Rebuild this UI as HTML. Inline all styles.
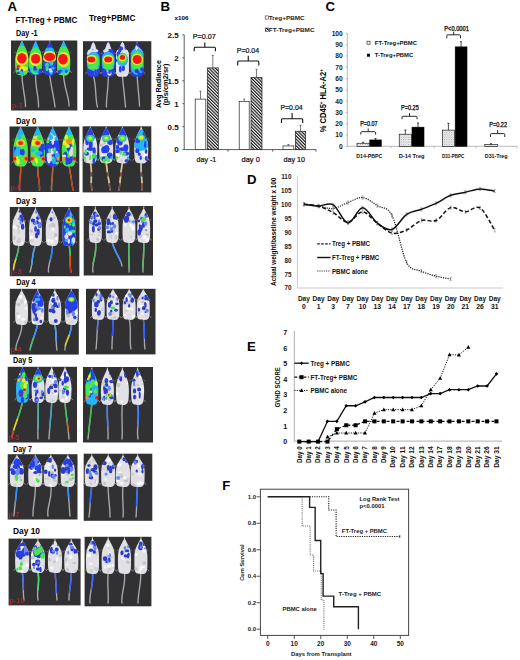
<!DOCTYPE html><html><head><meta charset="utf-8"><title>Figure</title>
<style>html,body{margin:0;padding:0;background:#fff;width:520px;height:660px;overflow:hidden}svg{display:block}text{font-family:"Liberation Sans",sans-serif}</style>
</head><body>
<svg width="520" height="660" viewBox="0 0 520 660">
<defs>
<pattern id="hatch" width="2.3" height="2.3" patternUnits="userSpaceOnUse" patternTransform="rotate(-45)"><rect width="2.3" height="2.3" fill="#fff"/><rect width="1.15" height="2.3" fill="#111"/></pattern>
<pattern id="dots" width="2.4" height="2.4" patternUnits="userSpaceOnUse"><rect width="2.4" height="2.4" fill="#f4f4f4"/><rect width="0.9" height="0.9" fill="#9a9a9a"/><rect x="1.2" y="1.2" width="0.9" height="0.9" fill="#b0b0b0"/></pattern>
<filter id="blur1" x="-50%" y="-50%" width="200%" height="200%"><feGaussianBlur stdDeviation="0.9"/></filter>
<filter id="blur2" x="-50%" y="-50%" width="200%" height="200%"><feGaussianBlur stdDeviation="1.6"/></filter>
<filter id="blur05" x="-50%" y="-50%" width="200%" height="200%"><feGaussianBlur stdDeviation="0.5"/></filter>
<filter id="blurB" x="-20%" y="-20%" width="140%" height="140%"><feGaussianBlur stdDeviation="0.35"/></filter>
</defs>
<rect width="520" height="660" fill="#fff"/>
<rect x="11.00" y="40.50" width="66.30" height="70.00" fill="#313133" stroke="none" stroke-width="1" />
<line x1="21.90" y1="41.00" x2="21.90" y2="44.50" stroke="#bdbdbd" stroke-width="1.1" />
<path d="M21.90,74.50 C22.12,86.66 25.54,97.54 25.50,106.50" stroke="#a9a9ab" stroke-width="1.35" fill="none" stroke-linecap="round"/>
<line x1="15.83" y1="70.74" x2="13.63" y2="72.74" stroke="#8a8a8a" stroke-width="0.9" />
<line x1="15.96" y1="51.70" x2="14.46" y2="52.90" stroke="#777" stroke-width="0.8" />
<line x1="27.97" y1="70.74" x2="30.17" y2="72.74" stroke="#8a8a8a" stroke-width="0.9" />
<line x1="27.84" y1="51.70" x2="29.34" y2="52.90" stroke="#777" stroke-width="0.8" />
<clipPath id="m1"><path d="M21.90,41.50 C22.23,41.50 22.54,42.24 22.89,42.86 C23.24,43.48 23.57,44.33 24.01,45.24 C24.45,46.15 25.00,47.11 25.53,48.30 C26.06,49.49 26.73,50.91 27.18,52.38 C27.63,53.85 28.02,55.55 28.24,57.14 C28.46,58.73 28.49,60.20 28.50,61.90 C28.51,63.60 28.43,65.64 28.30,67.34 C28.17,69.04 28.11,70.85 27.71,72.10 C27.30,73.35 26.61,74.25 25.86,74.82 C25.11,75.39 24.54,75.50 23.22,75.50 C21.90,75.50 19.13,75.39 17.94,74.82 C16.75,74.25 16.50,73.35 16.09,72.10 C15.68,70.85 15.63,69.04 15.50,67.34 C15.37,65.64 15.29,63.60 15.30,61.90 C15.31,60.20 15.34,58.73 15.56,57.14 C15.78,55.55 16.17,53.85 16.62,52.38 C17.07,50.91 17.74,49.49 18.27,48.30 C18.80,47.11 19.35,46.15 19.79,45.24 C20.23,44.33 20.56,43.48 20.91,42.86 C21.26,42.24 21.57,41.50 21.90,41.50 Z"/></clipPath>
<g filter="url(#blurB)"><path d="M21.90,41.50 C22.23,41.50 22.54,42.24 22.89,42.86 C23.24,43.48 23.57,44.33 24.01,45.24 C24.45,46.15 25.00,47.11 25.53,48.30 C26.06,49.49 26.73,50.91 27.18,52.38 C27.63,53.85 28.02,55.55 28.24,57.14 C28.46,58.73 28.49,60.20 28.50,61.90 C28.51,63.60 28.43,65.64 28.30,67.34 C28.17,69.04 28.11,70.85 27.71,72.10 C27.30,73.35 26.61,74.25 25.86,74.82 C25.11,75.39 24.54,75.50 23.22,75.50 C21.90,75.50 19.13,75.39 17.94,74.82 C16.75,74.25 16.50,73.35 16.09,72.10 C15.68,70.85 15.63,69.04 15.50,67.34 C15.37,65.64 15.29,63.60 15.30,61.90 C15.31,60.20 15.34,58.73 15.56,57.14 C15.78,55.55 16.17,53.85 16.62,52.38 C17.07,50.91 17.74,49.49 18.27,48.30 C18.80,47.11 19.35,46.15 19.79,45.24 C20.23,44.33 20.56,43.48 20.91,42.86 C21.26,42.24 21.57,41.50 21.90,41.50 Z" fill="#48e848"/>
<g clip-path="url(#m1)"><g filter="url(#blur05)">
<ellipse cx="21.90" cy="45.58" rx="3.96" ry="4.76" fill="#28b4f4"/>
<ellipse cx="21.90" cy="61.22" rx="8.58" ry="15.30" fill="#48e848"/>
<ellipse cx="21.90" cy="58.50" rx="6.47" ry="7.14" fill="#ecec28"/>
<ellipse cx="21.90" cy="58.16" rx="4.75" ry="5.27" fill="#f41818"/>
<ellipse cx="21.90" cy="68.70" rx="5.94" ry="2.72" fill="#ecec28"/>
<ellipse cx="18.27" cy="66.32" rx="2.31" ry="1.87" fill="#f88c18"/>
<ellipse cx="18.27" cy="66.32" rx="1.32" ry="1.19" fill="#f41818"/>
<ellipse cx="18.28" cy="73.02" rx="1.47" ry="1.29" fill="#2540f0"/>
<ellipse cx="21.85" cy="70.99" rx="1.36" ry="2.08" fill="#2540f0"/>
<ellipse cx="17.88" cy="68.84" rx="1.55" ry="1.55" fill="#2540f0"/>
<ellipse cx="21.43" cy="72.87" rx="1.64" ry="1.60" fill="#28b4f4"/>
<ellipse cx="21.98" cy="73.00" rx="0.90" ry="1.67" fill="#28b4f4"/>
<ellipse cx="23.19" cy="73.90" rx="0.81" ry="1.36" fill="#28b4f4"/>
</g></g></g>
<line x1="35.60" y1="41.00" x2="35.60" y2="44.50" stroke="#bdbdbd" stroke-width="1.1" />
<path d="M35.60,74.50 C34.93,86.85 39.21,97.90 38.50,107.00" stroke="#a9a9ab" stroke-width="1.35" fill="none" stroke-linecap="round"/>
<line x1="29.53" y1="70.74" x2="27.33" y2="72.74" stroke="#8a8a8a" stroke-width="0.9" />
<line x1="29.66" y1="51.70" x2="28.16" y2="52.90" stroke="#777" stroke-width="0.8" />
<line x1="41.67" y1="70.74" x2="43.87" y2="72.74" stroke="#8a8a8a" stroke-width="0.9" />
<line x1="41.54" y1="51.70" x2="43.04" y2="52.90" stroke="#777" stroke-width="0.8" />
<clipPath id="m2"><path d="M35.60,41.50 C35.93,41.50 36.24,42.24 36.59,42.86 C36.94,43.48 37.27,44.33 37.71,45.24 C38.15,46.15 38.70,47.11 39.23,48.30 C39.76,49.49 40.43,50.91 40.88,52.38 C41.33,53.85 41.72,55.55 41.94,57.14 C42.16,58.73 42.19,60.20 42.20,61.90 C42.21,63.60 42.13,65.64 42.00,67.34 C41.87,69.04 41.81,70.85 41.41,72.10 C41.00,73.35 40.31,74.25 39.56,74.82 C38.81,75.39 38.24,75.50 36.92,75.50 C35.60,75.50 32.83,75.39 31.64,74.82 C30.45,74.25 30.20,73.35 29.79,72.10 C29.39,70.85 29.33,69.04 29.20,67.34 C29.07,65.64 28.99,63.60 29.00,61.90 C29.01,60.20 29.04,58.73 29.26,57.14 C29.48,55.55 29.87,53.85 30.32,52.38 C30.77,50.91 31.44,49.49 31.97,48.30 C32.50,47.11 33.05,46.15 33.49,45.24 C33.93,44.33 34.26,43.48 34.61,42.86 C34.96,42.24 35.27,41.50 35.60,41.50 Z"/></clipPath>
<g filter="url(#blurB)"><path d="M35.60,41.50 C35.93,41.50 36.24,42.24 36.59,42.86 C36.94,43.48 37.27,44.33 37.71,45.24 C38.15,46.15 38.70,47.11 39.23,48.30 C39.76,49.49 40.43,50.91 40.88,52.38 C41.33,53.85 41.72,55.55 41.94,57.14 C42.16,58.73 42.19,60.20 42.20,61.90 C42.21,63.60 42.13,65.64 42.00,67.34 C41.87,69.04 41.81,70.85 41.41,72.10 C41.00,73.35 40.31,74.25 39.56,74.82 C38.81,75.39 38.24,75.50 36.92,75.50 C35.60,75.50 32.83,75.39 31.64,74.82 C30.45,74.25 30.20,73.35 29.79,72.10 C29.39,70.85 29.33,69.04 29.20,67.34 C29.07,65.64 28.99,63.60 29.00,61.90 C29.01,60.20 29.04,58.73 29.26,57.14 C29.48,55.55 29.87,53.85 30.32,52.38 C30.77,50.91 31.44,49.49 31.97,48.30 C32.50,47.11 33.05,46.15 33.49,45.24 C33.93,44.33 34.26,43.48 34.61,42.86 C34.96,42.24 35.27,41.50 35.60,41.50 Z" fill="#2540f0"/>
<g clip-path="url(#m2)"><g filter="url(#blur05)">
<ellipse cx="35.60" cy="45.58" rx="3.96" ry="4.76" fill="#28b4f4"/>
<ellipse cx="35.60" cy="61.22" rx="7.59" ry="13.60" fill="#48e848"/>
<ellipse cx="35.60" cy="59.18" rx="6.27" ry="6.80" fill="#ecec28"/>
<ellipse cx="35.60" cy="58.84" rx="4.62" ry="4.93" fill="#f41818"/>
<ellipse cx="40.11" cy="73.36" rx="0.90" ry="1.22" fill="#2540f0"/>
<ellipse cx="38.92" cy="71.56" rx="1.61" ry="1.60" fill="#2540f0"/>
<ellipse cx="36.65" cy="70.46" rx="1.51" ry="1.34" fill="#2540f0"/>
<ellipse cx="34.91" cy="68.65" rx="1.67" ry="2.78" fill="#2540f0"/>
<ellipse cx="40.05" cy="69.93" rx="1.35" ry="1.53" fill="#2540f0"/>
<ellipse cx="35.35" cy="71.47" rx="1.38" ry="1.13" fill="#28b4f4"/>
<ellipse cx="30.76" cy="69.55" rx="0.99" ry="2.11" fill="#28b4f4"/>
<ellipse cx="37.49" cy="71.09" rx="1.27" ry="1.89" fill="#28b4f4"/>
</g></g></g>
<line x1="49.60" y1="41.00" x2="49.60" y2="44.50" stroke="#bdbdbd" stroke-width="1.1" />
<path d="M49.60,74.50 C51.18,86.85 54.06,97.90 55.00,107.00" stroke="#a9a9ab" stroke-width="1.35" fill="none" stroke-linecap="round"/>
<line x1="43.53" y1="70.74" x2="41.33" y2="72.74" stroke="#8a8a8a" stroke-width="0.9" />
<line x1="43.66" y1="51.70" x2="42.16" y2="52.90" stroke="#777" stroke-width="0.8" />
<line x1="55.67" y1="70.74" x2="57.87" y2="72.74" stroke="#8a8a8a" stroke-width="0.9" />
<line x1="55.54" y1="51.70" x2="57.04" y2="52.90" stroke="#777" stroke-width="0.8" />
<clipPath id="m3"><path d="M49.60,41.50 C49.93,41.50 50.24,42.24 50.59,42.86 C50.94,43.48 51.27,44.33 51.71,45.24 C52.15,46.15 52.70,47.11 53.23,48.30 C53.76,49.49 54.43,50.91 54.88,52.38 C55.33,53.85 55.72,55.55 55.94,57.14 C56.16,58.73 56.19,60.20 56.20,61.90 C56.21,63.60 56.13,65.64 56.00,67.34 C55.87,69.04 55.81,70.85 55.41,72.10 C55.00,73.35 54.31,74.25 53.56,74.82 C52.81,75.39 52.24,75.50 50.92,75.50 C49.60,75.50 46.83,75.39 45.64,74.82 C44.45,74.25 44.20,73.35 43.79,72.10 C43.39,70.85 43.33,69.04 43.20,67.34 C43.07,65.64 42.99,63.60 43.00,61.90 C43.01,60.20 43.04,58.73 43.26,57.14 C43.48,55.55 43.87,53.85 44.32,52.38 C44.77,50.91 45.44,49.49 45.97,48.30 C46.50,47.11 47.05,46.15 47.49,45.24 C47.93,44.33 48.26,43.48 48.61,42.86 C48.96,42.24 49.27,41.50 49.60,41.50 Z"/></clipPath>
<g filter="url(#blurB)"><path d="M49.60,41.50 C49.93,41.50 50.24,42.24 50.59,42.86 C50.94,43.48 51.27,44.33 51.71,45.24 C52.15,46.15 52.70,47.11 53.23,48.30 C53.76,49.49 54.43,50.91 54.88,52.38 C55.33,53.85 55.72,55.55 55.94,57.14 C56.16,58.73 56.19,60.20 56.20,61.90 C56.21,63.60 56.13,65.64 56.00,67.34 C55.87,69.04 55.81,70.85 55.41,72.10 C55.00,73.35 54.31,74.25 53.56,74.82 C52.81,75.39 52.24,75.50 50.92,75.50 C49.60,75.50 46.83,75.39 45.64,74.82 C44.45,74.25 44.20,73.35 43.79,72.10 C43.39,70.85 43.33,69.04 43.20,67.34 C43.07,65.64 42.99,63.60 43.00,61.90 C43.01,60.20 43.04,58.73 43.26,57.14 C43.48,55.55 43.87,53.85 44.32,52.38 C44.77,50.91 45.44,49.49 45.97,48.30 C46.50,47.11 47.05,46.15 47.49,45.24 C47.93,44.33 48.26,43.48 48.61,42.86 C48.96,42.24 49.27,41.50 49.60,41.50 Z" fill="#2540f0"/>
<g clip-path="url(#m3)"><g filter="url(#blur05)">
<ellipse cx="49.60" cy="51.70" rx="5.94" ry="4.08" fill="#28b4f4"/>
<ellipse cx="49.60" cy="56.80" rx="7.26" ry="5.78" fill="#ecec28"/>
<ellipse cx="49.60" cy="56.80" rx="5.61" ry="4.08" fill="#f41818"/>
<ellipse cx="47.01" cy="68.69" rx="1.44" ry="2.41" fill="#28b4f4"/>
<ellipse cx="50.84" cy="63.32" rx="0.97" ry="2.86" fill="#28b4f4"/>
<ellipse cx="47.22" cy="65.21" rx="2.28" ry="2.14" fill="#28b4f4"/>
<ellipse cx="52.93" cy="67.92" rx="1.80" ry="1.52" fill="#28b4f4"/>
<ellipse cx="50.94" cy="72.32" rx="1.65" ry="2.68" fill="#28b4f4"/>
<ellipse cx="51.30" cy="63.30" rx="1.96" ry="2.38" fill="#28b4f4"/>
<ellipse cx="47.21" cy="68.89" rx="1.40" ry="2.17" fill="#48e848"/>
<ellipse cx="46.49" cy="64.25" rx="0.86" ry="1.25" fill="#48e848"/>
<ellipse cx="51.92" cy="63.23" rx="1.24" ry="1.23" fill="#48e848"/>
<ellipse cx="50.30" cy="69.60" rx="1.53" ry="1.33" fill="#e0e0e5"/>
<ellipse cx="51.10" cy="71.36" rx="1.62" ry="1.19" fill="#e0e0e5"/>
</g></g></g>
<line x1="63.60" y1="41.00" x2="63.60" y2="44.50" stroke="#bdbdbd" stroke-width="1.1" />
<path d="M63.60,74.50 C63.57,86.47 69.35,97.18 69.00,106.00" stroke="#a9a9ab" stroke-width="1.35" fill="none" stroke-linecap="round"/>
<line x1="57.53" y1="70.74" x2="55.33" y2="72.74" stroke="#8a8a8a" stroke-width="0.9" />
<line x1="57.66" y1="51.70" x2="56.16" y2="52.90" stroke="#777" stroke-width="0.8" />
<line x1="69.67" y1="70.74" x2="71.87" y2="72.74" stroke="#8a8a8a" stroke-width="0.9" />
<line x1="69.54" y1="51.70" x2="71.04" y2="52.90" stroke="#777" stroke-width="0.8" />
<clipPath id="m4"><path d="M63.60,41.50 C63.93,41.50 64.24,42.24 64.59,42.86 C64.94,43.48 65.27,44.33 65.71,45.24 C66.15,46.15 66.70,47.11 67.23,48.30 C67.76,49.49 68.43,50.91 68.88,52.38 C69.33,53.85 69.72,55.55 69.94,57.14 C70.16,58.73 70.19,60.20 70.20,61.90 C70.21,63.60 70.13,65.64 70.00,67.34 C69.87,69.04 69.81,70.85 69.41,72.10 C69.00,73.35 68.31,74.25 67.56,74.82 C66.81,75.39 66.24,75.50 64.92,75.50 C63.60,75.50 60.83,75.39 59.64,74.82 C58.45,74.25 58.20,73.35 57.79,72.10 C57.39,70.85 57.33,69.04 57.20,67.34 C57.07,65.64 56.99,63.60 57.00,61.90 C57.01,60.20 57.04,58.73 57.26,57.14 C57.48,55.55 57.87,53.85 58.32,52.38 C58.77,50.91 59.44,49.49 59.97,48.30 C60.50,47.11 61.05,46.15 61.49,45.24 C61.93,44.33 62.26,43.48 62.61,42.86 C62.96,42.24 63.27,41.50 63.60,41.50 Z"/></clipPath>
<g filter="url(#blurB)"><path d="M63.60,41.50 C63.93,41.50 64.24,42.24 64.59,42.86 C64.94,43.48 65.27,44.33 65.71,45.24 C66.15,46.15 66.70,47.11 67.23,48.30 C67.76,49.49 68.43,50.91 68.88,52.38 C69.33,53.85 69.72,55.55 69.94,57.14 C70.16,58.73 70.19,60.20 70.20,61.90 C70.21,63.60 70.13,65.64 70.00,67.34 C69.87,69.04 69.81,70.85 69.41,72.10 C69.00,73.35 68.31,74.25 67.56,74.82 C66.81,75.39 66.24,75.50 64.92,75.50 C63.60,75.50 60.83,75.39 59.64,74.82 C58.45,74.25 58.20,73.35 57.79,72.10 C57.39,70.85 57.33,69.04 57.20,67.34 C57.07,65.64 56.99,63.60 57.00,61.90 C57.01,60.20 57.04,58.73 57.26,57.14 C57.48,55.55 57.87,53.85 58.32,52.38 C58.77,50.91 59.44,49.49 59.97,48.30 C60.50,47.11 61.05,46.15 61.49,45.24 C61.93,44.33 62.26,43.48 62.61,42.86 C62.96,42.24 63.27,41.50 63.60,41.50 Z" fill="#28b4f4"/>
<g clip-path="url(#m4)"><g filter="url(#blur05)">
<ellipse cx="63.60" cy="46.60" rx="3.63" ry="4.76" fill="#28b4f4"/>
<ellipse cx="63.60" cy="61.90" rx="8.58" ry="15.30" fill="#48e848"/>
<ellipse cx="63.60" cy="59.52" rx="6.27" ry="7.48" fill="#ecec28"/>
<ellipse cx="62.94" cy="59.18" rx="4.75" ry="5.44" fill="#f41818"/>
<ellipse cx="63.60" cy="70.40" rx="5.28" ry="2.38" fill="#28b4f4"/>
<ellipse cx="60.99" cy="70.86" rx="1.11" ry="1.15" fill="#2540f0"/>
<ellipse cx="59.31" cy="72.18" rx="1.63" ry="2.09" fill="#2540f0"/>
<ellipse cx="66.23" cy="71.38" rx="1.25" ry="1.32" fill="#2540f0"/>
</g></g></g>
<text x="12.00" y="108.00" font-size="7.5" fill="#d83030" opacity="0.85">p-1</text>
<rect x="83.00" y="41.20" width="68.30" height="68.80" fill="#313133" stroke="none" stroke-width="1" />
<line x1="93.30" y1="41.70" x2="93.30" y2="45.50" stroke="#bdbdbd" stroke-width="1.1" />
<path d="M93.30,75.50 C96.84,87.47 94.92,98.18 97.50,107.00" stroke="#a9a9ab" stroke-width="1.35" fill="none" stroke-linecap="round"/>
<line x1="87.41" y1="71.74" x2="85.21" y2="73.74" stroke="#8a8a8a" stroke-width="0.9" />
<line x1="87.54" y1="52.70" x2="86.04" y2="53.90" stroke="#777" stroke-width="0.8" />
<line x1="99.19" y1="71.74" x2="101.39" y2="73.74" stroke="#8a8a8a" stroke-width="0.9" />
<line x1="99.06" y1="52.70" x2="100.56" y2="53.90" stroke="#777" stroke-width="0.8" />
<clipPath id="m5"><path d="M93.30,42.50 C93.73,42.50 94.21,43.18 94.58,43.86 C94.95,44.54 95.22,45.73 95.54,46.58 C95.86,47.43 95.97,48.28 96.50,48.96 C97.03,49.64 98.23,49.81 98.74,50.66 C99.25,51.51 99.41,52.59 99.57,54.06 C99.73,55.53 99.68,57.01 99.70,59.50 C99.72,61.99 99.76,66.64 99.70,69.02 C99.64,71.40 99.68,72.59 99.32,73.78 C98.95,74.97 98.31,75.71 97.52,76.16 C96.73,76.61 95.99,76.50 94.58,76.50 C93.17,76.50 90.29,76.61 89.08,76.16 C87.86,75.71 87.65,74.97 87.28,73.78 C86.92,72.59 86.96,71.40 86.90,69.02 C86.84,66.64 86.88,61.99 86.90,59.50 C86.92,57.01 86.87,55.53 87.03,54.06 C87.19,52.59 87.35,51.51 87.86,50.66 C88.37,49.81 89.57,49.64 90.10,48.96 C90.63,48.28 90.74,47.43 91.06,46.58 C91.38,45.73 91.65,44.54 92.02,43.86 C92.39,43.18 92.87,42.50 93.30,42.50 Z"/></clipPath>
<g filter="url(#blurB)"><path d="M93.30,42.50 C93.73,42.50 94.21,43.18 94.58,43.86 C94.95,44.54 95.22,45.73 95.54,46.58 C95.86,47.43 95.97,48.28 96.50,48.96 C97.03,49.64 98.23,49.81 98.74,50.66 C99.25,51.51 99.41,52.59 99.57,54.06 C99.73,55.53 99.68,57.01 99.70,59.50 C99.72,61.99 99.76,66.64 99.70,69.02 C99.64,71.40 99.68,72.59 99.32,73.78 C98.95,74.97 98.31,75.71 97.52,76.16 C96.73,76.61 95.99,76.50 94.58,76.50 C93.17,76.50 90.29,76.61 89.08,76.16 C87.86,75.71 87.65,74.97 87.28,73.78 C86.92,72.59 86.96,71.40 86.90,69.02 C86.84,66.64 86.88,61.99 86.90,59.50 C86.92,57.01 86.87,55.53 87.03,54.06 C87.19,52.59 87.35,51.51 87.86,50.66 C88.37,49.81 89.57,49.64 90.10,48.96 C90.63,48.28 90.74,47.43 91.06,46.58 C91.38,45.73 91.65,44.54 92.02,43.86 C92.39,43.18 92.87,42.50 93.30,42.50 Z" fill="#2540f0"/>
<g clip-path="url(#m5)"><g filter="url(#blur05)">
<ellipse cx="93.30" cy="45.90" rx="5.12" ry="3.40" fill="#e0e0e5"/>
<ellipse cx="94.48" cy="67.34" rx="2.43" ry="3.84" fill="#e0e0e5"/>
<ellipse cx="95.60" cy="72.56" rx="1.20" ry="2.67" fill="#e0e0e5"/>
<ellipse cx="97.56" cy="64.66" rx="2.60" ry="1.81" fill="#e0e0e5"/>
<ellipse cx="93.00" cy="53.03" rx="2.03" ry="2.94" fill="#e0e0e5"/>
<ellipse cx="88.63" cy="52.16" rx="1.60" ry="3.77" fill="#e0e0e5"/>
<ellipse cx="95.85" cy="50.51" rx="2.44" ry="1.87" fill="#e0e0e5"/>
<ellipse cx="94.43" cy="49.56" rx="1.15" ry="3.66" fill="#e0e0e5"/>
<ellipse cx="90.51" cy="52.13" rx="2.74" ry="3.67" fill="#e0e0e5"/>
<ellipse cx="93.30" cy="61.20" rx="7.04" ry="9.52" fill="#28b4f4"/>
<ellipse cx="93.30" cy="61.20" rx="6.08" ry="6.80" fill="#48e848"/>
<ellipse cx="91.38" cy="59.50" rx="5.25" ry="4.42" fill="#ecec28"/>
<ellipse cx="91.38" cy="59.50" rx="3.97" ry="3.06" fill="#f41818"/>
<ellipse cx="93.30" cy="67.66" rx="5.76" ry="1.70" fill="#48e848"/>
<ellipse cx="96.12" cy="74.33" rx="1.35" ry="1.52" fill="#2540f0"/>
<ellipse cx="88.50" cy="73.30" rx="1.34" ry="2.37" fill="#2540f0"/>
<ellipse cx="92.08" cy="74.00" rx="1.11" ry="2.45" fill="#2540f0"/>
<ellipse cx="95.51" cy="71.69" rx="1.41" ry="2.24" fill="#2540f0"/>
<ellipse cx="90.35" cy="72.60" rx="1.72" ry="1.53" fill="#2540f0"/>
</g></g></g>
<line x1="108.20" y1="41.70" x2="108.20" y2="45.50" stroke="#bdbdbd" stroke-width="1.1" />
<path d="M108.20,75.50 C108.74,87.47 105.96,98.18 106.50,107.00" stroke="#a9a9ab" stroke-width="1.35" fill="none" stroke-linecap="round"/>
<line x1="102.31" y1="71.74" x2="100.11" y2="73.74" stroke="#8a8a8a" stroke-width="0.9" />
<line x1="102.44" y1="52.70" x2="100.94" y2="53.90" stroke="#777" stroke-width="0.8" />
<line x1="114.09" y1="71.74" x2="116.29" y2="73.74" stroke="#8a8a8a" stroke-width="0.9" />
<line x1="113.96" y1="52.70" x2="115.46" y2="53.90" stroke="#777" stroke-width="0.8" />
<clipPath id="m6"><path d="M108.20,42.50 C108.63,42.50 109.11,43.18 109.48,43.86 C109.85,44.54 110.12,45.73 110.44,46.58 C110.76,47.43 110.87,48.28 111.40,48.96 C111.93,49.64 113.13,49.81 113.64,50.66 C114.15,51.51 114.31,52.59 114.47,54.06 C114.63,55.53 114.58,57.01 114.60,59.50 C114.62,61.99 114.66,66.64 114.60,69.02 C114.54,71.40 114.58,72.59 114.22,73.78 C113.85,74.97 113.21,75.71 112.42,76.16 C111.63,76.61 110.89,76.50 109.48,76.50 C108.07,76.50 105.19,76.61 103.98,76.16 C102.76,75.71 102.55,74.97 102.18,73.78 C101.82,72.59 101.86,71.40 101.80,69.02 C101.74,66.64 101.78,61.99 101.80,59.50 C101.82,57.01 101.77,55.53 101.93,54.06 C102.09,52.59 102.25,51.51 102.76,50.66 C103.27,49.81 104.47,49.64 105.00,48.96 C105.53,48.28 105.64,47.43 105.96,46.58 C106.28,45.73 106.55,44.54 106.92,43.86 C107.29,43.18 107.77,42.50 108.20,42.50 Z"/></clipPath>
<g filter="url(#blurB)"><path d="M108.20,42.50 C108.63,42.50 109.11,43.18 109.48,43.86 C109.85,44.54 110.12,45.73 110.44,46.58 C110.76,47.43 110.87,48.28 111.40,48.96 C111.93,49.64 113.13,49.81 113.64,50.66 C114.15,51.51 114.31,52.59 114.47,54.06 C114.63,55.53 114.58,57.01 114.60,59.50 C114.62,61.99 114.66,66.64 114.60,69.02 C114.54,71.40 114.58,72.59 114.22,73.78 C113.85,74.97 113.21,75.71 112.42,76.16 C111.63,76.61 110.89,76.50 109.48,76.50 C108.07,76.50 105.19,76.61 103.98,76.16 C102.76,75.71 102.55,74.97 102.18,73.78 C101.82,72.59 101.86,71.40 101.80,69.02 C101.74,66.64 101.78,61.99 101.80,59.50 C101.82,57.01 101.77,55.53 101.93,54.06 C102.09,52.59 102.25,51.51 102.76,50.66 C103.27,49.81 104.47,49.64 105.00,48.96 C105.53,48.28 105.64,47.43 105.96,46.58 C106.28,45.73 106.55,44.54 106.92,43.86 C107.29,43.18 107.77,42.50 108.20,42.50 Z" fill="#2540f0"/>
<g clip-path="url(#m6)"><g filter="url(#blur05)">
<ellipse cx="108.20" cy="45.90" rx="5.12" ry="3.40" fill="#e0e0e5"/>
<ellipse cx="106.51" cy="50.26" rx="2.20" ry="1.71" fill="#e0e0e5"/>
<ellipse cx="108.54" cy="56.47" rx="1.25" ry="2.77" fill="#e0e0e5"/>
<ellipse cx="103.76" cy="58.43" rx="1.26" ry="1.75" fill="#e0e0e5"/>
<ellipse cx="107.48" cy="69.80" rx="1.35" ry="2.08" fill="#e0e0e5"/>
<ellipse cx="109.42" cy="73.29" rx="2.08" ry="2.50" fill="#e0e0e5"/>
<ellipse cx="112.77" cy="47.25" rx="2.54" ry="2.24" fill="#e0e0e5"/>
<ellipse cx="104.78" cy="49.30" rx="1.65" ry="3.53" fill="#e0e0e5"/>
<ellipse cx="105.13" cy="62.71" rx="2.18" ry="2.44" fill="#e0e0e5"/>
<ellipse cx="108.20" cy="61.20" rx="7.04" ry="9.52" fill="#28b4f4"/>
<ellipse cx="108.20" cy="61.20" rx="6.08" ry="6.80" fill="#48e848"/>
<ellipse cx="108.20" cy="59.50" rx="5.25" ry="4.42" fill="#ecec28"/>
<ellipse cx="108.20" cy="59.50" rx="3.97" ry="3.06" fill="#f41818"/>
<ellipse cx="108.20" cy="67.66" rx="5.76" ry="1.70" fill="#48e848"/>
<ellipse cx="105.58" cy="75.24" rx="0.95" ry="2.28" fill="#2540f0"/>
<ellipse cx="104.22" cy="70.62" rx="1.93" ry="1.43" fill="#2540f0"/>
<ellipse cx="109.56" cy="71.99" rx="1.32" ry="1.92" fill="#2540f0"/>
<ellipse cx="105.25" cy="74.39" rx="0.91" ry="1.47" fill="#2540f0"/>
<ellipse cx="103.59" cy="70.74" rx="1.27" ry="2.62" fill="#2540f0"/>
</g></g></g>
<line x1="122.40" y1="41.70" x2="122.40" y2="45.50" stroke="#bdbdbd" stroke-width="1.1" />
<path d="M122.40,75.50 C123.35,87.47 124.93,98.18 125.50,107.00" stroke="#a9a9ab" stroke-width="1.35" fill="none" stroke-linecap="round"/>
<line x1="116.51" y1="71.74" x2="114.31" y2="73.74" stroke="#8a8a8a" stroke-width="0.9" />
<line x1="116.64" y1="52.70" x2="115.14" y2="53.90" stroke="#777" stroke-width="0.8" />
<line x1="128.29" y1="71.74" x2="130.49" y2="73.74" stroke="#8a8a8a" stroke-width="0.9" />
<line x1="128.16" y1="52.70" x2="129.66" y2="53.90" stroke="#777" stroke-width="0.8" />
<clipPath id="m7"><path d="M122.40,42.50 C122.83,42.50 123.31,43.18 123.68,43.86 C124.05,44.54 124.32,45.73 124.64,46.58 C124.96,47.43 125.07,48.28 125.60,48.96 C126.13,49.64 127.33,49.81 127.84,50.66 C128.35,51.51 128.51,52.59 128.67,54.06 C128.83,55.53 128.78,57.01 128.80,59.50 C128.82,61.99 128.86,66.64 128.80,69.02 C128.74,71.40 128.78,72.59 128.42,73.78 C128.05,74.97 127.41,75.71 126.62,76.16 C125.83,76.61 125.09,76.50 123.68,76.50 C122.27,76.50 119.39,76.61 118.18,76.16 C116.96,75.71 116.75,74.97 116.38,73.78 C116.02,72.59 116.06,71.40 116.00,69.02 C115.94,66.64 115.98,61.99 116.00,59.50 C116.02,57.01 115.97,55.53 116.13,54.06 C116.29,52.59 116.45,51.51 116.96,50.66 C117.47,49.81 118.67,49.64 119.20,48.96 C119.73,48.28 119.84,47.43 120.16,46.58 C120.48,45.73 120.75,44.54 121.12,43.86 C121.49,43.18 121.97,42.50 122.40,42.50 Z"/></clipPath>
<g filter="url(#blurB)"><path d="M122.40,42.50 C122.83,42.50 123.31,43.18 123.68,43.86 C124.05,44.54 124.32,45.73 124.64,46.58 C124.96,47.43 125.07,48.28 125.60,48.96 C126.13,49.64 127.33,49.81 127.84,50.66 C128.35,51.51 128.51,52.59 128.67,54.06 C128.83,55.53 128.78,57.01 128.80,59.50 C128.82,61.99 128.86,66.64 128.80,69.02 C128.74,71.40 128.78,72.59 128.42,73.78 C128.05,74.97 127.41,75.71 126.62,76.16 C125.83,76.61 125.09,76.50 123.68,76.50 C122.27,76.50 119.39,76.61 118.18,76.16 C116.96,75.71 116.75,74.97 116.38,73.78 C116.02,72.59 116.06,71.40 116.00,69.02 C115.94,66.64 115.98,61.99 116.00,59.50 C116.02,57.01 115.97,55.53 116.13,54.06 C116.29,52.59 116.45,51.51 116.96,50.66 C117.47,49.81 118.67,49.64 119.20,48.96 C119.73,48.28 119.84,47.43 120.16,46.58 C120.48,45.73 120.75,44.54 121.12,43.86 C121.49,43.18 121.97,42.50 122.40,42.50 Z" fill="#e0e0e5"/>
<g clip-path="url(#m7)"><g filter="url(#blur05)">
<ellipse cx="127.30" cy="47.48" rx="1.89" ry="1.68" fill="#d0d0d0"/>
<ellipse cx="121.45" cy="72.47" rx="1.16" ry="2.37" fill="#fafafa"/>
<ellipse cx="125.78" cy="73.80" rx="1.52" ry="1.02" fill="#fafafa"/>
<ellipse cx="121.76" cy="52.76" rx="1.16" ry="1.68" fill="#d0d0d0"/>
<ellipse cx="122.28" cy="60.32" rx="1.12" ry="1.07" fill="#fafafa"/>
<ellipse cx="126.98" cy="62.54" rx="1.82" ry="2.22" fill="#f6f6f6"/>
<ellipse cx="118.74" cy="60.94" rx="1.64" ry="1.26" fill="#c4c4c4"/>
<ellipse cx="120.58" cy="68.66" rx="1.50" ry="1.79" fill="#fafafa"/>
<ellipse cx="123.41" cy="51.73" rx="1.22" ry="2.00" fill="#fafafa"/>
<ellipse cx="121.96" cy="50.86" rx="1.12" ry="1.26" fill="#f6f6f6"/>
<ellipse cx="122.40" cy="59.50" rx="8.32" ry="20.40" fill="#e0e0e5"/>
<ellipse cx="122.04" cy="56.69" rx="1.24" ry="3.29" fill="#2540f0"/>
<ellipse cx="117.66" cy="60.43" rx="2.34" ry="1.56" fill="#2540f0"/>
<ellipse cx="122.92" cy="63.72" rx="1.10" ry="2.21" fill="#2540f0"/>
<ellipse cx="124.35" cy="58.96" rx="2.09" ry="1.72" fill="#2540f0"/>
<ellipse cx="119.88" cy="49.11" rx="1.77" ry="3.41" fill="#2540f0"/>
<ellipse cx="123.27" cy="68.27" rx="1.59" ry="3.02" fill="#2540f0"/>
<ellipse cx="118.58" cy="54.32" rx="2.02" ry="2.98" fill="#2540f0"/>
<ellipse cx="121.65" cy="48.43" rx="1.42" ry="1.84" fill="#2540f0"/>
<ellipse cx="120.30" cy="69.29" rx="1.33" ry="3.33" fill="#2540f0"/>
<ellipse cx="126.04" cy="47.48" rx="1.59" ry="2.46" fill="#2540f0"/>
<ellipse cx="122.40" cy="59.50" rx="5.76" ry="6.80" fill="#28b4f4"/>
<ellipse cx="122.40" cy="58.48" rx="4.80" ry="4.76" fill="#48e848"/>
<ellipse cx="122.40" cy="57.80" rx="3.84" ry="3.40" fill="#ecec28"/>
<ellipse cx="122.40" cy="57.46" rx="2.69" ry="2.38" fill="#f41818"/>
</g></g></g>
<line x1="137.20" y1="41.70" x2="137.20" y2="45.50" stroke="#bdbdbd" stroke-width="1.1" />
<path d="M137.20,75.50 C137.59,87.09 139.33,97.46 139.50,106.00" stroke="#a9a9ab" stroke-width="1.35" fill="none" stroke-linecap="round"/>
<line x1="131.31" y1="71.74" x2="129.11" y2="73.74" stroke="#8a8a8a" stroke-width="0.9" />
<line x1="131.44" y1="52.70" x2="129.94" y2="53.90" stroke="#777" stroke-width="0.8" />
<line x1="143.09" y1="71.74" x2="145.29" y2="73.74" stroke="#8a8a8a" stroke-width="0.9" />
<line x1="142.96" y1="52.70" x2="144.46" y2="53.90" stroke="#777" stroke-width="0.8" />
<clipPath id="m8"><path d="M137.20,42.50 C137.63,42.50 138.11,43.18 138.48,43.86 C138.85,44.54 139.12,45.73 139.44,46.58 C139.76,47.43 139.87,48.28 140.40,48.96 C140.93,49.64 142.13,49.81 142.64,50.66 C143.15,51.51 143.31,52.59 143.47,54.06 C143.63,55.53 143.58,57.01 143.60,59.50 C143.62,61.99 143.66,66.64 143.60,69.02 C143.54,71.40 143.58,72.59 143.22,73.78 C142.85,74.97 142.21,75.71 141.42,76.16 C140.63,76.61 139.89,76.50 138.48,76.50 C137.07,76.50 134.19,76.61 132.98,76.16 C131.76,75.71 131.55,74.97 131.18,73.78 C130.82,72.59 130.86,71.40 130.80,69.02 C130.74,66.64 130.78,61.99 130.80,59.50 C130.82,57.01 130.77,55.53 130.93,54.06 C131.09,52.59 131.25,51.51 131.76,50.66 C132.27,49.81 133.47,49.64 134.00,48.96 C134.53,48.28 134.64,47.43 134.96,46.58 C135.28,45.73 135.55,44.54 135.92,43.86 C136.29,43.18 136.77,42.50 137.20,42.50 Z"/></clipPath>
<g filter="url(#blurB)"><path d="M137.20,42.50 C137.63,42.50 138.11,43.18 138.48,43.86 C138.85,44.54 139.12,45.73 139.44,46.58 C139.76,47.43 139.87,48.28 140.40,48.96 C140.93,49.64 142.13,49.81 142.64,50.66 C143.15,51.51 143.31,52.59 143.47,54.06 C143.63,55.53 143.58,57.01 143.60,59.50 C143.62,61.99 143.66,66.64 143.60,69.02 C143.54,71.40 143.58,72.59 143.22,73.78 C142.85,74.97 142.21,75.71 141.42,76.16 C140.63,76.61 139.89,76.50 138.48,76.50 C137.07,76.50 134.19,76.61 132.98,76.16 C131.76,75.71 131.55,74.97 131.18,73.78 C130.82,72.59 130.86,71.40 130.80,69.02 C130.74,66.64 130.78,61.99 130.80,59.50 C130.82,57.01 130.77,55.53 130.93,54.06 C131.09,52.59 131.25,51.51 131.76,50.66 C132.27,49.81 133.47,49.64 134.00,48.96 C134.53,48.28 134.64,47.43 134.96,46.58 C135.28,45.73 135.55,44.54 135.92,43.86 C136.29,43.18 136.77,42.50 137.20,42.50 Z" fill="#2540f0"/>
<g clip-path="url(#m8)"><g filter="url(#blur05)">
<ellipse cx="137.20" cy="61.20" rx="8.32" ry="13.60" fill="#28b4f4"/>
<ellipse cx="137.20" cy="61.20" rx="6.40" ry="10.20" fill="#48e848"/>
<ellipse cx="137.20" cy="59.50" rx="5.76" ry="5.78" fill="#ecec28"/>
<ellipse cx="137.20" cy="59.50" rx="4.61" ry="4.42" fill="#f41818"/>
<ellipse cx="137.89" cy="71.79" rx="1.46" ry="1.42" fill="#2540f0"/>
<ellipse cx="140.21" cy="74.34" rx="1.54" ry="1.35" fill="#2540f0"/>
<ellipse cx="137.40" cy="71.14" rx="1.09" ry="2.70" fill="#2540f0"/>
<ellipse cx="141.97" cy="69.31" rx="1.78" ry="2.10" fill="#2540f0"/>
<ellipse cx="136.06" cy="70.85" rx="1.57" ry="1.85" fill="#2540f0"/>
<ellipse cx="138.98" cy="73.30" rx="0.96" ry="2.39" fill="#2540f0"/>
<ellipse cx="141.37" cy="48.54" rx="1.98" ry="1.71" fill="#e0e0e5"/>
<ellipse cx="137.03" cy="47.76" rx="1.62" ry="1.37" fill="#e0e0e5"/>
<ellipse cx="136.40" cy="48.05" rx="0.97" ry="2.82" fill="#e0e0e5"/>
</g></g></g>
<rect x="9.50" y="126.50" width="69.80" height="65.50" fill="#313133" stroke="none" stroke-width="1" />
<line x1="20.60" y1="127.00" x2="20.60" y2="130.50" stroke="#bdbdbd" stroke-width="1.1" />
<path d="M20.60,165.50 C21.32,174.81 18.85,183.14 19.50,190.00" stroke="#a9a9ab" stroke-width="1.3" fill="none" stroke-linecap="round"/>
<polyline points="20.60,165.50 20.72,167.81 20.73,170.07 20.64,172.29 20.49,174.47 20.30,176.59 20.08,178.67" fill="none" stroke="#c8501c" stroke-width="1.5" stroke-linecap="round"/>
<polyline points="20.08,178.67 19.86,180.69 19.66,182.67 19.50,184.59 19.41,186.45 19.40,188.25 19.50,190.00" fill="none" stroke="#b84018" stroke-width="1.5" stroke-linecap="round"/>
<line x1="13.93" y1="161.04" x2="11.73" y2="163.04" stroke="#8a8a8a" stroke-width="0.9" />
<line x1="14.08" y1="139.20" x2="12.58" y2="140.40" stroke="#777" stroke-width="0.8" />
<line x1="27.27" y1="161.04" x2="29.47" y2="163.04" stroke="#8a8a8a" stroke-width="0.9" />
<line x1="27.12" y1="139.20" x2="28.62" y2="140.40" stroke="#777" stroke-width="0.8" />
<clipPath id="m9"><path d="M20.60,127.50 C20.96,127.50 21.30,128.34 21.69,129.06 C22.07,129.78 22.44,130.75 22.92,131.79 C23.40,132.83 24.01,133.94 24.59,135.30 C25.17,136.67 25.90,138.29 26.40,139.98 C26.90,141.67 27.32,143.62 27.56,145.44 C27.80,147.26 27.84,148.95 27.85,150.90 C27.86,152.85 27.78,155.19 27.63,157.14 C27.49,159.09 27.43,161.17 26.98,162.60 C26.53,164.03 25.77,165.07 24.95,165.72 C24.13,166.37 23.50,166.50 22.05,166.50 C20.60,166.50 17.55,166.37 16.25,165.72 C14.95,165.07 14.67,164.03 14.22,162.60 C13.77,161.17 13.71,159.09 13.57,157.14 C13.42,155.19 13.34,152.85 13.35,150.90 C13.36,148.95 13.40,147.26 13.64,145.44 C13.88,143.62 14.30,141.67 14.80,139.98 C15.30,138.29 16.03,136.67 16.61,135.30 C17.19,133.94 17.80,132.83 18.28,131.79 C18.76,130.75 19.13,129.78 19.51,129.06 C19.90,128.34 20.24,127.50 20.60,127.50 Z"/></clipPath>
<g filter="url(#blurB)"><path d="M20.60,127.50 C20.96,127.50 21.30,128.34 21.69,129.06 C22.07,129.78 22.44,130.75 22.92,131.79 C23.40,132.83 24.01,133.94 24.59,135.30 C25.17,136.67 25.90,138.29 26.40,139.98 C26.90,141.67 27.32,143.62 27.56,145.44 C27.80,147.26 27.84,148.95 27.85,150.90 C27.86,152.85 27.78,155.19 27.63,157.14 C27.49,159.09 27.43,161.17 26.98,162.60 C26.53,164.03 25.77,165.07 24.95,165.72 C24.13,166.37 23.50,166.50 22.05,166.50 C20.60,166.50 17.55,166.37 16.25,165.72 C14.95,165.07 14.67,164.03 14.22,162.60 C13.77,161.17 13.71,159.09 13.57,157.14 C13.42,155.19 13.34,152.85 13.35,150.90 C13.36,148.95 13.40,147.26 13.64,145.44 C13.88,143.62 14.30,141.67 14.80,139.98 C15.30,138.29 16.03,136.67 16.61,135.30 C17.19,133.94 17.80,132.83 18.28,131.79 C18.76,130.75 19.13,129.78 19.51,129.06 C19.90,128.34 20.24,127.50 20.60,127.50 Z" fill="#48e848"/>
<g clip-path="url(#m9)"><g filter="url(#blur05)">
<ellipse cx="20.60" cy="131.40" rx="3.62" ry="3.90" fill="#28b4f4"/>
<ellipse cx="20.08" cy="140.99" rx="2.10" ry="2.14" fill="#ecec28"/>
<ellipse cx="20.69" cy="141.37" rx="1.15" ry="2.23" fill="#ecec28"/>
<ellipse cx="22.01" cy="144.17" rx="1.03" ry="1.82" fill="#ecec28"/>
<ellipse cx="19.09" cy="137.02" rx="1.65" ry="2.41" fill="#28b4f4"/>
<ellipse cx="19.62" cy="139.10" rx="1.42" ry="2.83" fill="#28b4f4"/>
<ellipse cx="15.27" cy="134.93" rx="1.53" ry="1.72" fill="#28b4f4"/>
<ellipse cx="20.60" cy="143.10" rx="4.35" ry="3.51" fill="#ecec28"/>
<ellipse cx="20.60" cy="143.10" rx="3.26" ry="2.73" fill="#f88c18"/>
<ellipse cx="20.60" cy="143.10" rx="2.17" ry="1.95" fill="#f41818"/>
<ellipse cx="20.32" cy="152.64" rx="2.27" ry="1.94" fill="#2540f0"/>
<ellipse cx="15.28" cy="150.22" rx="1.63" ry="3.63" fill="#2540f0"/>
<ellipse cx="22.67" cy="152.16" rx="2.09" ry="3.25" fill="#2540f0"/>
<ellipse cx="16.74" cy="150.78" rx="1.44" ry="3.87" fill="#2540f0"/>
<ellipse cx="15.80" cy="154.03" rx="1.30" ry="3.32" fill="#2540f0"/>
<ellipse cx="18.83" cy="150.47" rx="2.56" ry="1.63" fill="#2540f0"/>
<ellipse cx="16.32" cy="153.03" rx="2.00" ry="3.52" fill="#28b4f4"/>
<ellipse cx="18.11" cy="149.19" rx="2.12" ry="2.88" fill="#28b4f4"/>
<ellipse cx="18.46" cy="152.87" rx="1.62" ry="3.15" fill="#28b4f4"/>
<ellipse cx="14.80" cy="158.70" rx="2.75" ry="2.73" fill="#f88c18"/>
<ellipse cx="14.80" cy="158.70" rx="1.74" ry="1.75" fill="#f41818"/>
<ellipse cx="26.40" cy="158.70" rx="2.75" ry="2.73" fill="#f88c18"/>
<ellipse cx="26.40" cy="158.70" rx="1.74" ry="1.75" fill="#f41818"/>
<ellipse cx="17.98" cy="161.73" rx="1.79" ry="2.90" fill="#ecec28"/>
<ellipse cx="17.18" cy="157.65" rx="1.10" ry="1.67" fill="#ecec28"/>
</g></g></g>
<line x1="37.70" y1="127.00" x2="37.70" y2="130.50" stroke="#bdbdbd" stroke-width="1.1" />
<path d="M37.70,165.50 C37.31,174.81 39.92,183.14 39.50,190.00" stroke="#a9a9ab" stroke-width="1.3" fill="none" stroke-linecap="round"/>
<polyline points="37.70,165.50 37.66,167.81 37.73,170.07 37.87,172.29 38.09,174.47 38.34,176.59 38.61,178.67" fill="none" stroke="#c8501c" stroke-width="1.5" stroke-linecap="round"/>
<polyline points="38.61,178.67 38.88,180.69 39.13,182.67 39.34,184.59 39.49,186.45 39.55,188.25 39.50,190.00" fill="none" stroke="#b84018" stroke-width="1.5" stroke-linecap="round"/>
<line x1="31.03" y1="161.04" x2="28.83" y2="163.04" stroke="#8a8a8a" stroke-width="0.9" />
<line x1="31.18" y1="139.20" x2="29.68" y2="140.40" stroke="#777" stroke-width="0.8" />
<line x1="44.37" y1="161.04" x2="46.57" y2="163.04" stroke="#8a8a8a" stroke-width="0.9" />
<line x1="44.23" y1="139.20" x2="45.73" y2="140.40" stroke="#777" stroke-width="0.8" />
<clipPath id="m10"><path d="M37.70,127.50 C38.06,127.50 38.40,128.34 38.79,129.06 C39.17,129.78 39.54,130.75 40.02,131.79 C40.50,132.83 41.11,133.94 41.69,135.30 C42.27,136.67 43.00,138.29 43.50,139.98 C44.00,141.67 44.42,143.62 44.66,145.44 C44.90,147.26 44.94,148.95 44.95,150.90 C44.96,152.85 44.88,155.19 44.73,157.14 C44.59,159.09 44.53,161.17 44.08,162.60 C43.63,164.03 42.87,165.07 42.05,165.72 C41.23,166.37 40.60,166.50 39.15,166.50 C37.70,166.50 34.66,166.37 33.35,165.72 C32.05,165.07 31.77,164.03 31.32,162.60 C30.87,161.17 30.81,159.09 30.67,157.14 C30.52,155.19 30.44,152.85 30.45,150.90 C30.46,148.95 30.50,147.26 30.74,145.44 C30.98,143.62 31.40,141.67 31.90,139.98 C32.40,138.29 33.13,136.67 33.71,135.30 C34.29,133.94 34.90,132.83 35.38,131.79 C35.86,130.75 36.23,129.78 36.61,129.06 C37.00,128.34 37.34,127.50 37.70,127.50 Z"/></clipPath>
<g filter="url(#blurB)"><path d="M37.70,127.50 C38.06,127.50 38.40,128.34 38.79,129.06 C39.17,129.78 39.54,130.75 40.02,131.79 C40.50,132.83 41.11,133.94 41.69,135.30 C42.27,136.67 43.00,138.29 43.50,139.98 C44.00,141.67 44.42,143.62 44.66,145.44 C44.90,147.26 44.94,148.95 44.95,150.90 C44.96,152.85 44.88,155.19 44.73,157.14 C44.59,159.09 44.53,161.17 44.08,162.60 C43.63,164.03 42.87,165.07 42.05,165.72 C41.23,166.37 40.60,166.50 39.15,166.50 C37.70,166.50 34.66,166.37 33.35,165.72 C32.05,165.07 31.77,164.03 31.32,162.60 C30.87,161.17 30.81,159.09 30.67,157.14 C30.52,155.19 30.44,152.85 30.45,150.90 C30.46,148.95 30.50,147.26 30.74,145.44 C30.98,143.62 31.40,141.67 31.90,139.98 C32.40,138.29 33.13,136.67 33.71,135.30 C34.29,133.94 34.90,132.83 35.38,131.79 C35.86,130.75 36.23,129.78 36.61,129.06 C37.00,128.34 37.34,127.50 37.70,127.50 Z" fill="#48e848"/>
<g clip-path="url(#m10)"><g filter="url(#blur05)">
<ellipse cx="37.70" cy="131.40" rx="3.62" ry="3.90" fill="#28b4f4"/>
<ellipse cx="33.42" cy="142.94" rx="1.75" ry="3.08" fill="#ecec28"/>
<ellipse cx="35.21" cy="136.84" rx="1.85" ry="2.52" fill="#ecec28"/>
<ellipse cx="35.56" cy="142.69" rx="1.42" ry="2.76" fill="#ecec28"/>
<ellipse cx="39.63" cy="140.58" rx="1.80" ry="2.55" fill="#28b4f4"/>
<ellipse cx="36.54" cy="143.06" rx="1.47" ry="1.74" fill="#28b4f4"/>
<ellipse cx="35.10" cy="134.45" rx="1.52" ry="2.01" fill="#28b4f4"/>
<ellipse cx="37.70" cy="143.10" rx="4.35" ry="3.51" fill="#ecec28"/>
<ellipse cx="37.70" cy="143.10" rx="3.26" ry="2.73" fill="#f88c18"/>
<ellipse cx="37.70" cy="143.10" rx="2.17" ry="1.95" fill="#f41818"/>
<ellipse cx="42.76" cy="147.10" rx="2.38" ry="1.98" fill="#2540f0"/>
<ellipse cx="42.99" cy="147.14" rx="2.62" ry="3.30" fill="#2540f0"/>
<ellipse cx="41.59" cy="155.58" rx="1.57" ry="2.43" fill="#2540f0"/>
<ellipse cx="39.96" cy="149.41" rx="1.61" ry="2.16" fill="#2540f0"/>
<ellipse cx="41.59" cy="154.50" rx="2.49" ry="2.14" fill="#2540f0"/>
<ellipse cx="42.32" cy="151.39" rx="1.55" ry="2.73" fill="#2540f0"/>
<ellipse cx="37.94" cy="153.92" rx="2.45" ry="2.05" fill="#28b4f4"/>
<ellipse cx="40.59" cy="153.04" rx="2.01" ry="1.65" fill="#28b4f4"/>
<ellipse cx="32.56" cy="150.30" rx="2.13" ry="1.97" fill="#28b4f4"/>
<ellipse cx="31.90" cy="158.70" rx="2.75" ry="2.73" fill="#f88c18"/>
<ellipse cx="31.90" cy="158.70" rx="1.74" ry="1.75" fill="#f41818"/>
<ellipse cx="43.50" cy="158.70" rx="2.75" ry="2.73" fill="#f88c18"/>
<ellipse cx="43.50" cy="158.70" rx="1.74" ry="1.75" fill="#f41818"/>
<ellipse cx="36.19" cy="159.89" rx="1.45" ry="2.11" fill="#ecec28"/>
<ellipse cx="36.72" cy="161.48" rx="1.24" ry="2.48" fill="#ecec28"/>
</g></g></g>
<line x1="52.70" y1="127.00" x2="52.70" y2="130.50" stroke="#bdbdbd" stroke-width="1.1" />
<path d="M52.70,165.50 C52.94,174.81 51.24,183.14 51.50,190.00" stroke="#a9a9ab" stroke-width="1.3" fill="none" stroke-linecap="round"/>
<polyline points="52.70,165.50 52.67,170.07 52.44,174.47 52.09,178.67 51.75,182.67 51.51,186.45 51.50,190.00" fill="none" stroke="#b06030" stroke-width="1.5" stroke-linecap="round"/>
<line x1="46.03" y1="161.04" x2="43.83" y2="163.04" stroke="#8a8a8a" stroke-width="0.9" />
<line x1="46.18" y1="139.20" x2="44.68" y2="140.40" stroke="#777" stroke-width="0.8" />
<line x1="59.37" y1="161.04" x2="61.57" y2="163.04" stroke="#8a8a8a" stroke-width="0.9" />
<line x1="59.23" y1="139.20" x2="60.73" y2="140.40" stroke="#777" stroke-width="0.8" />
<clipPath id="m11"><path d="M52.70,127.50 C53.06,127.50 53.40,128.34 53.79,129.06 C54.17,129.78 54.54,130.75 55.02,131.79 C55.50,132.83 56.11,133.94 56.69,135.30 C57.27,136.67 58.00,138.29 58.50,139.98 C59.00,141.67 59.42,143.62 59.66,145.44 C59.90,147.26 59.94,148.95 59.95,150.90 C59.96,152.85 59.88,155.19 59.73,157.14 C59.59,159.09 59.53,161.17 59.08,162.60 C58.63,164.03 57.87,165.07 57.05,165.72 C56.23,166.37 55.60,166.50 54.15,166.50 C52.70,166.50 49.66,166.37 48.35,165.72 C47.05,165.07 46.77,164.03 46.32,162.60 C45.87,161.17 45.81,159.09 45.67,157.14 C45.52,155.19 45.44,152.85 45.45,150.90 C45.46,148.95 45.50,147.26 45.74,145.44 C45.98,143.62 46.40,141.67 46.90,139.98 C47.40,138.29 48.13,136.67 48.71,135.30 C49.29,133.94 49.90,132.83 50.38,131.79 C50.86,130.75 51.23,129.78 51.61,129.06 C52.00,128.34 52.34,127.50 52.70,127.50 Z"/></clipPath>
<g filter="url(#blurB)"><path d="M52.70,127.50 C53.06,127.50 53.40,128.34 53.79,129.06 C54.17,129.78 54.54,130.75 55.02,131.79 C55.50,132.83 56.11,133.94 56.69,135.30 C57.27,136.67 58.00,138.29 58.50,139.98 C59.00,141.67 59.42,143.62 59.66,145.44 C59.90,147.26 59.94,148.95 59.95,150.90 C59.96,152.85 59.88,155.19 59.73,157.14 C59.59,159.09 59.53,161.17 59.08,162.60 C58.63,164.03 57.87,165.07 57.05,165.72 C56.23,166.37 55.60,166.50 54.15,166.50 C52.70,166.50 49.66,166.37 48.35,165.72 C47.05,165.07 46.77,164.03 46.32,162.60 C45.87,161.17 45.81,159.09 45.67,157.14 C45.52,155.19 45.44,152.85 45.45,150.90 C45.46,148.95 45.50,147.26 45.74,145.44 C45.98,143.62 46.40,141.67 46.90,139.98 C47.40,138.29 48.13,136.67 48.71,135.30 C49.29,133.94 49.90,132.83 50.38,131.79 C50.86,130.75 51.23,129.78 51.61,129.06 C52.00,128.34 52.34,127.50 52.70,127.50 Z" fill="#2540f0"/>
<g clip-path="url(#m11)"><g filter="url(#blur05)">
<ellipse cx="52.70" cy="132.18" rx="3.62" ry="3.90" fill="#28b4f4"/>
<ellipse cx="49.06" cy="155.48" rx="2.47" ry="3.10" fill="#e0e0e5"/>
<ellipse cx="49.61" cy="158.48" rx="2.78" ry="3.19" fill="#e0e0e5"/>
<ellipse cx="52.76" cy="142.20" rx="1.31" ry="2.80" fill="#e0e0e5"/>
<ellipse cx="53.63" cy="137.33" rx="2.76" ry="2.41" fill="#e0e0e5"/>
<ellipse cx="49.79" cy="136.54" rx="3.13" ry="3.83" fill="#e0e0e5"/>
<ellipse cx="56.78" cy="153.31" rx="1.37" ry="2.68" fill="#e0e0e5"/>
<ellipse cx="52.67" cy="138.69" rx="3.04" ry="2.79" fill="#e0e0e5"/>
<ellipse cx="48.95" cy="159.21" rx="1.53" ry="4.36" fill="#e0e0e5"/>
<ellipse cx="52.19" cy="151.45" rx="1.93" ry="3.12" fill="#e0e0e5"/>
<ellipse cx="49.30" cy="136.39" rx="2.89" ry="2.41" fill="#e0e0e5"/>
<ellipse cx="57.68" cy="135.78" rx="1.08" ry="3.65" fill="#28b4f4"/>
<ellipse cx="49.27" cy="135.16" rx="2.00" ry="2.18" fill="#28b4f4"/>
<ellipse cx="56.94" cy="138.63" rx="2.45" ry="2.12" fill="#28b4f4"/>
<ellipse cx="53.80" cy="160.48" rx="2.05" ry="3.48" fill="#28b4f4"/>
<ellipse cx="54.96" cy="132.91" rx="2.33" ry="2.73" fill="#28b4f4"/>
<ellipse cx="50.64" cy="137.33" rx="2.29" ry="2.71" fill="#28b4f4"/>
<ellipse cx="57.46" cy="155.55" rx="2.45" ry="2.68" fill="#28b4f4"/>
<ellipse cx="54.86" cy="150.50" rx="1.42" ry="3.55" fill="#28b4f4"/>
<ellipse cx="57.32" cy="163.25" rx="2.05" ry="1.39" fill="#48e848"/>
<ellipse cx="53.70" cy="149.94" rx="1.59" ry="1.48" fill="#48e848"/>
<ellipse cx="49.35" cy="150.47" rx="1.20" ry="2.12" fill="#48e848"/>
<ellipse cx="47.53" cy="141.37" rx="1.82" ry="2.06" fill="#48e848"/>
<ellipse cx="52.84" cy="157.81" rx="1.37" ry="1.34" fill="#48e848"/>
<ellipse cx="58.50" cy="158.70" rx="2.17" ry="1.95" fill="#f88c18"/>
</g></g></g>
<line x1="69.00" y1="127.00" x2="69.00" y2="130.50" stroke="#bdbdbd" stroke-width="1.1" />
<path d="M69.00,165.50 C70.78,174.81 71.82,183.14 73.00,190.00" stroke="#a9a9ab" stroke-width="1.3" fill="none" stroke-linecap="round"/>
<polyline points="69.00,165.50 69.43,167.81 69.83,170.07 70.21,172.29 70.57,174.47 70.90,176.59 71.22,178.67" fill="none" stroke="#c8501c" stroke-width="1.5" stroke-linecap="round"/>
<polyline points="71.22,178.67 71.53,180.69 71.83,182.67 72.13,184.59 72.42,186.45 72.71,188.25 73.00,190.00" fill="none" stroke="#b84018" stroke-width="1.5" stroke-linecap="round"/>
<line x1="62.33" y1="161.04" x2="60.13" y2="163.04" stroke="#8a8a8a" stroke-width="0.9" />
<line x1="62.48" y1="139.20" x2="60.98" y2="140.40" stroke="#777" stroke-width="0.8" />
<line x1="75.67" y1="161.04" x2="77.87" y2="163.04" stroke="#8a8a8a" stroke-width="0.9" />
<line x1="75.53" y1="139.20" x2="77.03" y2="140.40" stroke="#777" stroke-width="0.8" />
<clipPath id="m12"><path d="M69.00,127.50 C69.36,127.50 69.70,128.34 70.09,129.06 C70.47,129.78 70.84,130.75 71.32,131.79 C71.80,132.83 72.41,133.94 72.99,135.30 C73.57,136.67 74.30,138.29 74.80,139.98 C75.30,141.67 75.72,143.62 75.96,145.44 C76.20,147.26 76.24,148.95 76.25,150.90 C76.26,152.85 76.18,155.19 76.03,157.14 C75.89,159.09 75.83,161.17 75.38,162.60 C74.93,164.03 74.17,165.07 73.35,165.72 C72.53,166.37 71.90,166.50 70.45,166.50 C69.00,166.50 65.96,166.37 64.65,165.72 C63.35,165.07 63.07,164.03 62.62,162.60 C62.17,161.17 62.11,159.09 61.97,157.14 C61.82,155.19 61.74,152.85 61.75,150.90 C61.76,148.95 61.80,147.26 62.04,145.44 C62.28,143.62 62.70,141.67 63.20,139.98 C63.70,138.29 64.43,136.67 65.01,135.30 C65.59,133.94 66.20,132.83 66.68,131.79 C67.16,130.75 67.53,129.78 67.91,129.06 C68.30,128.34 68.64,127.50 69.00,127.50 Z"/></clipPath>
<g filter="url(#blurB)"><path d="M69.00,127.50 C69.36,127.50 69.70,128.34 70.09,129.06 C70.47,129.78 70.84,130.75 71.32,131.79 C71.80,132.83 72.41,133.94 72.99,135.30 C73.57,136.67 74.30,138.29 74.80,139.98 C75.30,141.67 75.72,143.62 75.96,145.44 C76.20,147.26 76.24,148.95 76.25,150.90 C76.26,152.85 76.18,155.19 76.03,157.14 C75.89,159.09 75.83,161.17 75.38,162.60 C74.93,164.03 74.17,165.07 73.35,165.72 C72.53,166.37 71.90,166.50 70.45,166.50 C69.00,166.50 65.96,166.37 64.65,165.72 C63.35,165.07 63.07,164.03 62.62,162.60 C62.17,161.17 62.11,159.09 61.97,157.14 C61.82,155.19 61.74,152.85 61.75,150.90 C61.76,148.95 61.80,147.26 62.04,145.44 C62.28,143.62 62.70,141.67 63.20,139.98 C63.70,138.29 64.43,136.67 65.01,135.30 C65.59,133.94 66.20,132.83 66.68,131.79 C67.16,130.75 67.53,129.78 67.91,129.06 C68.30,128.34 68.64,127.50 69.00,127.50 Z" fill="#48e848"/>
<g clip-path="url(#m12)"><g filter="url(#blur05)">
<ellipse cx="69.00" cy="131.40" rx="3.62" ry="3.90" fill="#28b4f4"/>
<ellipse cx="71.31" cy="158.85" rx="1.47" ry="4.10" fill="#2540f0"/>
<ellipse cx="65.67" cy="154.90" rx="1.33" ry="3.49" fill="#2540f0"/>
<ellipse cx="65.21" cy="155.73" rx="2.37" ry="3.52" fill="#2540f0"/>
<ellipse cx="68.36" cy="159.46" rx="2.80" ry="1.87" fill="#2540f0"/>
<ellipse cx="69.18" cy="161.62" rx="2.39" ry="2.70" fill="#2540f0"/>
<ellipse cx="66.88" cy="161.50" rx="1.31" ry="3.50" fill="#2540f0"/>
<ellipse cx="72.73" cy="142.89" rx="1.71" ry="2.35" fill="#2540f0"/>
<ellipse cx="69.46" cy="147.79" rx="2.64" ry="3.92" fill="#2540f0"/>
<ellipse cx="67.66" cy="146.00" rx="2.28" ry="1.88" fill="#ecec28"/>
<ellipse cx="73.04" cy="142.04" rx="1.11" ry="3.54" fill="#ecec28"/>
<ellipse cx="66.34" cy="137.53" rx="1.66" ry="2.73" fill="#ecec28"/>
<ellipse cx="64.92" cy="142.72" rx="2.26" ry="2.55" fill="#ecec28"/>
<ellipse cx="72.20" cy="141.88" rx="2.25" ry="1.81" fill="#ecec28"/>
<ellipse cx="71.69" cy="149.37" rx="1.34" ry="2.75" fill="#e0e0e5"/>
<ellipse cx="64.18" cy="156.08" rx="2.16" ry="1.50" fill="#e0e0e5"/>
<ellipse cx="70.99" cy="152.88" rx="1.97" ry="3.55" fill="#e0e0e5"/>
<ellipse cx="69.00" cy="141.15" rx="2.90" ry="2.34" fill="#f88c18"/>
<ellipse cx="63.20" cy="158.70" rx="2.17" ry="1.95" fill="#f88c18"/>
<ellipse cx="74.80" cy="158.70" rx="2.17" ry="1.95" fill="#f41818"/>
</g></g></g>
<text x="10.50" y="189.50" font-size="7.5" fill="#d83030" opacity="0.85">p-0</text>
<rect x="82.60" y="126.30" width="68.70" height="66.10" fill="#313133" stroke="none" stroke-width="1" />
<line x1="90.30" y1="126.80" x2="90.30" y2="130.50" stroke="#bdbdbd" stroke-width="1.1" />
<path d="M90.30,162.50 C92.88,172.95 90.04,182.30 92.00,190.00" stroke="#a9a9ab" stroke-width="1.4" fill="none" stroke-linecap="round"/>
<polyline points="90.65,164.06 90.88,165.35 91.07,166.62 91.21,167.88 91.32,169.13 91.39,170.37 91.43,171.59" fill="none" stroke="#d8c880" stroke-width="1.5999999999999999" stroke-linecap="round"/>
<polyline points="91.45,173.04 91.45,173.52 91.45,174.00 91.45,174.48 91.44,174.95 91.43,175.42 91.42,175.89" fill="none" stroke="#9a4030" stroke-width="1.5999999999999999" stroke-linecap="round"/>
<polyline points="91.38,177.28 91.35,178.20 91.32,179.11 91.30,180.00 91.28,180.89 91.26,181.77 91.26,182.64" fill="none" stroke="#d8c880" stroke-width="1.5999999999999999" stroke-linecap="round"/>
<polyline points="91.27,183.92 91.30,184.77 91.34,185.60 91.41,186.43 91.49,187.24 91.60,188.04 91.74,188.83" fill="none" stroke="#9a4030" stroke-width="1.5999999999999999" stroke-linecap="round"/>
<line x1="83.86" y1="158.46" x2="81.66" y2="160.46" stroke="#8a8a8a" stroke-width="0.9" />
<line x1="84.00" y1="138.30" x2="82.50" y2="139.50" stroke="#777" stroke-width="0.8" />
<line x1="96.74" y1="158.46" x2="98.94" y2="160.46" stroke="#8a8a8a" stroke-width="0.9" />
<line x1="96.60" y1="138.30" x2="98.10" y2="139.50" stroke="#777" stroke-width="0.8" />
<clipPath id="m13"><path d="M90.30,127.50 C90.65,127.50 90.98,128.28 91.35,128.94 C91.72,129.60 92.07,130.50 92.54,131.46 C93.01,132.42 93.59,133.44 94.15,134.70 C94.71,135.96 95.42,137.46 95.90,139.02 C96.38,140.58 96.79,142.38 97.02,144.06 C97.25,145.74 97.29,147.30 97.30,149.10 C97.31,150.90 97.23,153.06 97.09,154.86 C96.95,156.66 96.89,158.58 96.46,159.90 C96.03,161.22 95.29,162.18 94.50,162.78 C93.71,163.38 93.10,163.50 91.70,163.50 C90.30,163.50 87.36,163.38 86.10,162.78 C84.84,162.18 84.57,161.22 84.14,159.90 C83.71,158.58 83.65,156.66 83.51,154.86 C83.37,153.06 83.29,150.90 83.30,149.10 C83.31,147.30 83.35,145.74 83.58,144.06 C83.81,142.38 84.22,140.58 84.70,139.02 C85.18,137.46 85.89,135.96 86.45,134.70 C87.01,133.44 87.59,132.42 88.06,131.46 C88.53,130.50 88.88,129.60 89.25,128.94 C89.62,128.28 89.95,127.50 90.30,127.50 Z"/></clipPath>
<g filter="url(#blurB)"><path d="M90.30,127.50 C90.65,127.50 90.98,128.28 91.35,128.94 C91.72,129.60 92.07,130.50 92.54,131.46 C93.01,132.42 93.59,133.44 94.15,134.70 C94.71,135.96 95.42,137.46 95.90,139.02 C96.38,140.58 96.79,142.38 97.02,144.06 C97.25,145.74 97.29,147.30 97.30,149.10 C97.31,150.90 97.23,153.06 97.09,154.86 C96.95,156.66 96.89,158.58 96.46,159.90 C96.03,161.22 95.29,162.18 94.50,162.78 C93.71,163.38 93.10,163.50 91.70,163.50 C90.30,163.50 87.36,163.38 86.10,162.78 C84.84,162.18 84.57,161.22 84.14,159.90 C83.71,158.58 83.65,156.66 83.51,154.86 C83.37,153.06 83.29,150.90 83.30,149.10 C83.31,147.30 83.35,145.74 83.58,144.06 C83.81,142.38 84.22,140.58 84.70,139.02 C85.18,137.46 85.89,135.96 86.45,134.70 C87.01,133.44 87.59,132.42 88.06,131.46 C88.53,130.50 88.88,129.60 89.25,128.94 C89.62,128.28 89.95,127.50 90.30,127.50 Z" fill="#e0e0e5"/>
<g clip-path="url(#m13)"><g filter="url(#blur05)">
<ellipse cx="90.82" cy="134.90" rx="1.44" ry="1.70" fill="#c4c4c4"/>
<ellipse cx="92.40" cy="142.45" rx="1.48" ry="1.94" fill="#d0d0d0"/>
<ellipse cx="95.45" cy="131.72" rx="1.07" ry="1.71" fill="#fafafa"/>
<ellipse cx="88.63" cy="137.64" rx="2.06" ry="1.67" fill="#f6f6f6"/>
<ellipse cx="87.63" cy="133.92" rx="2.40" ry="1.76" fill="#d0d0d0"/>
<ellipse cx="94.39" cy="155.93" rx="1.65" ry="1.99" fill="#c4c4c4"/>
<ellipse cx="90.81" cy="154.78" rx="1.44" ry="2.33" fill="#c4c4c4"/>
<ellipse cx="94.43" cy="141.38" rx="1.42" ry="1.15" fill="#f6f6f6"/>
<ellipse cx="92.38" cy="153.90" rx="1.85" ry="1.38" fill="#fafafa"/>
<ellipse cx="84.88" cy="160.22" rx="1.83" ry="2.13" fill="#c4c4c4"/>
<ellipse cx="90.30" cy="131.82" rx="4.20" ry="4.32" fill="#2540f0"/>
<ellipse cx="85.18" cy="134.54" rx="1.95" ry="3.39" fill="#2540f0"/>
<ellipse cx="86.51" cy="134.54" rx="1.67" ry="3.58" fill="#2540f0"/>
<ellipse cx="86.60" cy="153.76" rx="2.43" ry="1.97" fill="#2540f0"/>
<ellipse cx="90.67" cy="144.80" rx="1.99" ry="4.20" fill="#2540f0"/>
<ellipse cx="86.03" cy="131.72" rx="2.92" ry="2.66" fill="#2540f0"/>
<ellipse cx="87.13" cy="141.21" rx="1.90" ry="4.10" fill="#2540f0"/>
<ellipse cx="87.26" cy="137.74" rx="2.29" ry="3.04" fill="#2540f0"/>
<ellipse cx="95.06" cy="156.76" rx="1.89" ry="2.15" fill="#2540f0"/>
<ellipse cx="93.83" cy="161.36" rx="1.31" ry="3.53" fill="#2540f0"/>
<ellipse cx="94.17" cy="151.03" rx="1.65" ry="3.68" fill="#2540f0"/>
<ellipse cx="92.71" cy="137.03" rx="2.39" ry="2.19" fill="#2540f0"/>
<ellipse cx="90.30" cy="138.30" rx="4.20" ry="3.60" fill="#28b4f4"/>
<ellipse cx="90.30" cy="138.30" rx="3.15" ry="2.70" fill="#48e848"/>
<ellipse cx="90.30" cy="138.30" rx="1.54" ry="1.44" fill="#ecec28"/>
<ellipse cx="85.86" cy="151.79" rx="1.26" ry="2.77" fill="#48e848"/>
<ellipse cx="90.26" cy="158.18" rx="1.01" ry="2.06" fill="#48e848"/>
<ellipse cx="93.90" cy="155.69" rx="2.05" ry="2.73" fill="#48e848"/>
<ellipse cx="84.00" cy="158.10" rx="2.10" ry="1.80" fill="#48e848"/>
<ellipse cx="96.60" cy="158.10" rx="2.10" ry="1.80" fill="#28b4f4"/>
<ellipse cx="90.30" cy="149.10" rx="3.50" ry="1.80" fill="#2540f0"/>
</g></g></g>
<line x1="106.20" y1="126.80" x2="106.20" y2="130.50" stroke="#bdbdbd" stroke-width="1.1" />
<path d="M106.20,162.50 C107.21,172.95 109.42,182.30 110.00,190.00" stroke="#a9a9ab" stroke-width="1.4" fill="none" stroke-linecap="round"/>
<polyline points="106.36,164.06 106.50,165.35 106.66,166.62 106.82,167.88 107.00,169.13 107.17,170.37 107.36,171.59" fill="none" stroke="#d8c880" stroke-width="1.5999999999999999" stroke-linecap="round"/>
<polyline points="107.58,173.04 107.65,173.52 107.73,174.00 107.81,174.48 107.88,174.95 107.96,175.42 108.03,175.89" fill="none" stroke="#9a4030" stroke-width="1.5999999999999999" stroke-linecap="round"/>
<polyline points="108.26,177.28 108.41,178.20 108.56,179.11 108.70,180.00 108.84,180.89 108.98,181.77 109.12,182.64" fill="none" stroke="#d8c880" stroke-width="1.5999999999999999" stroke-linecap="round"/>
<polyline points="109.30,183.92 109.42,184.77 109.54,185.60 109.64,186.43 109.74,187.24 109.82,188.04 109.90,188.83" fill="none" stroke="#9a4030" stroke-width="1.5999999999999999" stroke-linecap="round"/>
<line x1="99.76" y1="158.46" x2="97.56" y2="160.46" stroke="#8a8a8a" stroke-width="0.9" />
<line x1="99.90" y1="138.30" x2="98.40" y2="139.50" stroke="#777" stroke-width="0.8" />
<line x1="112.64" y1="158.46" x2="114.84" y2="160.46" stroke="#8a8a8a" stroke-width="0.9" />
<line x1="112.50" y1="138.30" x2="114.00" y2="139.50" stroke="#777" stroke-width="0.8" />
<clipPath id="m14"><path d="M106.20,127.50 C106.55,127.50 106.88,128.28 107.25,128.94 C107.62,129.60 107.97,130.50 108.44,131.46 C108.91,132.42 109.49,133.44 110.05,134.70 C110.61,135.96 111.32,137.46 111.80,139.02 C112.28,140.58 112.69,142.38 112.92,144.06 C113.15,145.74 113.19,147.30 113.20,149.10 C113.21,150.90 113.13,153.06 112.99,154.86 C112.85,156.66 112.79,158.58 112.36,159.90 C111.93,161.22 111.19,162.18 110.40,162.78 C109.61,163.38 109.00,163.50 107.60,163.50 C106.20,163.50 103.26,163.38 102.00,162.78 C100.74,162.18 100.47,161.22 100.04,159.90 C99.61,158.58 99.55,156.66 99.41,154.86 C99.27,153.06 99.19,150.90 99.20,149.10 C99.21,147.30 99.25,145.74 99.48,144.06 C99.71,142.38 100.12,140.58 100.60,139.02 C101.08,137.46 101.79,135.96 102.35,134.70 C102.91,133.44 103.49,132.42 103.96,131.46 C104.43,130.50 104.78,129.60 105.15,128.94 C105.52,128.28 105.85,127.50 106.20,127.50 Z"/></clipPath>
<g filter="url(#blurB)"><path d="M106.20,127.50 C106.55,127.50 106.88,128.28 107.25,128.94 C107.62,129.60 107.97,130.50 108.44,131.46 C108.91,132.42 109.49,133.44 110.05,134.70 C110.61,135.96 111.32,137.46 111.80,139.02 C112.28,140.58 112.69,142.38 112.92,144.06 C113.15,145.74 113.19,147.30 113.20,149.10 C113.21,150.90 113.13,153.06 112.99,154.86 C112.85,156.66 112.79,158.58 112.36,159.90 C111.93,161.22 111.19,162.18 110.40,162.78 C109.61,163.38 109.00,163.50 107.60,163.50 C106.20,163.50 103.26,163.38 102.00,162.78 C100.74,162.18 100.47,161.22 100.04,159.90 C99.61,158.58 99.55,156.66 99.41,154.86 C99.27,153.06 99.19,150.90 99.20,149.10 C99.21,147.30 99.25,145.74 99.48,144.06 C99.71,142.38 100.12,140.58 100.60,139.02 C101.08,137.46 101.79,135.96 102.35,134.70 C102.91,133.44 103.49,132.42 103.96,131.46 C104.43,130.50 104.78,129.60 105.15,128.94 C105.52,128.28 105.85,127.50 106.20,127.50 Z" fill="#e0e0e5"/>
<g clip-path="url(#m14)"><g filter="url(#blur05)">
<ellipse cx="107.11" cy="137.06" rx="2.40" ry="2.41" fill="#fafafa"/>
<ellipse cx="101.14" cy="146.51" rx="1.89" ry="2.40" fill="#fafafa"/>
<ellipse cx="108.36" cy="137.60" rx="2.41" ry="1.18" fill="#f6f6f6"/>
<ellipse cx="102.40" cy="144.72" rx="1.80" ry="1.36" fill="#d0d0d0"/>
<ellipse cx="103.27" cy="155.31" rx="1.64" ry="1.17" fill="#fafafa"/>
<ellipse cx="104.01" cy="134.49" rx="2.20" ry="2.06" fill="#d0d0d0"/>
<ellipse cx="105.02" cy="142.71" rx="1.64" ry="1.66" fill="#fafafa"/>
<ellipse cx="100.67" cy="145.30" rx="1.80" ry="1.58" fill="#c4c4c4"/>
<ellipse cx="104.75" cy="142.10" rx="1.42" ry="2.26" fill="#c4c4c4"/>
<ellipse cx="105.44" cy="139.60" rx="2.12" ry="1.66" fill="#d0d0d0"/>
<ellipse cx="106.20" cy="131.82" rx="4.20" ry="4.32" fill="#2540f0"/>
<ellipse cx="106.50" cy="149.02" rx="2.75" ry="3.95" fill="#2540f0"/>
<ellipse cx="110.21" cy="142.26" rx="2.93" ry="2.72" fill="#2540f0"/>
<ellipse cx="104.16" cy="133.99" rx="2.16" ry="2.02" fill="#2540f0"/>
<ellipse cx="103.83" cy="149.78" rx="2.63" ry="3.57" fill="#2540f0"/>
<ellipse cx="101.86" cy="132.97" rx="1.71" ry="3.05" fill="#2540f0"/>
<ellipse cx="109.76" cy="155.59" rx="2.91" ry="3.15" fill="#2540f0"/>
<ellipse cx="107.64" cy="140.03" rx="1.81" ry="2.15" fill="#2540f0"/>
<ellipse cx="106.57" cy="149.68" rx="2.27" ry="2.64" fill="#2540f0"/>
<ellipse cx="105.40" cy="138.70" rx="2.70" ry="3.13" fill="#2540f0"/>
<ellipse cx="108.81" cy="155.94" rx="1.76" ry="1.92" fill="#2540f0"/>
<ellipse cx="103.92" cy="158.86" rx="2.66" ry="2.67" fill="#2540f0"/>
<ellipse cx="106.20" cy="138.30" rx="4.20" ry="3.60" fill="#28b4f4"/>
<ellipse cx="106.20" cy="138.30" rx="3.15" ry="2.70" fill="#48e848"/>
<ellipse cx="106.20" cy="138.30" rx="1.54" ry="1.44" fill="#ecec28"/>
<ellipse cx="106.71" cy="158.56" rx="1.80" ry="2.70" fill="#48e848"/>
<ellipse cx="103.95" cy="161.27" rx="1.58" ry="2.49" fill="#48e848"/>
<ellipse cx="108.88" cy="160.81" rx="1.22" ry="1.80" fill="#48e848"/>
<ellipse cx="99.90" cy="158.10" rx="2.10" ry="1.80" fill="#48e848"/>
<ellipse cx="112.50" cy="158.10" rx="2.10" ry="1.80" fill="#28b4f4"/>
<ellipse cx="106.20" cy="149.10" rx="3.50" ry="1.80" fill="#2540f0"/>
</g></g></g>
<line x1="122.40" y1="126.80" x2="122.40" y2="130.50" stroke="#bdbdbd" stroke-width="1.1" />
<path d="M122.40,162.50 C120.62,172.95 120.22,182.30 119.00,190.00" stroke="#a9a9ab" stroke-width="1.4" fill="none" stroke-linecap="round"/>
<polyline points="122.14,164.06 121.94,165.35 121.76,166.62 121.58,167.88 121.42,169.13 121.26,170.37 121.11,171.59" fill="none" stroke="#d8c880" stroke-width="1.5999999999999999" stroke-linecap="round"/>
<polyline points="120.94,173.04 120.89,173.52 120.84,174.00 120.79,174.48 120.73,174.95 120.68,175.42 120.63,175.89" fill="none" stroke="#9a4030" stroke-width="1.5999999999999999" stroke-linecap="round"/>
<polyline points="120.49,177.28 120.40,178.20 120.30,179.11 120.21,180.00 120.12,180.89 120.03,181.77 119.94,182.64" fill="none" stroke="#d8c880" stroke-width="1.5999999999999999" stroke-linecap="round"/>
<polyline points="119.80,183.92 119.70,184.77 119.60,185.60 119.50,186.43 119.40,187.24 119.29,188.04 119.18,188.83" fill="none" stroke="#9a4030" stroke-width="1.5999999999999999" stroke-linecap="round"/>
<line x1="115.96" y1="158.46" x2="113.76" y2="160.46" stroke="#8a8a8a" stroke-width="0.9" />
<line x1="116.10" y1="138.30" x2="114.60" y2="139.50" stroke="#777" stroke-width="0.8" />
<line x1="128.84" y1="158.46" x2="131.04" y2="160.46" stroke="#8a8a8a" stroke-width="0.9" />
<line x1="128.70" y1="138.30" x2="130.20" y2="139.50" stroke="#777" stroke-width="0.8" />
<clipPath id="m15"><path d="M122.40,127.50 C122.75,127.50 123.08,128.28 123.45,128.94 C123.82,129.60 124.17,130.50 124.64,131.46 C125.11,132.42 125.69,133.44 126.25,134.70 C126.81,135.96 127.52,137.46 128.00,139.02 C128.48,140.58 128.89,142.38 129.12,144.06 C129.35,145.74 129.39,147.30 129.40,149.10 C129.41,150.90 129.33,153.06 129.19,154.86 C129.05,156.66 128.99,158.58 128.56,159.90 C128.13,161.22 127.39,162.18 126.60,162.78 C125.81,163.38 125.20,163.50 123.80,163.50 C122.40,163.50 119.46,163.38 118.20,162.78 C116.94,162.18 116.67,161.22 116.24,159.90 C115.81,158.58 115.75,156.66 115.61,154.86 C115.47,153.06 115.39,150.90 115.40,149.10 C115.41,147.30 115.45,145.74 115.68,144.06 C115.91,142.38 116.32,140.58 116.80,139.02 C117.28,137.46 117.99,135.96 118.55,134.70 C119.11,133.44 119.69,132.42 120.16,131.46 C120.63,130.50 120.98,129.60 121.35,128.94 C121.72,128.28 122.05,127.50 122.40,127.50 Z"/></clipPath>
<g filter="url(#blurB)"><path d="M122.40,127.50 C122.75,127.50 123.08,128.28 123.45,128.94 C123.82,129.60 124.17,130.50 124.64,131.46 C125.11,132.42 125.69,133.44 126.25,134.70 C126.81,135.96 127.52,137.46 128.00,139.02 C128.48,140.58 128.89,142.38 129.12,144.06 C129.35,145.74 129.39,147.30 129.40,149.10 C129.41,150.90 129.33,153.06 129.19,154.86 C129.05,156.66 128.99,158.58 128.56,159.90 C128.13,161.22 127.39,162.18 126.60,162.78 C125.81,163.38 125.20,163.50 123.80,163.50 C122.40,163.50 119.46,163.38 118.20,162.78 C116.94,162.18 116.67,161.22 116.24,159.90 C115.81,158.58 115.75,156.66 115.61,154.86 C115.47,153.06 115.39,150.90 115.40,149.10 C115.41,147.30 115.45,145.74 115.68,144.06 C115.91,142.38 116.32,140.58 116.80,139.02 C117.28,137.46 117.99,135.96 118.55,134.70 C119.11,133.44 119.69,132.42 120.16,131.46 C120.63,130.50 120.98,129.60 121.35,128.94 C121.72,128.28 122.05,127.50 122.40,127.50 Z" fill="#e0e0e5"/>
<g clip-path="url(#m15)"><g filter="url(#blur05)">
<ellipse cx="118.26" cy="156.06" rx="2.28" ry="1.63" fill="#d0d0d0"/>
<ellipse cx="121.04" cy="160.78" rx="1.47" ry="1.34" fill="#d0d0d0"/>
<ellipse cx="118.94" cy="136.92" rx="2.35" ry="2.40" fill="#c4c4c4"/>
<ellipse cx="122.78" cy="151.26" rx="2.25" ry="1.39" fill="#c4c4c4"/>
<ellipse cx="125.15" cy="148.36" rx="2.43" ry="1.13" fill="#d0d0d0"/>
<ellipse cx="127.88" cy="159.94" rx="1.33" ry="2.17" fill="#fafafa"/>
<ellipse cx="119.19" cy="131.81" rx="1.15" ry="2.40" fill="#c4c4c4"/>
<ellipse cx="127.82" cy="136.81" rx="1.52" ry="2.08" fill="#c4c4c4"/>
<ellipse cx="120.75" cy="155.12" rx="1.31" ry="1.94" fill="#f6f6f6"/>
<ellipse cx="117.10" cy="155.32" rx="2.16" ry="2.31" fill="#f6f6f6"/>
<ellipse cx="122.40" cy="131.82" rx="4.20" ry="4.32" fill="#2540f0"/>
<ellipse cx="124.31" cy="133.90" rx="2.35" ry="3.80" fill="#2540f0"/>
<ellipse cx="125.91" cy="146.86" rx="2.37" ry="2.58" fill="#2540f0"/>
<ellipse cx="122.69" cy="134.40" rx="2.46" ry="3.18" fill="#2540f0"/>
<ellipse cx="120.11" cy="142.68" rx="2.56" ry="2.77" fill="#2540f0"/>
<ellipse cx="127.23" cy="160.82" rx="2.74" ry="1.86" fill="#2540f0"/>
<ellipse cx="117.94" cy="139.93" rx="1.90" ry="3.45" fill="#2540f0"/>
<ellipse cx="125.83" cy="148.32" rx="2.39" ry="3.11" fill="#2540f0"/>
<ellipse cx="117.51" cy="147.22" rx="1.64" ry="2.70" fill="#2540f0"/>
<ellipse cx="117.24" cy="151.17" rx="2.87" ry="1.80" fill="#2540f0"/>
<ellipse cx="123.24" cy="131.82" rx="1.88" ry="2.03" fill="#2540f0"/>
<ellipse cx="126.19" cy="153.38" rx="2.84" ry="2.18" fill="#2540f0"/>
<ellipse cx="122.40" cy="138.30" rx="4.20" ry="3.60" fill="#28b4f4"/>
<ellipse cx="122.40" cy="138.30" rx="3.15" ry="2.70" fill="#48e848"/>
<ellipse cx="122.40" cy="138.30" rx="1.54" ry="1.44" fill="#ecec28"/>
<ellipse cx="123.86" cy="154.51" rx="1.78" ry="1.25" fill="#48e848"/>
<ellipse cx="124.48" cy="153.82" rx="1.63" ry="1.44" fill="#48e848"/>
<ellipse cx="120.77" cy="152.46" rx="1.29" ry="2.45" fill="#48e848"/>
<ellipse cx="116.10" cy="158.10" rx="2.10" ry="1.80" fill="#48e848"/>
<ellipse cx="128.70" cy="158.10" rx="2.10" ry="1.80" fill="#28b4f4"/>
<ellipse cx="122.40" cy="149.10" rx="3.50" ry="1.80" fill="#2540f0"/>
</g></g></g>
<line x1="141.20" y1="126.80" x2="141.20" y2="130.50" stroke="#bdbdbd" stroke-width="1.1" />
<path d="M141.20,162.50 C140.73,172.95 142.42,182.30 142.00,190.00" stroke="#a9a9ab" stroke-width="1.4" fill="none" stroke-linecap="round"/>
<polyline points="141.15,164.06 141.12,165.35 141.12,166.62 141.13,167.88 141.16,169.13 141.20,170.37 141.25,171.59" fill="none" stroke="#d8c880" stroke-width="1.5999999999999999" stroke-linecap="round"/>
<polyline points="141.32,173.04 141.34,173.52 141.37,174.00 141.40,174.48 141.43,174.95 141.46,175.42 141.49,175.89" fill="none" stroke="#9a4030" stroke-width="1.5999999999999999" stroke-linecap="round"/>
<polyline points="141.58,177.28 141.65,178.20 141.71,179.11 141.77,180.00 141.82,180.89 141.88,181.77 141.93,182.64" fill="none" stroke="#d8c880" stroke-width="1.5999999999999999" stroke-linecap="round"/>
<polyline points="141.99,183.92 142.02,184.77 142.05,185.60 142.06,186.43 142.07,187.24 142.06,188.04 142.05,188.83" fill="none" stroke="#9a4030" stroke-width="1.5999999999999999" stroke-linecap="round"/>
<line x1="134.76" y1="158.46" x2="132.56" y2="160.46" stroke="#8a8a8a" stroke-width="0.9" />
<line x1="134.90" y1="138.30" x2="133.40" y2="139.50" stroke="#777" stroke-width="0.8" />
<line x1="147.64" y1="158.46" x2="149.84" y2="160.46" stroke="#8a8a8a" stroke-width="0.9" />
<line x1="147.50" y1="138.30" x2="149.00" y2="139.50" stroke="#777" stroke-width="0.8" />
<clipPath id="m16"><path d="M141.20,127.50 C141.55,127.50 141.88,128.28 142.25,128.94 C142.62,129.60 142.97,130.50 143.44,131.46 C143.91,132.42 144.49,133.44 145.05,134.70 C145.61,135.96 146.32,137.46 146.80,139.02 C147.28,140.58 147.69,142.38 147.92,144.06 C148.15,145.74 148.19,147.30 148.20,149.10 C148.21,150.90 148.13,153.06 147.99,154.86 C147.85,156.66 147.79,158.58 147.36,159.90 C146.93,161.22 146.19,162.18 145.40,162.78 C144.61,163.38 144.00,163.50 142.60,163.50 C141.20,163.50 138.26,163.38 137.00,162.78 C135.74,162.18 135.47,161.22 135.04,159.90 C134.61,158.58 134.55,156.66 134.41,154.86 C134.27,153.06 134.19,150.90 134.20,149.10 C134.21,147.30 134.25,145.74 134.48,144.06 C134.71,142.38 135.12,140.58 135.60,139.02 C136.08,137.46 136.79,135.96 137.35,134.70 C137.91,133.44 138.49,132.42 138.96,131.46 C139.43,130.50 139.78,129.60 140.15,128.94 C140.52,128.28 140.85,127.50 141.20,127.50 Z"/></clipPath>
<g filter="url(#blurB)"><path d="M141.20,127.50 C141.55,127.50 141.88,128.28 142.25,128.94 C142.62,129.60 142.97,130.50 143.44,131.46 C143.91,132.42 144.49,133.44 145.05,134.70 C145.61,135.96 146.32,137.46 146.80,139.02 C147.28,140.58 147.69,142.38 147.92,144.06 C148.15,145.74 148.19,147.30 148.20,149.10 C148.21,150.90 148.13,153.06 147.99,154.86 C147.85,156.66 147.79,158.58 147.36,159.90 C146.93,161.22 146.19,162.18 145.40,162.78 C144.61,163.38 144.00,163.50 142.60,163.50 C141.20,163.50 138.26,163.38 137.00,162.78 C135.74,162.18 135.47,161.22 135.04,159.90 C134.61,158.58 134.55,156.66 134.41,154.86 C134.27,153.06 134.19,150.90 134.20,149.10 C134.21,147.30 134.25,145.74 134.48,144.06 C134.71,142.38 135.12,140.58 135.60,139.02 C136.08,137.46 136.79,135.96 137.35,134.70 C137.91,133.44 138.49,132.42 138.96,131.46 C139.43,130.50 139.78,129.60 140.15,128.94 C140.52,128.28 140.85,127.50 141.20,127.50 Z" fill="#e0e0e5"/>
<g clip-path="url(#m16)"><g filter="url(#blur05)">
<ellipse cx="145.63" cy="137.13" rx="1.21" ry="1.24" fill="#d0d0d0"/>
<ellipse cx="143.20" cy="150.68" rx="2.01" ry="1.78" fill="#f6f6f6"/>
<ellipse cx="137.33" cy="139.81" rx="2.19" ry="1.33" fill="#fafafa"/>
<ellipse cx="143.89" cy="149.07" rx="1.28" ry="2.33" fill="#f6f6f6"/>
<ellipse cx="145.32" cy="155.00" rx="2.15" ry="1.99" fill="#fafafa"/>
<ellipse cx="135.77" cy="137.29" rx="1.51" ry="1.44" fill="#d0d0d0"/>
<ellipse cx="142.31" cy="138.23" rx="2.23" ry="1.67" fill="#d0d0d0"/>
<ellipse cx="141.76" cy="136.97" rx="1.99" ry="1.57" fill="#fafafa"/>
<ellipse cx="145.08" cy="148.62" rx="2.06" ry="1.72" fill="#d0d0d0"/>
<ellipse cx="137.71" cy="147.13" rx="1.24" ry="1.97" fill="#d0d0d0"/>
<ellipse cx="141.20" cy="140.10" rx="9.10" ry="10.80" fill="#28b4f4"/>
<ellipse cx="140.77" cy="157.96" rx="1.18" ry="2.12" fill="#2540f0"/>
<ellipse cx="146.05" cy="151.43" rx="1.34" ry="2.27" fill="#2540f0"/>
<ellipse cx="145.19" cy="144.59" rx="1.18" ry="3.55" fill="#2540f0"/>
<ellipse cx="137.31" cy="150.72" rx="2.12" ry="2.53" fill="#2540f0"/>
<ellipse cx="146.05" cy="136.50" rx="2.09" ry="1.72" fill="#2540f0"/>
<ellipse cx="146.09" cy="135.53" rx="1.95" ry="3.40" fill="#2540f0"/>
<ellipse cx="145.22" cy="134.09" rx="2.53" ry="3.42" fill="#2540f0"/>
<ellipse cx="139.27" cy="154.25" rx="1.49" ry="1.82" fill="#2540f0"/>
<ellipse cx="137.66" cy="140.55" rx="2.45" ry="2.54" fill="#2540f0"/>
<ellipse cx="146.33" cy="158.45" rx="1.47" ry="2.47" fill="#2540f0"/>
<ellipse cx="141.20" cy="137.58" rx="3.50" ry="2.88" fill="#48e848"/>
<ellipse cx="141.20" cy="137.58" rx="2.10" ry="1.80" fill="#ecec28"/>
</g></g></g>
<rect x="9.80" y="207.00" width="69.60" height="69.20" fill="#313133" stroke="none" stroke-width="1" />
<line x1="18.80" y1="207.50" x2="18.80" y2="212.00" stroke="#bdbdbd" stroke-width="1.1" />
<path d="M18.80,245.00 C18.57,254.50 13.37,263.00 13.50,270.00" stroke="#a9a9ab" stroke-width="1.35" fill="none" stroke-linecap="round"/>
<polyline points="18.59,247.82 18.28,249.89 17.86,251.93 17.35,253.93 16.80,255.89 16.21,257.81 15.62,259.68" fill="none" stroke="#40c070" stroke-width="1.55" stroke-linecap="round"/>
<polyline points="15.62,259.68 15.12,261.32 14.65,262.91 14.24,264.48 13.90,266.00 13.65,267.49 13.52,268.94" fill="none" stroke="#e8d020" stroke-width="1.55" stroke-linecap="round"/>
<line x1="12.91" y1="240.82" x2="10.71" y2="242.82" stroke="#8a8a8a" stroke-width="0.9" />
<line x1="13.04" y1="220.10" x2="11.54" y2="221.30" stroke="#777" stroke-width="0.8" />
<line x1="24.69" y1="240.82" x2="26.89" y2="242.82" stroke="#8a8a8a" stroke-width="0.9" />
<line x1="24.56" y1="220.10" x2="26.06" y2="221.30" stroke="#777" stroke-width="0.8" />
<clipPath id="m17"><path d="M18.80,209.00 C19.14,209.00 19.50,209.43 19.82,209.93 C20.14,210.42 20.36,211.19 20.72,211.96 C21.08,212.73 21.53,213.56 22.00,214.55 C22.47,215.54 23.09,216.65 23.54,217.88 C23.98,219.11 24.41,220.35 24.69,221.95 C24.97,223.55 25.11,225.22 25.20,227.50 C25.29,229.78 25.25,233.36 25.20,235.64 C25.15,237.92 25.18,239.65 24.88,241.19 C24.58,242.73 24.15,244.09 23.41,244.89 C22.66,245.69 21.94,246.00 20.40,246.00 C18.86,246.00 15.47,245.69 14.19,244.89 C12.91,244.09 13.02,242.73 12.72,241.19 C12.42,239.65 12.45,237.92 12.40,235.64 C12.35,233.36 12.31,229.78 12.40,227.50 C12.49,225.22 12.63,223.55 12.91,221.95 C13.19,220.35 13.62,219.11 14.06,217.88 C14.51,216.65 15.13,215.54 15.60,214.55 C16.07,213.56 16.52,212.73 16.88,211.96 C17.24,211.19 17.46,210.42 17.78,209.93 C18.10,209.43 18.46,209.00 18.80,209.00 Z"/></clipPath>
<g filter="url(#blurB)"><path d="M18.80,209.00 C19.14,209.00 19.50,209.43 19.82,209.93 C20.14,210.42 20.36,211.19 20.72,211.96 C21.08,212.73 21.53,213.56 22.00,214.55 C22.47,215.54 23.09,216.65 23.54,217.88 C23.98,219.11 24.41,220.35 24.69,221.95 C24.97,223.55 25.11,225.22 25.20,227.50 C25.29,229.78 25.25,233.36 25.20,235.64 C25.15,237.92 25.18,239.65 24.88,241.19 C24.58,242.73 24.15,244.09 23.41,244.89 C22.66,245.69 21.94,246.00 20.40,246.00 C18.86,246.00 15.47,245.69 14.19,244.89 C12.91,244.09 13.02,242.73 12.72,241.19 C12.42,239.65 12.45,237.92 12.40,235.64 C12.35,233.36 12.31,229.78 12.40,227.50 C12.49,225.22 12.63,223.55 12.91,221.95 C13.19,220.35 13.62,219.11 14.06,217.88 C14.51,216.65 15.13,215.54 15.60,214.55 C16.07,213.56 16.52,212.73 16.88,211.96 C17.24,211.19 17.46,210.42 17.78,209.93 C18.10,209.43 18.46,209.00 18.80,209.00 Z" fill="#e0e0e5"/>
<g clip-path="url(#m17)"><g filter="url(#blur05)">
<ellipse cx="18.90" cy="231.48" rx="1.35" ry="2.49" fill="#d0d0d0"/>
<ellipse cx="21.47" cy="227.11" rx="2.03" ry="2.20" fill="#f6f6f6"/>
<ellipse cx="14.77" cy="226.86" rx="2.20" ry="1.94" fill="#fafafa"/>
<ellipse cx="21.12" cy="242.37" rx="1.95" ry="1.52" fill="#fafafa"/>
<ellipse cx="14.44" cy="238.10" rx="1.11" ry="2.06" fill="#c4c4c4"/>
<ellipse cx="19.04" cy="241.38" rx="2.12" ry="1.66" fill="#c4c4c4"/>
<ellipse cx="19.21" cy="239.79" rx="1.47" ry="2.56" fill="#d0d0d0"/>
<ellipse cx="17.60" cy="227.03" rx="2.20" ry="2.01" fill="#c4c4c4"/>
<ellipse cx="15.69" cy="227.64" rx="1.97" ry="1.65" fill="#f6f6f6"/>
<ellipse cx="13.71" cy="219.79" rx="1.42" ry="1.26" fill="#d0d0d0"/>
<ellipse cx="23.39" cy="211.76" rx="1.97" ry="2.51" fill="#2c3cc8"/>
<ellipse cx="23.04" cy="217.62" rx="2.24" ry="1.78" fill="#2c3cc8"/>
<ellipse cx="23.55" cy="217.73" rx="1.23" ry="2.20" fill="#2c3cc8"/>
<ellipse cx="20.06" cy="211.42" rx="1.51" ry="1.44" fill="#2c3cc8"/>
<ellipse cx="14.67" cy="213.69" rx="1.30" ry="2.04" fill="#2c3cc8"/>
<ellipse cx="21.47" cy="217.78" rx="2.15" ry="3.45" fill="#2c3cc8"/>
<ellipse cx="22.59" cy="226.63" rx="1.77" ry="2.94" fill="#2c3cc8"/>
<ellipse cx="22.46" cy="219.90" rx="1.17" ry="2.59" fill="#2c3cc8"/>
<ellipse cx="14.20" cy="212.09" rx="1.37" ry="2.57" fill="#6a88f4"/>
<ellipse cx="20.65" cy="222.53" rx="1.07" ry="1.88" fill="#6a88f4"/>
<ellipse cx="19.46" cy="218.79" rx="1.90" ry="1.37" fill="#6a88f4"/>
</g></g></g>
<line x1="35.50" y1="207.50" x2="35.50" y2="212.00" stroke="#bdbdbd" stroke-width="1.1" />
<path d="M35.50,245.00 C31.52,255.26 32.85,264.44 30.00,272.00" stroke="#a9a9ab" stroke-width="1.35" fill="none" stroke-linecap="round"/>
<polyline points="34.46,248.05 33.67,251.02 33.10,253.93 32.67,256.76 32.33,259.51 32.02,262.18 31.69,264.77" fill="none" stroke="#40a0ff" stroke-width="1.55" stroke-linecap="round"/>
<line x1="29.61" y1="240.82" x2="27.41" y2="242.82" stroke="#8a8a8a" stroke-width="0.9" />
<line x1="29.74" y1="220.10" x2="28.24" y2="221.30" stroke="#777" stroke-width="0.8" />
<line x1="41.39" y1="240.82" x2="43.59" y2="242.82" stroke="#8a8a8a" stroke-width="0.9" />
<line x1="41.26" y1="220.10" x2="42.76" y2="221.30" stroke="#777" stroke-width="0.8" />
<clipPath id="m18"><path d="M35.50,209.00 C35.84,209.00 36.20,209.43 36.52,209.93 C36.84,210.42 37.06,211.19 37.42,211.96 C37.78,212.73 38.23,213.56 38.70,214.55 C39.17,215.54 39.79,216.65 40.24,217.88 C40.68,219.11 41.11,220.35 41.39,221.95 C41.67,223.55 41.81,225.22 41.90,227.50 C41.99,229.78 41.95,233.36 41.90,235.64 C41.85,237.92 41.88,239.65 41.58,241.19 C41.28,242.73 40.85,244.09 40.11,244.89 C39.36,245.69 38.64,246.00 37.10,246.00 C35.56,246.00 32.17,245.69 30.89,244.89 C29.61,244.09 29.72,242.73 29.42,241.19 C29.12,239.65 29.15,237.92 29.10,235.64 C29.05,233.36 29.01,229.78 29.10,227.50 C29.19,225.22 29.33,223.55 29.61,221.95 C29.89,220.35 30.32,219.11 30.76,217.88 C31.21,216.65 31.83,215.54 32.30,214.55 C32.77,213.56 33.22,212.73 33.58,211.96 C33.94,211.19 34.16,210.42 34.48,209.93 C34.80,209.43 35.16,209.00 35.50,209.00 Z"/></clipPath>
<g filter="url(#blurB)"><path d="M35.50,209.00 C35.84,209.00 36.20,209.43 36.52,209.93 C36.84,210.42 37.06,211.19 37.42,211.96 C37.78,212.73 38.23,213.56 38.70,214.55 C39.17,215.54 39.79,216.65 40.24,217.88 C40.68,219.11 41.11,220.35 41.39,221.95 C41.67,223.55 41.81,225.22 41.90,227.50 C41.99,229.78 41.95,233.36 41.90,235.64 C41.85,237.92 41.88,239.65 41.58,241.19 C41.28,242.73 40.85,244.09 40.11,244.89 C39.36,245.69 38.64,246.00 37.10,246.00 C35.56,246.00 32.17,245.69 30.89,244.89 C29.61,244.09 29.72,242.73 29.42,241.19 C29.12,239.65 29.15,237.92 29.10,235.64 C29.05,233.36 29.01,229.78 29.10,227.50 C29.19,225.22 29.33,223.55 29.61,221.95 C29.89,220.35 30.32,219.11 30.76,217.88 C31.21,216.65 31.83,215.54 32.30,214.55 C32.77,213.56 33.22,212.73 33.58,211.96 C33.94,211.19 34.16,210.42 34.48,209.93 C34.80,209.43 35.16,209.00 35.50,209.00 Z" fill="#e0e0e5"/>
<g clip-path="url(#m18)"><g filter="url(#blur05)">
<ellipse cx="36.38" cy="237.29" rx="1.31" ry="2.42" fill="#fafafa"/>
<ellipse cx="36.84" cy="223.06" rx="2.01" ry="1.28" fill="#f6f6f6"/>
<ellipse cx="31.78" cy="237.47" rx="1.68" ry="2.27" fill="#f6f6f6"/>
<ellipse cx="35.31" cy="231.43" rx="1.55" ry="2.53" fill="#d0d0d0"/>
<ellipse cx="31.17" cy="220.90" rx="1.89" ry="1.25" fill="#fafafa"/>
<ellipse cx="30.81" cy="230.94" rx="2.15" ry="1.47" fill="#c4c4c4"/>
<ellipse cx="32.97" cy="221.98" rx="2.14" ry="1.57" fill="#c4c4c4"/>
<ellipse cx="37.79" cy="234.88" rx="1.20" ry="2.23" fill="#fafafa"/>
<ellipse cx="32.27" cy="240.59" rx="1.73" ry="1.54" fill="#d0d0d0"/>
<ellipse cx="36.57" cy="226.52" rx="1.96" ry="1.33" fill="#f6f6f6"/>
<ellipse cx="36.62" cy="235.55" rx="1.60" ry="3.03" fill="#2c3cc8"/>
<ellipse cx="39.70" cy="225.30" rx="1.99" ry="3.06" fill="#2c3cc8"/>
<ellipse cx="38.94" cy="211.87" rx="1.21" ry="3.67" fill="#2c3cc8"/>
<ellipse cx="37.87" cy="218.09" rx="2.00" ry="1.80" fill="#2c3cc8"/>
<ellipse cx="34.16" cy="223.09" rx="1.29" ry="1.73" fill="#2c3cc8"/>
<ellipse cx="35.57" cy="228.81" rx="1.42" ry="2.91" fill="#2c3cc8"/>
<ellipse cx="40.13" cy="212.38" rx="1.36" ry="1.62" fill="#2c3cc8"/>
<ellipse cx="37.20" cy="222.30" rx="1.58" ry="1.97" fill="#2c3cc8"/>
<ellipse cx="38.16" cy="231.91" rx="1.59" ry="3.28" fill="#2c3cc8"/>
<ellipse cx="32.92" cy="220.40" rx="2.29" ry="1.93" fill="#2c3cc8"/>
<ellipse cx="35.23" cy="223.47" rx="1.32" ry="1.93" fill="#6a88f4"/>
<ellipse cx="39.60" cy="225.37" rx="1.56" ry="2.52" fill="#6a88f4"/>
<ellipse cx="39.23" cy="215.68" rx="1.74" ry="2.32" fill="#6a88f4"/>
<ellipse cx="36.18" cy="211.63" rx="1.01" ry="2.45" fill="#6a88f4"/>
<ellipse cx="35.89" cy="222.67" rx="1.19" ry="1.68" fill="#6a88f4"/>
</g></g></g>
<line x1="52.20" y1="207.50" x2="52.20" y2="212.00" stroke="#bdbdbd" stroke-width="1.1" />
<path d="M52.20,245.00 C53.58,255.26 47.18,264.44 48.50,272.00" stroke="#a9a9ab" stroke-width="1.35" fill="none" stroke-linecap="round"/>
<polyline points="52.40,248.05 52.31,250.04 52.09,252.00 51.76,253.93 51.34,255.82 50.87,257.69 50.37,259.51" fill="none" stroke="#3080ff" stroke-width="1.55" stroke-linecap="round"/>
<line x1="46.31" y1="240.82" x2="44.11" y2="242.82" stroke="#8a8a8a" stroke-width="0.9" />
<line x1="46.44" y1="220.10" x2="44.94" y2="221.30" stroke="#777" stroke-width="0.8" />
<line x1="58.09" y1="240.82" x2="60.29" y2="242.82" stroke="#8a8a8a" stroke-width="0.9" />
<line x1="57.96" y1="220.10" x2="59.46" y2="221.30" stroke="#777" stroke-width="0.8" />
<clipPath id="m19"><path d="M52.20,209.00 C52.54,209.00 52.90,209.43 53.22,209.93 C53.54,210.42 53.76,211.19 54.12,211.96 C54.48,212.73 54.93,213.56 55.40,214.55 C55.87,215.54 56.49,216.65 56.94,217.88 C57.38,219.11 57.81,220.35 58.09,221.95 C58.37,223.55 58.51,225.22 58.60,227.50 C58.69,229.78 58.65,233.36 58.60,235.64 C58.55,237.92 58.58,239.65 58.28,241.19 C57.98,242.73 57.55,244.09 56.81,244.89 C56.06,245.69 55.34,246.00 53.80,246.00 C52.26,246.00 48.87,245.69 47.59,244.89 C46.31,244.09 46.42,242.73 46.12,241.19 C45.82,239.65 45.85,237.92 45.80,235.64 C45.75,233.36 45.71,229.78 45.80,227.50 C45.89,225.22 46.03,223.55 46.31,221.95 C46.59,220.35 47.02,219.11 47.46,217.88 C47.91,216.65 48.53,215.54 49.00,214.55 C49.47,213.56 49.92,212.73 50.28,211.96 C50.64,211.19 50.86,210.42 51.18,209.93 C51.50,209.43 51.86,209.00 52.20,209.00 Z"/></clipPath>
<g filter="url(#blurB)"><path d="M52.20,209.00 C52.54,209.00 52.90,209.43 53.22,209.93 C53.54,210.42 53.76,211.19 54.12,211.96 C54.48,212.73 54.93,213.56 55.40,214.55 C55.87,215.54 56.49,216.65 56.94,217.88 C57.38,219.11 57.81,220.35 58.09,221.95 C58.37,223.55 58.51,225.22 58.60,227.50 C58.69,229.78 58.65,233.36 58.60,235.64 C58.55,237.92 58.58,239.65 58.28,241.19 C57.98,242.73 57.55,244.09 56.81,244.89 C56.06,245.69 55.34,246.00 53.80,246.00 C52.26,246.00 48.87,245.69 47.59,244.89 C46.31,244.09 46.42,242.73 46.12,241.19 C45.82,239.65 45.85,237.92 45.80,235.64 C45.75,233.36 45.71,229.78 45.80,227.50 C45.89,225.22 46.03,223.55 46.31,221.95 C46.59,220.35 47.02,219.11 47.46,217.88 C47.91,216.65 48.53,215.54 49.00,214.55 C49.47,213.56 49.92,212.73 50.28,211.96 C50.64,211.19 50.86,210.42 51.18,209.93 C51.50,209.43 51.86,209.00 52.20,209.00 Z" fill="#e0e0e5"/>
<g clip-path="url(#m19)"><g filter="url(#blur05)">
<ellipse cx="52.98" cy="229.31" rx="1.51" ry="2.24" fill="#fafafa"/>
<ellipse cx="54.20" cy="217.93" rx="1.60" ry="1.35" fill="#c4c4c4"/>
<ellipse cx="54.30" cy="214.35" rx="1.21" ry="2.54" fill="#d0d0d0"/>
<ellipse cx="53.43" cy="225.46" rx="2.01" ry="2.26" fill="#c4c4c4"/>
<ellipse cx="55.66" cy="235.28" rx="1.66" ry="2.24" fill="#c4c4c4"/>
<ellipse cx="48.91" cy="240.58" rx="2.18" ry="1.87" fill="#f6f6f6"/>
<ellipse cx="49.66" cy="226.03" rx="1.09" ry="2.23" fill="#d0d0d0"/>
<ellipse cx="52.99" cy="225.02" rx="1.88" ry="2.28" fill="#c4c4c4"/>
<ellipse cx="56.41" cy="238.45" rx="1.26" ry="1.91" fill="#f6f6f6"/>
<ellipse cx="52.34" cy="241.48" rx="1.56" ry="2.09" fill="#f6f6f6"/>
<ellipse cx="56.17" cy="212.12" rx="1.22" ry="1.76" fill="#2c3cc8"/>
<ellipse cx="56.61" cy="214.37" rx="1.11" ry="1.91" fill="#2c3cc8"/>
<ellipse cx="51.07" cy="219.29" rx="1.53" ry="2.14" fill="#2c3cc8"/>
<ellipse cx="52.35" cy="212.44" rx="0.85" ry="1.09" fill="#6a88f4"/>
<ellipse cx="55.87" cy="212.23" rx="0.77" ry="1.19" fill="#6a88f4"/>
</g></g></g>
<line x1="69.00" y1="207.50" x2="69.00" y2="212.00" stroke="#bdbdbd" stroke-width="1.1" />
<path d="M69.00,245.00 C71.66,255.26 68.99,264.44 71.00,272.00" stroke="#a9a9ab" stroke-width="1.35" fill="none" stroke-linecap="round"/>
<polyline points="69.36,246.53 69.69,248.30 69.93,250.04 70.10,251.76 70.21,253.45 70.26,255.12 70.28,256.76" fill="none" stroke="#40c060" stroke-width="1.55" stroke-linecap="round"/>
<polyline points="70.28,256.76 70.26,258.60 70.23,260.41 70.19,262.18 70.18,263.92 70.20,265.62 70.28,267.27" fill="none" stroke="#e05010" stroke-width="1.55" stroke-linecap="round"/>
<polyline points="70.28,267.27 70.34,268.09 70.42,268.89 70.53,269.68 70.66,270.47 70.81,271.24 71.00,272.00" fill="none" stroke="#c03010" stroke-width="1.55" stroke-linecap="round"/>
<line x1="63.11" y1="240.82" x2="60.91" y2="242.82" stroke="#8a8a8a" stroke-width="0.9" />
<line x1="63.24" y1="220.10" x2="61.74" y2="221.30" stroke="#777" stroke-width="0.8" />
<line x1="74.89" y1="240.82" x2="77.09" y2="242.82" stroke="#8a8a8a" stroke-width="0.9" />
<line x1="74.76" y1="220.10" x2="76.26" y2="221.30" stroke="#777" stroke-width="0.8" />
<clipPath id="m20"><path d="M69.00,209.00 C69.34,209.00 69.70,209.43 70.02,209.93 C70.34,210.42 70.56,211.19 70.92,211.96 C71.28,212.73 71.73,213.56 72.20,214.55 C72.67,215.54 73.29,216.65 73.74,217.88 C74.18,219.11 74.61,220.35 74.89,221.95 C75.17,223.55 75.31,225.22 75.40,227.50 C75.49,229.78 75.45,233.36 75.40,235.64 C75.35,237.92 75.38,239.65 75.08,241.19 C74.78,242.73 74.35,244.09 73.61,244.89 C72.86,245.69 72.14,246.00 70.60,246.00 C69.06,246.00 65.67,245.69 64.39,244.89 C63.11,244.09 63.22,242.73 62.92,241.19 C62.62,239.65 62.65,237.92 62.60,235.64 C62.55,233.36 62.51,229.78 62.60,227.50 C62.69,225.22 62.83,223.55 63.11,221.95 C63.39,220.35 63.82,219.11 64.26,217.88 C64.71,216.65 65.33,215.54 65.80,214.55 C66.27,213.56 66.72,212.73 67.08,211.96 C67.44,211.19 67.66,210.42 67.98,209.93 C68.30,209.43 68.66,209.00 69.00,209.00 Z"/></clipPath>
<g filter="url(#blurB)"><path d="M69.00,209.00 C69.34,209.00 69.70,209.43 70.02,209.93 C70.34,210.42 70.56,211.19 70.92,211.96 C71.28,212.73 71.73,213.56 72.20,214.55 C72.67,215.54 73.29,216.65 73.74,217.88 C74.18,219.11 74.61,220.35 74.89,221.95 C75.17,223.55 75.31,225.22 75.40,227.50 C75.49,229.78 75.45,233.36 75.40,235.64 C75.35,237.92 75.38,239.65 75.08,241.19 C74.78,242.73 74.35,244.09 73.61,244.89 C72.86,245.69 72.14,246.00 70.60,246.00 C69.06,246.00 65.67,245.69 64.39,244.89 C63.11,244.09 63.22,242.73 62.92,241.19 C62.62,239.65 62.65,237.92 62.60,235.64 C62.55,233.36 62.51,229.78 62.60,227.50 C62.69,225.22 62.83,223.55 63.11,221.95 C63.39,220.35 63.82,219.11 64.26,217.88 C64.71,216.65 65.33,215.54 65.80,214.55 C66.27,213.56 66.72,212.73 67.08,211.96 C67.44,211.19 67.66,210.42 67.98,209.93 C68.30,209.43 68.66,209.00 69.00,209.00 Z" fill="#e0e0e5"/>
<g clip-path="url(#m20)"><g filter="url(#blur05)">
<ellipse cx="73.16" cy="239.48" rx="1.02" ry="1.44" fill="#f6f6f6"/>
<ellipse cx="64.73" cy="225.57" rx="1.14" ry="1.30" fill="#c4c4c4"/>
<ellipse cx="69.89" cy="239.16" rx="1.09" ry="2.01" fill="#fafafa"/>
<ellipse cx="70.41" cy="216.27" rx="2.07" ry="2.54" fill="#d0d0d0"/>
<ellipse cx="67.60" cy="217.62" rx="1.35" ry="1.47" fill="#d0d0d0"/>
<ellipse cx="71.04" cy="229.75" rx="1.58" ry="1.42" fill="#f6f6f6"/>
<ellipse cx="70.93" cy="228.76" rx="2.18" ry="2.26" fill="#d0d0d0"/>
<ellipse cx="66.45" cy="232.41" rx="1.69" ry="1.67" fill="#f6f6f6"/>
<ellipse cx="69.44" cy="229.17" rx="2.19" ry="1.32" fill="#c4c4c4"/>
<ellipse cx="65.47" cy="226.77" rx="1.43" ry="2.42" fill="#d0d0d0"/>
<ellipse cx="69.00" cy="227.50" rx="8.32" ry="22.94" fill="#2540f0"/>
<ellipse cx="68.98" cy="220.58" rx="1.96" ry="2.08" fill="#28b4f4"/>
<ellipse cx="68.74" cy="241.42" rx="1.16" ry="2.26" fill="#28b4f4"/>
<ellipse cx="70.69" cy="215.22" rx="1.26" ry="3.48" fill="#28b4f4"/>
<ellipse cx="73.61" cy="222.15" rx="1.31" ry="3.83" fill="#28b4f4"/>
<ellipse cx="67.36" cy="230.57" rx="1.92" ry="3.02" fill="#28b4f4"/>
<ellipse cx="72.99" cy="241.19" rx="2.04" ry="3.48" fill="#28b4f4"/>
<ellipse cx="71.82" cy="231.74" rx="1.66" ry="2.04" fill="#28b4f4"/>
<ellipse cx="66.76" cy="240.23" rx="2.05" ry="1.75" fill="#28b4f4"/>
<ellipse cx="66.54" cy="235.86" rx="1.13" ry="3.08" fill="#e0e0e5"/>
<ellipse cx="66.42" cy="236.70" rx="2.12" ry="2.18" fill="#e0e0e5"/>
<ellipse cx="73.49" cy="239.68" rx="1.63" ry="2.67" fill="#e0e0e5"/>
<ellipse cx="69.83" cy="233.50" rx="2.21" ry="2.19" fill="#e0e0e5"/>
<ellipse cx="73.64" cy="241.70" rx="0.96" ry="1.88" fill="#e0e0e5"/>
<ellipse cx="68.79" cy="241.06" rx="1.15" ry="2.64" fill="#e0e0e5"/>
<ellipse cx="73.59" cy="224.81" rx="1.63" ry="2.07" fill="#48e848"/>
<ellipse cx="73.24" cy="231.33" rx="1.84" ry="1.46" fill="#48e848"/>
<ellipse cx="73.75" cy="231.44" rx="1.01" ry="1.81" fill="#48e848"/>
<ellipse cx="70.26" cy="224.43" rx="1.24" ry="1.19" fill="#48e848"/>
<ellipse cx="64.87" cy="226.95" rx="1.07" ry="1.68" fill="#48e848"/>
<ellipse cx="69.00" cy="220.10" rx="3.84" ry="3.70" fill="#48e848"/>
<ellipse cx="69.00" cy="220.10" rx="2.69" ry="2.59" fill="#ecec28"/>
<ellipse cx="69.00" cy="220.10" rx="1.54" ry="1.67" fill="#f41818"/>
</g></g></g>
<text x="10.80" y="273.70" font-size="7.5" fill="#d83030" opacity="0.85">p-3</text>
<rect x="83.70" y="206.00" width="69.30" height="69.50" fill="#313133" stroke="none" stroke-width="1" />
<line x1="95.40" y1="206.50" x2="95.40" y2="212.00" stroke="#bdbdbd" stroke-width="1.1" />
<path d="M95.40,242.00 C97.61,253.40 91.09,263.60 93.00,272.00" stroke="#a9a9ab" stroke-width="1.35" fill="none" stroke-linecap="round"/>
<polyline points="95.67,243.70 95.86,247.32 95.63,250.85 95.11,254.29 94.42,257.62 93.71,260.85 93.09,263.97" fill="none" stroke="#50c060" stroke-width="1.55" stroke-linecap="round"/>
<line x1="89.51" y1="238.24" x2="87.31" y2="240.24" stroke="#8a8a8a" stroke-width="0.9" />
<line x1="89.64" y1="219.20" x2="88.14" y2="220.40" stroke="#777" stroke-width="0.8" />
<line x1="101.29" y1="238.24" x2="103.49" y2="240.24" stroke="#8a8a8a" stroke-width="0.9" />
<line x1="101.16" y1="219.20" x2="102.66" y2="220.40" stroke="#777" stroke-width="0.8" />
<clipPath id="m21"><path d="M95.40,209.00 C95.74,209.00 96.10,209.40 96.42,209.85 C96.74,210.30 96.96,211.01 97.32,211.72 C97.68,212.43 98.13,213.19 98.60,214.10 C99.07,215.01 99.69,216.03 100.14,217.16 C100.58,218.29 101.01,219.43 101.29,220.90 C101.57,222.37 101.71,223.90 101.80,226.00 C101.89,228.10 101.85,231.38 101.80,233.48 C101.75,235.58 101.78,237.16 101.48,238.58 C101.18,240.00 100.75,241.24 100.01,241.98 C99.26,242.72 98.54,243.00 97.00,243.00 C95.46,243.00 92.07,242.72 90.79,241.98 C89.51,241.24 89.62,240.00 89.32,238.58 C89.02,237.16 89.05,235.58 89.00,233.48 C88.95,231.38 88.91,228.10 89.00,226.00 C89.09,223.90 89.23,222.37 89.51,220.90 C89.79,219.43 90.22,218.29 90.66,217.16 C91.11,216.03 91.73,215.01 92.20,214.10 C92.67,213.19 93.12,212.43 93.48,211.72 C93.84,211.01 94.06,210.30 94.38,209.85 C94.70,209.40 95.06,209.00 95.40,209.00 Z"/></clipPath>
<g filter="url(#blurB)"><path d="M95.40,209.00 C95.74,209.00 96.10,209.40 96.42,209.85 C96.74,210.30 96.96,211.01 97.32,211.72 C97.68,212.43 98.13,213.19 98.60,214.10 C99.07,215.01 99.69,216.03 100.14,217.16 C100.58,218.29 101.01,219.43 101.29,220.90 C101.57,222.37 101.71,223.90 101.80,226.00 C101.89,228.10 101.85,231.38 101.80,233.48 C101.75,235.58 101.78,237.16 101.48,238.58 C101.18,240.00 100.75,241.24 100.01,241.98 C99.26,242.72 98.54,243.00 97.00,243.00 C95.46,243.00 92.07,242.72 90.79,241.98 C89.51,241.24 89.62,240.00 89.32,238.58 C89.02,237.16 89.05,235.58 89.00,233.48 C88.95,231.38 88.91,228.10 89.00,226.00 C89.09,223.90 89.23,222.37 89.51,220.90 C89.79,219.43 90.22,218.29 90.66,217.16 C91.11,216.03 91.73,215.01 92.20,214.10 C92.67,213.19 93.12,212.43 93.48,211.72 C93.84,211.01 94.06,210.30 94.38,209.85 C94.70,209.40 95.06,209.00 95.40,209.00 Z" fill="#e0e0e5"/>
<g clip-path="url(#m21)"><g filter="url(#blur05)">
<ellipse cx="98.72" cy="238.27" rx="1.20" ry="1.43" fill="#fafafa"/>
<ellipse cx="91.77" cy="224.54" rx="2.04" ry="1.42" fill="#d0d0d0"/>
<ellipse cx="97.86" cy="239.29" rx="1.53" ry="2.04" fill="#c4c4c4"/>
<ellipse cx="99.68" cy="235.62" rx="2.00" ry="1.20" fill="#d0d0d0"/>
<ellipse cx="99.99" cy="232.05" rx="1.58" ry="1.19" fill="#c4c4c4"/>
<ellipse cx="91.37" cy="216.47" rx="2.24" ry="2.10" fill="#fafafa"/>
<ellipse cx="95.01" cy="229.16" rx="2.23" ry="1.82" fill="#fafafa"/>
<ellipse cx="92.03" cy="213.40" rx="1.34" ry="1.29" fill="#d0d0d0"/>
<ellipse cx="91.50" cy="234.48" rx="2.19" ry="1.08" fill="#d0d0d0"/>
<ellipse cx="98.00" cy="214.51" rx="2.01" ry="1.75" fill="#f6f6f6"/>
<ellipse cx="95.35" cy="221.11" rx="2.09" ry="1.97" fill="#2c3cc8"/>
<ellipse cx="93.68" cy="223.66" rx="1.65" ry="2.05" fill="#2c3cc8"/>
<ellipse cx="94.49" cy="216.87" rx="1.21" ry="2.62" fill="#2c3cc8"/>
<ellipse cx="99.18" cy="223.58" rx="1.85" ry="2.00" fill="#2c3cc8"/>
<ellipse cx="94.76" cy="213.40" rx="1.98" ry="1.92" fill="#2c3cc8"/>
<ellipse cx="93.40" cy="229.04" rx="1.45" ry="3.34" fill="#2c3cc8"/>
<ellipse cx="96.53" cy="224.93" rx="1.84" ry="1.67" fill="#2c3cc8"/>
<ellipse cx="97.44" cy="215.54" rx="1.54" ry="1.57" fill="#2c3cc8"/>
<ellipse cx="91.16" cy="217.57" rx="1.00" ry="2.10" fill="#2c3cc8"/>
<ellipse cx="98.76" cy="229.37" rx="1.56" ry="1.53" fill="#2c3cc8"/>
<ellipse cx="96.29" cy="214.38" rx="1.44" ry="1.41" fill="#6a88f4"/>
<ellipse cx="92.76" cy="217.23" rx="1.41" ry="2.29" fill="#6a88f4"/>
<ellipse cx="99.10" cy="221.10" rx="1.04" ry="1.81" fill="#6a88f4"/>
<ellipse cx="90.69" cy="222.19" rx="1.68" ry="1.98" fill="#6a88f4"/>
<ellipse cx="99.87" cy="227.92" rx="1.74" ry="1.92" fill="#6a88f4"/>
</g></g></g>
<line x1="112.20" y1="206.50" x2="112.20" y2="212.00" stroke="#bdbdbd" stroke-width="1.1" />
<path d="M112.20,242.00 C113.96,251.12 121.18,259.28 122.00,266.00" stroke="#a9a9ab" stroke-width="1.35" fill="none" stroke-linecap="round"/>
<polyline points="112.50,243.36 113.56,246.70 114.94,249.94 116.49,253.07 118.09,256.10 119.58,259.01 120.84,261.80" fill="none" stroke="#3898ff" stroke-width="1.55" stroke-linecap="round"/>
<line x1="106.31" y1="238.24" x2="104.11" y2="240.24" stroke="#8a8a8a" stroke-width="0.9" />
<line x1="106.44" y1="219.20" x2="104.94" y2="220.40" stroke="#777" stroke-width="0.8" />
<line x1="118.09" y1="238.24" x2="120.29" y2="240.24" stroke="#8a8a8a" stroke-width="0.9" />
<line x1="117.96" y1="219.20" x2="119.46" y2="220.40" stroke="#777" stroke-width="0.8" />
<clipPath id="m22"><path d="M112.20,209.00 C112.54,209.00 112.90,209.40 113.22,209.85 C113.54,210.30 113.76,211.01 114.12,211.72 C114.48,212.43 114.93,213.19 115.40,214.10 C115.87,215.01 116.49,216.03 116.94,217.16 C117.38,218.29 117.81,219.43 118.09,220.90 C118.37,222.37 118.51,223.90 118.60,226.00 C118.69,228.10 118.65,231.38 118.60,233.48 C118.55,235.58 118.58,237.16 118.28,238.58 C117.98,240.00 117.55,241.24 116.81,241.98 C116.06,242.72 115.34,243.00 113.80,243.00 C112.26,243.00 108.87,242.72 107.59,241.98 C106.31,241.24 106.42,240.00 106.12,238.58 C105.82,237.16 105.85,235.58 105.80,233.48 C105.75,231.38 105.71,228.10 105.80,226.00 C105.89,223.90 106.03,222.37 106.31,220.90 C106.59,219.43 107.02,218.29 107.46,217.16 C107.91,216.03 108.53,215.01 109.00,214.10 C109.47,213.19 109.92,212.43 110.28,211.72 C110.64,211.01 110.86,210.30 111.18,209.85 C111.50,209.40 111.86,209.00 112.20,209.00 Z"/></clipPath>
<g filter="url(#blurB)"><path d="M112.20,209.00 C112.54,209.00 112.90,209.40 113.22,209.85 C113.54,210.30 113.76,211.01 114.12,211.72 C114.48,212.43 114.93,213.19 115.40,214.10 C115.87,215.01 116.49,216.03 116.94,217.16 C117.38,218.29 117.81,219.43 118.09,220.90 C118.37,222.37 118.51,223.90 118.60,226.00 C118.69,228.10 118.65,231.38 118.60,233.48 C118.55,235.58 118.58,237.16 118.28,238.58 C117.98,240.00 117.55,241.24 116.81,241.98 C116.06,242.72 115.34,243.00 113.80,243.00 C112.26,243.00 108.87,242.72 107.59,241.98 C106.31,241.24 106.42,240.00 106.12,238.58 C105.82,237.16 105.85,235.58 105.80,233.48 C105.75,231.38 105.71,228.10 105.80,226.00 C105.89,223.90 106.03,222.37 106.31,220.90 C106.59,219.43 107.02,218.29 107.46,217.16 C107.91,216.03 108.53,215.01 109.00,214.10 C109.47,213.19 109.92,212.43 110.28,211.72 C110.64,211.01 110.86,210.30 111.18,209.85 C111.50,209.40 111.86,209.00 112.20,209.00 Z" fill="#e0e0e5"/>
<g clip-path="url(#m22)"><g filter="url(#blur05)">
<ellipse cx="113.34" cy="218.90" rx="0.98" ry="1.50" fill="#f6f6f6"/>
<ellipse cx="110.33" cy="216.41" rx="1.19" ry="2.02" fill="#c4c4c4"/>
<ellipse cx="108.21" cy="232.40" rx="2.07" ry="1.55" fill="#fafafa"/>
<ellipse cx="116.82" cy="233.05" rx="1.68" ry="1.61" fill="#f6f6f6"/>
<ellipse cx="114.93" cy="213.18" rx="1.90" ry="1.17" fill="#d0d0d0"/>
<ellipse cx="110.90" cy="236.75" rx="1.42" ry="2.38" fill="#d0d0d0"/>
<ellipse cx="116.07" cy="237.58" rx="2.08" ry="2.21" fill="#d0d0d0"/>
<ellipse cx="107.53" cy="214.67" rx="1.04" ry="1.99" fill="#f6f6f6"/>
<ellipse cx="113.90" cy="231.15" rx="1.83" ry="2.21" fill="#d0d0d0"/>
<ellipse cx="108.50" cy="230.56" rx="1.43" ry="2.28" fill="#fafafa"/>
<ellipse cx="116.31" cy="214.52" rx="2.31" ry="1.80" fill="#2c3cc8"/>
<ellipse cx="111.86" cy="230.54" rx="1.47" ry="2.36" fill="#2c3cc8"/>
<ellipse cx="108.95" cy="231.94" rx="2.33" ry="1.66" fill="#2c3cc8"/>
<ellipse cx="108.58" cy="221.14" rx="1.69" ry="2.91" fill="#2c3cc8"/>
<ellipse cx="110.69" cy="223.74" rx="1.20" ry="1.74" fill="#2c3cc8"/>
<ellipse cx="108.16" cy="222.76" rx="1.75" ry="2.58" fill="#2c3cc8"/>
<ellipse cx="116.38" cy="217.47" rx="1.45" ry="2.26" fill="#2c3cc8"/>
<ellipse cx="116.48" cy="217.49" rx="1.38" ry="2.19" fill="#2c3cc8"/>
<ellipse cx="114.02" cy="216.88" rx="1.22" ry="2.82" fill="#2c3cc8"/>
<ellipse cx="112.92" cy="223.50" rx="1.00" ry="1.82" fill="#2c3cc8"/>
<ellipse cx="114.47" cy="226.25" rx="1.69" ry="2.51" fill="#6a88f4"/>
<ellipse cx="107.95" cy="213.29" rx="1.24" ry="2.30" fill="#6a88f4"/>
<ellipse cx="110.84" cy="229.04" rx="0.88" ry="2.59" fill="#6a88f4"/>
<ellipse cx="112.16" cy="228.76" rx="0.83" ry="2.33" fill="#6a88f4"/>
<ellipse cx="107.51" cy="227.26" rx="1.69" ry="2.13" fill="#6a88f4"/>
</g></g></g>
<line x1="129.00" y1="206.50" x2="129.00" y2="212.00" stroke="#bdbdbd" stroke-width="1.1" />
<path d="M129.00,242.00 C128.29,253.40 129.57,263.60 129.00,272.00" stroke="#a9a9ab" stroke-width="1.35" fill="none" stroke-linecap="round"/>
<polyline points="128.91,243.70 128.79,248.15 128.80,252.45 128.90,256.61 129.03,260.61 129.13,264.44 129.14,268.10" fill="none" stroke="#50c060" stroke-width="1.55" stroke-linecap="round"/>
<line x1="123.11" y1="238.24" x2="120.91" y2="240.24" stroke="#8a8a8a" stroke-width="0.9" />
<line x1="123.24" y1="219.20" x2="121.74" y2="220.40" stroke="#777" stroke-width="0.8" />
<line x1="134.89" y1="238.24" x2="137.09" y2="240.24" stroke="#8a8a8a" stroke-width="0.9" />
<line x1="134.76" y1="219.20" x2="136.26" y2="220.40" stroke="#777" stroke-width="0.8" />
<clipPath id="m23"><path d="M129.00,209.00 C129.34,209.00 129.70,209.40 130.02,209.85 C130.34,210.30 130.56,211.01 130.92,211.72 C131.28,212.43 131.73,213.19 132.20,214.10 C132.67,215.01 133.29,216.03 133.74,217.16 C134.18,218.29 134.61,219.43 134.89,220.90 C135.17,222.37 135.31,223.90 135.40,226.00 C135.49,228.10 135.45,231.38 135.40,233.48 C135.35,235.58 135.38,237.16 135.08,238.58 C134.78,240.00 134.35,241.24 133.61,241.98 C132.86,242.72 132.14,243.00 130.60,243.00 C129.06,243.00 125.67,242.72 124.39,241.98 C123.11,241.24 123.22,240.00 122.92,238.58 C122.62,237.16 122.65,235.58 122.60,233.48 C122.55,231.38 122.51,228.10 122.60,226.00 C122.69,223.90 122.83,222.37 123.11,220.90 C123.39,219.43 123.82,218.29 124.26,217.16 C124.71,216.03 125.33,215.01 125.80,214.10 C126.27,213.19 126.72,212.43 127.08,211.72 C127.44,211.01 127.66,210.30 127.98,209.85 C128.30,209.40 128.66,209.00 129.00,209.00 Z"/></clipPath>
<g filter="url(#blurB)"><path d="M129.00,209.00 C129.34,209.00 129.70,209.40 130.02,209.85 C130.34,210.30 130.56,211.01 130.92,211.72 C131.28,212.43 131.73,213.19 132.20,214.10 C132.67,215.01 133.29,216.03 133.74,217.16 C134.18,218.29 134.61,219.43 134.89,220.90 C135.17,222.37 135.31,223.90 135.40,226.00 C135.49,228.10 135.45,231.38 135.40,233.48 C135.35,235.58 135.38,237.16 135.08,238.58 C134.78,240.00 134.35,241.24 133.61,241.98 C132.86,242.72 132.14,243.00 130.60,243.00 C129.06,243.00 125.67,242.72 124.39,241.98 C123.11,241.24 123.22,240.00 122.92,238.58 C122.62,237.16 122.65,235.58 122.60,233.48 C122.55,231.38 122.51,228.10 122.60,226.00 C122.69,223.90 122.83,222.37 123.11,220.90 C123.39,219.43 123.82,218.29 124.26,217.16 C124.71,216.03 125.33,215.01 125.80,214.10 C126.27,213.19 126.72,212.43 127.08,211.72 C127.44,211.01 127.66,210.30 127.98,209.85 C128.30,209.40 128.66,209.00 129.00,209.00 Z" fill="#e0e0e5"/>
<g clip-path="url(#m23)"><g filter="url(#blur05)">
<ellipse cx="124.86" cy="221.10" rx="2.17" ry="1.65" fill="#fafafa"/>
<ellipse cx="125.12" cy="224.39" rx="0.97" ry="2.19" fill="#f6f6f6"/>
<ellipse cx="125.46" cy="221.26" rx="1.78" ry="2.15" fill="#c4c4c4"/>
<ellipse cx="131.14" cy="236.81" rx="1.11" ry="1.14" fill="#d0d0d0"/>
<ellipse cx="131.72" cy="214.20" rx="1.86" ry="1.97" fill="#c4c4c4"/>
<ellipse cx="133.04" cy="228.24" rx="1.93" ry="2.38" fill="#fafafa"/>
<ellipse cx="124.75" cy="213.41" rx="1.21" ry="1.13" fill="#c4c4c4"/>
<ellipse cx="130.79" cy="225.34" rx="1.46" ry="2.11" fill="#f6f6f6"/>
<ellipse cx="130.56" cy="221.48" rx="1.54" ry="1.84" fill="#d0d0d0"/>
<ellipse cx="127.32" cy="217.21" rx="1.94" ry="1.55" fill="#d0d0d0"/>
<ellipse cx="128.47" cy="214.20" rx="2.23" ry="2.31" fill="#2c3cc8"/>
<ellipse cx="125.04" cy="219.62" rx="1.08" ry="1.72" fill="#2c3cc8"/>
<ellipse cx="124.91" cy="218.18" rx="2.13" ry="2.57" fill="#2c3cc8"/>
<ellipse cx="126.34" cy="220.76" rx="2.17" ry="1.98" fill="#2c3cc8"/>
<ellipse cx="126.83" cy="218.72" rx="2.31" ry="3.20" fill="#2c3cc8"/>
<ellipse cx="129.21" cy="221.05" rx="1.15" ry="1.08" fill="#6a88f4"/>
<ellipse cx="133.28" cy="221.86" rx="1.84" ry="1.70" fill="#6a88f4"/>
</g></g></g>
<line x1="143.70" y1="206.50" x2="143.70" y2="212.00" stroke="#bdbdbd" stroke-width="1.1" />
<path d="M143.70,242.00 C144.29,253.40 142.48,263.60 143.00,272.00" stroke="#a9a9ab" stroke-width="1.35" fill="none" stroke-linecap="round"/>
<polyline points="143.77,243.70 143.81,248.15 143.69,252.45 143.47,256.61 143.22,260.61 143.01,264.44 142.91,268.10" fill="none" stroke="#50c060" stroke-width="1.55" stroke-linecap="round"/>
<line x1="137.81" y1="238.24" x2="135.61" y2="240.24" stroke="#8a8a8a" stroke-width="0.9" />
<line x1="137.94" y1="219.20" x2="136.44" y2="220.40" stroke="#777" stroke-width="0.8" />
<line x1="149.59" y1="238.24" x2="151.79" y2="240.24" stroke="#8a8a8a" stroke-width="0.9" />
<line x1="149.46" y1="219.20" x2="150.96" y2="220.40" stroke="#777" stroke-width="0.8" />
<clipPath id="m24"><path d="M143.70,209.00 C144.04,209.00 144.40,209.40 144.72,209.85 C145.04,210.30 145.26,211.01 145.62,211.72 C145.98,212.43 146.43,213.19 146.90,214.10 C147.37,215.01 147.99,216.03 148.44,217.16 C148.88,218.29 149.31,219.43 149.59,220.90 C149.87,222.37 150.01,223.90 150.10,226.00 C150.19,228.10 150.15,231.38 150.10,233.48 C150.05,235.58 150.08,237.16 149.78,238.58 C149.48,240.00 149.05,241.24 148.31,241.98 C147.56,242.72 146.84,243.00 145.30,243.00 C143.76,243.00 140.37,242.72 139.09,241.98 C137.81,241.24 137.92,240.00 137.62,238.58 C137.32,237.16 137.35,235.58 137.30,233.48 C137.25,231.38 137.21,228.10 137.30,226.00 C137.39,223.90 137.53,222.37 137.81,220.90 C138.09,219.43 138.52,218.29 138.96,217.16 C139.41,216.03 140.03,215.01 140.50,214.10 C140.97,213.19 141.42,212.43 141.78,211.72 C142.14,211.01 142.36,210.30 142.68,209.85 C143.00,209.40 143.36,209.00 143.70,209.00 Z"/></clipPath>
<g filter="url(#blurB)"><path d="M143.70,209.00 C144.04,209.00 144.40,209.40 144.72,209.85 C145.04,210.30 145.26,211.01 145.62,211.72 C145.98,212.43 146.43,213.19 146.90,214.10 C147.37,215.01 147.99,216.03 148.44,217.16 C148.88,218.29 149.31,219.43 149.59,220.90 C149.87,222.37 150.01,223.90 150.10,226.00 C150.19,228.10 150.15,231.38 150.10,233.48 C150.05,235.58 150.08,237.16 149.78,238.58 C149.48,240.00 149.05,241.24 148.31,241.98 C147.56,242.72 146.84,243.00 145.30,243.00 C143.76,243.00 140.37,242.72 139.09,241.98 C137.81,241.24 137.92,240.00 137.62,238.58 C137.32,237.16 137.35,235.58 137.30,233.48 C137.25,231.38 137.21,228.10 137.30,226.00 C137.39,223.90 137.53,222.37 137.81,220.90 C138.09,219.43 138.52,218.29 138.96,217.16 C139.41,216.03 140.03,215.01 140.50,214.10 C140.97,213.19 141.42,212.43 141.78,211.72 C142.14,211.01 142.36,210.30 142.68,209.85 C143.00,209.40 143.36,209.00 143.70,209.00 Z" fill="#e0e0e5"/>
<g clip-path="url(#m24)"><g filter="url(#blur05)">
<ellipse cx="146.58" cy="228.64" rx="2.22" ry="1.18" fill="#fafafa"/>
<ellipse cx="148.04" cy="217.42" rx="2.23" ry="1.46" fill="#f6f6f6"/>
<ellipse cx="140.36" cy="234.50" rx="2.14" ry="1.33" fill="#f6f6f6"/>
<ellipse cx="147.13" cy="234.50" rx="1.75" ry="1.28" fill="#c4c4c4"/>
<ellipse cx="140.43" cy="236.07" rx="1.73" ry="1.90" fill="#c4c4c4"/>
<ellipse cx="144.52" cy="236.93" rx="1.96" ry="1.99" fill="#fafafa"/>
<ellipse cx="139.86" cy="216.17" rx="1.57" ry="1.82" fill="#c4c4c4"/>
<ellipse cx="142.92" cy="216.93" rx="1.25" ry="1.69" fill="#d0d0d0"/>
<ellipse cx="147.54" cy="240.11" rx="2.11" ry="2.34" fill="#f6f6f6"/>
<ellipse cx="141.66" cy="227.79" rx="1.49" ry="1.72" fill="#fafafa"/>
<ellipse cx="143.47" cy="224.63" rx="1.53" ry="3.21" fill="#2c3cc8"/>
<ellipse cx="139.06" cy="232.53" rx="1.94" ry="2.97" fill="#2c3cc8"/>
<ellipse cx="146.61" cy="215.15" rx="2.10" ry="2.66" fill="#2c3cc8"/>
<ellipse cx="140.32" cy="229.74" rx="1.58" ry="2.80" fill="#2c3cc8"/>
<ellipse cx="139.70" cy="225.72" rx="0.99" ry="1.43" fill="#2c3cc8"/>
<ellipse cx="139.91" cy="211.71" rx="1.79" ry="1.76" fill="#2c3cc8"/>
<ellipse cx="140.79" cy="228.71" rx="2.03" ry="2.13" fill="#2c3cc8"/>
<ellipse cx="140.95" cy="227.11" rx="1.73" ry="2.05" fill="#2c3cc8"/>
<ellipse cx="141.85" cy="218.75" rx="1.65" ry="1.67" fill="#2c3cc8"/>
<ellipse cx="138.92" cy="220.99" rx="1.27" ry="1.42" fill="#2c3cc8"/>
<ellipse cx="147.79" cy="215.05" rx="1.18" ry="1.60" fill="#6a88f4"/>
<ellipse cx="145.72" cy="216.82" rx="1.01" ry="1.22" fill="#6a88f4"/>
<ellipse cx="146.16" cy="230.02" rx="1.07" ry="1.11" fill="#6a88f4"/>
<ellipse cx="145.61" cy="223.62" rx="1.71" ry="2.39" fill="#6a88f4"/>
<ellipse cx="142.38" cy="222.04" rx="1.11" ry="1.21" fill="#6a88f4"/>
<ellipse cx="143.70" cy="219.20" rx="2.56" ry="2.04" fill="#48e848"/>
</g></g></g>
<rect x="9.80" y="288.80" width="69.00" height="65.80" fill="#313133" stroke="none" stroke-width="1" />
<line x1="21.60" y1="289.30" x2="21.60" y2="294.00" stroke="#bdbdbd" stroke-width="1.1" />
<path d="M21.60,324.00 C23.36,333.88 14.25,342.72 16.00,350.00" stroke="#a9a9ab" stroke-width="1.35" fill="none" stroke-linecap="round"/>
<line x1="15.71" y1="320.24" x2="13.51" y2="322.24" stroke="#8a8a8a" stroke-width="0.9" />
<line x1="15.84" y1="301.20" x2="14.34" y2="302.40" stroke="#777" stroke-width="0.8" />
<line x1="27.49" y1="320.24" x2="29.69" y2="322.24" stroke="#8a8a8a" stroke-width="0.9" />
<line x1="27.36" y1="301.20" x2="28.86" y2="302.40" stroke="#777" stroke-width="0.8" />
<clipPath id="m25"><path d="M21.60,291.00 C21.94,291.00 22.30,291.40 22.62,291.85 C22.94,292.30 23.16,293.01 23.52,293.72 C23.88,294.43 24.33,295.19 24.80,296.10 C25.27,297.01 25.89,298.03 26.34,299.16 C26.78,300.29 27.21,301.43 27.49,302.90 C27.77,304.37 27.91,305.90 28.00,308.00 C28.09,310.10 28.05,313.38 28.00,315.48 C27.95,317.58 27.98,319.16 27.68,320.58 C27.38,322.00 26.95,323.24 26.21,323.98 C25.46,324.72 24.74,325.00 23.20,325.00 C21.66,325.00 18.27,324.72 16.99,323.98 C15.71,323.24 15.82,322.00 15.52,320.58 C15.22,319.16 15.25,317.58 15.20,315.48 C15.15,313.38 15.11,310.10 15.20,308.00 C15.29,305.90 15.43,304.37 15.71,302.90 C15.99,301.43 16.42,300.29 16.86,299.16 C17.31,298.03 17.93,297.01 18.40,296.10 C18.87,295.19 19.32,294.43 19.68,293.72 C20.04,293.01 20.26,292.30 20.58,291.85 C20.90,291.40 21.26,291.00 21.60,291.00 Z"/></clipPath>
<g filter="url(#blurB)"><path d="M21.60,291.00 C21.94,291.00 22.30,291.40 22.62,291.85 C22.94,292.30 23.16,293.01 23.52,293.72 C23.88,294.43 24.33,295.19 24.80,296.10 C25.27,297.01 25.89,298.03 26.34,299.16 C26.78,300.29 27.21,301.43 27.49,302.90 C27.77,304.37 27.91,305.90 28.00,308.00 C28.09,310.10 28.05,313.38 28.00,315.48 C27.95,317.58 27.98,319.16 27.68,320.58 C27.38,322.00 26.95,323.24 26.21,323.98 C25.46,324.72 24.74,325.00 23.20,325.00 C21.66,325.00 18.27,324.72 16.99,323.98 C15.71,323.24 15.82,322.00 15.52,320.58 C15.22,319.16 15.25,317.58 15.20,315.48 C15.15,313.38 15.11,310.10 15.20,308.00 C15.29,305.90 15.43,304.37 15.71,302.90 C15.99,301.43 16.42,300.29 16.86,299.16 C17.31,298.03 17.93,297.01 18.40,296.10 C18.87,295.19 19.32,294.43 19.68,293.72 C20.04,293.01 20.26,292.30 20.58,291.85 C20.90,291.40 21.26,291.00 21.60,291.00 Z" fill="#e0e0e5"/>
<g clip-path="url(#m25)"><g filter="url(#blur05)">
<ellipse cx="26.19" cy="322.04" rx="2.10" ry="1.90" fill="#d0d0d0"/>
<ellipse cx="25.90" cy="308.39" rx="1.32" ry="1.13" fill="#fafafa"/>
<ellipse cx="25.15" cy="301.34" rx="1.24" ry="2.34" fill="#fafafa"/>
<ellipse cx="18.92" cy="316.70" rx="1.63" ry="2.15" fill="#fafafa"/>
<ellipse cx="17.64" cy="313.40" rx="1.91" ry="1.18" fill="#d0d0d0"/>
<ellipse cx="20.62" cy="296.67" rx="2.07" ry="1.81" fill="#fafafa"/>
<ellipse cx="21.79" cy="301.74" rx="1.71" ry="2.31" fill="#d0d0d0"/>
<ellipse cx="25.50" cy="295.11" rx="1.18" ry="1.89" fill="#fafafa"/>
<ellipse cx="23.29" cy="319.17" rx="2.07" ry="1.53" fill="#f6f6f6"/>
<ellipse cx="18.46" cy="304.56" rx="2.02" ry="1.79" fill="#c4c4c4"/>
</g></g></g>
<line x1="37.70" y1="289.30" x2="37.70" y2="294.00" stroke="#bdbdbd" stroke-width="1.1" />
<path d="M37.70,324.00 C35.69,333.88 31.15,342.72 30.00,350.00" stroke="#a9a9ab" stroke-width="1.35" fill="none" stroke-linecap="round"/>
<polyline points="37.38,325.47 36.84,327.66 36.24,329.80 35.59,331.90 34.91,333.97 34.22,335.99 33.53,337.98" fill="none" stroke="#3090ff" stroke-width="1.55" stroke-linecap="round"/>
<polyline points="33.53,337.98 32.92,339.70 32.34,341.39 31.79,343.04 31.28,344.66 30.83,346.23 30.44,347.77" fill="none" stroke="#40c070" stroke-width="1.55" stroke-linecap="round"/>
<line x1="31.81" y1="320.24" x2="29.61" y2="322.24" stroke="#8a8a8a" stroke-width="0.9" />
<line x1="31.94" y1="301.20" x2="30.44" y2="302.40" stroke="#777" stroke-width="0.8" />
<line x1="43.59" y1="320.24" x2="45.79" y2="322.24" stroke="#8a8a8a" stroke-width="0.9" />
<line x1="43.46" y1="301.20" x2="44.96" y2="302.40" stroke="#777" stroke-width="0.8" />
<clipPath id="m26"><path d="M37.70,291.00 C38.04,291.00 38.40,291.40 38.72,291.85 C39.04,292.30 39.26,293.01 39.62,293.72 C39.98,294.43 40.43,295.19 40.90,296.10 C41.37,297.01 41.99,298.03 42.44,299.16 C42.88,300.29 43.31,301.43 43.59,302.90 C43.87,304.37 44.01,305.90 44.10,308.00 C44.19,310.10 44.15,313.38 44.10,315.48 C44.05,317.58 44.08,319.16 43.78,320.58 C43.48,322.00 43.05,323.24 42.31,323.98 C41.56,324.72 40.84,325.00 39.30,325.00 C37.76,325.00 34.37,324.72 33.09,323.98 C31.81,323.24 31.92,322.00 31.62,320.58 C31.32,319.16 31.35,317.58 31.30,315.48 C31.25,313.38 31.21,310.10 31.30,308.00 C31.39,305.90 31.53,304.37 31.81,302.90 C32.09,301.43 32.52,300.29 32.96,299.16 C33.41,298.03 34.03,297.01 34.50,296.10 C34.97,295.19 35.42,294.43 35.78,293.72 C36.14,293.01 36.36,292.30 36.68,291.85 C37.00,291.40 37.36,291.00 37.70,291.00 Z"/></clipPath>
<g filter="url(#blurB)"><path d="M37.70,291.00 C38.04,291.00 38.40,291.40 38.72,291.85 C39.04,292.30 39.26,293.01 39.62,293.72 C39.98,294.43 40.43,295.19 40.90,296.10 C41.37,297.01 41.99,298.03 42.44,299.16 C42.88,300.29 43.31,301.43 43.59,302.90 C43.87,304.37 44.01,305.90 44.10,308.00 C44.19,310.10 44.15,313.38 44.10,315.48 C44.05,317.58 44.08,319.16 43.78,320.58 C43.48,322.00 43.05,323.24 42.31,323.98 C41.56,324.72 40.84,325.00 39.30,325.00 C37.76,325.00 34.37,324.72 33.09,323.98 C31.81,323.24 31.92,322.00 31.62,320.58 C31.32,319.16 31.35,317.58 31.30,315.48 C31.25,313.38 31.21,310.10 31.30,308.00 C31.39,305.90 31.53,304.37 31.81,302.90 C32.09,301.43 32.52,300.29 32.96,299.16 C33.41,298.03 34.03,297.01 34.50,296.10 C34.97,295.19 35.42,294.43 35.78,293.72 C36.14,293.01 36.36,292.30 36.68,291.85 C37.00,291.40 37.36,291.00 37.70,291.00 Z" fill="#e0e0e5"/>
<g clip-path="url(#m26)"><g filter="url(#blur05)">
<ellipse cx="41.80" cy="317.66" rx="1.15" ry="1.43" fill="#fafafa"/>
<ellipse cx="37.46" cy="306.00" rx="0.96" ry="1.81" fill="#f6f6f6"/>
<ellipse cx="41.24" cy="302.05" rx="2.12" ry="1.06" fill="#f6f6f6"/>
<ellipse cx="40.30" cy="305.42" rx="1.64" ry="1.38" fill="#f6f6f6"/>
<ellipse cx="39.88" cy="305.43" rx="2.00" ry="1.20" fill="#f6f6f6"/>
<ellipse cx="34.48" cy="316.70" rx="1.99" ry="1.67" fill="#d0d0d0"/>
<ellipse cx="33.10" cy="322.08" rx="1.79" ry="1.15" fill="#fafafa"/>
<ellipse cx="41.90" cy="305.64" rx="1.17" ry="1.95" fill="#fafafa"/>
<ellipse cx="35.99" cy="308.73" rx="1.03" ry="2.02" fill="#d0d0d0"/>
<ellipse cx="37.48" cy="323.24" rx="1.04" ry="1.39" fill="#d0d0d0"/>
<ellipse cx="41.63" cy="297.70" rx="1.93" ry="1.90" fill="#2c3cc8"/>
<ellipse cx="42.45" cy="295.33" rx="2.28" ry="3.05" fill="#2c3cc8"/>
<ellipse cx="39.76" cy="299.68" rx="1.80" ry="2.56" fill="#2c3cc8"/>
<ellipse cx="33.60" cy="298.14" rx="1.63" ry="3.51" fill="#2c3cc8"/>
<ellipse cx="37.18" cy="294.34" rx="1.23" ry="2.42" fill="#2c3cc8"/>
<ellipse cx="42.35" cy="293.13" rx="1.92" ry="3.48" fill="#2c3cc8"/>
<ellipse cx="34.06" cy="306.36" rx="2.63" ry="3.62" fill="#2c3cc8"/>
<ellipse cx="34.18" cy="308.53" rx="1.55" ry="3.56" fill="#2c3cc8"/>
<ellipse cx="40.55" cy="301.59" rx="2.41" ry="3.49" fill="#2c3cc8"/>
<ellipse cx="40.59" cy="297.96" rx="2.76" ry="3.11" fill="#2c3cc8"/>
<ellipse cx="36.32" cy="294.77" rx="2.56" ry="4.02" fill="#2c3cc8"/>
<ellipse cx="41.27" cy="303.90" rx="2.37" ry="2.54" fill="#2c3cc8"/>
<ellipse cx="34.35" cy="308.47" rx="2.45" ry="2.92" fill="#2c3cc8"/>
<ellipse cx="41.28" cy="295.28" rx="1.34" ry="2.24" fill="#2c3cc8"/>
<ellipse cx="41.53" cy="298.77" rx="1.33" ry="2.02" fill="#2c3cc8"/>
<ellipse cx="34.02" cy="307.95" rx="2.78" ry="1.71" fill="#2c3cc8"/>
<ellipse cx="33.63" cy="292.95" rx="1.04" ry="3.33" fill="#6a88f4"/>
<ellipse cx="35.41" cy="302.00" rx="1.28" ry="2.05" fill="#6a88f4"/>
<ellipse cx="41.27" cy="299.45" rx="1.07" ry="1.96" fill="#6a88f4"/>
<ellipse cx="39.50" cy="304.81" rx="2.01" ry="2.20" fill="#6a88f4"/>
<ellipse cx="42.03" cy="304.45" rx="1.69" ry="2.16" fill="#6a88f4"/>
<ellipse cx="38.53" cy="295.96" rx="1.94" ry="1.31" fill="#6a88f4"/>
<ellipse cx="37.03" cy="308.56" rx="2.30" ry="1.64" fill="#6a88f4"/>
<ellipse cx="37.08" cy="307.71" rx="2.02" ry="3.18" fill="#6a88f4"/>
<ellipse cx="37.23" cy="299.38" rx="1.22" ry="3.41" fill="#2540f0"/>
<ellipse cx="39.37" cy="302.96" rx="1.91" ry="3.18" fill="#2540f0"/>
<ellipse cx="41.37" cy="303.29" rx="1.71" ry="3.73" fill="#2540f0"/>
<ellipse cx="35.94" cy="293.98" rx="1.56" ry="2.75" fill="#2540f0"/>
<ellipse cx="41.17" cy="298.02" rx="2.22" ry="2.19" fill="#2540f0"/>
<ellipse cx="36.01" cy="316.43" rx="0.99" ry="3.35" fill="#2c3cc8"/>
<ellipse cx="40.79" cy="321.59" rx="1.34" ry="1.72" fill="#2c3cc8"/>
<ellipse cx="33.43" cy="310.64" rx="1.01" ry="2.74" fill="#2c3cc8"/>
<ellipse cx="36.41" cy="319.09" rx="2.02" ry="2.03" fill="#2c3cc8"/>
<ellipse cx="34.50" cy="312.73" rx="1.02" ry="2.65" fill="#2c3cc8"/>
<ellipse cx="34.72" cy="310.02" rx="2.20" ry="2.21" fill="#2c3cc8"/>
<ellipse cx="34.37" cy="319.78" rx="1.50" ry="1.79" fill="#6a88f4"/>
<ellipse cx="39.24" cy="308.78" rx="1.82" ry="1.38" fill="#6a88f4"/>
<ellipse cx="42.28" cy="310.48" rx="1.42" ry="2.38" fill="#6a88f4"/>
<ellipse cx="37.70" cy="299.50" rx="2.56" ry="1.70" fill="#28b4f4"/>
</g></g></g>
<line x1="54.80" y1="289.30" x2="54.80" y2="294.00" stroke="#bdbdbd" stroke-width="1.1" />
<path d="M54.80,324.00 C56.80,333.88 55.53,342.72 57.00,350.00" stroke="#a9a9ab" stroke-width="1.35" fill="none" stroke-linecap="round"/>
<polyline points="55.08,325.47 55.47,328.13 55.74,330.74 55.92,333.29 56.03,335.77 56.11,338.19 56.17,340.55" fill="none" stroke="#40a0ff" stroke-width="1.55" stroke-linecap="round"/>
<line x1="48.91" y1="320.24" x2="46.71" y2="322.24" stroke="#8a8a8a" stroke-width="0.9" />
<line x1="49.04" y1="301.20" x2="47.54" y2="302.40" stroke="#777" stroke-width="0.8" />
<line x1="60.69" y1="320.24" x2="62.89" y2="322.24" stroke="#8a8a8a" stroke-width="0.9" />
<line x1="60.56" y1="301.20" x2="62.06" y2="302.40" stroke="#777" stroke-width="0.8" />
<clipPath id="m27"><path d="M54.80,291.00 C55.14,291.00 55.50,291.40 55.82,291.85 C56.14,292.30 56.36,293.01 56.72,293.72 C57.08,294.43 57.53,295.19 58.00,296.10 C58.47,297.01 59.09,298.03 59.54,299.16 C59.98,300.29 60.41,301.43 60.69,302.90 C60.97,304.37 61.11,305.90 61.20,308.00 C61.29,310.10 61.25,313.38 61.20,315.48 C61.15,317.58 61.18,319.16 60.88,320.58 C60.58,322.00 60.15,323.24 59.41,323.98 C58.66,324.72 57.94,325.00 56.40,325.00 C54.86,325.00 51.47,324.72 50.19,323.98 C48.91,323.24 49.02,322.00 48.72,320.58 C48.42,319.16 48.45,317.58 48.40,315.48 C48.35,313.38 48.31,310.10 48.40,308.00 C48.49,305.90 48.63,304.37 48.91,302.90 C49.19,301.43 49.62,300.29 50.06,299.16 C50.51,298.03 51.13,297.01 51.60,296.10 C52.07,295.19 52.52,294.43 52.88,293.72 C53.24,293.01 53.46,292.30 53.78,291.85 C54.10,291.40 54.46,291.00 54.80,291.00 Z"/></clipPath>
<g filter="url(#blurB)"><path d="M54.80,291.00 C55.14,291.00 55.50,291.40 55.82,291.85 C56.14,292.30 56.36,293.01 56.72,293.72 C57.08,294.43 57.53,295.19 58.00,296.10 C58.47,297.01 59.09,298.03 59.54,299.16 C59.98,300.29 60.41,301.43 60.69,302.90 C60.97,304.37 61.11,305.90 61.20,308.00 C61.29,310.10 61.25,313.38 61.20,315.48 C61.15,317.58 61.18,319.16 60.88,320.58 C60.58,322.00 60.15,323.24 59.41,323.98 C58.66,324.72 57.94,325.00 56.40,325.00 C54.86,325.00 51.47,324.72 50.19,323.98 C48.91,323.24 49.02,322.00 48.72,320.58 C48.42,319.16 48.45,317.58 48.40,315.48 C48.35,313.38 48.31,310.10 48.40,308.00 C48.49,305.90 48.63,304.37 48.91,302.90 C49.19,301.43 49.62,300.29 50.06,299.16 C50.51,298.03 51.13,297.01 51.60,296.10 C52.07,295.19 52.52,294.43 52.88,293.72 C53.24,293.01 53.46,292.30 53.78,291.85 C54.10,291.40 54.46,291.00 54.80,291.00 Z" fill="#e0e0e5"/>
<g clip-path="url(#m27)"><g filter="url(#blur05)">
<ellipse cx="53.50" cy="303.05" rx="1.56" ry="2.30" fill="#d0d0d0"/>
<ellipse cx="58.96" cy="302.41" rx="1.26" ry="1.27" fill="#f6f6f6"/>
<ellipse cx="59.57" cy="299.73" rx="1.18" ry="1.64" fill="#d0d0d0"/>
<ellipse cx="53.17" cy="302.64" rx="1.86" ry="1.88" fill="#f6f6f6"/>
<ellipse cx="52.26" cy="322.78" rx="1.62" ry="2.09" fill="#d0d0d0"/>
<ellipse cx="51.30" cy="304.81" rx="1.25" ry="1.57" fill="#c4c4c4"/>
<ellipse cx="56.79" cy="295.89" rx="1.72" ry="1.70" fill="#f6f6f6"/>
<ellipse cx="58.86" cy="303.23" rx="1.43" ry="1.82" fill="#c4c4c4"/>
<ellipse cx="51.71" cy="298.27" rx="1.35" ry="2.03" fill="#fafafa"/>
<ellipse cx="52.37" cy="309.60" rx="1.86" ry="1.17" fill="#f6f6f6"/>
<ellipse cx="50.70" cy="310.57" rx="2.34" ry="2.02" fill="#2c3cc8"/>
<ellipse cx="55.22" cy="304.58" rx="1.99" ry="2.73" fill="#2c3cc8"/>
<ellipse cx="55.75" cy="320.95" rx="1.94" ry="2.01" fill="#2c3cc8"/>
<ellipse cx="53.65" cy="311.63" rx="1.93" ry="1.76" fill="#2c3cc8"/>
<ellipse cx="57.77" cy="306.56" rx="2.04" ry="1.49" fill="#2c3cc8"/>
<ellipse cx="53.05" cy="294.88" rx="1.55" ry="1.83" fill="#2c3cc8"/>
<ellipse cx="53.33" cy="300.40" rx="2.15" ry="2.62" fill="#2c3cc8"/>
<ellipse cx="53.36" cy="307.93" rx="1.23" ry="3.26" fill="#2c3cc8"/>
<ellipse cx="59.07" cy="305.20" rx="1.09" ry="2.12" fill="#6a88f4"/>
<ellipse cx="52.49" cy="307.55" rx="1.65" ry="1.32" fill="#6a88f4"/>
<ellipse cx="57.41" cy="298.27" rx="1.07" ry="2.45" fill="#6a88f4"/>
</g></g></g>
<line x1="71.40" y1="289.30" x2="71.40" y2="294.00" stroke="#bdbdbd" stroke-width="1.1" />
<path d="M71.40,324.00 C72.21,333.88 63.97,342.72 65.00,350.00" stroke="#a9a9ab" stroke-width="1.35" fill="none" stroke-linecap="round"/>
<polyline points="71.46,325.47 71.37,327.17 71.13,328.85 70.78,330.51 70.32,332.14 69.79,333.74 69.20,335.32" fill="none" stroke="#3090ff" stroke-width="1.55" stroke-linecap="round"/>
<polyline points="69.20,335.32 68.48,337.10 67.75,338.84 67.04,340.55 66.38,342.22 65.81,343.85 65.35,345.45" fill="none" stroke="#d8d020" stroke-width="1.55" stroke-linecap="round"/>
<line x1="65.51" y1="320.24" x2="63.31" y2="322.24" stroke="#8a8a8a" stroke-width="0.9" />
<line x1="65.64" y1="301.20" x2="64.14" y2="302.40" stroke="#777" stroke-width="0.8" />
<line x1="77.29" y1="320.24" x2="79.49" y2="322.24" stroke="#8a8a8a" stroke-width="0.9" />
<line x1="77.16" y1="301.20" x2="78.66" y2="302.40" stroke="#777" stroke-width="0.8" />
<clipPath id="m28"><path d="M71.40,291.00 C71.74,291.00 72.10,291.40 72.42,291.85 C72.74,292.30 72.96,293.01 73.32,293.72 C73.68,294.43 74.13,295.19 74.60,296.10 C75.07,297.01 75.69,298.03 76.14,299.16 C76.58,300.29 77.01,301.43 77.29,302.90 C77.57,304.37 77.71,305.90 77.80,308.00 C77.89,310.10 77.85,313.38 77.80,315.48 C77.75,317.58 77.78,319.16 77.48,320.58 C77.18,322.00 76.75,323.24 76.01,323.98 C75.26,324.72 74.54,325.00 73.00,325.00 C71.46,325.00 68.07,324.72 66.79,323.98 C65.51,323.24 65.62,322.00 65.32,320.58 C65.02,319.16 65.05,317.58 65.00,315.48 C64.95,313.38 64.91,310.10 65.00,308.00 C65.09,305.90 65.23,304.37 65.51,302.90 C65.79,301.43 66.22,300.29 66.66,299.16 C67.11,298.03 67.73,297.01 68.20,296.10 C68.67,295.19 69.12,294.43 69.48,293.72 C69.84,293.01 70.06,292.30 70.38,291.85 C70.70,291.40 71.06,291.00 71.40,291.00 Z"/></clipPath>
<g filter="url(#blurB)"><path d="M71.40,291.00 C71.74,291.00 72.10,291.40 72.42,291.85 C72.74,292.30 72.96,293.01 73.32,293.72 C73.68,294.43 74.13,295.19 74.60,296.10 C75.07,297.01 75.69,298.03 76.14,299.16 C76.58,300.29 77.01,301.43 77.29,302.90 C77.57,304.37 77.71,305.90 77.80,308.00 C77.89,310.10 77.85,313.38 77.80,315.48 C77.75,317.58 77.78,319.16 77.48,320.58 C77.18,322.00 76.75,323.24 76.01,323.98 C75.26,324.72 74.54,325.00 73.00,325.00 C71.46,325.00 68.07,324.72 66.79,323.98 C65.51,323.24 65.62,322.00 65.32,320.58 C65.02,319.16 65.05,317.58 65.00,315.48 C64.95,313.38 64.91,310.10 65.00,308.00 C65.09,305.90 65.23,304.37 65.51,302.90 C65.79,301.43 66.22,300.29 66.66,299.16 C67.11,298.03 67.73,297.01 68.20,296.10 C68.67,295.19 69.12,294.43 69.48,293.72 C69.84,293.01 70.06,292.30 70.38,291.85 C70.70,291.40 71.06,291.00 71.40,291.00 Z" fill="#e0e0e5"/>
<g clip-path="url(#m28)"><g filter="url(#blur05)">
<ellipse cx="69.81" cy="305.76" rx="1.31" ry="1.99" fill="#c4c4c4"/>
<ellipse cx="71.17" cy="309.12" rx="1.29" ry="2.06" fill="#d0d0d0"/>
<ellipse cx="74.16" cy="305.30" rx="1.63" ry="2.09" fill="#fafafa"/>
<ellipse cx="71.32" cy="301.12" rx="1.59" ry="1.84" fill="#d0d0d0"/>
<ellipse cx="75.33" cy="318.59" rx="1.37" ry="1.53" fill="#c4c4c4"/>
<ellipse cx="70.18" cy="299.89" rx="2.00" ry="1.42" fill="#c4c4c4"/>
<ellipse cx="76.26" cy="312.96" rx="1.66" ry="2.04" fill="#f6f6f6"/>
<ellipse cx="75.59" cy="306.77" rx="1.69" ry="1.15" fill="#fafafa"/>
<ellipse cx="72.09" cy="321.53" rx="1.94" ry="1.04" fill="#d0d0d0"/>
<ellipse cx="68.11" cy="315.52" rx="2.24" ry="2.06" fill="#c4c4c4"/>
<ellipse cx="71.40" cy="301.20" rx="8.32" ry="10.20" fill="#2540f0"/>
<ellipse cx="69.29" cy="311.43" rx="1.75" ry="2.26" fill="#2c3cc8"/>
<ellipse cx="72.23" cy="311.23" rx="1.69" ry="1.72" fill="#2c3cc8"/>
<ellipse cx="67.66" cy="308.07" rx="2.05" ry="1.35" fill="#2c3cc8"/>
<ellipse cx="69.98" cy="310.34" rx="1.74" ry="2.20" fill="#2c3cc8"/>
<ellipse cx="74.81" cy="317.35" rx="1.76" ry="1.72" fill="#2c3cc8"/>
<ellipse cx="73.28" cy="313.45" rx="1.75" ry="2.69" fill="#6a88f4"/>
<ellipse cx="67.23" cy="312.06" rx="1.37" ry="2.69" fill="#6a88f4"/>
<ellipse cx="71.40" cy="299.50" rx="3.20" ry="2.38" fill="#48e848"/>
<ellipse cx="71.40" cy="299.50" rx="1.92" ry="1.36" fill="#ecec28"/>
</g></g></g>
<text x="10.80" y="352.10" font-size="7.5" fill="#d83030" opacity="0.85">p-4</text>
<rect x="86.00" y="288.80" width="69.50" height="65.60" fill="#313133" stroke="none" stroke-width="1" />
<line x1="98.30" y1="289.30" x2="98.30" y2="293.00" stroke="#bdbdbd" stroke-width="1.1" />
<path d="M98.30,319.00 C96.79,330.40 97.07,340.60 96.00,349.00" stroke="#a9a9ab" stroke-width="1.35" fill="none" stroke-linecap="round"/>
<polyline points="98.09,320.70 97.93,322.10 97.78,323.49 97.65,324.87 97.54,326.23 97.43,327.58 97.34,328.92" fill="none" stroke="#5070ff" stroke-width="1.55" stroke-linecap="round"/>
<line x1="92.41" y1="315.80" x2="90.21" y2="317.80" stroke="#8a8a8a" stroke-width="0.9" />
<line x1="92.54" y1="299.00" x2="91.04" y2="300.20" stroke="#777" stroke-width="0.8" />
<line x1="104.19" y1="315.80" x2="106.39" y2="317.80" stroke="#8a8a8a" stroke-width="0.9" />
<line x1="104.06" y1="299.00" x2="105.56" y2="300.20" stroke="#777" stroke-width="0.8" />
<clipPath id="m29"><path d="M98.30,290.00 C98.64,290.00 99.00,290.35 99.32,290.75 C99.64,291.15 99.86,291.77 100.22,292.40 C100.58,293.02 101.03,293.70 101.50,294.50 C101.97,295.30 102.59,296.20 103.04,297.20 C103.48,298.20 103.91,299.20 104.19,300.50 C104.47,301.80 104.61,303.15 104.70,305.00 C104.79,306.85 104.75,309.75 104.70,311.60 C104.65,313.45 104.68,314.85 104.38,316.10 C104.08,317.35 103.65,318.45 102.91,319.10 C102.16,319.75 101.44,320.00 99.90,320.00 C98.36,320.00 94.97,319.75 93.69,319.10 C92.41,318.45 92.52,317.35 92.22,316.10 C91.92,314.85 91.95,313.45 91.90,311.60 C91.85,309.75 91.81,306.85 91.90,305.00 C91.99,303.15 92.13,301.80 92.41,300.50 C92.69,299.20 93.12,298.20 93.56,297.20 C94.01,296.20 94.63,295.30 95.10,294.50 C95.57,293.70 96.02,293.02 96.38,292.40 C96.74,291.77 96.96,291.15 97.28,290.75 C97.60,290.35 97.96,290.00 98.30,290.00 Z"/></clipPath>
<g filter="url(#blurB)"><path d="M98.30,290.00 C98.64,290.00 99.00,290.35 99.32,290.75 C99.64,291.15 99.86,291.77 100.22,292.40 C100.58,293.02 101.03,293.70 101.50,294.50 C101.97,295.30 102.59,296.20 103.04,297.20 C103.48,298.20 103.91,299.20 104.19,300.50 C104.47,301.80 104.61,303.15 104.70,305.00 C104.79,306.85 104.75,309.75 104.70,311.60 C104.65,313.45 104.68,314.85 104.38,316.10 C104.08,317.35 103.65,318.45 102.91,319.10 C102.16,319.75 101.44,320.00 99.90,320.00 C98.36,320.00 94.97,319.75 93.69,319.10 C92.41,318.45 92.52,317.35 92.22,316.10 C91.92,314.85 91.95,313.45 91.90,311.60 C91.85,309.75 91.81,306.85 91.90,305.00 C91.99,303.15 92.13,301.80 92.41,300.50 C92.69,299.20 93.12,298.20 93.56,297.20 C94.01,296.20 94.63,295.30 95.10,294.50 C95.57,293.70 96.02,293.02 96.38,292.40 C96.74,291.77 96.96,291.15 97.28,290.75 C97.60,290.35 97.96,290.00 98.30,290.00 Z" fill="#e0e0e5"/>
<g clip-path="url(#m29)"><g filter="url(#blur05)">
<ellipse cx="93.27" cy="300.78" rx="1.90" ry="1.91" fill="#f6f6f6"/>
<ellipse cx="103.13" cy="297.72" rx="1.29" ry="1.53" fill="#f6f6f6"/>
<ellipse cx="94.57" cy="299.22" rx="2.17" ry="1.42" fill="#d0d0d0"/>
<ellipse cx="98.15" cy="296.04" rx="1.80" ry="2.09" fill="#c4c4c4"/>
<ellipse cx="102.79" cy="301.81" rx="1.37" ry="1.02" fill="#f6f6f6"/>
<ellipse cx="98.38" cy="297.83" rx="0.98" ry="1.57" fill="#c4c4c4"/>
<ellipse cx="98.90" cy="316.73" rx="1.02" ry="1.33" fill="#d0d0d0"/>
<ellipse cx="100.09" cy="313.73" rx="1.45" ry="1.10" fill="#f6f6f6"/>
<ellipse cx="103.38" cy="296.01" rx="1.03" ry="1.03" fill="#d0d0d0"/>
<ellipse cx="102.55" cy="309.18" rx="1.48" ry="2.01" fill="#d0d0d0"/>
<ellipse cx="98.36" cy="301.70" rx="1.74" ry="1.85" fill="#2c3cc8"/>
<ellipse cx="101.51" cy="295.09" rx="1.60" ry="2.55" fill="#2c3cc8"/>
<ellipse cx="99.32" cy="311.88" rx="1.37" ry="1.80" fill="#2c3cc8"/>
<ellipse cx="96.43" cy="294.48" rx="1.08" ry="2.09" fill="#2c3cc8"/>
<ellipse cx="96.36" cy="304.55" rx="2.30" ry="2.97" fill="#2c3cc8"/>
<ellipse cx="100.97" cy="298.95" rx="1.51" ry="2.80" fill="#2c3cc8"/>
<ellipse cx="95.75" cy="310.04" rx="1.32" ry="1.97" fill="#2c3cc8"/>
<ellipse cx="98.85" cy="313.09" rx="1.98" ry="2.69" fill="#2c3cc8"/>
<ellipse cx="100.33" cy="295.60" rx="1.15" ry="1.54" fill="#6a88f4"/>
<ellipse cx="93.56" cy="300.80" rx="1.32" ry="1.75" fill="#6a88f4"/>
<ellipse cx="101.44" cy="298.22" rx="0.88" ry="1.80" fill="#6a88f4"/>
</g></g></g>
<line x1="113.00" y1="289.30" x2="113.00" y2="293.00" stroke="#bdbdbd" stroke-width="1.1" />
<path d="M113.00,319.00 C113.13,330.40 111.84,340.60 112.00,349.00" stroke="#a9a9ab" stroke-width="1.35" fill="none" stroke-linecap="round"/>
<polyline points="113.01,320.70 112.99,323.22 112.93,325.69 112.84,328.12 112.74,330.50 112.62,332.84 112.49,335.12" fill="none" stroke="#3050ff" stroke-width="1.55" stroke-linecap="round"/>
<line x1="107.11" y1="315.80" x2="104.91" y2="317.80" stroke="#8a8a8a" stroke-width="0.9" />
<line x1="107.24" y1="299.00" x2="105.74" y2="300.20" stroke="#777" stroke-width="0.8" />
<line x1="118.89" y1="315.80" x2="121.09" y2="317.80" stroke="#8a8a8a" stroke-width="0.9" />
<line x1="118.76" y1="299.00" x2="120.26" y2="300.20" stroke="#777" stroke-width="0.8" />
<clipPath id="m30"><path d="M113.00,290.00 C113.34,290.00 113.70,290.35 114.02,290.75 C114.34,291.15 114.56,291.77 114.92,292.40 C115.28,293.02 115.73,293.70 116.20,294.50 C116.67,295.30 117.29,296.20 117.74,297.20 C118.18,298.20 118.61,299.20 118.89,300.50 C119.17,301.80 119.31,303.15 119.40,305.00 C119.49,306.85 119.45,309.75 119.40,311.60 C119.35,313.45 119.38,314.85 119.08,316.10 C118.78,317.35 118.35,318.45 117.61,319.10 C116.86,319.75 116.14,320.00 114.60,320.00 C113.06,320.00 109.67,319.75 108.39,319.10 C107.11,318.45 107.22,317.35 106.92,316.10 C106.62,314.85 106.65,313.45 106.60,311.60 C106.55,309.75 106.51,306.85 106.60,305.00 C106.69,303.15 106.83,301.80 107.11,300.50 C107.39,299.20 107.82,298.20 108.26,297.20 C108.71,296.20 109.33,295.30 109.80,294.50 C110.27,293.70 110.72,293.02 111.08,292.40 C111.44,291.77 111.66,291.15 111.98,290.75 C112.30,290.35 112.66,290.00 113.00,290.00 Z"/></clipPath>
<g filter="url(#blurB)"><path d="M113.00,290.00 C113.34,290.00 113.70,290.35 114.02,290.75 C114.34,291.15 114.56,291.77 114.92,292.40 C115.28,293.02 115.73,293.70 116.20,294.50 C116.67,295.30 117.29,296.20 117.74,297.20 C118.18,298.20 118.61,299.20 118.89,300.50 C119.17,301.80 119.31,303.15 119.40,305.00 C119.49,306.85 119.45,309.75 119.40,311.60 C119.35,313.45 119.38,314.85 119.08,316.10 C118.78,317.35 118.35,318.45 117.61,319.10 C116.86,319.75 116.14,320.00 114.60,320.00 C113.06,320.00 109.67,319.75 108.39,319.10 C107.11,318.45 107.22,317.35 106.92,316.10 C106.62,314.85 106.65,313.45 106.60,311.60 C106.55,309.75 106.51,306.85 106.60,305.00 C106.69,303.15 106.83,301.80 107.11,300.50 C107.39,299.20 107.82,298.20 108.26,297.20 C108.71,296.20 109.33,295.30 109.80,294.50 C110.27,293.70 110.72,293.02 111.08,292.40 C111.44,291.77 111.66,291.15 111.98,290.75 C112.30,290.35 112.66,290.00 113.00,290.00 Z" fill="#e0e0e5"/>
<g clip-path="url(#m30)"><g filter="url(#blur05)">
<ellipse cx="109.44" cy="298.62" rx="0.99" ry="1.40" fill="#d0d0d0"/>
<ellipse cx="109.52" cy="304.08" rx="2.12" ry="1.62" fill="#fafafa"/>
<ellipse cx="112.65" cy="313.27" rx="1.99" ry="1.72" fill="#d0d0d0"/>
<ellipse cx="118.12" cy="295.75" rx="1.30" ry="1.71" fill="#fafafa"/>
<ellipse cx="113.49" cy="296.06" rx="1.30" ry="1.94" fill="#c4c4c4"/>
<ellipse cx="114.28" cy="302.58" rx="1.28" ry="1.85" fill="#f6f6f6"/>
<ellipse cx="114.83" cy="317.46" rx="1.29" ry="1.63" fill="#c4c4c4"/>
<ellipse cx="116.54" cy="295.83" rx="2.00" ry="1.27" fill="#f6f6f6"/>
<ellipse cx="116.15" cy="308.32" rx="1.80" ry="1.50" fill="#f6f6f6"/>
<ellipse cx="112.11" cy="318.48" rx="1.66" ry="1.20" fill="#d0d0d0"/>
<ellipse cx="109.59" cy="304.82" rx="1.67" ry="2.93" fill="#2c3cc8"/>
<ellipse cx="116.00" cy="310.22" rx="1.91" ry="1.43" fill="#2c3cc8"/>
<ellipse cx="116.97" cy="303.80" rx="1.78" ry="1.33" fill="#2c3cc8"/>
<ellipse cx="111.15" cy="311.15" rx="1.15" ry="1.30" fill="#2c3cc8"/>
<ellipse cx="111.33" cy="302.29" rx="1.65" ry="2.04" fill="#2c3cc8"/>
<ellipse cx="109.94" cy="296.03" rx="1.47" ry="1.70" fill="#2c3cc8"/>
<ellipse cx="110.17" cy="313.83" rx="1.76" ry="2.20" fill="#6a88f4"/>
<ellipse cx="117.22" cy="299.18" rx="0.84" ry="2.14" fill="#6a88f4"/>
<ellipse cx="113.17" cy="297.09" rx="1.03" ry="1.21" fill="#6a88f4"/>
<ellipse cx="113.00" cy="308.00" rx="2.56" ry="1.50" fill="#48e848"/>
</g></g></g>
<line x1="129.20" y1="289.30" x2="129.20" y2="293.00" stroke="#bdbdbd" stroke-width="1.1" />
<path d="M129.20,319.00 C131.77,330.40 129.05,340.60 131.00,349.00" stroke="#a9a9ab" stroke-width="1.35" fill="none" stroke-linecap="round"/>
<line x1="123.31" y1="315.80" x2="121.11" y2="317.80" stroke="#8a8a8a" stroke-width="0.9" />
<line x1="123.44" y1="299.00" x2="121.94" y2="300.20" stroke="#777" stroke-width="0.8" />
<line x1="135.09" y1="315.80" x2="137.29" y2="317.80" stroke="#8a8a8a" stroke-width="0.9" />
<line x1="134.96" y1="299.00" x2="136.46" y2="300.20" stroke="#777" stroke-width="0.8" />
<clipPath id="m31"><path d="M129.20,290.00 C129.54,290.00 129.90,290.35 130.22,290.75 C130.54,291.15 130.76,291.77 131.12,292.40 C131.48,293.02 131.93,293.70 132.40,294.50 C132.87,295.30 133.49,296.20 133.94,297.20 C134.38,298.20 134.81,299.20 135.09,300.50 C135.37,301.80 135.51,303.15 135.60,305.00 C135.69,306.85 135.65,309.75 135.60,311.60 C135.55,313.45 135.58,314.85 135.28,316.10 C134.98,317.35 134.55,318.45 133.81,319.10 C133.06,319.75 132.34,320.00 130.80,320.00 C129.26,320.00 125.87,319.75 124.59,319.10 C123.31,318.45 123.42,317.35 123.12,316.10 C122.82,314.85 122.85,313.45 122.80,311.60 C122.75,309.75 122.71,306.85 122.80,305.00 C122.89,303.15 123.03,301.80 123.31,300.50 C123.59,299.20 124.02,298.20 124.46,297.20 C124.91,296.20 125.53,295.30 126.00,294.50 C126.47,293.70 126.92,293.02 127.28,292.40 C127.64,291.77 127.86,291.15 128.18,290.75 C128.50,290.35 128.86,290.00 129.20,290.00 Z"/></clipPath>
<g filter="url(#blurB)"><path d="M129.20,290.00 C129.54,290.00 129.90,290.35 130.22,290.75 C130.54,291.15 130.76,291.77 131.12,292.40 C131.48,293.02 131.93,293.70 132.40,294.50 C132.87,295.30 133.49,296.20 133.94,297.20 C134.38,298.20 134.81,299.20 135.09,300.50 C135.37,301.80 135.51,303.15 135.60,305.00 C135.69,306.85 135.65,309.75 135.60,311.60 C135.55,313.45 135.58,314.85 135.28,316.10 C134.98,317.35 134.55,318.45 133.81,319.10 C133.06,319.75 132.34,320.00 130.80,320.00 C129.26,320.00 125.87,319.75 124.59,319.10 C123.31,318.45 123.42,317.35 123.12,316.10 C122.82,314.85 122.85,313.45 122.80,311.60 C122.75,309.75 122.71,306.85 122.80,305.00 C122.89,303.15 123.03,301.80 123.31,300.50 C123.59,299.20 124.02,298.20 124.46,297.20 C124.91,296.20 125.53,295.30 126.00,294.50 C126.47,293.70 126.92,293.02 127.28,292.40 C127.64,291.77 127.86,291.15 128.18,290.75 C128.50,290.35 128.86,290.00 129.20,290.00 Z" fill="#e0e0e5"/>
<g clip-path="url(#m31)"><g filter="url(#blur05)">
<ellipse cx="131.73" cy="298.94" rx="1.28" ry="1.23" fill="#fafafa"/>
<ellipse cx="128.32" cy="298.57" rx="1.38" ry="1.48" fill="#f6f6f6"/>
<ellipse cx="128.11" cy="302.83" rx="1.21" ry="1.60" fill="#c4c4c4"/>
<ellipse cx="126.20" cy="310.95" rx="1.64" ry="1.26" fill="#d0d0d0"/>
<ellipse cx="124.82" cy="314.96" rx="1.19" ry="0.92" fill="#f6f6f6"/>
<ellipse cx="131.97" cy="309.14" rx="1.38" ry="1.80" fill="#f6f6f6"/>
<ellipse cx="125.95" cy="295.64" rx="0.97" ry="1.97" fill="#fafafa"/>
<ellipse cx="134.11" cy="316.27" rx="2.23" ry="1.47" fill="#fafafa"/>
<ellipse cx="130.59" cy="302.64" rx="1.93" ry="1.62" fill="#d0d0d0"/>
<ellipse cx="128.74" cy="308.27" rx="2.22" ry="1.52" fill="#fafafa"/>
<ellipse cx="129.16" cy="305.85" rx="1.10" ry="1.84" fill="#2c3cc8"/>
<ellipse cx="124.87" cy="302.75" rx="1.24" ry="1.71" fill="#2c3cc8"/>
<ellipse cx="132.26" cy="293.82" rx="1.19" ry="1.70" fill="#2c3cc8"/>
<ellipse cx="132.19" cy="300.13" rx="1.84" ry="2.80" fill="#2c3cc8"/>
<ellipse cx="126.61" cy="299.69" rx="1.21" ry="2.58" fill="#2c3cc8"/>
<ellipse cx="129.56" cy="294.72" rx="1.59" ry="1.80" fill="#6a88f4"/>
<ellipse cx="130.21" cy="295.92" rx="1.54" ry="2.03" fill="#6a88f4"/>
</g></g></g>
<line x1="143.30" y1="289.30" x2="143.30" y2="293.00" stroke="#bdbdbd" stroke-width="1.1" />
<path d="M143.30,319.00 C145.22,330.40 143.57,340.60 145.00,349.00" stroke="#a9a9ab" stroke-width="1.35" fill="none" stroke-linecap="round"/>
<polyline points="143.56,320.70 143.92,323.77 144.14,326.78 144.27,329.71 144.32,332.58 144.33,335.38 144.34,338.09" fill="none" stroke="#3060ff" stroke-width="1.55" stroke-linecap="round"/>
<line x1="137.41" y1="315.80" x2="135.21" y2="317.80" stroke="#8a8a8a" stroke-width="0.9" />
<line x1="137.54" y1="299.00" x2="136.04" y2="300.20" stroke="#777" stroke-width="0.8" />
<line x1="149.19" y1="315.80" x2="151.39" y2="317.80" stroke="#8a8a8a" stroke-width="0.9" />
<line x1="149.06" y1="299.00" x2="150.56" y2="300.20" stroke="#777" stroke-width="0.8" />
<clipPath id="m32"><path d="M143.30,290.00 C143.64,290.00 144.00,290.35 144.32,290.75 C144.64,291.15 144.86,291.77 145.22,292.40 C145.58,293.02 146.03,293.70 146.50,294.50 C146.97,295.30 147.59,296.20 148.04,297.20 C148.48,298.20 148.91,299.20 149.19,300.50 C149.47,301.80 149.61,303.15 149.70,305.00 C149.79,306.85 149.75,309.75 149.70,311.60 C149.65,313.45 149.68,314.85 149.38,316.10 C149.08,317.35 148.65,318.45 147.91,319.10 C147.16,319.75 146.44,320.00 144.90,320.00 C143.36,320.00 139.97,319.75 138.69,319.10 C137.41,318.45 137.52,317.35 137.22,316.10 C136.92,314.85 136.95,313.45 136.90,311.60 C136.85,309.75 136.81,306.85 136.90,305.00 C136.99,303.15 137.13,301.80 137.41,300.50 C137.69,299.20 138.12,298.20 138.56,297.20 C139.01,296.20 139.63,295.30 140.10,294.50 C140.57,293.70 141.02,293.02 141.38,292.40 C141.74,291.77 141.96,291.15 142.28,290.75 C142.60,290.35 142.96,290.00 143.30,290.00 Z"/></clipPath>
<g filter="url(#blurB)"><path d="M143.30,290.00 C143.64,290.00 144.00,290.35 144.32,290.75 C144.64,291.15 144.86,291.77 145.22,292.40 C145.58,293.02 146.03,293.70 146.50,294.50 C146.97,295.30 147.59,296.20 148.04,297.20 C148.48,298.20 148.91,299.20 149.19,300.50 C149.47,301.80 149.61,303.15 149.70,305.00 C149.79,306.85 149.75,309.75 149.70,311.60 C149.65,313.45 149.68,314.85 149.38,316.10 C149.08,317.35 148.65,318.45 147.91,319.10 C147.16,319.75 146.44,320.00 144.90,320.00 C143.36,320.00 139.97,319.75 138.69,319.10 C137.41,318.45 137.52,317.35 137.22,316.10 C136.92,314.85 136.95,313.45 136.90,311.60 C136.85,309.75 136.81,306.85 136.90,305.00 C136.99,303.15 137.13,301.80 137.41,300.50 C137.69,299.20 138.12,298.20 138.56,297.20 C139.01,296.20 139.63,295.30 140.10,294.50 C140.57,293.70 141.02,293.02 141.38,292.40 C141.74,291.77 141.96,291.15 142.28,290.75 C142.60,290.35 142.96,290.00 143.30,290.00 Z" fill="#e0e0e5"/>
<g clip-path="url(#m32)"><g filter="url(#blur05)">
<ellipse cx="142.27" cy="313.81" rx="1.84" ry="1.00" fill="#f6f6f6"/>
<ellipse cx="145.82" cy="303.49" rx="1.93" ry="1.24" fill="#f6f6f6"/>
<ellipse cx="138.91" cy="299.02" rx="2.09" ry="1.76" fill="#c4c4c4"/>
<ellipse cx="140.66" cy="301.90" rx="2.05" ry="1.69" fill="#fafafa"/>
<ellipse cx="144.18" cy="299.05" rx="1.02" ry="1.49" fill="#c4c4c4"/>
<ellipse cx="145.60" cy="295.62" rx="1.42" ry="2.04" fill="#fafafa"/>
<ellipse cx="146.23" cy="315.85" rx="1.42" ry="0.92" fill="#d0d0d0"/>
<ellipse cx="138.95" cy="313.32" rx="1.65" ry="1.02" fill="#c4c4c4"/>
<ellipse cx="140.92" cy="305.77" rx="2.18" ry="1.52" fill="#fafafa"/>
<ellipse cx="142.26" cy="301.98" rx="2.22" ry="1.06" fill="#c4c4c4"/>
<ellipse cx="145.52" cy="312.07" rx="1.03" ry="1.16" fill="#2c3cc8"/>
<ellipse cx="148.04" cy="298.67" rx="1.25" ry="2.06" fill="#2c3cc8"/>
<ellipse cx="143.79" cy="308.13" rx="1.81" ry="2.15" fill="#2c3cc8"/>
<ellipse cx="145.76" cy="297.38" rx="1.62" ry="2.78" fill="#2c3cc8"/>
<ellipse cx="145.47" cy="305.07" rx="1.15" ry="2.87" fill="#2c3cc8"/>
<ellipse cx="138.92" cy="309.74" rx="1.18" ry="2.06" fill="#2c3cc8"/>
<ellipse cx="145.10" cy="303.55" rx="1.00" ry="1.52" fill="#2c3cc8"/>
<ellipse cx="142.56" cy="298.08" rx="1.13" ry="1.37" fill="#2c3cc8"/>
<ellipse cx="144.22" cy="297.16" rx="0.89" ry="1.39" fill="#6a88f4"/>
<ellipse cx="139.64" cy="293.62" rx="1.08" ry="1.89" fill="#6a88f4"/>
<ellipse cx="146.89" cy="310.84" rx="1.92" ry="1.97" fill="#6a88f4"/>
</g></g></g>
<rect x="7.70" y="366.80" width="69.30" height="75.70" fill="#313133" stroke="none" stroke-width="1" />
<line x1="22.50" y1="367.30" x2="22.50" y2="371.00" stroke="#bdbdbd" stroke-width="1.1" />
<path d="M22.50,402.00 C19.79,415.30 13.54,427.20 12.00,437.00" stroke="#a9a9ab" stroke-width="1.35" fill="none" stroke-linecap="round"/>
<polyline points="22.07,403.98 21.42,406.60 20.70,409.17 19.93,411.70 19.12,414.19 18.29,416.64 17.44,419.04" fill="none" stroke="#40c040" stroke-width="1.55" stroke-linecap="round"/>
<polyline points="17.44,419.04 16.71,421.11 15.98,423.13 15.28,425.13 14.62,427.08 13.99,429.00 13.42,430.87" fill="none" stroke="#e0d020" stroke-width="1.55" stroke-linecap="round"/>
<polyline points="13.42,430.87 13.12,431.93 12.85,432.97 12.59,434.00 12.37,435.01 12.17,436.01 12.00,437.00" fill="none" stroke="#d04020" stroke-width="1.55" stroke-linecap="round"/>
<line x1="16.52" y1="398.10" x2="14.32" y2="400.10" stroke="#8a8a8a" stroke-width="0.9" />
<line x1="16.65" y1="378.50" x2="15.15" y2="379.70" stroke="#777" stroke-width="0.8" />
<line x1="28.48" y1="398.10" x2="30.68" y2="400.10" stroke="#8a8a8a" stroke-width="0.9" />
<line x1="28.35" y1="378.50" x2="29.85" y2="379.70" stroke="#777" stroke-width="0.8" />
<clipPath id="m33"><path d="M22.50,368.00 C22.82,368.00 23.13,368.76 23.48,369.40 C23.82,370.04 24.15,370.92 24.58,371.85 C25.01,372.78 25.55,373.77 26.07,375.00 C26.59,376.23 27.26,377.68 27.70,379.20 C28.14,380.72 28.52,382.47 28.74,384.10 C28.96,385.73 28.99,387.25 29.00,389.00 C29.01,390.75 28.93,392.85 28.80,394.60 C28.68,396.35 28.62,398.22 28.22,399.50 C27.82,400.78 27.14,401.72 26.40,402.30 C25.66,402.88 25.10,403.00 23.80,403.00 C22.50,403.00 19.77,402.88 18.60,402.30 C17.43,401.72 17.18,400.78 16.78,399.50 C16.38,398.22 16.32,396.35 16.20,394.60 C16.07,392.85 15.99,390.75 16.00,389.00 C16.01,387.25 16.04,385.73 16.26,384.10 C16.48,382.47 16.86,380.72 17.30,379.20 C17.74,377.68 18.41,376.23 18.93,375.00 C19.45,373.77 19.99,372.78 20.42,371.85 C20.85,370.92 21.18,370.04 21.52,369.40 C21.87,368.76 22.18,368.00 22.50,368.00 Z"/></clipPath>
<g filter="url(#blurB)"><path d="M22.50,368.00 C22.82,368.00 23.13,368.76 23.48,369.40 C23.82,370.04 24.15,370.92 24.58,371.85 C25.01,372.78 25.55,373.77 26.07,375.00 C26.59,376.23 27.26,377.68 27.70,379.20 C28.14,380.72 28.52,382.47 28.74,384.10 C28.96,385.73 28.99,387.25 29.00,389.00 C29.01,390.75 28.93,392.85 28.80,394.60 C28.68,396.35 28.62,398.22 28.22,399.50 C27.82,400.78 27.14,401.72 26.40,402.30 C25.66,402.88 25.10,403.00 23.80,403.00 C22.50,403.00 19.77,402.88 18.60,402.30 C17.43,401.72 17.18,400.78 16.78,399.50 C16.38,398.22 16.32,396.35 16.20,394.60 C16.07,392.85 15.99,390.75 16.00,389.00 C16.01,387.25 16.04,385.73 16.26,384.10 C16.48,382.47 16.86,380.72 17.30,379.20 C17.74,377.68 18.41,376.23 18.93,375.00 C19.45,373.77 19.99,372.78 20.42,371.85 C20.85,370.92 21.18,370.04 21.52,369.40 C21.87,368.76 22.18,368.00 22.50,368.00 Z" fill="#28b4f4"/>
<g clip-path="url(#m33)"><g filter="url(#blur05)">
<ellipse cx="22.50" cy="371.50" rx="3.90" ry="4.20" fill="#2540f0"/>
<ellipse cx="18.44" cy="376.63" rx="2.29" ry="1.98" fill="#2540f0"/>
<ellipse cx="26.88" cy="396.62" rx="2.39" ry="2.75" fill="#2540f0"/>
<ellipse cx="25.69" cy="378.75" rx="2.16" ry="2.51" fill="#2540f0"/>
<ellipse cx="22.41" cy="400.18" rx="1.52" ry="3.48" fill="#2540f0"/>
<ellipse cx="25.10" cy="374.10" rx="2.80" ry="2.71" fill="#2540f0"/>
<ellipse cx="22.92" cy="380.48" rx="2.08" ry="3.99" fill="#2540f0"/>
<ellipse cx="21.03" cy="393.31" rx="2.45" ry="3.76" fill="#2540f0"/>
<ellipse cx="24.36" cy="384.35" rx="1.73" ry="2.54" fill="#2540f0"/>
<ellipse cx="21.73" cy="385.34" rx="1.88" ry="2.75" fill="#48e848"/>
<ellipse cx="25.43" cy="395.19" rx="2.04" ry="3.25" fill="#48e848"/>
<ellipse cx="23.19" cy="383.05" rx="2.29" ry="3.68" fill="#48e848"/>
<ellipse cx="23.21" cy="386.96" rx="1.14" ry="3.37" fill="#48e848"/>
<ellipse cx="23.88" cy="387.02" rx="1.30" ry="2.74" fill="#48e848"/>
<ellipse cx="23.53" cy="375.34" rx="1.66" ry="3.10" fill="#48e848"/>
<ellipse cx="25.23" cy="388.97" rx="2.05" ry="3.57" fill="#48e848"/>
<ellipse cx="25.34" cy="373.17" rx="1.59" ry="1.50" fill="#48e848"/>
<ellipse cx="26.52" cy="382.77" rx="1.47" ry="1.73" fill="#ecec28"/>
<ellipse cx="18.73" cy="380.09" rx="1.02" ry="1.32" fill="#ecec28"/>
<ellipse cx="19.20" cy="373.88" rx="1.45" ry="1.31" fill="#ecec28"/>
<ellipse cx="23.69" cy="380.33" rx="1.86" ry="2.26" fill="#ecec28"/>
<ellipse cx="25.14" cy="385.74" rx="1.68" ry="2.76" fill="#ecec28"/>
<ellipse cx="24.45" cy="389.70" rx="1.62" ry="1.23" fill="#f41818"/>
<ellipse cx="20.55" cy="378.50" rx="1.62" ry="1.23" fill="#f88c18"/>
<ellipse cx="19.90" cy="394.25" rx="1.30" ry="1.05" fill="#f41818"/>
</g></g></g>
<line x1="38.10" y1="367.30" x2="38.10" y2="371.00" stroke="#bdbdbd" stroke-width="1.1" />
<path d="M38.10,402.00 C38.59,416.06 37.60,428.64 38.00,439.00" stroke="#a9a9ab" stroke-width="1.35" fill="none" stroke-linecap="round"/>
<polyline points="38.16,404.10 38.23,408.56 38.23,412.92 38.18,417.15 38.10,421.27 38.01,425.25 37.94,429.10" fill="none" stroke="#50b0a0" stroke-width="1.55" stroke-linecap="round"/>
<line x1="32.12" y1="398.10" x2="29.92" y2="400.10" stroke="#8a8a8a" stroke-width="0.9" />
<line x1="32.25" y1="378.50" x2="30.75" y2="379.70" stroke="#777" stroke-width="0.8" />
<line x1="44.08" y1="398.10" x2="46.28" y2="400.10" stroke="#8a8a8a" stroke-width="0.9" />
<line x1="43.95" y1="378.50" x2="45.45" y2="379.70" stroke="#777" stroke-width="0.8" />
<clipPath id="m34"><path d="M38.10,368.00 C38.43,368.00 38.73,368.76 39.08,369.40 C39.42,370.04 39.75,370.92 40.18,371.85 C40.61,372.78 41.16,373.77 41.68,375.00 C42.20,376.23 42.86,377.68 43.30,379.20 C43.74,380.72 44.12,382.47 44.34,384.10 C44.56,385.73 44.59,387.25 44.60,389.00 C44.61,390.75 44.54,392.85 44.41,394.60 C44.27,396.35 44.22,398.22 43.82,399.50 C43.42,400.78 42.74,401.72 42.00,402.30 C41.26,402.88 40.70,403.00 39.40,403.00 C38.10,403.00 35.37,402.88 34.20,402.30 C33.03,401.72 32.78,400.78 32.38,399.50 C31.98,398.22 31.93,396.35 31.80,394.60 C31.67,392.85 31.59,390.75 31.60,389.00 C31.61,387.25 31.64,385.73 31.86,384.10 C32.08,382.47 32.46,380.72 32.90,379.20 C33.34,377.68 34.00,376.23 34.52,375.00 C35.05,373.77 35.59,372.78 36.02,371.85 C36.45,370.92 36.78,370.04 37.12,369.40 C37.47,368.76 37.77,368.00 38.10,368.00 Z"/></clipPath>
<g filter="url(#blurB)"><path d="M38.10,368.00 C38.43,368.00 38.73,368.76 39.08,369.40 C39.42,370.04 39.75,370.92 40.18,371.85 C40.61,372.78 41.16,373.77 41.68,375.00 C42.20,376.23 42.86,377.68 43.30,379.20 C43.74,380.72 44.12,382.47 44.34,384.10 C44.56,385.73 44.59,387.25 44.60,389.00 C44.61,390.75 44.54,392.85 44.41,394.60 C44.27,396.35 44.22,398.22 43.82,399.50 C43.42,400.78 42.74,401.72 42.00,402.30 C41.26,402.88 40.70,403.00 39.40,403.00 C38.10,403.00 35.37,402.88 34.20,402.30 C33.03,401.72 32.78,400.78 32.38,399.50 C31.98,398.22 31.93,396.35 31.80,394.60 C31.67,392.85 31.59,390.75 31.60,389.00 C31.61,387.25 31.64,385.73 31.86,384.10 C32.08,382.47 32.46,380.72 32.90,379.20 C33.34,377.68 34.00,376.23 34.52,375.00 C35.05,373.77 35.59,372.78 36.02,371.85 C36.45,370.92 36.78,370.04 37.12,369.40 C37.47,368.76 37.77,368.00 38.10,368.00 Z" fill="#e0e0e5"/>
<g clip-path="url(#m34)"><g filter="url(#blur05)">
<ellipse cx="40.06" cy="393.91" rx="1.44" ry="2.03" fill="#c4c4c4"/>
<ellipse cx="35.36" cy="390.82" rx="1.68" ry="1.28" fill="#d0d0d0"/>
<ellipse cx="41.54" cy="393.49" rx="1.91" ry="1.95" fill="#c4c4c4"/>
<ellipse cx="34.66" cy="399.93" rx="1.78" ry="1.77" fill="#f6f6f6"/>
<ellipse cx="38.47" cy="376.30" rx="1.05" ry="2.40" fill="#c4c4c4"/>
<ellipse cx="41.53" cy="393.74" rx="1.17" ry="1.29" fill="#d0d0d0"/>
<ellipse cx="35.36" cy="372.48" rx="1.47" ry="1.17" fill="#d0d0d0"/>
<ellipse cx="40.35" cy="398.76" rx="1.75" ry="2.14" fill="#f6f6f6"/>
<ellipse cx="37.46" cy="388.54" rx="1.88" ry="1.44" fill="#d0d0d0"/>
<ellipse cx="37.98" cy="380.13" rx="1.12" ry="1.52" fill="#d0d0d0"/>
<ellipse cx="38.10" cy="371.50" rx="3.90" ry="4.20" fill="#2540f0"/>
<ellipse cx="40.64" cy="377.84" rx="2.80" ry="2.93" fill="#2540f0"/>
<ellipse cx="42.35" cy="371.77" rx="1.98" ry="1.93" fill="#2540f0"/>
<ellipse cx="33.35" cy="371.09" rx="1.62" ry="2.06" fill="#2540f0"/>
<ellipse cx="38.76" cy="378.08" rx="1.49" ry="3.21" fill="#2540f0"/>
<ellipse cx="36.74" cy="381.46" rx="1.80" ry="1.96" fill="#2540f0"/>
<ellipse cx="35.02" cy="384.79" rx="2.19" ry="3.09" fill="#2540f0"/>
<ellipse cx="38.10" cy="378.50" rx="5.20" ry="4.20" fill="#28b4f4"/>
<ellipse cx="38.10" cy="378.50" rx="3.90" ry="3.15" fill="#48e848"/>
<ellipse cx="38.10" cy="378.50" rx="2.60" ry="2.10" fill="#ecec28"/>
<ellipse cx="38.75" cy="378.50" rx="1.30" ry="1.23" fill="#f41818"/>
<ellipse cx="36.84" cy="399.96" rx="1.55" ry="1.78" fill="#2c3cc8"/>
<ellipse cx="41.20" cy="397.87" rx="1.97" ry="1.39" fill="#2c3cc8"/>
<ellipse cx="37.20" cy="391.65" rx="1.35" ry="2.07" fill="#2c3cc8"/>
<ellipse cx="35.92" cy="394.31" rx="1.01" ry="2.57" fill="#2c3cc8"/>
<ellipse cx="42.79" cy="394.02" rx="1.44" ry="2.81" fill="#2c3cc8"/>
<ellipse cx="36.60" cy="399.97" rx="2.22" ry="3.05" fill="#2c3cc8"/>
<ellipse cx="37.17" cy="400.24" rx="1.70" ry="1.41" fill="#6a88f4"/>
<ellipse cx="35.32" cy="390.56" rx="1.08" ry="1.18" fill="#6a88f4"/>
<ellipse cx="42.08" cy="391.54" rx="1.19" ry="1.87" fill="#6a88f4"/>
</g></g></g>
<line x1="51.70" y1="367.30" x2="51.70" y2="371.00" stroke="#bdbdbd" stroke-width="1.1" />
<path d="M51.70,402.00 C51.17,416.06 49.26,428.64 49.00,439.00" stroke="#a9a9ab" stroke-width="1.35" fill="none" stroke-linecap="round"/>
<polyline points="51.61,404.10 51.36,408.56 51.04,412.92 50.68,417.15 50.31,421.27 49.94,425.25 49.60,429.10" fill="none" stroke="#40a0c0" stroke-width="1.55" stroke-linecap="round"/>
<line x1="45.72" y1="398.10" x2="43.52" y2="400.10" stroke="#8a8a8a" stroke-width="0.9" />
<line x1="45.85" y1="378.50" x2="44.35" y2="379.70" stroke="#777" stroke-width="0.8" />
<line x1="57.68" y1="398.10" x2="59.88" y2="400.10" stroke="#8a8a8a" stroke-width="0.9" />
<line x1="57.55" y1="378.50" x2="59.05" y2="379.70" stroke="#777" stroke-width="0.8" />
<clipPath id="m35"><path d="M51.70,368.00 C52.03,368.00 52.33,368.76 52.68,369.40 C53.02,370.04 53.35,370.92 53.78,371.85 C54.21,372.78 54.76,373.77 55.28,375.00 C55.80,376.23 56.46,377.68 56.90,379.20 C57.34,380.72 57.72,382.47 57.94,384.10 C58.16,385.73 58.19,387.25 58.20,389.00 C58.21,390.75 58.14,392.85 58.01,394.60 C57.88,396.35 57.82,398.22 57.42,399.50 C57.02,400.78 56.34,401.72 55.60,402.30 C54.86,402.88 54.30,403.00 53.00,403.00 C51.70,403.00 48.97,402.88 47.80,402.30 C46.63,401.72 46.38,400.78 45.98,399.50 C45.58,398.22 45.53,396.35 45.40,394.60 C45.27,392.85 45.19,390.75 45.20,389.00 C45.21,387.25 45.24,385.73 45.46,384.10 C45.68,382.47 46.06,380.72 46.50,379.20 C46.94,377.68 47.60,376.23 48.12,375.00 C48.65,373.77 49.19,372.78 49.62,371.85 C50.05,370.92 50.38,370.04 50.73,369.40 C51.07,368.76 51.38,368.00 51.70,368.00 Z"/></clipPath>
<g filter="url(#blurB)"><path d="M51.70,368.00 C52.03,368.00 52.33,368.76 52.68,369.40 C53.02,370.04 53.35,370.92 53.78,371.85 C54.21,372.78 54.76,373.77 55.28,375.00 C55.80,376.23 56.46,377.68 56.90,379.20 C57.34,380.72 57.72,382.47 57.94,384.10 C58.16,385.73 58.19,387.25 58.20,389.00 C58.21,390.75 58.14,392.85 58.01,394.60 C57.88,396.35 57.82,398.22 57.42,399.50 C57.02,400.78 56.34,401.72 55.60,402.30 C54.86,402.88 54.30,403.00 53.00,403.00 C51.70,403.00 48.97,402.88 47.80,402.30 C46.63,401.72 46.38,400.78 45.98,399.50 C45.58,398.22 45.53,396.35 45.40,394.60 C45.27,392.85 45.19,390.75 45.20,389.00 C45.21,387.25 45.24,385.73 45.46,384.10 C45.68,382.47 46.06,380.72 46.50,379.20 C46.94,377.68 47.60,376.23 48.12,375.00 C48.65,373.77 49.19,372.78 49.62,371.85 C50.05,370.92 50.38,370.04 50.73,369.40 C51.07,368.76 51.38,368.00 51.70,368.00 Z" fill="#e0e0e5"/>
<g clip-path="url(#m35)"><g filter="url(#blur05)">
<ellipse cx="55.20" cy="393.04" rx="2.01" ry="2.05" fill="#fafafa"/>
<ellipse cx="53.62" cy="381.16" rx="2.08" ry="2.02" fill="#fafafa"/>
<ellipse cx="50.35" cy="384.03" rx="1.57" ry="1.44" fill="#fafafa"/>
<ellipse cx="52.48" cy="400.50" rx="1.86" ry="1.39" fill="#d0d0d0"/>
<ellipse cx="51.17" cy="378.39" rx="1.31" ry="1.92" fill="#f6f6f6"/>
<ellipse cx="51.26" cy="385.15" rx="1.72" ry="1.62" fill="#c4c4c4"/>
<ellipse cx="47.82" cy="377.09" rx="1.70" ry="1.96" fill="#d0d0d0"/>
<ellipse cx="53.30" cy="393.09" rx="1.70" ry="1.41" fill="#d0d0d0"/>
<ellipse cx="47.30" cy="378.28" rx="2.03" ry="1.64" fill="#f6f6f6"/>
<ellipse cx="46.83" cy="374.15" rx="2.17" ry="1.91" fill="#d0d0d0"/>
<ellipse cx="48.72" cy="390.91" rx="1.51" ry="3.14" fill="#2c3cc8"/>
<ellipse cx="54.59" cy="384.83" rx="1.77" ry="1.43" fill="#2c3cc8"/>
<ellipse cx="55.49" cy="391.15" rx="1.51" ry="1.49" fill="#2c3cc8"/>
<ellipse cx="51.09" cy="387.41" rx="2.14" ry="1.86" fill="#2c3cc8"/>
<ellipse cx="49.80" cy="376.37" rx="1.57" ry="1.74" fill="#2c3cc8"/>
<ellipse cx="55.24" cy="375.90" rx="1.75" ry="1.48" fill="#2c3cc8"/>
<ellipse cx="54.12" cy="372.62" rx="1.08" ry="2.48" fill="#2c3cc8"/>
<ellipse cx="55.67" cy="386.05" rx="2.03" ry="2.31" fill="#2c3cc8"/>
<ellipse cx="47.81" cy="373.83" rx="1.31" ry="2.71" fill="#6a88f4"/>
<ellipse cx="52.06" cy="376.72" rx="1.13" ry="1.93" fill="#6a88f4"/>
<ellipse cx="55.58" cy="381.96" rx="1.82" ry="2.00" fill="#6a88f4"/>
</g></g></g>
<line x1="65.00" y1="367.30" x2="65.00" y2="371.00" stroke="#bdbdbd" stroke-width="1.1" />
<path d="M65.00,402.00 C65.98,416.06 68.46,428.64 69.00,439.00" stroke="#a9a9ab" stroke-width="1.35" fill="none" stroke-linecap="round"/>
<polyline points="65.16,404.10 65.43,407.20 65.74,410.25 66.08,413.25 66.43,416.19 66.80,419.07 67.16,421.89" fill="none" stroke="#40c060" stroke-width="1.55" stroke-linecap="round"/>
<polyline points="67.16,421.89 67.36,423.43 67.56,424.95 67.75,426.45 67.94,427.93 68.12,429.39 68.28,430.83" fill="none" stroke="#d06020" stroke-width="1.55" stroke-linecap="round"/>
<line x1="59.02" y1="398.10" x2="56.82" y2="400.10" stroke="#8a8a8a" stroke-width="0.9" />
<line x1="59.15" y1="378.50" x2="57.65" y2="379.70" stroke="#777" stroke-width="0.8" />
<line x1="70.98" y1="398.10" x2="73.18" y2="400.10" stroke="#8a8a8a" stroke-width="0.9" />
<line x1="70.85" y1="378.50" x2="72.35" y2="379.70" stroke="#777" stroke-width="0.8" />
<clipPath id="m36"><path d="M65.00,368.00 C65.33,368.00 65.63,368.76 65.97,369.40 C66.32,370.04 66.65,370.92 67.08,371.85 C67.51,372.78 68.06,373.77 68.58,375.00 C69.09,376.23 69.76,377.68 70.20,379.20 C70.64,380.72 71.02,382.47 71.24,384.10 C71.46,385.73 71.49,387.25 71.50,389.00 C71.51,390.75 71.44,392.85 71.31,394.60 C71.18,396.35 71.12,398.22 70.72,399.50 C70.32,400.78 69.64,401.72 68.90,402.30 C68.16,402.88 67.60,403.00 66.30,403.00 C65.00,403.00 62.27,402.88 61.10,402.30 C59.93,401.72 59.68,400.78 59.28,399.50 C58.88,398.22 58.83,396.35 58.70,394.60 C58.56,392.85 58.49,390.75 58.50,389.00 C58.51,387.25 58.54,385.73 58.76,384.10 C58.98,382.47 59.36,380.72 59.80,379.20 C60.24,377.68 60.90,376.23 61.42,375.00 C61.95,373.77 62.49,372.78 62.92,371.85 C63.35,370.92 63.68,370.04 64.03,369.40 C64.37,368.76 64.67,368.00 65.00,368.00 Z"/></clipPath>
<g filter="url(#blurB)"><path d="M65.00,368.00 C65.33,368.00 65.63,368.76 65.97,369.40 C66.32,370.04 66.65,370.92 67.08,371.85 C67.51,372.78 68.06,373.77 68.58,375.00 C69.09,376.23 69.76,377.68 70.20,379.20 C70.64,380.72 71.02,382.47 71.24,384.10 C71.46,385.73 71.49,387.25 71.50,389.00 C71.51,390.75 71.44,392.85 71.31,394.60 C71.18,396.35 71.12,398.22 70.72,399.50 C70.32,400.78 69.64,401.72 68.90,402.30 C68.16,402.88 67.60,403.00 66.30,403.00 C65.00,403.00 62.27,402.88 61.10,402.30 C59.93,401.72 59.68,400.78 59.28,399.50 C58.88,398.22 58.83,396.35 58.70,394.60 C58.56,392.85 58.49,390.75 58.50,389.00 C58.51,387.25 58.54,385.73 58.76,384.10 C58.98,382.47 59.36,380.72 59.80,379.20 C60.24,377.68 60.90,376.23 61.42,375.00 C61.95,373.77 62.49,372.78 62.92,371.85 C63.35,370.92 63.68,370.04 64.03,369.40 C64.37,368.76 64.67,368.00 65.00,368.00 Z" fill="#e0e0e5"/>
<g clip-path="url(#m36)"><g filter="url(#blur05)">
<ellipse cx="60.38" cy="390.55" rx="2.01" ry="1.11" fill="#d0d0d0"/>
<ellipse cx="66.15" cy="375.27" rx="1.87" ry="1.84" fill="#fafafa"/>
<ellipse cx="69.15" cy="388.90" rx="2.22" ry="2.38" fill="#fafafa"/>
<ellipse cx="63.05" cy="397.03" rx="1.67" ry="1.54" fill="#d0d0d0"/>
<ellipse cx="68.79" cy="377.52" rx="1.65" ry="1.52" fill="#fafafa"/>
<ellipse cx="61.33" cy="377.85" rx="1.74" ry="1.57" fill="#f6f6f6"/>
<ellipse cx="66.16" cy="394.28" rx="1.54" ry="2.22" fill="#fafafa"/>
<ellipse cx="66.49" cy="398.26" rx="1.12" ry="1.47" fill="#fafafa"/>
<ellipse cx="63.88" cy="377.52" rx="2.22" ry="1.45" fill="#f6f6f6"/>
<ellipse cx="62.90" cy="400.40" rx="1.71" ry="1.84" fill="#fafafa"/>
<ellipse cx="63.60" cy="391.57" rx="1.49" ry="1.46" fill="#2c3cc8"/>
<ellipse cx="64.74" cy="388.86" rx="1.94" ry="1.48" fill="#2c3cc8"/>
<ellipse cx="64.97" cy="374.89" rx="1.04" ry="3.44" fill="#2c3cc8"/>
<ellipse cx="67.00" cy="379.23" rx="2.07" ry="3.03" fill="#2c3cc8"/>
<ellipse cx="60.20" cy="379.81" rx="1.42" ry="1.44" fill="#2c3cc8"/>
<ellipse cx="67.39" cy="392.52" rx="1.67" ry="3.12" fill="#2c3cc8"/>
<ellipse cx="65.40" cy="380.33" rx="1.79" ry="3.08" fill="#2c3cc8"/>
<ellipse cx="62.74" cy="383.22" rx="1.17" ry="2.50" fill="#2c3cc8"/>
<ellipse cx="68.43" cy="372.36" rx="1.66" ry="2.02" fill="#6a88f4"/>
<ellipse cx="68.27" cy="372.30" rx="1.80" ry="1.74" fill="#6a88f4"/>
<ellipse cx="63.21" cy="392.03" rx="1.35" ry="2.73" fill="#6a88f4"/>
<ellipse cx="66.30" cy="387.25" rx="2.60" ry="1.75" fill="#48e848"/>
</g></g></g>
<text x="8.70" y="440.00" font-size="7.5" fill="#d83030" opacity="0.85">p-5</text>
<rect x="83.00" y="367.00" width="70.00" height="75.50" fill="#313133" stroke="none" stroke-width="1" />
<line x1="91.80" y1="367.50" x2="91.80" y2="372.00" stroke="#bdbdbd" stroke-width="1.1" />
<path d="M91.80,404.00 C90.50,417.30 88.81,429.20 88.00,439.00" stroke="#a9a9ab" stroke-width="1.35" fill="none" stroke-linecap="round"/>
<polyline points="91.80,404.00 91.26,409.24 90.70,414.33 90.13,419.24 89.58,423.98 89.06,428.53 88.58,432.87" fill="none" stroke="#40c040" stroke-width="1.55" stroke-linecap="round"/>
<line x1="85.82" y1="399.96" x2="83.62" y2="401.96" stroke="#8a8a8a" stroke-width="0.9" />
<line x1="85.95" y1="379.80" x2="84.45" y2="381.00" stroke="#777" stroke-width="0.8" />
<line x1="97.78" y1="399.96" x2="99.98" y2="401.96" stroke="#8a8a8a" stroke-width="0.9" />
<line x1="97.65" y1="379.80" x2="99.15" y2="381.00" stroke="#777" stroke-width="0.8" />
<clipPath id="m37"><path d="M91.80,369.00 C92.12,369.00 92.43,369.78 92.77,370.44 C93.12,371.10 93.45,372.00 93.88,372.96 C94.31,373.92 94.86,374.94 95.38,376.20 C95.89,377.46 96.56,378.96 97.00,380.52 C97.44,382.08 97.82,383.88 98.04,385.56 C98.26,387.24 98.29,388.80 98.30,390.60 C98.31,392.40 98.23,394.56 98.10,396.36 C97.97,398.16 97.92,400.08 97.52,401.40 C97.12,402.72 96.44,403.68 95.70,404.28 C94.96,404.88 94.40,405.00 93.10,405.00 C91.80,405.00 89.07,404.88 87.90,404.28 C86.73,403.68 86.48,402.72 86.08,401.40 C85.68,400.08 85.62,398.16 85.50,396.36 C85.37,394.56 85.29,392.40 85.30,390.60 C85.31,388.80 85.34,387.24 85.56,385.56 C85.78,383.88 86.16,382.08 86.60,380.52 C87.04,378.96 87.70,377.46 88.22,376.20 C88.74,374.94 89.29,373.92 89.72,372.96 C90.15,372.00 90.48,371.10 90.83,370.44 C91.17,369.78 91.47,369.00 91.80,369.00 Z"/></clipPath>
<g filter="url(#blurB)"><path d="M91.80,369.00 C92.12,369.00 92.43,369.78 92.77,370.44 C93.12,371.10 93.45,372.00 93.88,372.96 C94.31,373.92 94.86,374.94 95.38,376.20 C95.89,377.46 96.56,378.96 97.00,380.52 C97.44,382.08 97.82,383.88 98.04,385.56 C98.26,387.24 98.29,388.80 98.30,390.60 C98.31,392.40 98.23,394.56 98.10,396.36 C97.97,398.16 97.92,400.08 97.52,401.40 C97.12,402.72 96.44,403.68 95.70,404.28 C94.96,404.88 94.40,405.00 93.10,405.00 C91.80,405.00 89.07,404.88 87.90,404.28 C86.73,403.68 86.48,402.72 86.08,401.40 C85.68,400.08 85.62,398.16 85.50,396.36 C85.37,394.56 85.29,392.40 85.30,390.60 C85.31,388.80 85.34,387.24 85.56,385.56 C85.78,383.88 86.16,382.08 86.60,380.52 C87.04,378.96 87.70,377.46 88.22,376.20 C88.74,374.94 89.29,373.92 89.72,372.96 C90.15,372.00 90.48,371.10 90.83,370.44 C91.17,369.78 91.47,369.00 91.80,369.00 Z" fill="#28b4f4"/>
<g clip-path="url(#m37)"><g filter="url(#blur05)">
<ellipse cx="91.80" cy="372.60" rx="3.90" ry="4.32" fill="#2540f0"/>
<ellipse cx="92.59" cy="378.56" rx="2.48" ry="3.61" fill="#2540f0"/>
<ellipse cx="91.48" cy="392.90" rx="1.37" ry="1.98" fill="#2540f0"/>
<ellipse cx="89.74" cy="393.79" rx="1.37" ry="3.72" fill="#2540f0"/>
<ellipse cx="87.61" cy="378.51" rx="1.18" ry="3.25" fill="#2540f0"/>
<ellipse cx="90.50" cy="387.03" rx="1.53" ry="2.94" fill="#2540f0"/>
<ellipse cx="90.86" cy="378.97" rx="1.69" ry="2.17" fill="#2540f0"/>
<ellipse cx="88.37" cy="388.12" rx="1.45" ry="3.47" fill="#48e848"/>
<ellipse cx="92.85" cy="382.29" rx="2.18" ry="3.09" fill="#48e848"/>
<ellipse cx="87.35" cy="385.96" rx="2.19" ry="2.97" fill="#48e848"/>
<ellipse cx="95.50" cy="391.13" rx="1.79" ry="2.21" fill="#48e848"/>
<ellipse cx="88.17" cy="393.02" rx="2.30" ry="3.20" fill="#48e848"/>
<ellipse cx="91.23" cy="385.23" rx="1.53" ry="2.99" fill="#48e848"/>
<ellipse cx="88.34" cy="388.25" rx="2.20" ry="3.36" fill="#48e848"/>
<ellipse cx="89.33" cy="374.92" rx="1.72" ry="3.40" fill="#48e848"/>
<ellipse cx="96.47" cy="383.43" rx="1.64" ry="2.47" fill="#ecec28"/>
<ellipse cx="89.02" cy="375.95" rx="1.51" ry="1.36" fill="#ecec28"/>
<ellipse cx="90.65" cy="392.02" rx="1.82" ry="1.35" fill="#ecec28"/>
<ellipse cx="87.73" cy="378.81" rx="1.77" ry="1.18" fill="#ecec28"/>
<ellipse cx="89.12" cy="376.52" rx="0.97" ry="2.08" fill="#ecec28"/>
<ellipse cx="86.60" cy="397.80" rx="1.95" ry="1.80" fill="#f88c18"/>
<ellipse cx="97.00" cy="397.80" rx="1.95" ry="1.80" fill="#f41818"/>
</g></g></g>
<line x1="107.40" y1="367.50" x2="107.40" y2="372.00" stroke="#bdbdbd" stroke-width="1.1" />
<path d="M107.40,404.00 C106.72,417.30 108.58,429.20 108.00,439.00" stroke="#a9a9ab" stroke-width="1.35" fill="none" stroke-linecap="round"/>
<polyline points="107.32,405.98 107.25,409.57 107.28,413.07 107.37,416.50 107.51,419.85 107.68,423.11 107.84,426.28" fill="none" stroke="#4080ff" stroke-width="1.55" stroke-linecap="round"/>
<line x1="101.42" y1="399.96" x2="99.22" y2="401.96" stroke="#8a8a8a" stroke-width="0.9" />
<line x1="101.55" y1="379.80" x2="100.05" y2="381.00" stroke="#777" stroke-width="0.8" />
<line x1="113.38" y1="399.96" x2="115.58" y2="401.96" stroke="#8a8a8a" stroke-width="0.9" />
<line x1="113.25" y1="379.80" x2="114.75" y2="381.00" stroke="#777" stroke-width="0.8" />
<clipPath id="m38"><path d="M107.40,369.00 C107.73,369.00 108.03,369.78 108.38,370.44 C108.72,371.10 109.05,372.00 109.48,372.96 C109.91,373.92 110.46,374.94 110.98,376.20 C111.50,377.46 112.16,378.96 112.60,380.52 C113.04,382.08 113.42,383.88 113.64,385.56 C113.86,387.24 113.89,388.80 113.90,390.60 C113.91,392.40 113.84,394.56 113.71,396.36 C113.58,398.16 113.52,400.08 113.12,401.40 C112.72,402.72 112.04,403.68 111.30,404.28 C110.56,404.88 110.00,405.00 108.70,405.00 C107.40,405.00 104.67,404.88 103.50,404.28 C102.33,403.68 102.08,402.72 101.68,401.40 C101.28,400.08 101.22,398.16 101.09,396.36 C100.97,394.56 100.89,392.40 100.90,390.60 C100.91,388.80 100.94,387.24 101.16,385.56 C101.38,383.88 101.76,382.08 102.20,380.52 C102.64,378.96 103.31,377.46 103.83,376.20 C104.34,374.94 104.89,373.92 105.32,372.96 C105.75,372.00 106.08,371.10 106.43,370.44 C106.77,369.78 107.08,369.00 107.40,369.00 Z"/></clipPath>
<g filter="url(#blurB)"><path d="M107.40,369.00 C107.73,369.00 108.03,369.78 108.38,370.44 C108.72,371.10 109.05,372.00 109.48,372.96 C109.91,373.92 110.46,374.94 110.98,376.20 C111.50,377.46 112.16,378.96 112.60,380.52 C113.04,382.08 113.42,383.88 113.64,385.56 C113.86,387.24 113.89,388.80 113.90,390.60 C113.91,392.40 113.84,394.56 113.71,396.36 C113.58,398.16 113.52,400.08 113.12,401.40 C112.72,402.72 112.04,403.68 111.30,404.28 C110.56,404.88 110.00,405.00 108.70,405.00 C107.40,405.00 104.67,404.88 103.50,404.28 C102.33,403.68 102.08,402.72 101.68,401.40 C101.28,400.08 101.22,398.16 101.09,396.36 C100.97,394.56 100.89,392.40 100.90,390.60 C100.91,388.80 100.94,387.24 101.16,385.56 C101.38,383.88 101.76,382.08 102.20,380.52 C102.64,378.96 103.31,377.46 103.83,376.20 C104.34,374.94 104.89,373.92 105.32,372.96 C105.75,372.00 106.08,371.10 106.43,370.44 C106.77,369.78 107.08,369.00 107.40,369.00 Z" fill="#e0e0e5"/>
<g clip-path="url(#m38)"><g filter="url(#blur05)">
<ellipse cx="102.61" cy="399.67" rx="1.95" ry="1.97" fill="#f6f6f6"/>
<ellipse cx="105.71" cy="393.22" rx="2.08" ry="2.30" fill="#c4c4c4"/>
<ellipse cx="111.70" cy="384.59" rx="0.98" ry="1.17" fill="#fafafa"/>
<ellipse cx="105.75" cy="392.01" rx="1.94" ry="1.15" fill="#d0d0d0"/>
<ellipse cx="110.34" cy="378.39" rx="1.50" ry="2.26" fill="#fafafa"/>
<ellipse cx="103.67" cy="383.32" rx="1.83" ry="2.10" fill="#d0d0d0"/>
<ellipse cx="104.63" cy="398.19" rx="1.25" ry="2.08" fill="#f6f6f6"/>
<ellipse cx="110.38" cy="377.29" rx="1.20" ry="1.80" fill="#c4c4c4"/>
<ellipse cx="109.88" cy="399.58" rx="1.70" ry="1.53" fill="#c4c4c4"/>
<ellipse cx="111.97" cy="397.53" rx="1.68" ry="1.71" fill="#f6f6f6"/>
<ellipse cx="111.88" cy="397.48" rx="2.01" ry="1.88" fill="#2c3cc8"/>
<ellipse cx="105.75" cy="392.64" rx="2.12" ry="1.41" fill="#2c3cc8"/>
<ellipse cx="104.15" cy="398.20" rx="1.16" ry="2.82" fill="#2c3cc8"/>
<ellipse cx="105.74" cy="390.55" rx="2.20" ry="2.66" fill="#2c3cc8"/>
<ellipse cx="106.34" cy="380.66" rx="1.86" ry="2.76" fill="#2c3cc8"/>
<ellipse cx="106.52" cy="385.07" rx="1.74" ry="1.95" fill="#2c3cc8"/>
<ellipse cx="104.28" cy="388.20" rx="1.13" ry="2.69" fill="#2c3cc8"/>
<ellipse cx="110.34" cy="396.14" rx="1.35" ry="2.29" fill="#2c3cc8"/>
<ellipse cx="111.53" cy="381.51" rx="2.38" ry="1.82" fill="#2c3cc8"/>
<ellipse cx="110.72" cy="372.05" rx="1.92" ry="3.15" fill="#2c3cc8"/>
<ellipse cx="103.15" cy="398.69" rx="1.70" ry="1.80" fill="#6a88f4"/>
<ellipse cx="109.22" cy="388.32" rx="1.66" ry="2.83" fill="#6a88f4"/>
<ellipse cx="105.40" cy="386.28" rx="1.04" ry="1.34" fill="#6a88f4"/>
<ellipse cx="106.14" cy="398.25" rx="1.17" ry="1.71" fill="#6a88f4"/>
<ellipse cx="112.02" cy="395.87" rx="1.27" ry="1.19" fill="#6a88f4"/>
<ellipse cx="108.70" cy="394.92" rx="2.93" ry="2.16" fill="#48e848"/>
<ellipse cx="108.70" cy="394.92" rx="1.95" ry="1.62" fill="#ecec28"/>
<ellipse cx="108.70" cy="394.92" rx="0.97" ry="0.90" fill="#f41818"/>
</g></g></g>
<line x1="122.40" y1="367.50" x2="122.40" y2="372.00" stroke="#bdbdbd" stroke-width="1.1" />
<path d="M122.40,404.00 C121.10,417.30 123.01,429.20 122.00,439.00" stroke="#a9a9ab" stroke-width="1.35" fill="none" stroke-linecap="round"/>
<line x1="116.42" y1="399.96" x2="114.22" y2="401.96" stroke="#8a8a8a" stroke-width="0.9" />
<line x1="116.55" y1="379.80" x2="115.05" y2="381.00" stroke="#777" stroke-width="0.8" />
<line x1="128.38" y1="399.96" x2="130.58" y2="401.96" stroke="#8a8a8a" stroke-width="0.9" />
<line x1="128.25" y1="379.80" x2="129.75" y2="381.00" stroke="#777" stroke-width="0.8" />
<clipPath id="m39"><path d="M122.40,369.00 C122.73,369.00 123.03,369.78 123.38,370.44 C123.72,371.10 124.05,372.00 124.48,372.96 C124.91,373.92 125.46,374.94 125.98,376.20 C126.50,377.46 127.16,378.96 127.60,380.52 C128.04,382.08 128.42,383.88 128.64,385.56 C128.86,387.24 128.89,388.80 128.90,390.60 C128.91,392.40 128.84,394.56 128.71,396.36 C128.58,398.16 128.52,400.08 128.12,401.40 C127.72,402.72 127.04,403.68 126.30,404.28 C125.56,404.88 125.00,405.00 123.70,405.00 C122.40,405.00 119.67,404.88 118.50,404.28 C117.33,403.68 117.08,402.72 116.68,401.40 C116.28,400.08 116.22,398.16 116.09,396.36 C115.97,394.56 115.89,392.40 115.90,390.60 C115.91,388.80 115.94,387.24 116.16,385.56 C116.38,383.88 116.76,382.08 117.20,380.52 C117.64,378.96 118.31,377.46 118.83,376.20 C119.34,374.94 119.89,373.92 120.32,372.96 C120.75,372.00 121.08,371.10 121.43,370.44 C121.77,369.78 122.08,369.00 122.40,369.00 Z"/></clipPath>
<g filter="url(#blurB)"><path d="M122.40,369.00 C122.73,369.00 123.03,369.78 123.38,370.44 C123.72,371.10 124.05,372.00 124.48,372.96 C124.91,373.92 125.46,374.94 125.98,376.20 C126.50,377.46 127.16,378.96 127.60,380.52 C128.04,382.08 128.42,383.88 128.64,385.56 C128.86,387.24 128.89,388.80 128.90,390.60 C128.91,392.40 128.84,394.56 128.71,396.36 C128.58,398.16 128.52,400.08 128.12,401.40 C127.72,402.72 127.04,403.68 126.30,404.28 C125.56,404.88 125.00,405.00 123.70,405.00 C122.40,405.00 119.67,404.88 118.50,404.28 C117.33,403.68 117.08,402.72 116.68,401.40 C116.28,400.08 116.22,398.16 116.09,396.36 C115.97,394.56 115.89,392.40 115.90,390.60 C115.91,388.80 115.94,387.24 116.16,385.56 C116.38,383.88 116.76,382.08 117.20,380.52 C117.64,378.96 118.31,377.46 118.83,376.20 C119.34,374.94 119.89,373.92 120.32,372.96 C120.75,372.00 121.08,371.10 121.43,370.44 C121.77,369.78 122.08,369.00 122.40,369.00 Z" fill="#e0e0e5"/>
<g clip-path="url(#m39)"><g filter="url(#blur05)">
<ellipse cx="121.08" cy="378.67" rx="1.97" ry="2.41" fill="#d0d0d0"/>
<ellipse cx="120.03" cy="372.72" rx="1.47" ry="2.31" fill="#d0d0d0"/>
<ellipse cx="119.25" cy="383.69" rx="1.01" ry="2.10" fill="#f6f6f6"/>
<ellipse cx="117.42" cy="393.63" rx="1.02" ry="1.39" fill="#fafafa"/>
<ellipse cx="121.98" cy="401.62" rx="1.20" ry="1.45" fill="#fafafa"/>
<ellipse cx="127.37" cy="383.21" rx="1.07" ry="1.79" fill="#f6f6f6"/>
<ellipse cx="124.29" cy="372.91" rx="1.38" ry="2.33" fill="#c4c4c4"/>
<ellipse cx="121.92" cy="376.96" rx="1.52" ry="1.86" fill="#d0d0d0"/>
<ellipse cx="118.64" cy="384.96" rx="1.69" ry="2.25" fill="#c4c4c4"/>
<ellipse cx="125.06" cy="375.59" rx="1.98" ry="1.42" fill="#fafafa"/>
<ellipse cx="126.09" cy="374.57" rx="2.10" ry="3.47" fill="#2c3cc8"/>
<ellipse cx="120.57" cy="379.10" rx="1.46" ry="1.74" fill="#2c3cc8"/>
<ellipse cx="120.92" cy="378.91" rx="1.20" ry="2.83" fill="#2c3cc8"/>
<ellipse cx="119.20" cy="377.00" rx="1.32" ry="2.03" fill="#6a88f4"/>
<ellipse cx="118.11" cy="373.39" rx="1.52" ry="2.23" fill="#6a88f4"/>
</g></g></g>
<line x1="137.60" y1="367.50" x2="137.60" y2="372.00" stroke="#bdbdbd" stroke-width="1.1" />
<path d="M137.60,404.00 C140.02,417.30 136.09,429.20 138.00,439.00" stroke="#a9a9ab" stroke-width="1.35" fill="none" stroke-linecap="round"/>
<polyline points="137.92,405.98 138.28,409.57 138.41,413.07 138.36,416.50 138.20,419.85 137.97,423.11 137.73,426.28" fill="none" stroke="#4080ff" stroke-width="1.55" stroke-linecap="round"/>
<line x1="131.62" y1="399.96" x2="129.42" y2="401.96" stroke="#8a8a8a" stroke-width="0.9" />
<line x1="131.75" y1="379.80" x2="130.25" y2="381.00" stroke="#777" stroke-width="0.8" />
<line x1="143.58" y1="399.96" x2="145.78" y2="401.96" stroke="#8a8a8a" stroke-width="0.9" />
<line x1="143.45" y1="379.80" x2="144.95" y2="381.00" stroke="#777" stroke-width="0.8" />
<clipPath id="m40"><path d="M137.60,369.00 C137.92,369.00 138.23,369.78 138.57,370.44 C138.92,371.10 139.25,372.00 139.68,372.96 C140.11,373.92 140.65,374.94 141.17,376.20 C141.69,377.46 142.36,378.96 142.80,380.52 C143.24,382.08 143.62,383.88 143.84,385.56 C144.06,387.24 144.09,388.80 144.10,390.60 C144.11,392.40 144.03,394.56 143.91,396.36 C143.78,398.16 143.72,400.08 143.32,401.40 C142.92,402.72 142.24,403.68 141.50,404.28 C140.76,404.88 140.20,405.00 138.90,405.00 C137.60,405.00 134.87,404.88 133.70,404.28 C132.53,403.68 132.28,402.72 131.88,401.40 C131.48,400.08 131.42,398.16 131.29,396.36 C131.16,394.56 131.09,392.40 131.10,390.60 C131.11,388.80 131.14,387.24 131.36,385.56 C131.58,383.88 131.96,382.08 132.40,380.52 C132.84,378.96 133.50,377.46 134.03,376.20 C134.55,374.94 135.09,373.92 135.52,372.96 C135.95,372.00 136.28,371.10 136.62,370.44 C136.97,369.78 137.28,369.00 137.60,369.00 Z"/></clipPath>
<g filter="url(#blurB)"><path d="M137.60,369.00 C137.92,369.00 138.23,369.78 138.57,370.44 C138.92,371.10 139.25,372.00 139.68,372.96 C140.11,373.92 140.65,374.94 141.17,376.20 C141.69,377.46 142.36,378.96 142.80,380.52 C143.24,382.08 143.62,383.88 143.84,385.56 C144.06,387.24 144.09,388.80 144.10,390.60 C144.11,392.40 144.03,394.56 143.91,396.36 C143.78,398.16 143.72,400.08 143.32,401.40 C142.92,402.72 142.24,403.68 141.50,404.28 C140.76,404.88 140.20,405.00 138.90,405.00 C137.60,405.00 134.87,404.88 133.70,404.28 C132.53,403.68 132.28,402.72 131.88,401.40 C131.48,400.08 131.42,398.16 131.29,396.36 C131.16,394.56 131.09,392.40 131.10,390.60 C131.11,388.80 131.14,387.24 131.36,385.56 C131.58,383.88 131.96,382.08 132.40,380.52 C132.84,378.96 133.50,377.46 134.03,376.20 C134.55,374.94 135.09,373.92 135.52,372.96 C135.95,372.00 136.28,371.10 136.62,370.44 C136.97,369.78 137.28,369.00 137.60,369.00 Z" fill="#e0e0e5"/>
<g clip-path="url(#m40)"><g filter="url(#blur05)">
<ellipse cx="139.94" cy="376.78" rx="1.66" ry="1.46" fill="#fafafa"/>
<ellipse cx="142.36" cy="391.78" rx="1.54" ry="2.09" fill="#f6f6f6"/>
<ellipse cx="142.42" cy="390.11" rx="2.20" ry="1.10" fill="#f6f6f6"/>
<ellipse cx="137.51" cy="385.04" rx="2.12" ry="1.36" fill="#d0d0d0"/>
<ellipse cx="136.70" cy="377.25" rx="1.70" ry="1.18" fill="#c4c4c4"/>
<ellipse cx="141.48" cy="387.45" rx="1.98" ry="1.55" fill="#f6f6f6"/>
<ellipse cx="134.53" cy="398.04" rx="1.61" ry="1.85" fill="#d0d0d0"/>
<ellipse cx="135.21" cy="396.52" rx="2.14" ry="1.97" fill="#c4c4c4"/>
<ellipse cx="138.10" cy="395.23" rx="1.44" ry="1.40" fill="#f6f6f6"/>
<ellipse cx="134.62" cy="396.55" rx="1.46" ry="2.34" fill="#d0d0d0"/>
<ellipse cx="139.65" cy="395.13" rx="1.02" ry="3.45" fill="#2c3cc8"/>
<ellipse cx="140.73" cy="372.33" rx="2.12" ry="3.15" fill="#2c3cc8"/>
<ellipse cx="134.56" cy="397.03" rx="1.50" ry="2.37" fill="#2c3cc8"/>
<ellipse cx="139.10" cy="389.44" rx="2.03" ry="1.99" fill="#2c3cc8"/>
<ellipse cx="137.44" cy="374.51" rx="1.38" ry="2.46" fill="#2c3cc8"/>
<ellipse cx="133.45" cy="380.22" rx="2.13" ry="1.77" fill="#2c3cc8"/>
<ellipse cx="136.95" cy="371.81" rx="2.02" ry="1.60" fill="#2c3cc8"/>
<ellipse cx="134.50" cy="390.92" rx="1.61" ry="2.60" fill="#2c3cc8"/>
<ellipse cx="139.89" cy="372.32" rx="1.58" ry="2.33" fill="#6a88f4"/>
<ellipse cx="134.03" cy="383.62" rx="1.01" ry="2.76" fill="#6a88f4"/>
<ellipse cx="139.11" cy="371.31" rx="1.68" ry="1.88" fill="#6a88f4"/>
</g></g></g>
<rect x="7.70" y="454.20" width="69.80" height="65.30" fill="#313133" stroke="none" stroke-width="1" />
<line x1="16.90" y1="454.70" x2="16.90" y2="459.00" stroke="#bdbdbd" stroke-width="1.1" />
<path d="M16.90,486.00 C16.21,497.40 14.38,507.60 14.00,516.00" stroke="#a9a9ab" stroke-width="1.35" fill="none" stroke-linecap="round"/>
<polyline points="16.90,486.00 16.71,488.82 16.47,491.60 16.21,494.32 15.93,496.98 15.63,499.58 15.33,502.12" fill="none" stroke="#3090ff" stroke-width="1.55" stroke-linecap="round"/>
<line x1="10.46" y1="482.66" x2="8.26" y2="484.66" stroke="#8a8a8a" stroke-width="0.9" />
<line x1="10.60" y1="465.30" x2="9.10" y2="466.50" stroke="#777" stroke-width="0.8" />
<line x1="23.34" y1="482.66" x2="25.54" y2="484.66" stroke="#8a8a8a" stroke-width="0.9" />
<line x1="23.20" y1="465.30" x2="24.70" y2="466.50" stroke="#777" stroke-width="0.8" />
<clipPath id="m41"><path d="M16.90,456.00 C17.27,456.00 17.67,456.36 18.02,456.77 C18.37,457.19 18.60,457.83 19.00,458.48 C19.40,459.13 19.89,459.82 20.40,460.65 C20.91,461.48 21.59,462.41 22.08,463.44 C22.57,464.47 23.04,465.51 23.34,466.85 C23.64,468.19 23.81,469.59 23.90,471.50 C23.99,473.41 23.96,476.41 23.90,478.32 C23.84,480.23 23.88,481.68 23.55,482.97 C23.22,484.26 22.76,485.40 21.94,486.07 C21.12,486.74 20.33,487.00 18.65,487.00 C16.97,487.00 13.26,486.74 11.86,486.07 C10.46,485.40 10.58,484.26 10.25,482.97 C9.92,481.68 9.96,480.23 9.90,478.32 C9.84,476.41 9.81,473.41 9.90,471.50 C9.99,469.59 10.16,468.19 10.46,466.85 C10.76,465.51 11.23,464.47 11.72,463.44 C12.21,462.41 12.89,461.48 13.40,460.65 C13.91,459.82 14.40,459.13 14.80,458.48 C15.20,457.83 15.43,457.19 15.78,456.77 C16.13,456.36 16.53,456.00 16.90,456.00 Z"/></clipPath>
<g filter="url(#blurB)"><path d="M16.90,456.00 C17.27,456.00 17.67,456.36 18.02,456.77 C18.37,457.19 18.60,457.83 19.00,458.48 C19.40,459.13 19.89,459.82 20.40,460.65 C20.91,461.48 21.59,462.41 22.08,463.44 C22.57,464.47 23.04,465.51 23.34,466.85 C23.64,468.19 23.81,469.59 23.90,471.50 C23.99,473.41 23.96,476.41 23.90,478.32 C23.84,480.23 23.88,481.68 23.55,482.97 C23.22,484.26 22.76,485.40 21.94,486.07 C21.12,486.74 20.33,487.00 18.65,487.00 C16.97,487.00 13.26,486.74 11.86,486.07 C10.46,485.40 10.58,484.26 10.25,482.97 C9.92,481.68 9.96,480.23 9.90,478.32 C9.84,476.41 9.81,473.41 9.90,471.50 C9.99,469.59 10.16,468.19 10.46,466.85 C10.76,465.51 11.23,464.47 11.72,463.44 C12.21,462.41 12.89,461.48 13.40,460.65 C13.91,459.82 14.40,459.13 14.80,458.48 C15.20,457.83 15.43,457.19 15.78,456.77 C16.13,456.36 16.53,456.00 16.90,456.00 Z" fill="#e0e0e5"/>
<g clip-path="url(#m41)"><g filter="url(#blur05)">
<ellipse cx="17.38" cy="468.01" rx="1.74" ry="0.94" fill="#f6f6f6"/>
<ellipse cx="11.76" cy="472.05" rx="1.12" ry="1.96" fill="#fafafa"/>
<ellipse cx="15.19" cy="484.95" rx="1.49" ry="2.13" fill="#d0d0d0"/>
<ellipse cx="12.86" cy="472.55" rx="2.14" ry="1.85" fill="#fafafa"/>
<ellipse cx="13.92" cy="466.22" rx="1.44" ry="2.03" fill="#d0d0d0"/>
<ellipse cx="20.18" cy="463.86" rx="1.15" ry="1.45" fill="#d0d0d0"/>
<ellipse cx="19.97" cy="477.45" rx="1.20" ry="1.62" fill="#c4c4c4"/>
<ellipse cx="16.23" cy="477.97" rx="2.03" ry="1.73" fill="#c4c4c4"/>
<ellipse cx="19.62" cy="467.81" rx="2.08" ry="2.09" fill="#fafafa"/>
<ellipse cx="18.61" cy="477.38" rx="1.29" ry="1.06" fill="#d0d0d0"/>
<ellipse cx="20.34" cy="461.58" rx="2.98" ry="2.55" fill="#2c3cc8"/>
<ellipse cx="15.82" cy="467.47" rx="1.59" ry="1.86" fill="#2c3cc8"/>
<ellipse cx="16.08" cy="461.83" rx="2.49" ry="2.37" fill="#2c3cc8"/>
<ellipse cx="15.68" cy="462.53" rx="1.68" ry="3.05" fill="#2c3cc8"/>
<ellipse cx="21.13" cy="463.58" rx="2.73" ry="2.14" fill="#2c3cc8"/>
<ellipse cx="19.63" cy="461.96" rx="2.31" ry="2.35" fill="#2c3cc8"/>
<ellipse cx="20.79" cy="469.57" rx="1.48" ry="1.65" fill="#2c3cc8"/>
<ellipse cx="16.48" cy="461.62" rx="1.71" ry="3.59" fill="#2c3cc8"/>
<ellipse cx="21.53" cy="458.73" rx="1.33" ry="2.85" fill="#2c3cc8"/>
<ellipse cx="21.60" cy="471.43" rx="2.53" ry="3.11" fill="#2c3cc8"/>
<ellipse cx="16.72" cy="465.62" rx="2.83" ry="1.67" fill="#2c3cc8"/>
<ellipse cx="18.81" cy="468.96" rx="1.57" ry="3.18" fill="#2c3cc8"/>
<ellipse cx="13.42" cy="472.58" rx="2.66" ry="2.46" fill="#2c3cc8"/>
<ellipse cx="17.78" cy="472.67" rx="1.95" ry="1.89" fill="#2c3cc8"/>
<ellipse cx="17.36" cy="472.57" rx="1.99" ry="2.96" fill="#6a88f4"/>
<ellipse cx="15.21" cy="459.06" rx="1.74" ry="2.09" fill="#6a88f4"/>
<ellipse cx="17.45" cy="472.76" rx="1.30" ry="2.70" fill="#6a88f4"/>
<ellipse cx="13.06" cy="462.10" rx="1.15" ry="2.33" fill="#6a88f4"/>
<ellipse cx="11.68" cy="469.33" rx="1.62" ry="1.83" fill="#6a88f4"/>
<ellipse cx="18.80" cy="469.82" rx="1.10" ry="2.55" fill="#6a88f4"/>
<ellipse cx="16.70" cy="479.24" rx="1.41" ry="1.77" fill="#48e848"/>
<ellipse cx="21.12" cy="480.04" rx="0.93" ry="1.13" fill="#48e848"/>
<ellipse cx="16.43" cy="476.68" rx="1.78" ry="1.81" fill="#48e848"/>
<ellipse cx="11.97" cy="469.86" rx="2.53" ry="1.43" fill="#2540f0"/>
<ellipse cx="17.42" cy="462.06" rx="2.82" ry="3.30" fill="#2540f0"/>
<ellipse cx="14.82" cy="466.52" rx="2.13" ry="2.02" fill="#2540f0"/>
</g></g></g>
<line x1="35.30" y1="454.70" x2="35.30" y2="459.00" stroke="#bdbdbd" stroke-width="1.1" />
<path d="M35.30,486.00 C35.79,497.40 32.47,507.60 33.00,516.00" stroke="#a9a9ab" stroke-width="1.35" fill="none" stroke-linecap="round"/>
<line x1="28.86" y1="482.66" x2="26.66" y2="484.66" stroke="#8a8a8a" stroke-width="0.9" />
<line x1="29.00" y1="465.30" x2="27.50" y2="466.50" stroke="#777" stroke-width="0.8" />
<line x1="41.74" y1="482.66" x2="43.94" y2="484.66" stroke="#8a8a8a" stroke-width="0.9" />
<line x1="41.60" y1="465.30" x2="43.10" y2="466.50" stroke="#777" stroke-width="0.8" />
<clipPath id="m42"><path d="M35.30,456.00 C35.67,456.00 36.07,456.36 36.42,456.77 C36.77,457.19 37.00,457.83 37.40,458.48 C37.80,459.13 38.29,459.82 38.80,460.65 C39.31,461.48 39.99,462.41 40.48,463.44 C40.97,464.47 41.44,465.51 41.74,466.85 C42.04,468.19 42.21,469.59 42.30,471.50 C42.39,473.41 42.36,476.41 42.30,478.32 C42.24,480.23 42.28,481.68 41.95,482.97 C41.62,484.26 41.16,485.40 40.34,486.07 C39.52,486.74 38.73,487.00 37.05,487.00 C35.37,487.00 31.66,486.74 30.26,486.07 C28.86,485.40 28.98,484.26 28.65,482.97 C28.32,481.68 28.36,480.23 28.30,478.32 C28.24,476.41 28.21,473.41 28.30,471.50 C28.39,469.59 28.56,468.19 28.86,466.85 C29.16,465.51 29.63,464.47 30.12,463.44 C30.61,462.41 31.29,461.48 31.80,460.65 C32.31,459.82 32.80,459.13 33.20,458.48 C33.60,457.83 33.83,457.19 34.18,456.77 C34.53,456.36 34.93,456.00 35.30,456.00 Z"/></clipPath>
<g filter="url(#blurB)"><path d="M35.30,456.00 C35.67,456.00 36.07,456.36 36.42,456.77 C36.77,457.19 37.00,457.83 37.40,458.48 C37.80,459.13 38.29,459.82 38.80,460.65 C39.31,461.48 39.99,462.41 40.48,463.44 C40.97,464.47 41.44,465.51 41.74,466.85 C42.04,468.19 42.21,469.59 42.30,471.50 C42.39,473.41 42.36,476.41 42.30,478.32 C42.24,480.23 42.28,481.68 41.95,482.97 C41.62,484.26 41.16,485.40 40.34,486.07 C39.52,486.74 38.73,487.00 37.05,487.00 C35.37,487.00 31.66,486.74 30.26,486.07 C28.86,485.40 28.98,484.26 28.65,482.97 C28.32,481.68 28.36,480.23 28.30,478.32 C28.24,476.41 28.21,473.41 28.30,471.50 C28.39,469.59 28.56,468.19 28.86,466.85 C29.16,465.51 29.63,464.47 30.12,463.44 C30.61,462.41 31.29,461.48 31.80,460.65 C32.31,459.82 32.80,459.13 33.20,458.48 C33.60,457.83 33.83,457.19 34.18,456.77 C34.53,456.36 34.93,456.00 35.30,456.00 Z" fill="#e0e0e5"/>
<g clip-path="url(#m42)"><g filter="url(#blur05)">
<ellipse cx="35.58" cy="478.82" rx="2.43" ry="0.98" fill="#d0d0d0"/>
<ellipse cx="39.15" cy="461.63" rx="1.08" ry="1.49" fill="#d0d0d0"/>
<ellipse cx="34.78" cy="477.81" rx="1.60" ry="1.34" fill="#fafafa"/>
<ellipse cx="35.82" cy="478.91" rx="2.43" ry="1.38" fill="#f6f6f6"/>
<ellipse cx="32.73" cy="470.35" rx="1.98" ry="1.61" fill="#fafafa"/>
<ellipse cx="33.24" cy="459.62" rx="1.64" ry="1.15" fill="#f6f6f6"/>
<ellipse cx="34.87" cy="484.79" rx="1.94" ry="1.40" fill="#d0d0d0"/>
<ellipse cx="36.71" cy="480.16" rx="2.08" ry="1.29" fill="#f6f6f6"/>
<ellipse cx="36.31" cy="484.42" rx="1.05" ry="1.30" fill="#fafafa"/>
<ellipse cx="40.28" cy="460.64" rx="2.07" ry="1.45" fill="#fafafa"/>
<ellipse cx="32.58" cy="459.91" rx="2.48" ry="1.98" fill="#2c3cc8"/>
<ellipse cx="36.60" cy="460.72" rx="3.05" ry="2.96" fill="#2c3cc8"/>
<ellipse cx="33.14" cy="459.41" rx="2.79" ry="3.47" fill="#2c3cc8"/>
<ellipse cx="33.60" cy="460.03" rx="3.04" ry="3.46" fill="#2c3cc8"/>
<ellipse cx="34.91" cy="460.09" rx="2.64" ry="3.63" fill="#2c3cc8"/>
<ellipse cx="33.22" cy="463.86" rx="2.85" ry="3.13" fill="#2c3cc8"/>
<ellipse cx="39.68" cy="467.54" rx="1.70" ry="3.59" fill="#2c3cc8"/>
<ellipse cx="38.55" cy="471.09" rx="1.89" ry="2.11" fill="#2c3cc8"/>
<ellipse cx="40.28" cy="471.96" rx="1.46" ry="1.60" fill="#2c3cc8"/>
<ellipse cx="31.45" cy="468.12" rx="1.74" ry="1.80" fill="#2c3cc8"/>
<ellipse cx="35.50" cy="472.51" rx="2.15" ry="1.61" fill="#2c3cc8"/>
<ellipse cx="31.52" cy="462.84" rx="1.89" ry="1.90" fill="#2c3cc8"/>
<ellipse cx="30.91" cy="463.43" rx="1.68" ry="1.89" fill="#2c3cc8"/>
<ellipse cx="30.94" cy="466.73" rx="2.65" ry="2.22" fill="#2c3cc8"/>
<ellipse cx="32.72" cy="467.26" rx="1.35" ry="2.27" fill="#6a88f4"/>
<ellipse cx="35.98" cy="458.91" rx="1.28" ry="2.93" fill="#6a88f4"/>
<ellipse cx="36.05" cy="460.38" rx="2.54" ry="1.48" fill="#6a88f4"/>
<ellipse cx="35.92" cy="463.84" rx="2.12" ry="2.07" fill="#6a88f4"/>
<ellipse cx="34.17" cy="463.92" rx="1.30" ry="2.17" fill="#6a88f4"/>
<ellipse cx="33.94" cy="466.37" rx="1.45" ry="2.34" fill="#6a88f4"/>
<ellipse cx="39.46" cy="474.88" rx="0.88" ry="0.99" fill="#48e848"/>
<ellipse cx="37.97" cy="481.03" rx="1.81" ry="1.75" fill="#48e848"/>
<ellipse cx="36.77" cy="479.44" rx="1.27" ry="1.57" fill="#48e848"/>
<ellipse cx="38.67" cy="466.54" rx="2.53" ry="1.41" fill="#2540f0"/>
<ellipse cx="36.84" cy="468.25" rx="2.11" ry="2.47" fill="#2540f0"/>
<ellipse cx="32.63" cy="464.16" rx="2.29" ry="3.33" fill="#2540f0"/>
</g></g></g>
<line x1="50.80" y1="454.70" x2="50.80" y2="459.00" stroke="#bdbdbd" stroke-width="1.1" />
<path d="M50.80,486.00 C53.02,497.40 46.06,507.60 48.00,516.00" stroke="#a9a9ab" stroke-width="1.35" fill="none" stroke-linecap="round"/>
<line x1="44.36" y1="482.66" x2="42.16" y2="484.66" stroke="#8a8a8a" stroke-width="0.9" />
<line x1="44.50" y1="465.30" x2="43.00" y2="466.50" stroke="#777" stroke-width="0.8" />
<line x1="57.24" y1="482.66" x2="59.44" y2="484.66" stroke="#8a8a8a" stroke-width="0.9" />
<line x1="57.10" y1="465.30" x2="58.60" y2="466.50" stroke="#777" stroke-width="0.8" />
<clipPath id="m43"><path d="M50.80,456.00 C51.17,456.00 51.57,456.36 51.92,456.77 C52.27,457.19 52.50,457.83 52.90,458.48 C53.30,459.13 53.79,459.82 54.30,460.65 C54.81,461.48 55.49,462.41 55.98,463.44 C56.47,464.47 56.94,465.51 57.24,466.85 C57.54,468.19 57.71,469.59 57.80,471.50 C57.89,473.41 57.86,476.41 57.80,478.32 C57.74,480.23 57.78,481.68 57.45,482.97 C57.12,484.26 56.66,485.40 55.84,486.07 C55.02,486.74 54.23,487.00 52.55,487.00 C50.87,487.00 47.16,486.74 45.76,486.07 C44.36,485.40 44.48,484.26 44.15,482.97 C43.82,481.68 43.86,480.23 43.80,478.32 C43.74,476.41 43.71,473.41 43.80,471.50 C43.89,469.59 44.06,468.19 44.36,466.85 C44.66,465.51 45.13,464.47 45.62,463.44 C46.11,462.41 46.79,461.48 47.30,460.65 C47.81,459.82 48.30,459.13 48.70,458.48 C49.10,457.83 49.33,457.19 49.68,456.77 C50.03,456.36 50.43,456.00 50.80,456.00 Z"/></clipPath>
<g filter="url(#blurB)"><path d="M50.80,456.00 C51.17,456.00 51.57,456.36 51.92,456.77 C52.27,457.19 52.50,457.83 52.90,458.48 C53.30,459.13 53.79,459.82 54.30,460.65 C54.81,461.48 55.49,462.41 55.98,463.44 C56.47,464.47 56.94,465.51 57.24,466.85 C57.54,468.19 57.71,469.59 57.80,471.50 C57.89,473.41 57.86,476.41 57.80,478.32 C57.74,480.23 57.78,481.68 57.45,482.97 C57.12,484.26 56.66,485.40 55.84,486.07 C55.02,486.74 54.23,487.00 52.55,487.00 C50.87,487.00 47.16,486.74 45.76,486.07 C44.36,485.40 44.48,484.26 44.15,482.97 C43.82,481.68 43.86,480.23 43.80,478.32 C43.74,476.41 43.71,473.41 43.80,471.50 C43.89,469.59 44.06,468.19 44.36,466.85 C44.66,465.51 45.13,464.47 45.62,463.44 C46.11,462.41 46.79,461.48 47.30,460.65 C47.81,459.82 48.30,459.13 48.70,458.48 C49.10,457.83 49.33,457.19 49.68,456.77 C50.03,456.36 50.43,456.00 50.80,456.00 Z" fill="#e0e0e5"/>
<g clip-path="url(#m43)"><g filter="url(#blur05)">
<ellipse cx="46.70" cy="470.35" rx="2.24" ry="1.49" fill="#f6f6f6"/>
<ellipse cx="54.09" cy="478.08" rx="1.39" ry="1.85" fill="#c4c4c4"/>
<ellipse cx="45.79" cy="466.06" rx="2.00" ry="1.30" fill="#f6f6f6"/>
<ellipse cx="47.29" cy="469.15" rx="1.84" ry="2.11" fill="#f6f6f6"/>
<ellipse cx="48.66" cy="479.25" rx="1.69" ry="1.06" fill="#d0d0d0"/>
<ellipse cx="51.94" cy="472.78" rx="2.01" ry="1.48" fill="#c4c4c4"/>
<ellipse cx="49.16" cy="464.59" rx="1.30" ry="2.12" fill="#fafafa"/>
<ellipse cx="45.96" cy="478.46" rx="2.29" ry="0.93" fill="#d0d0d0"/>
<ellipse cx="50.41" cy="484.92" rx="1.60" ry="1.39" fill="#f6f6f6"/>
<ellipse cx="55.12" cy="480.46" rx="2.12" ry="1.27" fill="#c4c4c4"/>
<ellipse cx="48.07" cy="460.86" rx="1.67" ry="1.49" fill="#2c3cc8"/>
<ellipse cx="49.82" cy="459.91" rx="1.86" ry="2.26" fill="#2c3cc8"/>
<ellipse cx="49.21" cy="473.88" rx="1.12" ry="3.04" fill="#2c3cc8"/>
<ellipse cx="50.11" cy="460.86" rx="1.65" ry="1.99" fill="#2c3cc8"/>
<ellipse cx="45.62" cy="471.72" rx="2.03" ry="2.31" fill="#2c3cc8"/>
<ellipse cx="52.23" cy="475.80" rx="1.80" ry="2.23" fill="#2c3cc8"/>
<ellipse cx="55.43" cy="475.41" rx="1.33" ry="1.40" fill="#2c3cc8"/>
<ellipse cx="55.04" cy="470.09" rx="1.10" ry="1.58" fill="#2c3cc8"/>
<ellipse cx="52.83" cy="466.70" rx="1.21" ry="2.25" fill="#6a88f4"/>
<ellipse cx="52.30" cy="457.89" rx="1.43" ry="1.27" fill="#6a88f4"/>
<ellipse cx="53.61" cy="476.57" rx="2.06" ry="2.40" fill="#6a88f4"/>
</g></g></g>
<line x1="67.80" y1="454.70" x2="67.80" y2="459.00" stroke="#bdbdbd" stroke-width="1.1" />
<path d="M67.80,486.00 C68.66,497.40 69.44,507.60 70.00,516.00" stroke="#a9a9ab" stroke-width="1.35" fill="none" stroke-linecap="round"/>
<polyline points="67.80,486.00 67.95,487.98 68.10,489.94 68.24,491.87 68.39,493.78 68.53,495.65 68.67,497.50" fill="none" stroke="#3090ff" stroke-width="1.55" stroke-linecap="round"/>
<line x1="61.36" y1="482.66" x2="59.16" y2="484.66" stroke="#8a8a8a" stroke-width="0.9" />
<line x1="61.50" y1="465.30" x2="60.00" y2="466.50" stroke="#777" stroke-width="0.8" />
<line x1="74.24" y1="482.66" x2="76.44" y2="484.66" stroke="#8a8a8a" stroke-width="0.9" />
<line x1="74.10" y1="465.30" x2="75.60" y2="466.50" stroke="#777" stroke-width="0.8" />
<clipPath id="m44"><path d="M67.80,456.00 C68.17,456.00 68.57,456.36 68.92,456.77 C69.27,457.19 69.50,457.83 69.90,458.48 C70.30,459.13 70.79,459.82 71.30,460.65 C71.81,461.48 72.49,462.41 72.98,463.44 C73.47,464.47 73.94,465.51 74.24,466.85 C74.54,468.19 74.71,469.59 74.80,471.50 C74.89,473.41 74.86,476.41 74.80,478.32 C74.74,480.23 74.78,481.68 74.45,482.97 C74.12,484.26 73.66,485.40 72.84,486.07 C72.02,486.74 71.23,487.00 69.55,487.00 C67.87,487.00 64.16,486.74 62.76,486.07 C61.36,485.40 61.48,484.26 61.15,482.97 C60.82,481.68 60.86,480.23 60.80,478.32 C60.74,476.41 60.71,473.41 60.80,471.50 C60.89,469.59 61.06,468.19 61.36,466.85 C61.66,465.51 62.13,464.47 62.62,463.44 C63.11,462.41 63.79,461.48 64.30,460.65 C64.81,459.82 65.30,459.13 65.70,458.48 C66.10,457.83 66.33,457.19 66.68,456.77 C67.03,456.36 67.43,456.00 67.80,456.00 Z"/></clipPath>
<g filter="url(#blurB)"><path d="M67.80,456.00 C68.17,456.00 68.57,456.36 68.92,456.77 C69.27,457.19 69.50,457.83 69.90,458.48 C70.30,459.13 70.79,459.82 71.30,460.65 C71.81,461.48 72.49,462.41 72.98,463.44 C73.47,464.47 73.94,465.51 74.24,466.85 C74.54,468.19 74.71,469.59 74.80,471.50 C74.89,473.41 74.86,476.41 74.80,478.32 C74.74,480.23 74.78,481.68 74.45,482.97 C74.12,484.26 73.66,485.40 72.84,486.07 C72.02,486.74 71.23,487.00 69.55,487.00 C67.87,487.00 64.16,486.74 62.76,486.07 C61.36,485.40 61.48,484.26 61.15,482.97 C60.82,481.68 60.86,480.23 60.80,478.32 C60.74,476.41 60.71,473.41 60.80,471.50 C60.89,469.59 61.06,468.19 61.36,466.85 C61.66,465.51 62.13,464.47 62.62,463.44 C63.11,462.41 63.79,461.48 64.30,460.65 C64.81,459.82 65.30,459.13 65.70,458.48 C66.10,457.83 66.33,457.19 66.68,456.77 C67.03,456.36 67.43,456.00 67.80,456.00 Z" fill="#e0e0e5"/>
<g clip-path="url(#m44)"><g filter="url(#blur05)">
<ellipse cx="71.39" cy="465.88" rx="1.15" ry="1.47" fill="#f6f6f6"/>
<ellipse cx="65.34" cy="460.23" rx="1.65" ry="1.82" fill="#d0d0d0"/>
<ellipse cx="63.26" cy="463.14" rx="1.41" ry="2.07" fill="#d0d0d0"/>
<ellipse cx="73.02" cy="460.85" rx="1.37" ry="2.14" fill="#d0d0d0"/>
<ellipse cx="65.66" cy="483.25" rx="2.14" ry="2.06" fill="#d0d0d0"/>
<ellipse cx="70.62" cy="479.54" rx="2.09" ry="1.83" fill="#c4c4c4"/>
<ellipse cx="68.15" cy="474.27" rx="1.19" ry="1.19" fill="#c4c4c4"/>
<ellipse cx="70.17" cy="466.93" rx="2.21" ry="1.95" fill="#f6f6f6"/>
<ellipse cx="63.19" cy="474.31" rx="1.33" ry="1.77" fill="#fafafa"/>
<ellipse cx="69.21" cy="460.61" rx="1.22" ry="1.94" fill="#c4c4c4"/>
<ellipse cx="70.02" cy="461.14" rx="1.46" ry="2.25" fill="#2c3cc8"/>
<ellipse cx="70.61" cy="462.91" rx="2.88" ry="2.81" fill="#2c3cc8"/>
<ellipse cx="67.88" cy="467.34" rx="2.31" ry="2.60" fill="#2c3cc8"/>
<ellipse cx="71.09" cy="468.47" rx="2.21" ry="1.44" fill="#2c3cc8"/>
<ellipse cx="64.75" cy="460.40" rx="2.87" ry="3.61" fill="#2c3cc8"/>
<ellipse cx="66.51" cy="469.48" rx="1.40" ry="3.35" fill="#2c3cc8"/>
<ellipse cx="63.20" cy="470.46" rx="2.44" ry="3.42" fill="#2c3cc8"/>
<ellipse cx="70.58" cy="465.11" rx="1.44" ry="1.86" fill="#2c3cc8"/>
<ellipse cx="71.55" cy="468.22" rx="1.29" ry="3.18" fill="#2c3cc8"/>
<ellipse cx="63.38" cy="458.59" rx="2.91" ry="3.51" fill="#2c3cc8"/>
<ellipse cx="66.34" cy="470.08" rx="1.68" ry="1.83" fill="#2c3cc8"/>
<ellipse cx="70.75" cy="462.51" rx="1.43" ry="3.40" fill="#2c3cc8"/>
<ellipse cx="67.96" cy="469.69" rx="2.84" ry="2.90" fill="#2c3cc8"/>
<ellipse cx="63.83" cy="461.08" rx="2.84" ry="2.60" fill="#2c3cc8"/>
<ellipse cx="67.38" cy="471.46" rx="1.71" ry="1.76" fill="#6a88f4"/>
<ellipse cx="64.37" cy="459.46" rx="1.15" ry="2.58" fill="#6a88f4"/>
<ellipse cx="72.83" cy="460.96" rx="1.44" ry="2.89" fill="#6a88f4"/>
<ellipse cx="70.81" cy="469.19" rx="2.50" ry="2.35" fill="#6a88f4"/>
<ellipse cx="66.76" cy="460.33" rx="2.08" ry="2.00" fill="#6a88f4"/>
<ellipse cx="66.82" cy="465.83" rx="2.14" ry="1.44" fill="#6a88f4"/>
<ellipse cx="72.28" cy="474.72" rx="1.59" ry="1.56" fill="#48e848"/>
<ellipse cx="72.82" cy="478.20" rx="1.21" ry="0.94" fill="#48e848"/>
<ellipse cx="67.04" cy="482.01" rx="1.80" ry="1.18" fill="#48e848"/>
<ellipse cx="67.96" cy="461.44" rx="2.94" ry="2.81" fill="#2540f0"/>
<ellipse cx="68.74" cy="470.76" rx="1.42" ry="3.16" fill="#2540f0"/>
<ellipse cx="64.89" cy="462.21" rx="1.83" ry="3.05" fill="#2540f0"/>
</g></g></g>
<text x="8.70" y="517.00" font-size="7.5" fill="#d83030" opacity="0.85">p-7</text>
<rect x="83.70" y="453.70" width="68.60" height="67.10" fill="#313133" stroke="none" stroke-width="1" />
<line x1="91.80" y1="454.20" x2="91.80" y2="459.00" stroke="#bdbdbd" stroke-width="1.1" />
<path d="M91.80,486.00 C90.05,497.78 90.23,508.32 89.00,517.00" stroke="#a9a9ab" stroke-width="1.35" fill="none" stroke-linecap="round"/>
<polyline points="91.80,486.00 91.40,488.92 91.07,491.78 90.80,494.59 90.57,497.34 90.38,500.03 90.21,502.66" fill="none" stroke="#3070ff" stroke-width="1.55" stroke-linecap="round"/>
<line x1="85.36" y1="482.66" x2="83.16" y2="484.66" stroke="#8a8a8a" stroke-width="0.9" />
<line x1="85.50" y1="465.30" x2="84.00" y2="466.50" stroke="#777" stroke-width="0.8" />
<line x1="98.24" y1="482.66" x2="100.44" y2="484.66" stroke="#8a8a8a" stroke-width="0.9" />
<line x1="98.10" y1="465.30" x2="99.60" y2="466.50" stroke="#777" stroke-width="0.8" />
<clipPath id="m45"><path d="M91.80,456.00 C92.17,456.00 92.57,456.36 92.92,456.77 C93.27,457.19 93.50,457.83 93.90,458.48 C94.30,459.13 94.79,459.82 95.30,460.65 C95.81,461.48 96.49,462.41 96.98,463.44 C97.47,464.47 97.94,465.51 98.24,466.85 C98.54,468.19 98.71,469.59 98.80,471.50 C98.89,473.41 98.86,476.41 98.80,478.32 C98.74,480.23 98.78,481.68 98.45,482.97 C98.12,484.26 97.66,485.40 96.84,486.07 C96.02,486.74 95.23,487.00 93.55,487.00 C91.87,487.00 88.16,486.74 86.76,486.07 C85.36,485.40 85.48,484.26 85.15,482.97 C84.82,481.68 84.86,480.23 84.80,478.32 C84.74,476.41 84.71,473.41 84.80,471.50 C84.89,469.59 85.06,468.19 85.36,466.85 C85.66,465.51 86.13,464.47 86.62,463.44 C87.11,462.41 87.79,461.48 88.30,460.65 C88.81,459.82 89.30,459.13 89.70,458.48 C90.10,457.83 90.33,457.19 90.68,456.77 C91.03,456.36 91.43,456.00 91.80,456.00 Z"/></clipPath>
<g filter="url(#blurB)"><path d="M91.80,456.00 C92.17,456.00 92.57,456.36 92.92,456.77 C93.27,457.19 93.50,457.83 93.90,458.48 C94.30,459.13 94.79,459.82 95.30,460.65 C95.81,461.48 96.49,462.41 96.98,463.44 C97.47,464.47 97.94,465.51 98.24,466.85 C98.54,468.19 98.71,469.59 98.80,471.50 C98.89,473.41 98.86,476.41 98.80,478.32 C98.74,480.23 98.78,481.68 98.45,482.97 C98.12,484.26 97.66,485.40 96.84,486.07 C96.02,486.74 95.23,487.00 93.55,487.00 C91.87,487.00 88.16,486.74 86.76,486.07 C85.36,485.40 85.48,484.26 85.15,482.97 C84.82,481.68 84.86,480.23 84.80,478.32 C84.74,476.41 84.71,473.41 84.80,471.50 C84.89,469.59 85.06,468.19 85.36,466.85 C85.66,465.51 86.13,464.47 86.62,463.44 C87.11,462.41 87.79,461.48 88.30,460.65 C88.81,459.82 89.30,459.13 89.70,458.48 C90.10,457.83 90.33,457.19 90.68,456.77 C91.03,456.36 91.43,456.00 91.80,456.00 Z" fill="#e0e0e5"/>
<g clip-path="url(#m45)"><g filter="url(#blur05)">
<ellipse cx="94.02" cy="460.34" rx="1.61" ry="1.45" fill="#d0d0d0"/>
<ellipse cx="90.89" cy="477.73" rx="1.58" ry="1.85" fill="#f6f6f6"/>
<ellipse cx="95.70" cy="481.21" rx="1.06" ry="1.85" fill="#c4c4c4"/>
<ellipse cx="93.77" cy="470.06" rx="2.02" ry="1.55" fill="#fafafa"/>
<ellipse cx="91.06" cy="483.38" rx="1.16" ry="1.56" fill="#d0d0d0"/>
<ellipse cx="88.60" cy="461.02" rx="1.36" ry="1.36" fill="#f6f6f6"/>
<ellipse cx="96.65" cy="481.63" rx="1.10" ry="1.02" fill="#f6f6f6"/>
<ellipse cx="89.87" cy="468.78" rx="1.66" ry="1.08" fill="#d0d0d0"/>
<ellipse cx="90.00" cy="462.10" rx="1.80" ry="1.88" fill="#d0d0d0"/>
<ellipse cx="93.45" cy="476.86" rx="1.57" ry="1.06" fill="#fafafa"/>
<ellipse cx="87.47" cy="471.12" rx="1.67" ry="2.92" fill="#2c3cc8"/>
<ellipse cx="93.00" cy="469.70" rx="2.48" ry="1.73" fill="#2c3cc8"/>
<ellipse cx="95.46" cy="467.36" rx="2.08" ry="3.02" fill="#2c3cc8"/>
<ellipse cx="95.02" cy="471.61" rx="2.28" ry="1.23" fill="#2c3cc8"/>
<ellipse cx="91.05" cy="477.54" rx="2.20" ry="2.04" fill="#2c3cc8"/>
<ellipse cx="88.96" cy="465.62" rx="1.72" ry="1.40" fill="#2c3cc8"/>
<ellipse cx="89.85" cy="472.05" rx="1.32" ry="2.34" fill="#6a88f4"/>
<ellipse cx="90.67" cy="475.07" rx="1.58" ry="2.40" fill="#6a88f4"/>
<ellipse cx="96.56" cy="473.27" rx="1.74" ry="1.67" fill="#6a88f4"/>
</g></g></g>
<line x1="108.20" y1="454.20" x2="108.20" y2="459.00" stroke="#bdbdbd" stroke-width="1.1" />
<path d="M108.20,486.00 C107.99,497.78 110.28,508.32 110.00,517.00" stroke="#a9a9ab" stroke-width="1.35" fill="none" stroke-linecap="round"/>
<line x1="101.76" y1="482.66" x2="99.56" y2="484.66" stroke="#8a8a8a" stroke-width="0.9" />
<line x1="101.90" y1="465.30" x2="100.40" y2="466.50" stroke="#777" stroke-width="0.8" />
<line x1="114.64" y1="482.66" x2="116.84" y2="484.66" stroke="#8a8a8a" stroke-width="0.9" />
<line x1="114.50" y1="465.30" x2="116.00" y2="466.50" stroke="#777" stroke-width="0.8" />
<clipPath id="m46"><path d="M108.20,456.00 C108.57,456.00 108.97,456.36 109.32,456.77 C109.67,457.19 109.90,457.83 110.30,458.48 C110.70,459.13 111.19,459.82 111.70,460.65 C112.21,461.48 112.89,462.41 113.38,463.44 C113.87,464.47 114.34,465.51 114.64,466.85 C114.94,468.19 115.11,469.59 115.20,471.50 C115.29,473.41 115.26,476.41 115.20,478.32 C115.14,480.23 115.18,481.68 114.85,482.97 C114.52,484.26 114.06,485.40 113.24,486.07 C112.42,486.74 111.63,487.00 109.95,487.00 C108.27,487.00 104.56,486.74 103.16,486.07 C101.76,485.40 101.88,484.26 101.55,482.97 C101.22,481.68 101.26,480.23 101.20,478.32 C101.14,476.41 101.11,473.41 101.20,471.50 C101.29,469.59 101.46,468.19 101.76,466.85 C102.06,465.51 102.53,464.47 103.02,463.44 C103.51,462.41 104.19,461.48 104.70,460.65 C105.21,459.82 105.70,459.13 106.10,458.48 C106.50,457.83 106.73,457.19 107.08,456.77 C107.43,456.36 107.83,456.00 108.20,456.00 Z"/></clipPath>
<g filter="url(#blurB)"><path d="M108.20,456.00 C108.57,456.00 108.97,456.36 109.32,456.77 C109.67,457.19 109.90,457.83 110.30,458.48 C110.70,459.13 111.19,459.82 111.70,460.65 C112.21,461.48 112.89,462.41 113.38,463.44 C113.87,464.47 114.34,465.51 114.64,466.85 C114.94,468.19 115.11,469.59 115.20,471.50 C115.29,473.41 115.26,476.41 115.20,478.32 C115.14,480.23 115.18,481.68 114.85,482.97 C114.52,484.26 114.06,485.40 113.24,486.07 C112.42,486.74 111.63,487.00 109.95,487.00 C108.27,487.00 104.56,486.74 103.16,486.07 C101.76,485.40 101.88,484.26 101.55,482.97 C101.22,481.68 101.26,480.23 101.20,478.32 C101.14,476.41 101.11,473.41 101.20,471.50 C101.29,469.59 101.46,468.19 101.76,466.85 C102.06,465.51 102.53,464.47 103.02,463.44 C103.51,462.41 104.19,461.48 104.70,460.65 C105.21,459.82 105.70,459.13 106.10,458.48 C106.50,457.83 106.73,457.19 107.08,456.77 C107.43,456.36 107.83,456.00 108.20,456.00 Z" fill="#e0e0e5"/>
<g clip-path="url(#m46)"><g filter="url(#blur05)">
<ellipse cx="108.77" cy="462.41" rx="1.22" ry="2.06" fill="#c4c4c4"/>
<ellipse cx="104.51" cy="483.51" rx="1.38" ry="1.77" fill="#c4c4c4"/>
<ellipse cx="110.19" cy="459.69" rx="1.16" ry="1.07" fill="#f6f6f6"/>
<ellipse cx="107.61" cy="464.35" rx="1.06" ry="1.55" fill="#f6f6f6"/>
<ellipse cx="108.81" cy="460.59" rx="2.36" ry="1.98" fill="#fafafa"/>
<ellipse cx="103.55" cy="468.78" rx="1.11" ry="1.40" fill="#d0d0d0"/>
<ellipse cx="106.20" cy="467.36" rx="1.60" ry="1.29" fill="#d0d0d0"/>
<ellipse cx="106.74" cy="471.09" rx="1.43" ry="1.88" fill="#d0d0d0"/>
<ellipse cx="104.79" cy="462.74" rx="1.71" ry="1.57" fill="#fafafa"/>
<ellipse cx="105.60" cy="479.44" rx="1.17" ry="1.49" fill="#f6f6f6"/>
<ellipse cx="108.31" cy="467.73" rx="1.52" ry="2.95" fill="#2c3cc8"/>
<ellipse cx="110.61" cy="470.53" rx="1.76" ry="2.77" fill="#2c3cc8"/>
<ellipse cx="110.66" cy="467.65" rx="1.23" ry="2.04" fill="#2c3cc8"/>
<ellipse cx="113.14" cy="467.07" rx="1.64" ry="2.38" fill="#2c3cc8"/>
<ellipse cx="104.44" cy="463.15" rx="2.24" ry="2.08" fill="#2c3cc8"/>
<ellipse cx="106.05" cy="474.27" rx="1.49" ry="1.46" fill="#6a88f4"/>
<ellipse cx="113.39" cy="464.82" rx="0.89" ry="2.21" fill="#6a88f4"/>
</g></g></g>
<line x1="123.00" y1="454.20" x2="123.00" y2="459.00" stroke="#bdbdbd" stroke-width="1.1" />
<path d="M123.00,486.00 C121.82,497.78 123.95,508.32 123.00,517.00" stroke="#a9a9ab" stroke-width="1.35" fill="none" stroke-linecap="round"/>
<line x1="116.56" y1="482.66" x2="114.36" y2="484.66" stroke="#8a8a8a" stroke-width="0.9" />
<line x1="116.70" y1="465.30" x2="115.20" y2="466.50" stroke="#777" stroke-width="0.8" />
<line x1="129.44" y1="482.66" x2="131.64" y2="484.66" stroke="#8a8a8a" stroke-width="0.9" />
<line x1="129.30" y1="465.30" x2="130.80" y2="466.50" stroke="#777" stroke-width="0.8" />
<clipPath id="m47"><path d="M123.00,456.00 C123.37,456.00 123.77,456.36 124.12,456.77 C124.47,457.19 124.70,457.83 125.10,458.48 C125.50,459.13 125.99,459.82 126.50,460.65 C127.01,461.48 127.69,462.41 128.18,463.44 C128.67,464.47 129.14,465.51 129.44,466.85 C129.74,468.19 129.91,469.59 130.00,471.50 C130.09,473.41 130.06,476.41 130.00,478.32 C129.94,480.23 129.98,481.68 129.65,482.97 C129.32,484.26 128.86,485.40 128.04,486.07 C127.22,486.74 126.43,487.00 124.75,487.00 C123.07,487.00 119.36,486.74 117.96,486.07 C116.56,485.40 116.68,484.26 116.35,482.97 C116.02,481.68 116.06,480.23 116.00,478.32 C115.94,476.41 115.91,473.41 116.00,471.50 C116.09,469.59 116.26,468.19 116.56,466.85 C116.86,465.51 117.33,464.47 117.82,463.44 C118.31,462.41 118.99,461.48 119.50,460.65 C120.01,459.82 120.50,459.13 120.90,458.48 C121.30,457.83 121.53,457.19 121.88,456.77 C122.23,456.36 122.63,456.00 123.00,456.00 Z"/></clipPath>
<g filter="url(#blurB)"><path d="M123.00,456.00 C123.37,456.00 123.77,456.36 124.12,456.77 C124.47,457.19 124.70,457.83 125.10,458.48 C125.50,459.13 125.99,459.82 126.50,460.65 C127.01,461.48 127.69,462.41 128.18,463.44 C128.67,464.47 129.14,465.51 129.44,466.85 C129.74,468.19 129.91,469.59 130.00,471.50 C130.09,473.41 130.06,476.41 130.00,478.32 C129.94,480.23 129.98,481.68 129.65,482.97 C129.32,484.26 128.86,485.40 128.04,486.07 C127.22,486.74 126.43,487.00 124.75,487.00 C123.07,487.00 119.36,486.74 117.96,486.07 C116.56,485.40 116.68,484.26 116.35,482.97 C116.02,481.68 116.06,480.23 116.00,478.32 C115.94,476.41 115.91,473.41 116.00,471.50 C116.09,469.59 116.26,468.19 116.56,466.85 C116.86,465.51 117.33,464.47 117.82,463.44 C118.31,462.41 118.99,461.48 119.50,460.65 C120.01,459.82 120.50,459.13 120.90,458.48 C121.30,457.83 121.53,457.19 121.88,456.77 C122.23,456.36 122.63,456.00 123.00,456.00 Z" fill="#e0e0e5"/>
<g clip-path="url(#m47)"><g filter="url(#blur05)">
<ellipse cx="120.19" cy="473.03" rx="1.86" ry="1.80" fill="#fafafa"/>
<ellipse cx="119.38" cy="465.01" rx="1.80" ry="0.93" fill="#c4c4c4"/>
<ellipse cx="119.42" cy="464.42" rx="2.14" ry="2.00" fill="#fafafa"/>
<ellipse cx="117.86" cy="480.15" rx="1.71" ry="1.88" fill="#f6f6f6"/>
<ellipse cx="121.55" cy="483.37" rx="1.95" ry="1.04" fill="#fafafa"/>
<ellipse cx="127.65" cy="478.77" rx="1.99" ry="1.39" fill="#d0d0d0"/>
<ellipse cx="120.55" cy="474.32" rx="2.35" ry="1.59" fill="#d0d0d0"/>
<ellipse cx="121.50" cy="476.50" rx="1.70" ry="1.49" fill="#c4c4c4"/>
<ellipse cx="125.00" cy="477.71" rx="1.61" ry="1.33" fill="#fafafa"/>
<ellipse cx="125.98" cy="481.02" rx="2.26" ry="1.34" fill="#c4c4c4"/>
<ellipse cx="118.30" cy="459.58" rx="1.68" ry="1.39" fill="#2c3cc8"/>
<ellipse cx="127.21" cy="458.44" rx="1.87" ry="1.82" fill="#2c3cc8"/>
<ellipse cx="126.70" cy="461.26" rx="1.58" ry="1.82" fill="#2c3cc8"/>
<ellipse cx="120.32" cy="457.59" rx="1.73" ry="1.35" fill="#2c3cc8"/>
<ellipse cx="124.02" cy="459.17" rx="1.54" ry="2.04" fill="#2c3cc8"/>
<ellipse cx="118.23" cy="461.51" rx="0.96" ry="1.56" fill="#6a88f4"/>
<ellipse cx="118.24" cy="478.01" rx="2.01" ry="2.01" fill="#6a88f4"/>
</g></g></g>
<line x1="137.60" y1="454.20" x2="137.60" y2="459.00" stroke="#bdbdbd" stroke-width="1.1" />
<path d="M137.60,486.00 C136.22,497.78 137.01,508.32 136.00,517.00" stroke="#a9a9ab" stroke-width="1.35" fill="none" stroke-linecap="round"/>
<polyline points="137.60,486.00 137.25,489.50 137.00,492.91 136.84,496.25 136.73,499.50 136.66,502.66 136.60,505.73" fill="none" stroke="#3070ff" stroke-width="1.55" stroke-linecap="round"/>
<line x1="131.16" y1="482.66" x2="128.96" y2="484.66" stroke="#8a8a8a" stroke-width="0.9" />
<line x1="131.30" y1="465.30" x2="129.80" y2="466.50" stroke="#777" stroke-width="0.8" />
<line x1="144.04" y1="482.66" x2="146.24" y2="484.66" stroke="#8a8a8a" stroke-width="0.9" />
<line x1="143.90" y1="465.30" x2="145.40" y2="466.50" stroke="#777" stroke-width="0.8" />
<clipPath id="m48"><path d="M137.60,456.00 C137.97,456.00 138.37,456.36 138.72,456.77 C139.07,457.19 139.30,457.83 139.70,458.48 C140.10,459.13 140.59,459.82 141.10,460.65 C141.61,461.48 142.29,462.41 142.78,463.44 C143.27,464.47 143.74,465.51 144.04,466.85 C144.34,468.19 144.51,469.59 144.60,471.50 C144.69,473.41 144.66,476.41 144.60,478.32 C144.54,480.23 144.58,481.68 144.25,482.97 C143.92,484.26 143.46,485.40 142.64,486.07 C141.82,486.74 141.03,487.00 139.35,487.00 C137.67,487.00 133.96,486.74 132.56,486.07 C131.16,485.40 131.28,484.26 130.95,482.97 C130.62,481.68 130.66,480.23 130.60,478.32 C130.54,476.41 130.51,473.41 130.60,471.50 C130.69,469.59 130.86,468.19 131.16,466.85 C131.46,465.51 131.93,464.47 132.42,463.44 C132.91,462.41 133.59,461.48 134.10,460.65 C134.61,459.82 135.10,459.13 135.50,458.48 C135.90,457.83 136.13,457.19 136.48,456.77 C136.83,456.36 137.23,456.00 137.60,456.00 Z"/></clipPath>
<g filter="url(#blurB)"><path d="M137.60,456.00 C137.97,456.00 138.37,456.36 138.72,456.77 C139.07,457.19 139.30,457.83 139.70,458.48 C140.10,459.13 140.59,459.82 141.10,460.65 C141.61,461.48 142.29,462.41 142.78,463.44 C143.27,464.47 143.74,465.51 144.04,466.85 C144.34,468.19 144.51,469.59 144.60,471.50 C144.69,473.41 144.66,476.41 144.60,478.32 C144.54,480.23 144.58,481.68 144.25,482.97 C143.92,484.26 143.46,485.40 142.64,486.07 C141.82,486.74 141.03,487.00 139.35,487.00 C137.67,487.00 133.96,486.74 132.56,486.07 C131.16,485.40 131.28,484.26 130.95,482.97 C130.62,481.68 130.66,480.23 130.60,478.32 C130.54,476.41 130.51,473.41 130.60,471.50 C130.69,469.59 130.86,468.19 131.16,466.85 C131.46,465.51 131.93,464.47 132.42,463.44 C132.91,462.41 133.59,461.48 134.10,460.65 C134.61,459.82 135.10,459.13 135.50,458.48 C135.90,457.83 136.13,457.19 136.48,456.77 C136.83,456.36 137.23,456.00 137.60,456.00 Z" fill="#e0e0e5"/>
<g clip-path="url(#m48)"><g filter="url(#blur05)">
<ellipse cx="133.58" cy="484.89" rx="1.95" ry="1.49" fill="#c4c4c4"/>
<ellipse cx="142.04" cy="468.92" rx="2.23" ry="1.57" fill="#fafafa"/>
<ellipse cx="141.19" cy="482.72" rx="2.32" ry="1.41" fill="#f6f6f6"/>
<ellipse cx="132.78" cy="474.01" rx="1.43" ry="1.54" fill="#d0d0d0"/>
<ellipse cx="139.15" cy="483.53" rx="2.43" ry="2.01" fill="#f6f6f6"/>
<ellipse cx="136.41" cy="461.93" rx="1.45" ry="1.70" fill="#fafafa"/>
<ellipse cx="139.90" cy="474.09" rx="1.99" ry="1.37" fill="#f6f6f6"/>
<ellipse cx="140.54" cy="483.11" rx="2.01" ry="1.18" fill="#fafafa"/>
<ellipse cx="138.60" cy="466.05" rx="1.52" ry="1.95" fill="#f6f6f6"/>
<ellipse cx="140.78" cy="482.74" rx="1.26" ry="1.07" fill="#fafafa"/>
<ellipse cx="142.44" cy="466.90" rx="1.34" ry="3.02" fill="#2c3cc8"/>
<ellipse cx="136.72" cy="470.98" rx="1.12" ry="1.50" fill="#2c3cc8"/>
<ellipse cx="142.51" cy="471.45" rx="1.10" ry="2.08" fill="#2c3cc8"/>
<ellipse cx="136.82" cy="461.46" rx="1.22" ry="1.79" fill="#2c3cc8"/>
<ellipse cx="133.84" cy="460.81" rx="2.37" ry="1.86" fill="#2c3cc8"/>
<ellipse cx="134.34" cy="458.10" rx="1.15" ry="1.87" fill="#6a88f4"/>
<ellipse cx="135.25" cy="462.83" rx="1.61" ry="2.00" fill="#6a88f4"/>
</g></g></g>
<rect x="8.60" y="538.60" width="72.00" height="66.80" fill="#313133" stroke="none" stroke-width="1" />
<line x1="22.20" y1="539.10" x2="22.20" y2="544.00" stroke="#bdbdbd" stroke-width="1.1" />
<path d="M22.20,572.00 C24.17,582.64 22.54,592.16 24.00,600.00" stroke="#a9a9ab" stroke-width="1.35" fill="none" stroke-linecap="round"/>
<polyline points="22.20,572.00 22.69,575.16 23.00,578.25 23.18,581.26 23.26,584.19 23.29,587.05 23.30,589.82" fill="none" stroke="#4070ff" stroke-width="1.55" stroke-linecap="round"/>
<line x1="15.76" y1="568.52" x2="13.56" y2="570.52" stroke="#8a8a8a" stroke-width="0.9" />
<line x1="15.90" y1="550.60" x2="14.40" y2="551.80" stroke="#777" stroke-width="0.8" />
<line x1="28.64" y1="568.52" x2="30.84" y2="570.52" stroke="#8a8a8a" stroke-width="0.9" />
<line x1="28.50" y1="550.60" x2="30.00" y2="551.80" stroke="#777" stroke-width="0.8" />
<clipPath id="m49"><path d="M22.20,541.00 C22.57,541.00 22.97,541.37 23.32,541.80 C23.67,542.23 23.90,542.89 24.30,543.56 C24.70,544.23 25.19,544.95 25.70,545.80 C26.21,546.65 26.89,547.61 27.38,548.68 C27.87,549.75 28.34,550.81 28.64,552.20 C28.94,553.59 29.11,555.03 29.20,557.00 C29.29,558.97 29.26,562.07 29.20,564.04 C29.14,566.01 29.18,567.51 28.85,568.84 C28.52,570.17 28.06,571.35 27.24,572.04 C26.42,572.73 25.63,573.00 23.95,573.00 C22.27,573.00 18.56,572.73 17.16,572.04 C15.76,571.35 15.88,570.17 15.55,568.84 C15.22,567.51 15.26,566.01 15.20,564.04 C15.14,562.07 15.11,558.97 15.20,557.00 C15.29,555.03 15.46,553.59 15.76,552.20 C16.06,550.81 16.53,549.75 17.02,548.68 C17.51,547.61 18.19,546.65 18.70,545.80 C19.21,544.95 19.70,544.23 20.10,543.56 C20.50,542.89 20.73,542.23 21.08,541.80 C21.43,541.37 21.83,541.00 22.20,541.00 Z"/></clipPath>
<g filter="url(#blurB)"><path d="M22.20,541.00 C22.57,541.00 22.97,541.37 23.32,541.80 C23.67,542.23 23.90,542.89 24.30,543.56 C24.70,544.23 25.19,544.95 25.70,545.80 C26.21,546.65 26.89,547.61 27.38,548.68 C27.87,549.75 28.34,550.81 28.64,552.20 C28.94,553.59 29.11,555.03 29.20,557.00 C29.29,558.97 29.26,562.07 29.20,564.04 C29.14,566.01 29.18,567.51 28.85,568.84 C28.52,570.17 28.06,571.35 27.24,572.04 C26.42,572.73 25.63,573.00 23.95,573.00 C22.27,573.00 18.56,572.73 17.16,572.04 C15.76,571.35 15.88,570.17 15.55,568.84 C15.22,567.51 15.26,566.01 15.20,564.04 C15.14,562.07 15.11,558.97 15.20,557.00 C15.29,555.03 15.46,553.59 15.76,552.20 C16.06,550.81 16.53,549.75 17.02,548.68 C17.51,547.61 18.19,546.65 18.70,545.80 C19.21,544.95 19.70,544.23 20.10,543.56 C20.50,542.89 20.73,542.23 21.08,541.80 C21.43,541.37 21.83,541.00 22.20,541.00 Z" fill="#e0e0e5"/>
<g clip-path="url(#m49)"><g filter="url(#blur05)">
<ellipse cx="22.87" cy="560.73" rx="2.37" ry="1.11" fill="#d0d0d0"/>
<ellipse cx="22.54" cy="570.08" rx="1.68" ry="1.16" fill="#c4c4c4"/>
<ellipse cx="17.62" cy="548.04" rx="1.78" ry="2.20" fill="#d0d0d0"/>
<ellipse cx="17.12" cy="553.90" rx="1.60" ry="2.00" fill="#d0d0d0"/>
<ellipse cx="27.14" cy="565.13" rx="1.82" ry="2.14" fill="#f6f6f6"/>
<ellipse cx="21.71" cy="546.92" rx="2.07" ry="2.02" fill="#fafafa"/>
<ellipse cx="22.80" cy="566.73" rx="1.77" ry="1.29" fill="#f6f6f6"/>
<ellipse cx="22.72" cy="567.24" rx="2.05" ry="2.24" fill="#f6f6f6"/>
<ellipse cx="22.25" cy="571.22" rx="1.55" ry="1.12" fill="#f6f6f6"/>
<ellipse cx="21.15" cy="567.82" rx="1.06" ry="1.90" fill="#d0d0d0"/>
<ellipse cx="20.26" cy="553.91" rx="1.44" ry="2.14" fill="#2c3cc8"/>
<ellipse cx="21.05" cy="555.60" rx="1.91" ry="2.86" fill="#2c3cc8"/>
<ellipse cx="18.00" cy="545.87" rx="2.54" ry="2.77" fill="#2c3cc8"/>
<ellipse cx="24.51" cy="549.50" rx="2.17" ry="1.94" fill="#2c3cc8"/>
<ellipse cx="19.30" cy="544.24" rx="1.59" ry="2.53" fill="#2c3cc8"/>
<ellipse cx="23.16" cy="553.47" rx="2.44" ry="3.39" fill="#2c3cc8"/>
<ellipse cx="24.69" cy="543.68" rx="2.88" ry="2.64" fill="#2c3cc8"/>
<ellipse cx="21.52" cy="544.74" rx="1.56" ry="1.62" fill="#2c3cc8"/>
<ellipse cx="17.92" cy="554.14" rx="1.96" ry="3.30" fill="#2c3cc8"/>
<ellipse cx="27.29" cy="551.93" rx="1.65" ry="1.84" fill="#2c3cc8"/>
<ellipse cx="27.08" cy="550.18" rx="1.89" ry="3.71" fill="#2c3cc8"/>
<ellipse cx="18.73" cy="555.36" rx="1.30" ry="2.50" fill="#2c3cc8"/>
<ellipse cx="20.48" cy="556.64" rx="2.10" ry="2.80" fill="#2c3cc8"/>
<ellipse cx="25.43" cy="552.00" rx="2.78" ry="3.39" fill="#2c3cc8"/>
<ellipse cx="25.27" cy="548.12" rx="1.37" ry="2.37" fill="#6a88f4"/>
<ellipse cx="26.72" cy="551.67" rx="2.50" ry="2.93" fill="#6a88f4"/>
<ellipse cx="26.19" cy="553.05" rx="2.35" ry="1.51" fill="#6a88f4"/>
<ellipse cx="27.19" cy="553.68" rx="1.90" ry="2.41" fill="#6a88f4"/>
<ellipse cx="26.02" cy="550.47" rx="2.13" ry="2.77" fill="#6a88f4"/>
<ellipse cx="17.29" cy="548.60" rx="1.51" ry="1.26" fill="#6a88f4"/>
<ellipse cx="21.28" cy="564.11" rx="1.71" ry="2.11" fill="#48e848"/>
<ellipse cx="20.17" cy="568.35" rx="1.77" ry="2.02" fill="#48e848"/>
<ellipse cx="17.21" cy="569.61" rx="1.03" ry="1.97" fill="#48e848"/>
<ellipse cx="17.71" cy="548.79" rx="3.01" ry="1.97" fill="#2540f0"/>
<ellipse cx="20.61" cy="553.39" rx="2.85" ry="2.63" fill="#2540f0"/>
<ellipse cx="27.05" cy="553.60" rx="2.19" ry="1.75" fill="#2540f0"/>
</g></g></g>
<line x1="37.90" y1="539.10" x2="37.90" y2="544.00" stroke="#bdbdbd" stroke-width="1.1" />
<path d="M37.90,572.00 C40.23,582.64 36.14,592.16 38.00,600.00" stroke="#a9a9ab" stroke-width="1.35" fill="none" stroke-linecap="round"/>
<polyline points="37.90,572.00 38.42,575.16 38.63,578.25 38.60,581.26 38.41,584.19 38.13,587.05 37.83,589.82" fill="none" stroke="#40e060" stroke-width="1.55" stroke-linecap="round"/>
<line x1="31.46" y1="568.52" x2="29.26" y2="570.52" stroke="#8a8a8a" stroke-width="0.9" />
<line x1="31.60" y1="550.60" x2="30.10" y2="551.80" stroke="#777" stroke-width="0.8" />
<line x1="44.34" y1="568.52" x2="46.54" y2="570.52" stroke="#8a8a8a" stroke-width="0.9" />
<line x1="44.20" y1="550.60" x2="45.70" y2="551.80" stroke="#777" stroke-width="0.8" />
<clipPath id="m50"><path d="M37.90,541.00 C38.27,541.00 38.67,541.37 39.02,541.80 C39.37,542.23 39.60,542.89 40.00,543.56 C40.40,544.23 40.89,544.95 41.40,545.80 C41.91,546.65 42.59,547.61 43.08,548.68 C43.57,549.75 44.04,550.81 44.34,552.20 C44.64,553.59 44.81,555.03 44.90,557.00 C44.99,558.97 44.96,562.07 44.90,564.04 C44.84,566.01 44.88,567.51 44.55,568.84 C44.22,570.17 43.76,571.35 42.94,572.04 C42.12,572.73 41.33,573.00 39.65,573.00 C37.97,573.00 34.26,572.73 32.86,572.04 C31.46,571.35 31.58,570.17 31.25,568.84 C30.92,567.51 30.96,566.01 30.90,564.04 C30.84,562.07 30.81,558.97 30.90,557.00 C30.99,555.03 31.16,553.59 31.46,552.20 C31.76,550.81 32.23,549.75 32.72,548.68 C33.21,547.61 33.89,546.65 34.40,545.80 C34.91,544.95 35.40,544.23 35.80,543.56 C36.20,542.89 36.43,542.23 36.78,541.80 C37.13,541.37 37.53,541.00 37.90,541.00 Z"/></clipPath>
<g filter="url(#blurB)"><path d="M37.90,541.00 C38.27,541.00 38.67,541.37 39.02,541.80 C39.37,542.23 39.60,542.89 40.00,543.56 C40.40,544.23 40.89,544.95 41.40,545.80 C41.91,546.65 42.59,547.61 43.08,548.68 C43.57,549.75 44.04,550.81 44.34,552.20 C44.64,553.59 44.81,555.03 44.90,557.00 C44.99,558.97 44.96,562.07 44.90,564.04 C44.84,566.01 44.88,567.51 44.55,568.84 C44.22,570.17 43.76,571.35 42.94,572.04 C42.12,572.73 41.33,573.00 39.65,573.00 C37.97,573.00 34.26,572.73 32.86,572.04 C31.46,571.35 31.58,570.17 31.25,568.84 C30.92,567.51 30.96,566.01 30.90,564.04 C30.84,562.07 30.81,558.97 30.90,557.00 C30.99,555.03 31.16,553.59 31.46,552.20 C31.76,550.81 32.23,549.75 32.72,548.68 C33.21,547.61 33.89,546.65 34.40,545.80 C34.91,544.95 35.40,544.23 35.80,543.56 C36.20,542.89 36.43,542.23 36.78,541.80 C37.13,541.37 37.53,541.00 37.90,541.00 Z" fill="#e0e0e5"/>
<g clip-path="url(#m50)"><g filter="url(#blur05)">
<ellipse cx="33.39" cy="554.46" rx="2.07" ry="1.72" fill="#fafafa"/>
<ellipse cx="38.46" cy="564.59" rx="1.72" ry="1.64" fill="#d0d0d0"/>
<ellipse cx="40.86" cy="570.42" rx="1.34" ry="1.36" fill="#d0d0d0"/>
<ellipse cx="32.57" cy="561.18" rx="2.32" ry="1.18" fill="#f6f6f6"/>
<ellipse cx="37.23" cy="551.60" rx="1.97" ry="1.58" fill="#d0d0d0"/>
<ellipse cx="35.62" cy="554.04" rx="1.24" ry="2.13" fill="#fafafa"/>
<ellipse cx="37.62" cy="544.89" rx="2.12" ry="2.19" fill="#d0d0d0"/>
<ellipse cx="32.47" cy="557.51" rx="2.34" ry="1.79" fill="#c4c4c4"/>
<ellipse cx="38.08" cy="565.82" rx="2.11" ry="2.10" fill="#f6f6f6"/>
<ellipse cx="37.91" cy="547.07" rx="2.07" ry="2.20" fill="#d0d0d0"/>
<ellipse cx="34.68" cy="549.61" rx="2.54" ry="1.96" fill="#2c3cc8"/>
<ellipse cx="41.71" cy="546.89" rx="1.55" ry="2.51" fill="#2c3cc8"/>
<ellipse cx="36.23" cy="553.21" rx="2.98" ry="3.73" fill="#2c3cc8"/>
<ellipse cx="39.99" cy="550.12" rx="2.92" ry="2.75" fill="#2c3cc8"/>
<ellipse cx="34.06" cy="546.57" rx="2.87" ry="1.52" fill="#2c3cc8"/>
<ellipse cx="39.37" cy="548.54" rx="1.71" ry="1.82" fill="#2c3cc8"/>
<ellipse cx="35.36" cy="549.23" rx="1.53" ry="3.79" fill="#2c3cc8"/>
<ellipse cx="36.85" cy="550.61" rx="2.57" ry="2.71" fill="#2c3cc8"/>
<ellipse cx="38.87" cy="554.75" rx="2.57" ry="3.55" fill="#2c3cc8"/>
<ellipse cx="40.92" cy="552.25" rx="2.19" ry="1.49" fill="#2c3cc8"/>
<ellipse cx="39.76" cy="550.28" rx="1.72" ry="1.74" fill="#2c3cc8"/>
<ellipse cx="39.27" cy="551.41" rx="1.30" ry="2.69" fill="#2c3cc8"/>
<ellipse cx="34.79" cy="547.73" rx="2.82" ry="1.56" fill="#2c3cc8"/>
<ellipse cx="39.28" cy="549.92" rx="2.43" ry="2.61" fill="#6a88f4"/>
<ellipse cx="42.82" cy="553.22" rx="1.25" ry="1.92" fill="#6a88f4"/>
<ellipse cx="40.40" cy="551.11" rx="1.50" ry="2.31" fill="#6a88f4"/>
<ellipse cx="40.19" cy="549.49" rx="2.12" ry="1.70" fill="#6a88f4"/>
<ellipse cx="33.46" cy="549.60" rx="1.80" ry="2.29" fill="#6a88f4"/>
<ellipse cx="37.54" cy="551.29" rx="1.74" ry="1.32" fill="#6a88f4"/>
<ellipse cx="37.84" cy="551.92" rx="2.35" ry="2.97" fill="#48e848"/>
<ellipse cx="36.21" cy="552.92" rx="2.12" ry="2.77" fill="#48e848"/>
<ellipse cx="42.63" cy="556.11" rx="2.52" ry="2.67" fill="#48e848"/>
<ellipse cx="35.42" cy="548.77" rx="1.14" ry="2.34" fill="#48e848"/>
<ellipse cx="34.31" cy="548.77" rx="1.37" ry="1.31" fill="#48e848"/>
<ellipse cx="40.72" cy="549.38" rx="2.17" ry="3.17" fill="#48e848"/>
<ellipse cx="37.73" cy="562.43" rx="2.55" ry="3.01" fill="#2c3cc8"/>
<ellipse cx="40.48" cy="569.56" rx="1.11" ry="2.72" fill="#2c3cc8"/>
<ellipse cx="33.81" cy="564.55" rx="1.81" ry="1.71" fill="#2c3cc8"/>
<ellipse cx="38.38" cy="565.30" rx="1.12" ry="1.79" fill="#2c3cc8"/>
<ellipse cx="38.07" cy="569.05" rx="2.16" ry="1.76" fill="#2c3cc8"/>
<ellipse cx="33.99" cy="567.47" rx="0.90" ry="1.72" fill="#6a88f4"/>
<ellipse cx="38.20" cy="562.66" rx="1.83" ry="1.21" fill="#6a88f4"/>
</g></g></g>
<line x1="55.00" y1="539.10" x2="55.00" y2="544.00" stroke="#bdbdbd" stroke-width="1.1" />
<path d="M55.00,572.00 C56.13,582.64 56.21,592.16 57.00,600.00" stroke="#a9a9ab" stroke-width="1.35" fill="none" stroke-linecap="round"/>
<polyline points="55.00,572.00 55.36,575.68 55.64,579.26 55.88,582.74 56.08,586.11 56.26,589.37 56.44,592.51" fill="none" stroke="#4060ff" stroke-width="1.55" stroke-linecap="round"/>
<line x1="48.56" y1="568.52" x2="46.36" y2="570.52" stroke="#8a8a8a" stroke-width="0.9" />
<line x1="48.70" y1="550.60" x2="47.20" y2="551.80" stroke="#777" stroke-width="0.8" />
<line x1="61.44" y1="568.52" x2="63.64" y2="570.52" stroke="#8a8a8a" stroke-width="0.9" />
<line x1="61.30" y1="550.60" x2="62.80" y2="551.80" stroke="#777" stroke-width="0.8" />
<clipPath id="m51"><path d="M55.00,541.00 C55.37,541.00 55.77,541.37 56.12,541.80 C56.47,542.23 56.70,542.89 57.10,543.56 C57.50,544.23 57.99,544.95 58.50,545.80 C59.01,546.65 59.69,547.61 60.18,548.68 C60.67,549.75 61.14,550.81 61.44,552.20 C61.74,553.59 61.91,555.03 62.00,557.00 C62.09,558.97 62.06,562.07 62.00,564.04 C61.94,566.01 61.98,567.51 61.65,568.84 C61.32,570.17 60.86,571.35 60.04,572.04 C59.22,572.73 58.43,573.00 56.75,573.00 C55.07,573.00 51.36,572.73 49.96,572.04 C48.56,571.35 48.68,570.17 48.35,568.84 C48.02,567.51 48.06,566.01 48.00,564.04 C47.94,562.07 47.91,558.97 48.00,557.00 C48.09,555.03 48.26,553.59 48.56,552.20 C48.86,550.81 49.33,549.75 49.82,548.68 C50.31,547.61 50.99,546.65 51.50,545.80 C52.01,544.95 52.50,544.23 52.90,543.56 C53.30,542.89 53.53,542.23 53.88,541.80 C54.23,541.37 54.63,541.00 55.00,541.00 Z"/></clipPath>
<g filter="url(#blurB)"><path d="M55.00,541.00 C55.37,541.00 55.77,541.37 56.12,541.80 C56.47,542.23 56.70,542.89 57.10,543.56 C57.50,544.23 57.99,544.95 58.50,545.80 C59.01,546.65 59.69,547.61 60.18,548.68 C60.67,549.75 61.14,550.81 61.44,552.20 C61.74,553.59 61.91,555.03 62.00,557.00 C62.09,558.97 62.06,562.07 62.00,564.04 C61.94,566.01 61.98,567.51 61.65,568.84 C61.32,570.17 60.86,571.35 60.04,572.04 C59.22,572.73 58.43,573.00 56.75,573.00 C55.07,573.00 51.36,572.73 49.96,572.04 C48.56,571.35 48.68,570.17 48.35,568.84 C48.02,567.51 48.06,566.01 48.00,564.04 C47.94,562.07 47.91,558.97 48.00,557.00 C48.09,555.03 48.26,553.59 48.56,552.20 C48.86,550.81 49.33,549.75 49.82,548.68 C50.31,547.61 50.99,546.65 51.50,545.80 C52.01,544.95 52.50,544.23 52.90,543.56 C53.30,542.89 53.53,542.23 53.88,541.80 C54.23,541.37 54.63,541.00 55.00,541.00 Z" fill="#e0e0e5"/>
<g clip-path="url(#m51)"><g filter="url(#blur05)">
<ellipse cx="59.70" cy="552.54" rx="2.33" ry="1.07" fill="#f6f6f6"/>
<ellipse cx="57.00" cy="559.09" rx="1.31" ry="2.21" fill="#f6f6f6"/>
<ellipse cx="50.13" cy="547.44" rx="2.13" ry="1.54" fill="#fafafa"/>
<ellipse cx="59.66" cy="551.67" rx="1.96" ry="1.31" fill="#d0d0d0"/>
<ellipse cx="51.63" cy="568.12" rx="2.11" ry="1.79" fill="#f6f6f6"/>
<ellipse cx="60.19" cy="555.50" rx="1.22" ry="1.64" fill="#c4c4c4"/>
<ellipse cx="53.22" cy="553.19" rx="1.27" ry="1.79" fill="#c4c4c4"/>
<ellipse cx="49.58" cy="559.73" rx="1.16" ry="1.98" fill="#c4c4c4"/>
<ellipse cx="58.40" cy="549.46" rx="1.98" ry="2.07" fill="#f6f6f6"/>
<ellipse cx="54.45" cy="561.85" rx="1.21" ry="1.31" fill="#c4c4c4"/>
<ellipse cx="56.78" cy="549.61" rx="1.94" ry="2.18" fill="#2c3cc8"/>
<ellipse cx="58.37" cy="543.95" rx="1.50" ry="2.39" fill="#2c3cc8"/>
<ellipse cx="51.35" cy="549.73" rx="1.61" ry="2.87" fill="#2c3cc8"/>
<ellipse cx="52.60" cy="551.98" rx="2.47" ry="1.77" fill="#2c3cc8"/>
<ellipse cx="52.46" cy="542.95" rx="1.50" ry="1.72" fill="#2c3cc8"/>
<ellipse cx="53.38" cy="551.32" rx="1.61" ry="1.45" fill="#6a88f4"/>
<ellipse cx="57.07" cy="553.47" rx="1.05" ry="1.38" fill="#6a88f4"/>
</g></g></g>
<line x1="71.30" y1="539.10" x2="71.30" y2="544.00" stroke="#bdbdbd" stroke-width="1.1" />
<path d="M71.30,572.00 C71.36,582.64 68.81,592.16 69.00,600.00" stroke="#a9a9ab" stroke-width="1.35" fill="none" stroke-linecap="round"/>
<polyline points="71.30,572.00 71.22,575.68 70.98,579.26 70.63,582.74 70.22,586.11 69.80,589.37 69.43,592.51" fill="none" stroke="#4060ff" stroke-width="1.55" stroke-linecap="round"/>
<line x1="64.86" y1="568.52" x2="62.66" y2="570.52" stroke="#8a8a8a" stroke-width="0.9" />
<line x1="65.00" y1="550.60" x2="63.50" y2="551.80" stroke="#777" stroke-width="0.8" />
<line x1="77.74" y1="568.52" x2="79.94" y2="570.52" stroke="#8a8a8a" stroke-width="0.9" />
<line x1="77.60" y1="550.60" x2="79.10" y2="551.80" stroke="#777" stroke-width="0.8" />
<clipPath id="m52"><path d="M71.30,541.00 C71.67,541.00 72.07,541.37 72.42,541.80 C72.77,542.23 73.00,542.89 73.40,543.56 C73.80,544.23 74.29,544.95 74.80,545.80 C75.31,546.65 75.99,547.61 76.48,548.68 C76.97,549.75 77.44,550.81 77.74,552.20 C78.04,553.59 78.21,555.03 78.30,557.00 C78.39,558.97 78.36,562.07 78.30,564.04 C78.24,566.01 78.28,567.51 77.95,568.84 C77.62,570.17 77.16,571.35 76.34,572.04 C75.52,572.73 74.73,573.00 73.05,573.00 C71.37,573.00 67.66,572.73 66.26,572.04 C64.86,571.35 64.98,570.17 64.65,568.84 C64.32,567.51 64.36,566.01 64.30,564.04 C64.24,562.07 64.21,558.97 64.30,557.00 C64.39,555.03 64.56,553.59 64.86,552.20 C65.16,550.81 65.63,549.75 66.12,548.68 C66.61,547.61 67.29,546.65 67.80,545.80 C68.31,544.95 68.80,544.23 69.20,543.56 C69.60,542.89 69.83,542.23 70.18,541.80 C70.53,541.37 70.93,541.00 71.30,541.00 Z"/></clipPath>
<g filter="url(#blurB)"><path d="M71.30,541.00 C71.67,541.00 72.07,541.37 72.42,541.80 C72.77,542.23 73.00,542.89 73.40,543.56 C73.80,544.23 74.29,544.95 74.80,545.80 C75.31,546.65 75.99,547.61 76.48,548.68 C76.97,549.75 77.44,550.81 77.74,552.20 C78.04,553.59 78.21,555.03 78.30,557.00 C78.39,558.97 78.36,562.07 78.30,564.04 C78.24,566.01 78.28,567.51 77.95,568.84 C77.62,570.17 77.16,571.35 76.34,572.04 C75.52,572.73 74.73,573.00 73.05,573.00 C71.37,573.00 67.66,572.73 66.26,572.04 C64.86,571.35 64.98,570.17 64.65,568.84 C64.32,567.51 64.36,566.01 64.30,564.04 C64.24,562.07 64.21,558.97 64.30,557.00 C64.39,555.03 64.56,553.59 64.86,552.20 C65.16,550.81 65.63,549.75 66.12,548.68 C66.61,547.61 67.29,546.65 67.80,545.80 C68.31,544.95 68.80,544.23 69.20,543.56 C69.60,542.89 69.83,542.23 70.18,541.80 C70.53,541.37 70.93,541.00 71.30,541.00 Z" fill="#e0e0e5"/>
<g clip-path="url(#m52)"><g filter="url(#blur05)">
<ellipse cx="66.09" cy="558.62" rx="2.31" ry="0.99" fill="#d0d0d0"/>
<ellipse cx="76.78" cy="544.29" rx="1.48" ry="2.03" fill="#fafafa"/>
<ellipse cx="74.29" cy="563.01" rx="1.86" ry="1.04" fill="#c4c4c4"/>
<ellipse cx="70.79" cy="556.70" rx="1.43" ry="2.12" fill="#fafafa"/>
<ellipse cx="67.33" cy="564.51" rx="1.58" ry="1.07" fill="#f6f6f6"/>
<ellipse cx="75.45" cy="570.59" rx="1.76" ry="0.99" fill="#d0d0d0"/>
<ellipse cx="65.78" cy="560.06" rx="1.28" ry="1.66" fill="#c4c4c4"/>
<ellipse cx="70.86" cy="557.68" rx="2.07" ry="1.13" fill="#fafafa"/>
<ellipse cx="67.53" cy="569.93" rx="1.35" ry="1.91" fill="#c4c4c4"/>
<ellipse cx="70.40" cy="556.58" rx="1.74" ry="1.69" fill="#f6f6f6"/>
<ellipse cx="72.10" cy="548.51" rx="1.72" ry="2.72" fill="#2c3cc8"/>
<ellipse cx="70.49" cy="544.17" rx="2.03" ry="1.32" fill="#2c3cc8"/>
<ellipse cx="76.50" cy="550.50" rx="1.15" ry="1.61" fill="#2c3cc8"/>
<ellipse cx="76.21" cy="551.41" rx="2.00" ry="2.02" fill="#2c3cc8"/>
<ellipse cx="74.64" cy="551.34" rx="1.18" ry="2.72" fill="#2c3cc8"/>
<ellipse cx="68.15" cy="552.57" rx="0.89" ry="2.11" fill="#6a88f4"/>
<ellipse cx="71.56" cy="547.46" rx="1.83" ry="1.66" fill="#6a88f4"/>
</g></g></g>
<text x="9.60" y="602.90" font-size="7.5" fill="#d83030" opacity="0.85">p-10</text>
<rect x="84.60" y="536.80" width="66.80" height="69.50" fill="#313133" stroke="none" stroke-width="1" />
<line x1="92.50" y1="537.30" x2="92.50" y2="542.00" stroke="#bdbdbd" stroke-width="1.1" />
<path d="M92.50,573.00 C93.79,584.40 88.82,594.60 90.00,603.00" stroke="#a9a9ab" stroke-width="1.35" fill="none" stroke-linecap="round"/>
<polyline points="92.50,573.00 92.70,575.82 92.68,578.60 92.49,581.32 92.16,583.98 91.75,586.58 91.29,589.12" fill="none" stroke="#4060ff" stroke-width="1.55" stroke-linecap="round"/>
<line x1="86.52" y1="569.10" x2="84.32" y2="571.10" stroke="#8a8a8a" stroke-width="0.9" />
<line x1="86.65" y1="549.50" x2="85.15" y2="550.70" stroke="#777" stroke-width="0.8" />
<line x1="98.48" y1="569.10" x2="100.68" y2="571.10" stroke="#8a8a8a" stroke-width="0.9" />
<line x1="98.35" y1="549.50" x2="99.85" y2="550.70" stroke="#777" stroke-width="0.8" />
<clipPath id="m53"><path d="M92.50,539.00 C92.85,539.00 93.22,539.41 93.54,539.88 C93.87,540.34 94.08,541.07 94.45,541.80 C94.82,542.53 95.27,543.32 95.75,544.25 C96.23,545.18 96.86,546.23 97.31,547.40 C97.77,548.57 98.20,549.73 98.48,551.25 C98.76,552.77 98.91,554.34 99.00,556.50 C99.09,558.66 99.05,562.04 99.00,564.20 C98.95,566.36 98.98,567.99 98.67,569.45 C98.37,570.91 97.94,572.19 97.18,572.95 C96.42,573.71 95.69,574.00 94.12,574.00 C92.56,574.00 89.12,573.71 87.82,572.95 C86.52,572.19 86.63,570.91 86.33,569.45 C86.02,567.99 86.05,566.36 86.00,564.20 C85.95,562.04 85.91,558.66 86.00,556.50 C86.09,554.34 86.24,552.77 86.52,551.25 C86.80,549.73 87.23,548.57 87.69,547.40 C88.14,546.23 88.77,545.18 89.25,544.25 C89.73,543.32 90.18,542.53 90.55,541.80 C90.92,541.07 91.13,540.34 91.46,539.88 C91.78,539.41 92.15,539.00 92.50,539.00 Z"/></clipPath>
<g filter="url(#blurB)"><path d="M92.50,539.00 C92.85,539.00 93.22,539.41 93.54,539.88 C93.87,540.34 94.08,541.07 94.45,541.80 C94.82,542.53 95.27,543.32 95.75,544.25 C96.23,545.18 96.86,546.23 97.31,547.40 C97.77,548.57 98.20,549.73 98.48,551.25 C98.76,552.77 98.91,554.34 99.00,556.50 C99.09,558.66 99.05,562.04 99.00,564.20 C98.95,566.36 98.98,567.99 98.67,569.45 C98.37,570.91 97.94,572.19 97.18,572.95 C96.42,573.71 95.69,574.00 94.12,574.00 C92.56,574.00 89.12,573.71 87.82,572.95 C86.52,572.19 86.63,570.91 86.33,569.45 C86.02,567.99 86.05,566.36 86.00,564.20 C85.95,562.04 85.91,558.66 86.00,556.50 C86.09,554.34 86.24,552.77 86.52,551.25 C86.80,549.73 87.23,548.57 87.69,547.40 C88.14,546.23 88.77,545.18 89.25,544.25 C89.73,543.32 90.18,542.53 90.55,541.80 C90.92,541.07 91.13,540.34 91.46,539.88 C91.78,539.41 92.15,539.00 92.50,539.00 Z" fill="#e0e0e5"/>
<g clip-path="url(#m53)"><g filter="url(#blur05)">
<ellipse cx="90.75" cy="563.87" rx="1.99" ry="1.23" fill="#f6f6f6"/>
<ellipse cx="95.17" cy="568.38" rx="1.32" ry="1.62" fill="#d0d0d0"/>
<ellipse cx="97.09" cy="551.58" rx="1.34" ry="1.73" fill="#f6f6f6"/>
<ellipse cx="91.12" cy="570.60" rx="1.92" ry="1.78" fill="#d0d0d0"/>
<ellipse cx="89.69" cy="542.67" rx="1.73" ry="1.13" fill="#c4c4c4"/>
<ellipse cx="89.94" cy="547.65" rx="2.07" ry="1.55" fill="#f6f6f6"/>
<ellipse cx="94.96" cy="544.83" rx="1.29" ry="1.23" fill="#fafafa"/>
<ellipse cx="96.51" cy="569.28" rx="1.68" ry="2.09" fill="#d0d0d0"/>
<ellipse cx="97.16" cy="552.92" rx="2.19" ry="2.40" fill="#d0d0d0"/>
<ellipse cx="89.14" cy="555.38" rx="2.06" ry="1.98" fill="#f6f6f6"/>
<ellipse cx="92.67" cy="542.82" rx="2.09" ry="1.72" fill="#2c3cc8"/>
<ellipse cx="94.43" cy="542.52" rx="1.37" ry="2.54" fill="#2c3cc8"/>
<ellipse cx="94.31" cy="551.95" rx="1.57" ry="1.91" fill="#2c3cc8"/>
<ellipse cx="91.02" cy="550.29" rx="2.13" ry="1.73" fill="#2c3cc8"/>
<ellipse cx="94.75" cy="546.28" rx="1.31" ry="2.94" fill="#2c3cc8"/>
<ellipse cx="91.35" cy="542.63" rx="0.90" ry="2.47" fill="#6a88f4"/>
<ellipse cx="95.06" cy="548.07" rx="1.61" ry="2.53" fill="#6a88f4"/>
</g></g></g>
<line x1="108.20" y1="537.30" x2="108.20" y2="542.00" stroke="#bdbdbd" stroke-width="1.1" />
<path d="M108.20,573.00 C106.94,584.40 109.00,594.60 108.00,603.00" stroke="#a9a9ab" stroke-width="1.35" fill="none" stroke-linecap="round"/>
<line x1="102.22" y1="569.10" x2="100.02" y2="571.10" stroke="#8a8a8a" stroke-width="0.9" />
<line x1="102.35" y1="549.50" x2="100.85" y2="550.70" stroke="#777" stroke-width="0.8" />
<line x1="114.18" y1="569.10" x2="116.38" y2="571.10" stroke="#8a8a8a" stroke-width="0.9" />
<line x1="114.05" y1="549.50" x2="115.55" y2="550.70" stroke="#777" stroke-width="0.8" />
<clipPath id="m54"><path d="M108.20,539.00 C108.55,539.00 108.92,539.41 109.24,539.88 C109.57,540.34 109.78,541.07 110.15,541.80 C110.52,542.53 110.97,543.32 111.45,544.25 C111.93,545.18 112.56,546.23 113.01,547.40 C113.47,548.57 113.90,549.73 114.18,551.25 C114.46,552.77 114.61,554.34 114.70,556.50 C114.79,558.66 114.75,562.04 114.70,564.20 C114.65,566.36 114.68,567.99 114.38,569.45 C114.07,570.91 113.64,572.19 112.88,572.95 C112.12,573.71 111.39,574.00 109.83,574.00 C108.27,574.00 104.82,573.71 103.52,572.95 C102.22,572.19 102.33,570.91 102.03,569.45 C101.72,567.99 101.75,566.36 101.70,564.20 C101.65,562.04 101.61,558.66 101.70,556.50 C101.79,554.34 101.94,552.77 102.22,551.25 C102.50,549.73 102.94,548.57 103.39,547.40 C103.84,546.23 104.47,545.18 104.95,544.25 C105.43,543.32 105.88,542.53 106.25,541.80 C106.62,541.07 106.83,540.34 107.16,539.88 C107.48,539.41 107.85,539.00 108.20,539.00 Z"/></clipPath>
<g filter="url(#blurB)"><path d="M108.20,539.00 C108.55,539.00 108.92,539.41 109.24,539.88 C109.57,540.34 109.78,541.07 110.15,541.80 C110.52,542.53 110.97,543.32 111.45,544.25 C111.93,545.18 112.56,546.23 113.01,547.40 C113.47,548.57 113.90,549.73 114.18,551.25 C114.46,552.77 114.61,554.34 114.70,556.50 C114.79,558.66 114.75,562.04 114.70,564.20 C114.65,566.36 114.68,567.99 114.38,569.45 C114.07,570.91 113.64,572.19 112.88,572.95 C112.12,573.71 111.39,574.00 109.83,574.00 C108.27,574.00 104.82,573.71 103.52,572.95 C102.22,572.19 102.33,570.91 102.03,569.45 C101.72,567.99 101.75,566.36 101.70,564.20 C101.65,562.04 101.61,558.66 101.70,556.50 C101.79,554.34 101.94,552.77 102.22,551.25 C102.50,549.73 102.94,548.57 103.39,547.40 C103.84,546.23 104.47,545.18 104.95,544.25 C105.43,543.32 105.88,542.53 106.25,541.80 C106.62,541.07 106.83,540.34 107.16,539.88 C107.48,539.41 107.85,539.00 108.20,539.00 Z" fill="#e0e0e5"/>
<g clip-path="url(#m54)"><g filter="url(#blur05)">
<ellipse cx="107.99" cy="571.46" rx="1.01" ry="2.30" fill="#d0d0d0"/>
<ellipse cx="109.81" cy="568.73" rx="1.78" ry="1.91" fill="#d0d0d0"/>
<ellipse cx="109.56" cy="554.06" rx="1.26" ry="2.26" fill="#fafafa"/>
<ellipse cx="105.20" cy="566.91" rx="0.99" ry="1.64" fill="#f6f6f6"/>
<ellipse cx="109.16" cy="566.17" rx="2.00" ry="1.66" fill="#f6f6f6"/>
<ellipse cx="107.17" cy="556.24" rx="1.50" ry="1.95" fill="#c4c4c4"/>
<ellipse cx="108.61" cy="548.20" rx="1.48" ry="1.12" fill="#d0d0d0"/>
<ellipse cx="112.15" cy="557.41" rx="1.38" ry="1.15" fill="#d0d0d0"/>
<ellipse cx="107.78" cy="545.38" rx="1.68" ry="1.75" fill="#fafafa"/>
<ellipse cx="113.02" cy="565.46" rx="1.43" ry="1.46" fill="#f6f6f6"/>
<ellipse cx="109.01" cy="560.14" rx="1.67" ry="2.38" fill="#2c3cc8"/>
<ellipse cx="106.69" cy="561.75" rx="1.36" ry="1.55" fill="#2c3cc8"/>
<ellipse cx="105.00" cy="558.85" rx="2.20" ry="2.49" fill="#2c3cc8"/>
<ellipse cx="109.76" cy="555.65" rx="1.30" ry="2.66" fill="#6a88f4"/>
<ellipse cx="107.93" cy="561.13" rx="0.92" ry="1.85" fill="#6a88f4"/>
</g></g></g>
<line x1="124.50" y1="537.30" x2="124.50" y2="542.00" stroke="#bdbdbd" stroke-width="1.1" />
<path d="M124.50,573.00 C125.99,584.40 120.66,594.60 122.00,603.00" stroke="#a9a9ab" stroke-width="1.35" fill="none" stroke-linecap="round"/>
<line x1="118.52" y1="569.10" x2="116.32" y2="571.10" stroke="#8a8a8a" stroke-width="0.9" />
<line x1="118.65" y1="549.50" x2="117.15" y2="550.70" stroke="#777" stroke-width="0.8" />
<line x1="130.48" y1="569.10" x2="132.68" y2="571.10" stroke="#8a8a8a" stroke-width="0.9" />
<line x1="130.35" y1="549.50" x2="131.85" y2="550.70" stroke="#777" stroke-width="0.8" />
<clipPath id="m55"><path d="M124.50,539.00 C124.85,539.00 125.22,539.41 125.54,539.88 C125.87,540.34 126.08,541.07 126.45,541.80 C126.82,542.53 127.27,543.32 127.75,544.25 C128.23,545.18 128.86,546.23 129.31,547.40 C129.76,548.57 130.20,549.73 130.48,551.25 C130.76,552.77 130.91,554.34 131.00,556.50 C131.09,558.66 131.05,562.04 131.00,564.20 C130.95,566.36 130.98,567.99 130.68,569.45 C130.37,570.91 129.94,572.19 129.18,572.95 C128.42,573.71 127.69,574.00 126.12,574.00 C124.56,574.00 121.12,573.71 119.82,572.95 C118.52,572.19 118.63,570.91 118.33,569.45 C118.02,567.99 118.05,566.36 118.00,564.20 C117.95,562.04 117.91,558.66 118.00,556.50 C118.09,554.34 118.24,552.77 118.52,551.25 C118.80,549.73 119.23,548.57 119.69,547.40 C120.14,546.23 120.77,545.18 121.25,544.25 C121.73,543.32 122.18,542.53 122.55,541.80 C122.92,541.07 123.13,540.34 123.46,539.88 C123.78,539.41 124.15,539.00 124.50,539.00 Z"/></clipPath>
<g filter="url(#blurB)"><path d="M124.50,539.00 C124.85,539.00 125.22,539.41 125.54,539.88 C125.87,540.34 126.08,541.07 126.45,541.80 C126.82,542.53 127.27,543.32 127.75,544.25 C128.23,545.18 128.86,546.23 129.31,547.40 C129.76,548.57 130.20,549.73 130.48,551.25 C130.76,552.77 130.91,554.34 131.00,556.50 C131.09,558.66 131.05,562.04 131.00,564.20 C130.95,566.36 130.98,567.99 130.68,569.45 C130.37,570.91 129.94,572.19 129.18,572.95 C128.42,573.71 127.69,574.00 126.12,574.00 C124.56,574.00 121.12,573.71 119.82,572.95 C118.52,572.19 118.63,570.91 118.33,569.45 C118.02,567.99 118.05,566.36 118.00,564.20 C117.95,562.04 117.91,558.66 118.00,556.50 C118.09,554.34 118.24,552.77 118.52,551.25 C118.80,549.73 119.23,548.57 119.69,547.40 C120.14,546.23 120.77,545.18 121.25,544.25 C121.73,543.32 122.18,542.53 122.55,541.80 C122.92,541.07 123.13,540.34 123.46,539.88 C123.78,539.41 124.15,539.00 124.50,539.00 Z" fill="#e0e0e5"/>
<g clip-path="url(#m55)"><g filter="url(#blur05)">
<ellipse cx="127.65" cy="553.47" rx="1.45" ry="2.20" fill="#f6f6f6"/>
<ellipse cx="126.34" cy="555.68" rx="1.24" ry="1.38" fill="#f6f6f6"/>
<ellipse cx="127.22" cy="561.40" rx="1.07" ry="1.32" fill="#d0d0d0"/>
<ellipse cx="124.54" cy="551.01" rx="1.33" ry="2.39" fill="#d0d0d0"/>
<ellipse cx="123.17" cy="553.99" rx="1.42" ry="1.40" fill="#f6f6f6"/>
<ellipse cx="129.21" cy="549.72" rx="1.45" ry="1.11" fill="#d0d0d0"/>
<ellipse cx="123.09" cy="558.32" rx="1.75" ry="1.71" fill="#f6f6f6"/>
<ellipse cx="128.13" cy="562.49" rx="1.97" ry="1.46" fill="#c4c4c4"/>
<ellipse cx="121.34" cy="551.28" rx="1.41" ry="1.69" fill="#fafafa"/>
<ellipse cx="129.62" cy="554.58" rx="1.24" ry="1.63" fill="#c4c4c4"/>
<ellipse cx="128.46" cy="554.42" rx="1.06" ry="1.82" fill="#2c3cc8"/>
<ellipse cx="122.01" cy="552.76" rx="1.68" ry="2.56" fill="#2c3cc8"/>
<ellipse cx="127.05" cy="550.71" rx="2.17" ry="1.55" fill="#2c3cc8"/>
<ellipse cx="125.55" cy="555.92" rx="1.88" ry="1.58" fill="#2c3cc8"/>
<ellipse cx="128.06" cy="556.07" rx="1.40" ry="2.33" fill="#2c3cc8"/>
<ellipse cx="124.99" cy="547.93" rx="1.41" ry="2.03" fill="#6a88f4"/>
<ellipse cx="128.27" cy="546.55" rx="1.22" ry="1.77" fill="#6a88f4"/>
</g></g></g>
<line x1="140.90" y1="537.30" x2="140.90" y2="542.00" stroke="#bdbdbd" stroke-width="1.1" />
<path d="M140.90,573.00 C140.85,584.40 137.86,594.60 138.00,603.00" stroke="#a9a9ab" stroke-width="1.35" fill="none" stroke-linecap="round"/>
<line x1="134.92" y1="569.10" x2="132.72" y2="571.10" stroke="#8a8a8a" stroke-width="0.9" />
<line x1="135.05" y1="549.50" x2="133.55" y2="550.70" stroke="#777" stroke-width="0.8" />
<line x1="146.88" y1="569.10" x2="149.08" y2="571.10" stroke="#8a8a8a" stroke-width="0.9" />
<line x1="146.75" y1="549.50" x2="148.25" y2="550.70" stroke="#777" stroke-width="0.8" />
<clipPath id="m56"><path d="M140.90,539.00 C141.25,539.00 141.62,539.41 141.94,539.88 C142.26,540.34 142.48,541.07 142.85,541.80 C143.22,542.53 143.67,543.32 144.15,544.25 C144.63,545.18 145.25,546.23 145.71,547.40 C146.17,548.57 146.60,549.73 146.88,551.25 C147.16,552.77 147.31,554.34 147.40,556.50 C147.49,558.66 147.45,562.04 147.40,564.20 C147.35,566.36 147.38,567.99 147.08,569.45 C146.77,570.91 146.34,572.19 145.58,572.95 C144.82,573.71 144.09,574.00 142.53,574.00 C140.97,574.00 137.52,573.71 136.22,572.95 C134.92,572.19 135.03,570.91 134.72,569.45 C134.42,567.99 134.45,566.36 134.40,564.20 C134.35,562.04 134.31,558.66 134.40,556.50 C134.49,554.34 134.64,552.77 134.92,551.25 C135.20,549.73 135.63,548.57 136.09,547.40 C136.55,546.23 137.17,545.18 137.65,544.25 C138.13,543.32 138.58,542.53 138.95,541.80 C139.32,541.07 139.54,540.34 139.86,539.88 C140.19,539.41 140.55,539.00 140.90,539.00 Z"/></clipPath>
<g filter="url(#blurB)"><path d="M140.90,539.00 C141.25,539.00 141.62,539.41 141.94,539.88 C142.26,540.34 142.48,541.07 142.85,541.80 C143.22,542.53 143.67,543.32 144.15,544.25 C144.63,545.18 145.25,546.23 145.71,547.40 C146.17,548.57 146.60,549.73 146.88,551.25 C147.16,552.77 147.31,554.34 147.40,556.50 C147.49,558.66 147.45,562.04 147.40,564.20 C147.35,566.36 147.38,567.99 147.08,569.45 C146.77,570.91 146.34,572.19 145.58,572.95 C144.82,573.71 144.09,574.00 142.53,574.00 C140.97,574.00 137.52,573.71 136.22,572.95 C134.92,572.19 135.03,570.91 134.72,569.45 C134.42,567.99 134.45,566.36 134.40,564.20 C134.35,562.04 134.31,558.66 134.40,556.50 C134.49,554.34 134.64,552.77 134.92,551.25 C135.20,549.73 135.63,548.57 136.09,547.40 C136.55,546.23 137.17,545.18 137.65,544.25 C138.13,543.32 138.58,542.53 138.95,541.80 C139.32,541.07 139.54,540.34 139.86,539.88 C140.19,539.41 140.55,539.00 140.90,539.00 Z" fill="#e0e0e5"/>
<g clip-path="url(#m56)"><g filter="url(#blur05)">
<ellipse cx="139.56" cy="543.13" rx="1.14" ry="2.37" fill="#c4c4c4"/>
<ellipse cx="139.59" cy="571.84" rx="1.45" ry="1.20" fill="#f6f6f6"/>
<ellipse cx="144.04" cy="551.36" rx="2.03" ry="1.48" fill="#f6f6f6"/>
<ellipse cx="144.10" cy="547.48" rx="1.84" ry="1.45" fill="#f6f6f6"/>
<ellipse cx="144.27" cy="562.57" rx="2.09" ry="1.45" fill="#d0d0d0"/>
<ellipse cx="140.89" cy="568.14" rx="1.56" ry="2.31" fill="#f6f6f6"/>
<ellipse cx="135.72" cy="568.84" rx="1.82" ry="1.61" fill="#c4c4c4"/>
<ellipse cx="136.12" cy="554.76" rx="1.64" ry="1.19" fill="#f6f6f6"/>
<ellipse cx="144.39" cy="563.38" rx="1.68" ry="1.24" fill="#c4c4c4"/>
<ellipse cx="143.09" cy="566.97" rx="2.25" ry="1.30" fill="#f6f6f6"/>
<ellipse cx="140.40" cy="547.27" rx="2.31" ry="2.89" fill="#2c3cc8"/>
<ellipse cx="143.92" cy="543.43" rx="1.56" ry="2.60" fill="#2c3cc8"/>
<ellipse cx="140.56" cy="543.91" rx="1.58" ry="2.34" fill="#2c3cc8"/>
<ellipse cx="140.76" cy="547.03" rx="0.94" ry="1.90" fill="#6a88f4"/>
<ellipse cx="144.97" cy="548.34" rx="1.02" ry="1.16" fill="#6a88f4"/>
</g></g></g>
<text x="7.60" y="11.20" font-size="13.2" font-weight="bold" >A</text>
<text x="15.60" y="23.34" font-size="9" font-weight="bold" textLength="61.70" lengthAdjust="spacingAndGlyphs" >FT-Treg + PBMC</text>
<text x="89.00" y="20.64" font-size="9" font-weight="bold" textLength="46.40" lengthAdjust="spacingAndGlyphs" >Treg+PBMC</text>
<text x="16.00" y="36.07" font-size="8.8" font-weight="bold" textLength="21.60" lengthAdjust="spacingAndGlyphs" >Day -1</text>
<text x="16.00" y="124.37" font-size="8.8" font-weight="bold" textLength="20.30" lengthAdjust="spacingAndGlyphs" >Day 0</text>
<text x="16.00" y="203.67" font-size="8.8" font-weight="bold" textLength="20.30" lengthAdjust="spacingAndGlyphs" >Day 3</text>
<text x="16.20" y="284.57" font-size="8.8" font-weight="bold" textLength="19.50" lengthAdjust="spacingAndGlyphs" >Day 4</text>
<text x="13.00" y="363.17" font-size="8.8" font-weight="bold" textLength="19.30" lengthAdjust="spacingAndGlyphs" >Day 5</text>
<text x="13.00" y="451.67" font-size="8.8" font-weight="bold" textLength="19.00" lengthAdjust="spacingAndGlyphs" >Day 7</text>
<text x="13.00" y="534.47" font-size="8.8" font-weight="bold" textLength="27.00" lengthAdjust="spacingAndGlyphs" >Day  10</text>
<text x="160.50" y="11.40" font-size="13.2" font-weight="bold" >B</text>
<text x="174.60" y="20.40" font-size="5" font-weight="bold" textLength="13.90" lengthAdjust="spacingAndGlyphs" >x106</text>
<line x1="184.20" y1="34.85" x2="184.20" y2="149.60" stroke="#333" stroke-width="0.8" />
<line x1="182.40" y1="149.60" x2="184.20" y2="149.60" stroke="#333" stroke-width="0.8" />
<text x="178.60" y="152.45" font-size="8" font-weight="bold" text-anchor="end" fill="#111" >0</text>
<line x1="182.40" y1="126.65" x2="184.20" y2="126.65" stroke="#333" stroke-width="0.8" />
<text x="178.60" y="129.50" font-size="8" font-weight="bold" text-anchor="end" fill="#111" >0.5</text>
<line x1="182.40" y1="103.70" x2="184.20" y2="103.70" stroke="#333" stroke-width="0.8" />
<text x="178.60" y="106.55" font-size="8" font-weight="bold" text-anchor="end" fill="#111" >1</text>
<line x1="182.40" y1="80.75" x2="184.20" y2="80.75" stroke="#333" stroke-width="0.8" />
<text x="178.60" y="83.60" font-size="8" font-weight="bold" text-anchor="end" fill="#111" >1.5</text>
<line x1="182.40" y1="57.80" x2="184.20" y2="57.80" stroke="#333" stroke-width="0.8" />
<text x="178.60" y="60.65" font-size="8" font-weight="bold" text-anchor="end" fill="#111" >2</text>
<line x1="182.40" y1="34.85" x2="184.20" y2="34.85" stroke="#333" stroke-width="0.8" />
<text x="178.60" y="37.70" font-size="8" font-weight="bold" text-anchor="end" fill="#111" >2.5</text>
<line x1="184.20" y1="149.60" x2="316.00" y2="149.60" stroke="#333" stroke-width="0.8" />
<line x1="228.00" y1="149.60" x2="228.00" y2="151.60" stroke="#333" stroke-width="0.8" />
<line x1="272.70" y1="149.60" x2="272.70" y2="151.60" stroke="#333" stroke-width="0.8" />
<line x1="316.00" y1="149.60" x2="316.00" y2="151.60" stroke="#333" stroke-width="0.8" />
<rect x="195.20" y="99.11" width="10.60" height="50.49" fill="#fff" stroke="#222" stroke-width="0.7" />
<line x1="200.50" y1="99.11" x2="200.50" y2="91.31" stroke="#444" stroke-width="0.7" />
<line x1="199.50" y1="91.31" x2="201.50" y2="91.31" stroke="#444" stroke-width="0.7" />
<rect x="207.30" y="67.90" width="11.00" height="81.70" fill="url(#hatch)" stroke="#222" stroke-width="0.7" />
<line x1="212.80" y1="67.90" x2="212.80" y2="55.51" stroke="#444" stroke-width="0.7" />
<line x1="211.80" y1="55.51" x2="213.80" y2="55.51" stroke="#444" stroke-width="0.7" />
<rect x="239.20" y="101.41" width="10.00" height="48.19" fill="#fff" stroke="#222" stroke-width="0.7" />
<line x1="244.20" y1="101.41" x2="244.20" y2="99.11" stroke="#444" stroke-width="0.7" />
<line x1="243.20" y1="99.11" x2="245.20" y2="99.11" stroke="#444" stroke-width="0.7" />
<rect x="251.00" y="77.54" width="11.00" height="72.06" fill="url(#hatch)" stroke="#222" stroke-width="0.7" />
<line x1="256.50" y1="77.54" x2="256.50" y2="69.27" stroke="#444" stroke-width="0.7" />
<line x1="255.50" y1="69.27" x2="257.50" y2="69.27" stroke="#444" stroke-width="0.7" />
<rect x="283.00" y="145.93" width="10.80" height="3.67" fill="#fff" stroke="#222" stroke-width="0.7" />
<line x1="288.40" y1="145.93" x2="288.40" y2="144.55" stroke="#444" stroke-width="0.7" />
<line x1="287.40" y1="144.55" x2="289.40" y2="144.55" stroke="#444" stroke-width="0.7" />
<rect x="295.40" y="131.24" width="10.20" height="18.36" fill="url(#hatch)" stroke="#222" stroke-width="0.7" />
<line x1="300.50" y1="131.24" x2="300.50" y2="125.27" stroke="#444" stroke-width="0.7" />
<line x1="299.50" y1="125.27" x2="301.50" y2="125.27" stroke="#444" stroke-width="0.7" />
<text x="192.70" y="38.90" font-size="7.5" textLength="23.10" lengthAdjust="spacingAndGlyphs" fill="#111" stroke="#111" stroke-width="0.22">P=0.07</text>
<path d="M194.20,51.20 L194.20,48.20 Q194.20,47.20 195.20,47.20 L214.40,47.20 Q215.40,47.20 215.40,48.20 L215.40,51.20 M204.80,47.20 L204.80,42.50" stroke="#111" stroke-width="1.1" fill="none"/>
<text x="236.70" y="53.10" font-size="7.5" textLength="22.50" lengthAdjust="spacingAndGlyphs" fill="#111" stroke="#111" stroke-width="0.22">P=0.04</text>
<path d="M237.70,65.40 L237.70,62.00 Q237.70,61.00 238.70,61.00 L257.80,61.00 Q258.80,61.00 258.80,62.00 L258.80,65.40 M248.25,61.00 L248.25,55.80" stroke="#111" stroke-width="1.1" fill="none"/>
<text x="280.40" y="110.40" font-size="7.5" textLength="22.30" lengthAdjust="spacingAndGlyphs" fill="#111" stroke="#111" stroke-width="0.22">P=0.04</text>
<path d="M281.50,123.00 L281.50,119.80 Q281.50,118.80 282.50,118.80 L301.70,118.80 Q302.70,118.80 302.70,119.80 L302.70,123.00 M292.10,118.80 L292.10,113.00" stroke="#111" stroke-width="1.1" fill="none"/>
<text x="196.50" y="161.90" font-size="7.5" textLength="19.80" lengthAdjust="spacingAndGlyphs" fill="#111" stroke="#111" stroke-width="0.22">day -1</text>
<text x="241.50" y="161.90" font-size="7.5" textLength="18.30" lengthAdjust="spacingAndGlyphs" fill="#111" stroke="#111" stroke-width="0.22">day 0</text>
<text x="283.50" y="161.90" font-size="7.5" textLength="21.50" lengthAdjust="spacingAndGlyphs" fill="#111" stroke="#111" stroke-width="0.22">day 10</text>
<rect x="265.20" y="15.90" width="3.20" height="3.20" fill="#fff" stroke="#333" stroke-width="0.6" />
<text x="268.80" y="19.79" font-size="5.8" font-weight="bold" textLength="35.80" lengthAdjust="spacingAndGlyphs" fill="#222" >Treg+PBMC</text>
<rect x="265.20" y="28.00" width="3.20" height="3.20" fill="url(#hatch)" stroke="#333" stroke-width="0.6" />
<text x="268.80" y="31.89" font-size="5.8" font-weight="bold" textLength="45.80" lengthAdjust="spacingAndGlyphs" fill="#222" >FT-Treg+PBMC</text>
<text x="160.70" y="84.00" font-size="8" font-weight="bold" text-anchor="middle" textLength="48.00" lengthAdjust="spacingAndGlyphs" transform="rotate(-90 160.70 84.00)" >Avg Radiance</text>
<text x="167.80" y="84.50" font-size="8" font-weight="bold" text-anchor="middle" textLength="42.00" lengthAdjust="spacingAndGlyphs" transform="rotate(-90 167.80 84.50)" >(p/s/cm2/sr)</text>
<text x="325.60" y="11.30" font-size="13.2" font-weight="bold" >C</text>
<line x1="347.30" y1="33.30" x2="347.30" y2="146.40" stroke="#aaa" stroke-width="0.8" />
<line x1="345.80" y1="146.40" x2="347.30" y2="146.40" stroke="#aaa" stroke-width="0.8" />
<text x="342.80" y="148.80" font-size="6.7" font-weight="bold" text-anchor="end" fill="#222" >0</text>
<line x1="345.80" y1="135.09" x2="347.30" y2="135.09" stroke="#aaa" stroke-width="0.8" />
<text x="342.80" y="137.49" font-size="6.7" font-weight="bold" text-anchor="end" fill="#222" >10</text>
<line x1="345.80" y1="123.78" x2="347.30" y2="123.78" stroke="#aaa" stroke-width="0.8" />
<text x="342.80" y="126.18" font-size="6.7" font-weight="bold" text-anchor="end" fill="#222" >20</text>
<line x1="345.80" y1="112.47" x2="347.30" y2="112.47" stroke="#aaa" stroke-width="0.8" />
<text x="342.80" y="114.87" font-size="6.7" font-weight="bold" text-anchor="end" fill="#222" >30</text>
<line x1="345.80" y1="101.16" x2="347.30" y2="101.16" stroke="#aaa" stroke-width="0.8" />
<text x="342.80" y="103.56" font-size="6.7" font-weight="bold" text-anchor="end" fill="#222" >40</text>
<line x1="345.80" y1="89.85" x2="347.30" y2="89.85" stroke="#aaa" stroke-width="0.8" />
<text x="342.80" y="92.25" font-size="6.7" font-weight="bold" text-anchor="end" fill="#222" >50</text>
<line x1="345.80" y1="78.54" x2="347.30" y2="78.54" stroke="#aaa" stroke-width="0.8" />
<text x="342.80" y="80.94" font-size="6.7" font-weight="bold" text-anchor="end" fill="#222" >60</text>
<line x1="345.80" y1="67.23" x2="347.30" y2="67.23" stroke="#aaa" stroke-width="0.8" />
<text x="342.80" y="69.63" font-size="6.7" font-weight="bold" text-anchor="end" fill="#222" >70</text>
<line x1="345.80" y1="55.92" x2="347.30" y2="55.92" stroke="#aaa" stroke-width="0.8" />
<text x="342.80" y="58.32" font-size="6.7" font-weight="bold" text-anchor="end" fill="#222" >80</text>
<line x1="345.80" y1="44.61" x2="347.30" y2="44.61" stroke="#aaa" stroke-width="0.8" />
<text x="342.80" y="47.01" font-size="6.7" font-weight="bold" text-anchor="end" fill="#222" >90</text>
<line x1="345.80" y1="33.30" x2="347.30" y2="33.30" stroke="#aaa" stroke-width="0.8" />
<text x="342.80" y="35.70" font-size="6.7" font-weight="bold" text-anchor="end" fill="#222" >100</text>
<line x1="347.30" y1="146.30" x2="517.00" y2="146.30" stroke="#aaa" stroke-width="0.8" />
<line x1="391.00" y1="146.30" x2="391.00" y2="148.30" stroke="#aaa" stroke-width="0.8" />
<line x1="434.20" y1="146.30" x2="434.20" y2="148.30" stroke="#aaa" stroke-width="0.8" />
<line x1="476.00" y1="146.30" x2="476.00" y2="148.30" stroke="#aaa" stroke-width="0.8" />
<line x1="517.00" y1="146.30" x2="517.00" y2="148.30" stroke="#aaa" stroke-width="0.8" />
<rect x="357.00" y="143.23" width="12.20" height="3.07" fill="url(#dots)" stroke="#000" stroke-width="0.6" />
<line x1="363.10" y1="143.23" x2="363.10" y2="142.33" stroke="#000" stroke-width="0.7" />
<line x1="362.10" y1="142.33" x2="364.10" y2="142.33" stroke="#000" stroke-width="0.7" />
<rect x="369.80" y="139.95" width="11.50" height="6.35" fill="#000" stroke="#000" stroke-width="0.6" />
<line x1="375.55" y1="139.95" x2="375.55" y2="138.60" stroke="#000" stroke-width="0.7" />
<line x1="374.55" y1="138.60" x2="376.55" y2="138.60" stroke="#000" stroke-width="0.7" />
<rect x="399.20" y="134.19" width="12.30" height="12.11" fill="url(#dots)" stroke="#000" stroke-width="0.6" />
<line x1="405.35" y1="134.19" x2="405.35" y2="130.00" stroke="#000" stroke-width="0.7" />
<line x1="404.35" y1="130.00" x2="406.35" y2="130.00" stroke="#000" stroke-width="0.7" />
<rect x="412.00" y="127.17" width="12.00" height="19.13" fill="#000" stroke="#000" stroke-width="0.6" />
<line x1="418.00" y1="127.17" x2="418.00" y2="122.99" stroke="#000" stroke-width="0.7" />
<line x1="417.00" y1="122.99" x2="419.00" y2="122.99" stroke="#000" stroke-width="0.7" />
<rect x="442.30" y="130.11" width="12.20" height="16.19" fill="url(#dots)" stroke="#000" stroke-width="0.6" />
<line x1="448.40" y1="130.11" x2="448.40" y2="123.33" stroke="#000" stroke-width="0.7" />
<line x1="447.40" y1="123.33" x2="449.40" y2="123.33" stroke="#000" stroke-width="0.7" />
<rect x="455.20" y="46.87" width="11.80" height="99.43" fill="#000" stroke="#000" stroke-width="0.6" />
<line x1="461.10" y1="46.87" x2="461.10" y2="41.67" stroke="#000" stroke-width="0.7" />
<line x1="460.10" y1="41.67" x2="462.10" y2="41.67" stroke="#000" stroke-width="0.7" />
<rect x="484.80" y="144.59" width="12.50" height="1.71" fill="url(#dots)" stroke="#000" stroke-width="0.6" />
<line x1="491.05" y1="144.59" x2="491.05" y2="143.69" stroke="#000" stroke-width="0.7" />
<line x1="490.05" y1="143.69" x2="492.05" y2="143.69" stroke="#000" stroke-width="0.7" />
<text x="360.20" y="126.27" font-size="6.3" textLength="17.30" lengthAdjust="spacingAndGlyphs" stroke="#000" stroke-width="0.25">P=0.07</text>
<path d="M360.80,134.60 L360.80,132.70 Q360.80,131.70 361.80,131.70 L374.60,131.70 Q375.60,131.70 375.60,132.70 L375.60,134.60 M368.20,131.70 L368.20,128.50" stroke="#111" stroke-width="0.9" fill="none"/>
<text x="401.00" y="109.97" font-size="6.3" textLength="17.80" lengthAdjust="spacingAndGlyphs" stroke="#000" stroke-width="0.25">P=0.25</text>
<path d="M402.00,119.20 L402.00,117.30 Q402.00,116.30 403.00,116.30 L416.00,116.30 Q417.00,116.30 417.00,117.30 L417.00,119.20 M409.50,116.30 L409.50,113.00" stroke="#111" stroke-width="0.9" fill="none"/>
<text x="444.30" y="30.87" font-size="6.3" textLength="24.60" lengthAdjust="spacingAndGlyphs" stroke="#000" stroke-width="0.25">P&lt;0.0001</text>
<path d="M446.80,38.20 L446.80,35.80 Q446.80,34.80 447.80,34.80 L459.50,34.80 Q460.50,34.80 460.50,35.80 L460.50,38.20 M453.65,34.80 L453.65,31.80" stroke="#111" stroke-width="0.9" fill="none"/>
<text x="489.30" y="127.27" font-size="6.3" textLength="17.70" lengthAdjust="spacingAndGlyphs" stroke="#000" stroke-width="0.25">P=0.22</text>
<path d="M490.50,137.00 L490.50,134.60 Q490.50,133.60 491.50,133.60 L503.80,133.60 Q504.80,133.60 504.80,134.60 L504.80,137.00 M497.65,133.60 L497.65,130.00" stroke="#111" stroke-width="0.9" fill="none"/>
<text x="356.30" y="158.23" font-size="6.2" font-weight="bold" textLength="26.00" lengthAdjust="spacingAndGlyphs" fill="#111" >D14-PBPC</text>
<text x="398.70" y="158.23" font-size="6.2" font-weight="bold" textLength="25.90" lengthAdjust="spacingAndGlyphs" fill="#111" >D-14 Treg</text>
<text x="442.00" y="158.23" font-size="6.2" font-weight="bold" textLength="22.30" lengthAdjust="spacingAndGlyphs" fill="#111" >D31-PBPC</text>
<text x="484.80" y="158.23" font-size="6.2" font-weight="bold" textLength="22.70" lengthAdjust="spacingAndGlyphs" fill="#111" >D31-Treg</text>
<rect x="367.00" y="41.20" width="3.00" height="3.00" fill="#fff" stroke="#111" stroke-width="0.6" />
<text x="374.80" y="44.93" font-size="6.2" font-weight="bold" textLength="42.20" lengthAdjust="spacingAndGlyphs" fill="#111" >FT-Treg+PBMC</text>
<rect x="367.00" y="53.70" width="3.00" height="3.00" fill="#000" stroke="none" stroke-width="1" />
<text x="374.80" y="57.43" font-size="6.2" font-weight="bold" textLength="38.50" lengthAdjust="spacingAndGlyphs" fill="#111" >T-Treg+PBMC</text>
<text x="326.2" y="100.7" font-size="8.5" font-weight="bold" text-anchor="middle" transform="rotate(-90 326.2 100.7)" textLength="63" lengthAdjust="spacingAndGlyphs">% CD45<tspan font-size="5" dy="-3">+</tspan><tspan dy="3"> HLA-A2</tspan><tspan font-size="5" dy="-3">+</tspan></text>
<text x="246.90" y="183.60" font-size="13.2" font-weight="bold" >D</text>
<line x1="297.40" y1="176.30" x2="297.40" y2="288.20" stroke="#bbb" stroke-width="0.8" />
<line x1="297.40" y1="288.00" x2="503.00" y2="288.00" stroke="#bbb" stroke-width="0.8" />
<text x="291.40" y="290.48" font-size="6.3" font-weight="bold" text-anchor="end" fill="#222" >70</text>
<text x="291.40" y="276.50" font-size="6.3" font-weight="bold" text-anchor="end" fill="#222" >75</text>
<text x="291.40" y="262.51" font-size="6.3" font-weight="bold" text-anchor="end" fill="#222" >80</text>
<text x="291.40" y="248.53" font-size="6.3" font-weight="bold" text-anchor="end" fill="#222" >85</text>
<text x="291.40" y="234.54" font-size="6.3" font-weight="bold" text-anchor="end" fill="#222" >90</text>
<text x="291.40" y="220.56" font-size="6.3" font-weight="bold" text-anchor="end" fill="#222" >95</text>
<text x="291.40" y="206.57" font-size="6.3" font-weight="bold" text-anchor="end" fill="#222" >100</text>
<text x="291.40" y="192.59" font-size="6.3" font-weight="bold" text-anchor="end" fill="#222" >105</text>
<text x="291.40" y="178.60" font-size="6.3" font-weight="bold" text-anchor="end" fill="#222" >110</text>
<text x="303.90" y="300.60" font-size="6.8" font-weight="bold" text-anchor="middle" textLength="12.00" lengthAdjust="spacingAndGlyphs" fill="#111" >Day</text>
<text x="303.90" y="309.40" font-size="6.8" font-weight="bold" text-anchor="middle" fill="#111" >0</text>
<text x="318.58" y="300.60" font-size="6.8" font-weight="bold" text-anchor="middle" textLength="12.00" lengthAdjust="spacingAndGlyphs" fill="#111" >Day</text>
<text x="318.58" y="309.40" font-size="6.8" font-weight="bold" text-anchor="middle" fill="#111" >1</text>
<text x="333.26" y="300.60" font-size="6.8" font-weight="bold" text-anchor="middle" textLength="12.00" lengthAdjust="spacingAndGlyphs" fill="#111" >Day</text>
<text x="333.26" y="309.40" font-size="6.8" font-weight="bold" text-anchor="middle" fill="#111" >3</text>
<text x="347.94" y="300.60" font-size="6.8" font-weight="bold" text-anchor="middle" textLength="12.00" lengthAdjust="spacingAndGlyphs" fill="#111" >Day</text>
<text x="347.94" y="309.40" font-size="6.8" font-weight="bold" text-anchor="middle" fill="#111" >7</text>
<text x="362.62" y="300.60" font-size="6.8" font-weight="bold" text-anchor="middle" textLength="12.00" lengthAdjust="spacingAndGlyphs" fill="#111" >Day</text>
<text x="362.62" y="309.40" font-size="6.8" font-weight="bold" text-anchor="middle" fill="#111" >10</text>
<text x="377.30" y="300.60" font-size="6.8" font-weight="bold" text-anchor="middle" textLength="12.00" lengthAdjust="spacingAndGlyphs" fill="#111" >Day</text>
<text x="377.30" y="309.40" font-size="6.8" font-weight="bold" text-anchor="middle" fill="#111" >13</text>
<text x="391.98" y="300.60" font-size="6.8" font-weight="bold" text-anchor="middle" textLength="12.00" lengthAdjust="spacingAndGlyphs" fill="#111" >Day</text>
<text x="391.98" y="309.40" font-size="6.8" font-weight="bold" text-anchor="middle" fill="#111" >14</text>
<text x="406.66" y="300.60" font-size="6.8" font-weight="bold" text-anchor="middle" textLength="12.00" lengthAdjust="spacingAndGlyphs" fill="#111" >Day</text>
<text x="406.66" y="309.40" font-size="6.8" font-weight="bold" text-anchor="middle" fill="#111" >17</text>
<text x="421.34" y="300.60" font-size="6.8" font-weight="bold" text-anchor="middle" textLength="12.00" lengthAdjust="spacingAndGlyphs" fill="#111" >Day</text>
<text x="421.34" y="309.40" font-size="6.8" font-weight="bold" text-anchor="middle" fill="#111" >18</text>
<text x="436.02" y="300.60" font-size="6.8" font-weight="bold" text-anchor="middle" textLength="12.00" lengthAdjust="spacingAndGlyphs" fill="#111" >Day</text>
<text x="436.02" y="309.40" font-size="6.8" font-weight="bold" text-anchor="middle" fill="#111" >19</text>
<text x="450.70" y="300.60" font-size="6.8" font-weight="bold" text-anchor="middle" textLength="12.00" lengthAdjust="spacingAndGlyphs" fill="#111" >Day</text>
<text x="450.70" y="309.40" font-size="6.8" font-weight="bold" text-anchor="middle" fill="#111" >20</text>
<text x="465.38" y="300.60" font-size="6.8" font-weight="bold" text-anchor="middle" textLength="12.00" lengthAdjust="spacingAndGlyphs" fill="#111" >Day</text>
<text x="465.38" y="309.40" font-size="6.8" font-weight="bold" text-anchor="middle" fill="#111" >21</text>
<text x="480.06" y="300.60" font-size="6.8" font-weight="bold" text-anchor="middle" textLength="12.00" lengthAdjust="spacingAndGlyphs" fill="#111" >Day</text>
<text x="480.06" y="309.40" font-size="6.8" font-weight="bold" text-anchor="middle" fill="#111" >26</text>
<text x="494.74" y="300.60" font-size="6.8" font-weight="bold" text-anchor="middle" textLength="12.00" lengthAdjust="spacingAndGlyphs" fill="#111" >Day</text>
<text x="494.74" y="309.40" font-size="6.8" font-weight="bold" text-anchor="middle" fill="#111" >31</text>
<line x1="303.90" y1="202.67" x2="303.90" y2="205.87" stroke="#888" stroke-width="0.6" />
<line x1="302.90" y1="202.67" x2="304.90" y2="202.67" stroke="#888" stroke-width="0.6" />
<line x1="302.90" y1="205.87" x2="304.90" y2="205.87" stroke="#888" stroke-width="0.6" />
<line x1="318.58" y1="204.63" x2="318.58" y2="207.83" stroke="#888" stroke-width="0.6" />
<line x1="317.58" y1="204.63" x2="319.58" y2="204.63" stroke="#888" stroke-width="0.6" />
<line x1="317.58" y1="207.83" x2="319.58" y2="207.83" stroke="#888" stroke-width="0.6" />
<line x1="333.26" y1="211.06" x2="333.26" y2="214.26" stroke="#888" stroke-width="0.6" />
<line x1="332.26" y1="211.06" x2="334.26" y2="211.06" stroke="#888" stroke-width="0.6" />
<line x1="332.26" y1="214.26" x2="334.26" y2="214.26" stroke="#888" stroke-width="0.6" />
<line x1="347.94" y1="220.57" x2="347.94" y2="223.77" stroke="#888" stroke-width="0.6" />
<line x1="346.94" y1="220.57" x2="348.94" y2="220.57" stroke="#888" stroke-width="0.6" />
<line x1="346.94" y1="223.77" x2="348.94" y2="223.77" stroke="#888" stroke-width="0.6" />
<line x1="362.62" y1="210.22" x2="362.62" y2="213.42" stroke="#888" stroke-width="0.6" />
<line x1="361.62" y1="210.22" x2="363.62" y2="210.22" stroke="#888" stroke-width="0.6" />
<line x1="361.62" y1="213.42" x2="363.62" y2="213.42" stroke="#888" stroke-width="0.6" />
<line x1="377.30" y1="221.69" x2="377.30" y2="224.89" stroke="#888" stroke-width="0.6" />
<line x1="376.30" y1="221.69" x2="378.30" y2="221.69" stroke="#888" stroke-width="0.6" />
<line x1="376.30" y1="224.89" x2="378.30" y2="224.89" stroke="#888" stroke-width="0.6" />
<line x1="391.98" y1="231.48" x2="391.98" y2="234.68" stroke="#888" stroke-width="0.6" />
<line x1="390.98" y1="231.48" x2="392.98" y2="231.48" stroke="#888" stroke-width="0.6" />
<line x1="390.98" y1="234.68" x2="392.98" y2="234.68" stroke="#888" stroke-width="0.6" />
<line x1="406.66" y1="228.40" x2="406.66" y2="231.60" stroke="#888" stroke-width="0.6" />
<line x1="405.66" y1="228.40" x2="407.66" y2="228.40" stroke="#888" stroke-width="0.6" />
<line x1="405.66" y1="231.60" x2="407.66" y2="231.60" stroke="#888" stroke-width="0.6" />
<line x1="421.34" y1="218.89" x2="421.34" y2="222.09" stroke="#888" stroke-width="0.6" />
<line x1="420.34" y1="218.89" x2="422.34" y2="218.89" stroke="#888" stroke-width="0.6" />
<line x1="420.34" y1="222.09" x2="422.34" y2="222.09" stroke="#888" stroke-width="0.6" />
<line x1="436.02" y1="218.89" x2="436.02" y2="222.09" stroke="#888" stroke-width="0.6" />
<line x1="435.02" y1="218.89" x2="437.02" y2="218.89" stroke="#888" stroke-width="0.6" />
<line x1="435.02" y1="222.09" x2="437.02" y2="222.09" stroke="#888" stroke-width="0.6" />
<line x1="450.70" y1="206.03" x2="450.70" y2="209.23" stroke="#888" stroke-width="0.6" />
<line x1="449.70" y1="206.03" x2="451.70" y2="206.03" stroke="#888" stroke-width="0.6" />
<line x1="449.70" y1="209.23" x2="451.70" y2="209.23" stroke="#888" stroke-width="0.6" />
<line x1="465.38" y1="210.22" x2="465.38" y2="213.42" stroke="#888" stroke-width="0.6" />
<line x1="464.38" y1="210.22" x2="466.38" y2="210.22" stroke="#888" stroke-width="0.6" />
<line x1="464.38" y1="213.42" x2="466.38" y2="213.42" stroke="#888" stroke-width="0.6" />
<line x1="480.06" y1="206.31" x2="480.06" y2="209.51" stroke="#888" stroke-width="0.6" />
<line x1="479.06" y1="206.31" x2="481.06" y2="206.31" stroke="#888" stroke-width="0.6" />
<line x1="479.06" y1="209.51" x2="481.06" y2="209.51" stroke="#888" stroke-width="0.6" />
<line x1="494.74" y1="228.68" x2="494.74" y2="231.88" stroke="#888" stroke-width="0.6" />
<line x1="493.74" y1="228.68" x2="495.74" y2="228.68" stroke="#888" stroke-width="0.6" />
<line x1="493.74" y1="231.88" x2="495.74" y2="231.88" stroke="#888" stroke-width="0.6" />
<line x1="303.90" y1="202.67" x2="303.90" y2="205.87" stroke="#888" stroke-width="0.6" />
<line x1="302.90" y1="202.67" x2="304.90" y2="202.67" stroke="#888" stroke-width="0.6" />
<line x1="302.90" y1="205.87" x2="304.90" y2="205.87" stroke="#888" stroke-width="0.6" />
<line x1="318.58" y1="204.35" x2="318.58" y2="207.55" stroke="#888" stroke-width="0.6" />
<line x1="317.58" y1="204.35" x2="319.58" y2="204.35" stroke="#888" stroke-width="0.6" />
<line x1="317.58" y1="207.55" x2="319.58" y2="207.55" stroke="#888" stroke-width="0.6" />
<line x1="333.26" y1="203.23" x2="333.26" y2="206.43" stroke="#888" stroke-width="0.6" />
<line x1="332.26" y1="203.23" x2="334.26" y2="203.23" stroke="#888" stroke-width="0.6" />
<line x1="332.26" y1="206.43" x2="334.26" y2="206.43" stroke="#888" stroke-width="0.6" />
<line x1="347.94" y1="221.41" x2="347.94" y2="224.61" stroke="#888" stroke-width="0.6" />
<line x1="346.94" y1="221.41" x2="348.94" y2="221.41" stroke="#888" stroke-width="0.6" />
<line x1="346.94" y1="224.61" x2="348.94" y2="224.61" stroke="#888" stroke-width="0.6" />
<line x1="362.62" y1="206.03" x2="362.62" y2="209.23" stroke="#888" stroke-width="0.6" />
<line x1="361.62" y1="206.03" x2="363.62" y2="206.03" stroke="#888" stroke-width="0.6" />
<line x1="361.62" y1="209.23" x2="363.62" y2="209.23" stroke="#888" stroke-width="0.6" />
<line x1="377.30" y1="221.41" x2="377.30" y2="224.61" stroke="#888" stroke-width="0.6" />
<line x1="376.30" y1="221.41" x2="378.30" y2="221.41" stroke="#888" stroke-width="0.6" />
<line x1="376.30" y1="224.61" x2="378.30" y2="224.61" stroke="#888" stroke-width="0.6" />
<line x1="391.98" y1="227.84" x2="391.98" y2="231.04" stroke="#888" stroke-width="0.6" />
<line x1="390.98" y1="227.84" x2="392.98" y2="227.84" stroke="#888" stroke-width="0.6" />
<line x1="390.98" y1="231.04" x2="392.98" y2="231.04" stroke="#888" stroke-width="0.6" />
<line x1="406.66" y1="212.74" x2="406.66" y2="215.94" stroke="#888" stroke-width="0.6" />
<line x1="405.66" y1="212.74" x2="407.66" y2="212.74" stroke="#888" stroke-width="0.6" />
<line x1="405.66" y1="215.94" x2="407.66" y2="215.94" stroke="#888" stroke-width="0.6" />
<line x1="421.34" y1="207.70" x2="421.34" y2="210.90" stroke="#888" stroke-width="0.6" />
<line x1="420.34" y1="207.70" x2="422.34" y2="207.70" stroke="#888" stroke-width="0.6" />
<line x1="420.34" y1="210.90" x2="422.34" y2="210.90" stroke="#888" stroke-width="0.6" />
<line x1="436.02" y1="201.83" x2="436.02" y2="205.03" stroke="#888" stroke-width="0.6" />
<line x1="435.02" y1="201.83" x2="437.02" y2="201.83" stroke="#888" stroke-width="0.6" />
<line x1="435.02" y1="205.03" x2="437.02" y2="205.03" stroke="#888" stroke-width="0.6" />
<line x1="450.70" y1="193.72" x2="450.70" y2="196.92" stroke="#888" stroke-width="0.6" />
<line x1="449.70" y1="193.72" x2="451.70" y2="193.72" stroke="#888" stroke-width="0.6" />
<line x1="449.70" y1="196.92" x2="451.70" y2="196.92" stroke="#888" stroke-width="0.6" />
<line x1="465.38" y1="190.64" x2="465.38" y2="193.84" stroke="#888" stroke-width="0.6" />
<line x1="464.38" y1="190.64" x2="466.38" y2="190.64" stroke="#888" stroke-width="0.6" />
<line x1="464.38" y1="193.84" x2="466.38" y2="193.84" stroke="#888" stroke-width="0.6" />
<line x1="480.06" y1="187.29" x2="480.06" y2="190.49" stroke="#888" stroke-width="0.6" />
<line x1="479.06" y1="187.29" x2="481.06" y2="187.29" stroke="#888" stroke-width="0.6" />
<line x1="479.06" y1="190.49" x2="481.06" y2="190.49" stroke="#888" stroke-width="0.6" />
<line x1="494.74" y1="189.52" x2="494.74" y2="192.72" stroke="#888" stroke-width="0.6" />
<line x1="493.74" y1="189.52" x2="495.74" y2="189.52" stroke="#888" stroke-width="0.6" />
<line x1="493.74" y1="192.72" x2="495.74" y2="192.72" stroke="#888" stroke-width="0.6" />
<line x1="303.90" y1="202.67" x2="303.90" y2="205.87" stroke="#888" stroke-width="0.6" />
<line x1="302.90" y1="202.67" x2="304.90" y2="202.67" stroke="#888" stroke-width="0.6" />
<line x1="302.90" y1="205.87" x2="304.90" y2="205.87" stroke="#888" stroke-width="0.6" />
<line x1="318.58" y1="204.35" x2="318.58" y2="207.55" stroke="#888" stroke-width="0.6" />
<line x1="317.58" y1="204.35" x2="319.58" y2="204.35" stroke="#888" stroke-width="0.6" />
<line x1="317.58" y1="207.55" x2="319.58" y2="207.55" stroke="#888" stroke-width="0.6" />
<line x1="333.26" y1="206.87" x2="333.26" y2="210.07" stroke="#888" stroke-width="0.6" />
<line x1="332.26" y1="206.87" x2="334.26" y2="206.87" stroke="#888" stroke-width="0.6" />
<line x1="332.26" y1="210.07" x2="334.26" y2="210.07" stroke="#888" stroke-width="0.6" />
<line x1="347.94" y1="200.99" x2="347.94" y2="204.19" stroke="#888" stroke-width="0.6" />
<line x1="346.94" y1="200.99" x2="348.94" y2="200.99" stroke="#888" stroke-width="0.6" />
<line x1="346.94" y1="204.19" x2="348.94" y2="204.19" stroke="#888" stroke-width="0.6" />
<line x1="362.62" y1="195.96" x2="362.62" y2="199.16" stroke="#888" stroke-width="0.6" />
<line x1="361.62" y1="195.96" x2="363.62" y2="195.96" stroke="#888" stroke-width="0.6" />
<line x1="361.62" y1="199.16" x2="363.62" y2="199.16" stroke="#888" stroke-width="0.6" />
<line x1="377.30" y1="204.07" x2="377.30" y2="207.27" stroke="#888" stroke-width="0.6" />
<line x1="376.30" y1="204.07" x2="378.30" y2="204.07" stroke="#888" stroke-width="0.6" />
<line x1="376.30" y1="207.27" x2="378.30" y2="207.27" stroke="#888" stroke-width="0.6" />
<line x1="391.98" y1="213.86" x2="391.98" y2="217.06" stroke="#888" stroke-width="0.6" />
<line x1="390.98" y1="213.86" x2="392.98" y2="213.86" stroke="#888" stroke-width="0.6" />
<line x1="390.98" y1="217.06" x2="392.98" y2="217.06" stroke="#888" stroke-width="0.6" />
<line x1="406.66" y1="260.85" x2="406.66" y2="264.05" stroke="#888" stroke-width="0.6" />
<line x1="405.66" y1="260.85" x2="407.66" y2="260.85" stroke="#888" stroke-width="0.6" />
<line x1="405.66" y1="264.05" x2="407.66" y2="264.05" stroke="#888" stroke-width="0.6" />
<line x1="421.34" y1="269.52" x2="421.34" y2="272.72" stroke="#888" stroke-width="0.6" />
<line x1="420.34" y1="269.52" x2="422.34" y2="269.52" stroke="#888" stroke-width="0.6" />
<line x1="420.34" y1="272.72" x2="422.34" y2="272.72" stroke="#888" stroke-width="0.6" />
<line x1="436.02" y1="274.55" x2="436.02" y2="277.75" stroke="#888" stroke-width="0.6" />
<line x1="435.02" y1="274.55" x2="437.02" y2="274.55" stroke="#888" stroke-width="0.6" />
<line x1="435.02" y1="277.75" x2="437.02" y2="277.75" stroke="#888" stroke-width="0.6" />
<line x1="450.70" y1="277.35" x2="450.70" y2="280.55" stroke="#888" stroke-width="0.6" />
<line x1="449.70" y1="277.35" x2="451.70" y2="277.35" stroke="#888" stroke-width="0.6" />
<line x1="449.70" y1="280.55" x2="451.70" y2="280.55" stroke="#888" stroke-width="0.6" />
<path d="M303.90,204.27 C306.35,204.55 313.69,205.25 318.58,205.95 C323.47,206.65 328.37,209.02 333.26,208.47 C338.15,207.91 343.05,204.41 347.94,202.59 C352.83,200.77 357.73,197.04 362.62,197.56 C367.51,198.07 372.41,202.69 377.30,205.67 C382.19,208.65 387.09,205.99 391.98,215.46 C396.87,224.92 401.77,253.17 406.66,262.45 C411.55,271.72 416.45,268.83 421.34,271.12 C426.23,273.40 431.13,274.85 436.02,276.15 C440.91,277.46 448.25,278.48 450.70,278.95 " stroke="#222" stroke-width="1.3" stroke-dasharray="1.2 1.1" fill="none"/>
<path d="M303.90,204.27 C306.35,204.60 313.69,204.83 318.58,206.23 C323.47,207.63 328.37,210.00 333.26,212.66 C338.15,215.32 343.05,222.31 347.94,222.17 C352.83,222.03 357.73,211.64 362.62,211.82 C367.51,212.01 372.41,219.75 377.30,223.29 C382.19,226.83 387.09,231.96 391.98,233.08 C396.87,234.20 401.77,232.10 406.66,230.00 C411.55,227.90 416.45,222.08 421.34,220.49 C426.23,218.91 431.13,222.64 436.02,220.49 C440.91,218.35 445.81,209.07 450.70,207.63 C455.59,206.18 460.49,211.78 465.38,211.82 C470.27,211.87 475.17,204.83 480.06,207.91 C484.95,210.98 492.29,226.55 494.74,230.28 " stroke="#111" stroke-width="1.5" stroke-dasharray="4 2.2" fill="none"/>
<path d="M303.90,204.27 C306.35,204.55 313.69,205.85 318.58,205.95 C323.47,206.04 328.37,201.99 333.26,204.83 C338.15,207.67 343.05,222.54 347.94,223.01 C352.83,223.48 357.73,207.63 362.62,207.63 C367.51,207.63 372.41,219.37 377.30,223.01 C382.19,226.65 387.09,230.89 391.98,229.44 C396.87,228.00 401.77,217.70 406.66,214.34 C411.55,210.98 416.45,211.12 421.34,209.30 C426.23,207.49 431.13,205.76 436.02,203.43 C440.91,201.10 445.81,197.18 450.70,195.32 C455.59,193.45 460.49,193.32 465.38,192.24 C470.27,191.17 475.17,189.07 480.06,188.89 C484.95,188.70 492.29,190.75 494.74,191.12 " stroke="#111" stroke-width="1.5" fill="none"/>
<line x1="317.20" y1="243.80" x2="330.60" y2="243.80" stroke="#111" stroke-width="1.3" stroke-dasharray="2.5 1.5"/>
<text x="332.00" y="246.32" font-size="7" font-weight="bold" textLength="38.00" lengthAdjust="spacingAndGlyphs" fill="#111" >Treg + PBMC</text>
<line x1="317.20" y1="257.50" x2="330.60" y2="257.50" stroke="#111" stroke-width="1.4" />
<text x="332.00" y="260.02" font-size="7" font-weight="bold" textLength="47.20" lengthAdjust="spacingAndGlyphs" fill="#111" >FT-Treg + PBMC</text>
<line x1="317.20" y1="271.00" x2="330.60" y2="271.00" stroke="#333" stroke-width="1.1" stroke-dasharray="1.1 1.1"/>
<text x="332.00" y="273.52" font-size="7" font-weight="bold" textLength="36.00" lengthAdjust="spacingAndGlyphs" fill="#111" >PBMC alone</text>
<text x="276.40" y="231.80" font-size="6.6" font-weight="bold" text-anchor="middle" textLength="108.30" lengthAdjust="spacingAndGlyphs" transform="rotate(-90 276.40 231.80)" >Actual weight/baseline weight x 100</text>
<text x="246.90" y="351.10" font-size="13.2" font-weight="bold" >E</text>
<line x1="294.30" y1="331.00" x2="294.30" y2="441.20" stroke="#999" stroke-width="0.8" />
<line x1="294.30" y1="441.10" x2="502.00" y2="441.10" stroke="#999" stroke-width="0.8" />
<text x="287.30" y="444.20" font-size="7.2" font-weight="bold" text-anchor="end" fill="#111" >0</text>
<text x="287.30" y="428.62" font-size="7.2" font-weight="bold" text-anchor="end" fill="#111" >1</text>
<text x="287.30" y="413.04" font-size="7.2" font-weight="bold" text-anchor="end" fill="#111" >2</text>
<text x="287.30" y="397.46" font-size="7.2" font-weight="bold" text-anchor="end" fill="#111" >3</text>
<text x="287.30" y="381.88" font-size="7.2" font-weight="bold" text-anchor="end" fill="#111" >4</text>
<text x="287.30" y="366.30" font-size="7.2" font-weight="bold" text-anchor="end" fill="#111" >5</text>
<text x="287.30" y="350.72" font-size="7.2" font-weight="bold" text-anchor="end" fill="#111" >6</text>
<text x="287.30" y="335.14" font-size="7.2" font-weight="bold" text-anchor="end" fill="#111" >7</text>
<text x="301.60" y="446.20" font-size="6.6" font-weight="bold" text-anchor="end" textLength="16.80" lengthAdjust="spacingAndGlyphs" fill="#111" transform="rotate(-90 301.60 446.20)" >Day 0</text>
<text x="310.99" y="446.20" font-size="6.6" font-weight="bold" text-anchor="end" textLength="16.80" lengthAdjust="spacingAndGlyphs" fill="#111" transform="rotate(-90 310.99 446.20)" >Day 1</text>
<text x="320.38" y="446.20" font-size="6.6" font-weight="bold" text-anchor="end" textLength="16.80" lengthAdjust="spacingAndGlyphs" fill="#111" transform="rotate(-90 320.38 446.20)" >Day 2</text>
<text x="329.77" y="446.20" font-size="6.6" font-weight="bold" text-anchor="end" textLength="16.80" lengthAdjust="spacingAndGlyphs" fill="#111" transform="rotate(-90 329.77 446.20)" >Day 3</text>
<text x="339.16" y="446.20" font-size="6.6" font-weight="bold" text-anchor="end" textLength="16.80" lengthAdjust="spacingAndGlyphs" fill="#111" transform="rotate(-90 339.16 446.20)" >Day 4</text>
<text x="348.55" y="446.20" font-size="6.6" font-weight="bold" text-anchor="end" textLength="16.80" lengthAdjust="spacingAndGlyphs" fill="#111" transform="rotate(-90 348.55 446.20)" >Day 5</text>
<text x="357.94" y="446.20" font-size="6.6" font-weight="bold" text-anchor="end" textLength="16.80" lengthAdjust="spacingAndGlyphs" fill="#111" transform="rotate(-90 357.94 446.20)" >Day 6</text>
<text x="367.33" y="446.20" font-size="6.6" font-weight="bold" text-anchor="end" textLength="16.80" lengthAdjust="spacingAndGlyphs" fill="#111" transform="rotate(-90 367.33 446.20)" >Day 7</text>
<text x="376.72" y="446.20" font-size="6.6" font-weight="bold" text-anchor="end" textLength="16.80" lengthAdjust="spacingAndGlyphs" fill="#111" transform="rotate(-90 376.72 446.20)" >Day 8</text>
<text x="386.11" y="446.20" font-size="6.6" font-weight="bold" text-anchor="end" textLength="16.80" lengthAdjust="spacingAndGlyphs" fill="#111" transform="rotate(-90 386.11 446.20)" >Day 9</text>
<text x="395.50" y="446.20" font-size="6.6" font-weight="bold" text-anchor="end" textLength="21.50" lengthAdjust="spacingAndGlyphs" fill="#111" transform="rotate(-90 395.50 446.20)" >Day 10</text>
<text x="404.89" y="446.20" font-size="6.6" font-weight="bold" text-anchor="end" textLength="21.50" lengthAdjust="spacingAndGlyphs" fill="#111" transform="rotate(-90 404.89 446.20)" >Day 11</text>
<text x="414.28" y="446.20" font-size="6.6" font-weight="bold" text-anchor="end" textLength="21.50" lengthAdjust="spacingAndGlyphs" fill="#111" transform="rotate(-90 414.28 446.20)" >Day 12</text>
<text x="423.67" y="446.20" font-size="6.6" font-weight="bold" text-anchor="end" textLength="21.50" lengthAdjust="spacingAndGlyphs" fill="#111" transform="rotate(-90 423.67 446.20)" >Day 13</text>
<text x="433.06" y="446.20" font-size="6.6" font-weight="bold" text-anchor="end" textLength="21.50" lengthAdjust="spacingAndGlyphs" fill="#111" transform="rotate(-90 433.06 446.20)" >Day 14</text>
<text x="442.45" y="446.20" font-size="6.6" font-weight="bold" text-anchor="end" textLength="21.50" lengthAdjust="spacingAndGlyphs" fill="#111" transform="rotate(-90 442.45 446.20)" >Day 17</text>
<text x="451.84" y="446.20" font-size="6.6" font-weight="bold" text-anchor="end" textLength="21.50" lengthAdjust="spacingAndGlyphs" fill="#111" transform="rotate(-90 451.84 446.20)" >Day 18</text>
<text x="461.23" y="446.20" font-size="6.6" font-weight="bold" text-anchor="end" textLength="21.50" lengthAdjust="spacingAndGlyphs" fill="#111" transform="rotate(-90 461.23 446.20)" >Day 19</text>
<text x="470.62" y="446.20" font-size="6.6" font-weight="bold" text-anchor="end" textLength="21.50" lengthAdjust="spacingAndGlyphs" fill="#111" transform="rotate(-90 470.62 446.20)" >Day 20</text>
<text x="480.01" y="446.20" font-size="6.6" font-weight="bold" text-anchor="end" textLength="21.50" lengthAdjust="spacingAndGlyphs" fill="#111" transform="rotate(-90 480.01 446.20)" >Day 21</text>
<text x="489.40" y="446.20" font-size="6.6" font-weight="bold" text-anchor="end" textLength="21.50" lengthAdjust="spacingAndGlyphs" fill="#111" transform="rotate(-90 489.40 446.20)" >Day 26</text>
<text x="498.79" y="446.20" font-size="6.6" font-weight="bold" text-anchor="end" textLength="21.50" lengthAdjust="spacingAndGlyphs" fill="#111" transform="rotate(-90 498.79 446.20)" >Day 31</text>
<polyline points="299.30,441.60 308.69,441.60 318.08,441.60 327.47,421.35 336.86,421.35 346.25,405.77 355.64,405.77 365.03,401.87 374.42,397.51 383.81,397.51 393.20,397.51 402.59,397.51 411.98,397.51 421.37,397.51 430.76,393.61 440.15,393.61 449.54,389.72 458.93,389.72 468.32,389.72 477.71,385.98 487.10,385.98 496.49,373.83" fill="none" stroke="#111" stroke-width="1.3" />
<polyline points="299.30,441.60 308.69,441.60 318.08,441.60 327.47,441.60 336.86,429.14 346.25,425.24 355.64,425.24 365.03,421.35 374.42,421.35 383.81,421.35 393.20,421.35 402.59,421.35 411.98,421.35 421.37,421.35 430.76,421.35 440.15,421.35 449.54,421.35 458.93,421.35 468.32,421.35 477.71,421.35 487.10,421.35 496.49,421.35" fill="none" stroke="#111" stroke-width="1.3" stroke-dasharray="3 2" />
<polyline points="327.47,436.93 336.86,433.03 346.25,433.03 355.64,433.03 365.03,433.03 374.42,413.24 383.81,409.66 393.20,409.66 402.59,409.66 411.98,409.66 421.37,405.77 430.76,389.72 440.15,378.35 449.54,354.66 458.93,354.98 468.32,347.19" fill="none" stroke="#111" stroke-width="1.0" stroke-dasharray="1.2 1.2" />
<path d="M299.30,439.80 L301.10,441.60 L299.30,443.40 L297.50,441.60Z" fill="#000"/>
<path d="M308.69,439.80 L310.49,441.60 L308.69,443.40 L306.89,441.60Z" fill="#000"/>
<path d="M318.08,439.80 L319.88,441.60 L318.08,443.40 L316.28,441.60Z" fill="#000"/>
<path d="M327.47,419.55 L329.27,421.35 L327.47,423.15 L325.67,421.35Z" fill="#000"/>
<path d="M336.86,419.55 L338.66,421.35 L336.86,423.15 L335.06,421.35Z" fill="#000"/>
<path d="M346.25,403.97 L348.05,405.77 L346.25,407.57 L344.45,405.77Z" fill="#000"/>
<path d="M355.64,403.97 L357.44,405.77 L355.64,407.57 L353.84,405.77Z" fill="#000"/>
<path d="M365.03,400.07 L366.83,401.87 L365.03,403.67 L363.23,401.87Z" fill="#000"/>
<path d="M374.42,395.71 L376.22,397.51 L374.42,399.31 L372.62,397.51Z" fill="#000"/>
<path d="M383.81,395.71 L385.61,397.51 L383.81,399.31 L382.01,397.51Z" fill="#000"/>
<path d="M393.20,395.71 L395.00,397.51 L393.20,399.31 L391.40,397.51Z" fill="#000"/>
<path d="M402.59,395.71 L404.39,397.51 L402.59,399.31 L400.79,397.51Z" fill="#000"/>
<path d="M411.98,395.71 L413.78,397.51 L411.98,399.31 L410.18,397.51Z" fill="#000"/>
<path d="M421.37,395.71 L423.17,397.51 L421.37,399.31 L419.57,397.51Z" fill="#000"/>
<path d="M430.76,391.81 L432.56,393.61 L430.76,395.41 L428.96,393.61Z" fill="#000"/>
<path d="M440.15,391.81 L441.95,393.61 L440.15,395.41 L438.35,393.61Z" fill="#000"/>
<path d="M449.54,387.92 L451.34,389.72 L449.54,391.52 L447.74,389.72Z" fill="#000"/>
<path d="M458.93,387.92 L460.73,389.72 L458.93,391.52 L457.13,389.72Z" fill="#000"/>
<path d="M468.32,387.92 L470.12,389.72 L468.32,391.52 L466.52,389.72Z" fill="#000"/>
<path d="M477.71,384.18 L479.51,385.98 L477.71,387.78 L475.91,385.98Z" fill="#000"/>
<path d="M487.10,384.18 L488.90,385.98 L487.10,387.78 L485.30,385.98Z" fill="#000"/>
<path d="M496.49,372.03 L498.29,373.83 L496.49,375.63 L494.69,373.83Z" fill="#000"/>
<rect x="297.30" y="439.60" width="4.00" height="4.00" fill="#000" stroke="none" stroke-width="1" />
<rect x="306.69" y="439.60" width="4.00" height="4.00" fill="#000" stroke="none" stroke-width="1" />
<rect x="316.08" y="439.60" width="4.00" height="4.00" fill="#000" stroke="none" stroke-width="1" />
<rect x="325.47" y="439.60" width="4.00" height="4.00" fill="#000" stroke="none" stroke-width="1" />
<rect x="334.86" y="427.14" width="4.00" height="4.00" fill="#000" stroke="none" stroke-width="1" />
<rect x="344.25" y="423.24" width="4.00" height="4.00" fill="#000" stroke="none" stroke-width="1" />
<rect x="353.64" y="423.24" width="4.00" height="4.00" fill="#000" stroke="none" stroke-width="1" />
<rect x="363.03" y="419.35" width="4.00" height="4.00" fill="#000" stroke="none" stroke-width="1" />
<rect x="372.42" y="419.35" width="4.00" height="4.00" fill="#000" stroke="none" stroke-width="1" />
<rect x="381.81" y="419.35" width="4.00" height="4.00" fill="#000" stroke="none" stroke-width="1" />
<rect x="391.20" y="419.35" width="4.00" height="4.00" fill="#000" stroke="none" stroke-width="1" />
<rect x="400.59" y="419.35" width="4.00" height="4.00" fill="#000" stroke="none" stroke-width="1" />
<rect x="409.98" y="419.35" width="4.00" height="4.00" fill="#000" stroke="none" stroke-width="1" />
<rect x="419.37" y="419.35" width="4.00" height="4.00" fill="#000" stroke="none" stroke-width="1" />
<rect x="428.76" y="419.35" width="4.00" height="4.00" fill="#000" stroke="none" stroke-width="1" />
<rect x="438.15" y="419.35" width="4.00" height="4.00" fill="#000" stroke="none" stroke-width="1" />
<rect x="447.54" y="419.35" width="4.00" height="4.00" fill="#000" stroke="none" stroke-width="1" />
<rect x="456.93" y="419.35" width="4.00" height="4.00" fill="#000" stroke="none" stroke-width="1" />
<rect x="466.32" y="419.35" width="4.00" height="4.00" fill="#000" stroke="none" stroke-width="1" />
<rect x="475.71" y="419.35" width="4.00" height="4.00" fill="#000" stroke="none" stroke-width="1" />
<rect x="485.10" y="419.35" width="4.00" height="4.00" fill="#000" stroke="none" stroke-width="1" />
<rect x="494.49" y="419.35" width="4.00" height="4.00" fill="#000" stroke="none" stroke-width="1" />
<path d="M327.47,434.73 L329.47,438.43 L325.47,438.43Z" fill="#000"/>
<path d="M336.86,430.83 L338.86,434.53 L334.86,434.53Z" fill="#000"/>
<path d="M346.25,430.83 L348.25,434.53 L344.25,434.53Z" fill="#000"/>
<path d="M355.64,430.83 L357.64,434.53 L353.64,434.53Z" fill="#000"/>
<path d="M365.03,430.83 L367.03,434.53 L363.03,434.53Z" fill="#000"/>
<path d="M374.42,411.04 L376.42,414.74 L372.42,414.74Z" fill="#000"/>
<path d="M383.81,407.46 L385.81,411.16 L381.81,411.16Z" fill="#000"/>
<path d="M393.20,407.46 L395.20,411.16 L391.20,411.16Z" fill="#000"/>
<path d="M402.59,407.46 L404.59,411.16 L400.59,411.16Z" fill="#000"/>
<path d="M411.98,407.46 L413.98,411.16 L409.98,411.16Z" fill="#000"/>
<path d="M421.37,403.57 L423.37,407.27 L419.37,407.27Z" fill="#000"/>
<path d="M430.76,387.52 L432.76,391.22 L428.76,391.22Z" fill="#000"/>
<path d="M440.15,376.15 L442.15,379.85 L438.15,379.85Z" fill="#000"/>
<path d="M449.54,352.46 L451.54,356.16 L447.54,356.16Z" fill="#000"/>
<path d="M458.93,352.78 L460.93,356.48 L456.93,356.48Z" fill="#000"/>
<path d="M468.32,344.99 L470.32,348.69 L466.32,348.69Z" fill="#000"/>
<line x1="294.30" y1="363.20" x2="308.80" y2="363.20" stroke="#111" stroke-width="1.3" />
<path d="M301.5,361.4 L303.3,363.2 L301.5,365 L299.7,363.2Z" fill="#000"/>
<text x="310.50" y="365.72" font-size="7" font-weight="bold" textLength="39.20" lengthAdjust="spacingAndGlyphs" fill="#111" >Treg + PBMC</text>
<line x1="294.30" y1="377.20" x2="308.80" y2="377.20" stroke="#111" stroke-width="1.3" stroke-dasharray="3 1.5"/>
<rect x="299.50" y="375.20" width="4.00" height="4.00" fill="#000" stroke="none" stroke-width="1" />
<text x="310.50" y="379.72" font-size="7" font-weight="bold" textLength="46.80" lengthAdjust="spacingAndGlyphs" fill="#111" >FT-Treg+ PBMC</text>
<line x1="294.30" y1="390.40" x2="308.80" y2="390.40" stroke="#111" stroke-width="1" stroke-dasharray="1.2 1.2"/>
<path d="M301.5,388.2 L303.5,391.9 L299.5,391.9Z" fill="#000"/>
<text x="310.50" y="392.92" font-size="7" font-weight="bold" textLength="36.50" lengthAdjust="spacingAndGlyphs" fill="#111" >PBMC alone</text>
<text x="279.80" y="387.30" font-size="6.4" font-weight="bold" text-anchor="middle" textLength="40.00" lengthAdjust="spacingAndGlyphs" fill="#111" transform="rotate(-90 279.80 387.30)" >GVHD SCORE</text>
<text x="222.20" y="489.70" font-size="13.2" font-weight="bold" >F</text>
<rect x="260.40" y="489.20" width="148.20" height="146.20" fill="none" stroke="#444" stroke-width="1" />
<line x1="256.60" y1="496.80" x2="260.40" y2="496.80" stroke="#444" stroke-width="0.9" />
<text x="256.20" y="498.90" font-size="6.0" font-weight="bold" text-anchor="end" fill="#222" >1.0</text>
<line x1="256.60" y1="523.28" x2="260.40" y2="523.28" stroke="#444" stroke-width="0.9" />
<text x="256.20" y="525.38" font-size="6.0" font-weight="bold" text-anchor="end" fill="#222" >0.8</text>
<line x1="256.60" y1="549.76" x2="260.40" y2="549.76" stroke="#444" stroke-width="0.9" />
<text x="256.20" y="551.86" font-size="6.0" font-weight="bold" text-anchor="end" fill="#222" >0.6</text>
<line x1="256.60" y1="576.24" x2="260.40" y2="576.24" stroke="#444" stroke-width="0.9" />
<text x="256.20" y="578.34" font-size="6.0" font-weight="bold" text-anchor="end" fill="#222" >0.4</text>
<line x1="256.60" y1="602.72" x2="260.40" y2="602.72" stroke="#444" stroke-width="0.9" />
<text x="256.20" y="604.82" font-size="6.0" font-weight="bold" text-anchor="end" fill="#222" >0.2</text>
<line x1="256.60" y1="629.20" x2="260.40" y2="629.20" stroke="#444" stroke-width="0.9" />
<text x="256.20" y="631.30" font-size="6.0" font-weight="bold" text-anchor="end" fill="#222" >0.0</text>
<line x1="267.70" y1="635.30" x2="267.70" y2="639.00" stroke="#444" stroke-width="0.9" />
<text x="267.70" y="646.20" font-size="6.5" font-weight="bold" text-anchor="middle" fill="#222" >0</text>
<line x1="294.22" y1="635.30" x2="294.22" y2="639.00" stroke="#444" stroke-width="0.9" />
<text x="294.22" y="646.20" font-size="6.5" font-weight="bold" text-anchor="middle" fill="#222" >10</text>
<line x1="320.74" y1="635.30" x2="320.74" y2="639.00" stroke="#444" stroke-width="0.9" />
<text x="320.74" y="646.20" font-size="6.5" font-weight="bold" text-anchor="middle" fill="#222" >20</text>
<line x1="347.26" y1="635.30" x2="347.26" y2="639.00" stroke="#444" stroke-width="0.9" />
<text x="347.26" y="646.20" font-size="6.5" font-weight="bold" text-anchor="middle" fill="#222" >30</text>
<line x1="373.78" y1="635.30" x2="373.78" y2="639.00" stroke="#444" stroke-width="0.9" />
<text x="373.78" y="646.20" font-size="6.5" font-weight="bold" text-anchor="middle" fill="#222" >40</text>
<line x1="400.30" y1="635.30" x2="400.30" y2="639.00" stroke="#444" stroke-width="0.9" />
<text x="400.30" y="646.20" font-size="6.5" font-weight="bold" text-anchor="middle" fill="#222" >50</text>
<text x="290.90" y="655.73" font-size="6.2" font-weight="bold" textLength="60.60" lengthAdjust="spacingAndGlyphs" fill="#222" >Days from Transplant</text>
<text x="244.20" y="562.60" font-size="5.6" font-weight="bold" text-anchor="middle" textLength="36.40" lengthAdjust="spacingAndGlyphs" fill="#222" transform="rotate(-90 244.20 562.60)" >Cum Survival</text>
<polyline points="267.70,496.80 302.18,496.80 302.18,525.93 310.13,525.93 310.13,555.06 313.58,555.06 313.58,570.94 321.27,570.94 321.27,600.07 323.92,600.07 323.92,629.20 323.92,629.20 323.92,630.52" fill="none" stroke="#777" stroke-width="1.1" stroke-dasharray="1 0.9" />
<polyline points="267.70,496.80 309.60,496.80 309.60,507.39 315.17,507.39 315.17,540.49 320.74,540.49 320.74,573.59 323.13,573.59 323.13,596.10 333.73,596.10 333.73,606.69 358.40,606.69 358.40,629.20" fill="none" stroke="#222" stroke-width="1.4" />
<polyline points="309.60,496.80 328.70,496.80 328.75,496.80 328.75,510.04 336.12,510.04 336.12,536.52 399.77,536.52 399.77,536.52" fill="none" stroke="#222" stroke-width="1.1" stroke-dasharray="1.2 1.1" />
<line x1="399.77" y1="535.02" x2="399.77" y2="538.02" stroke="#222" stroke-width="0.8" />
<text x="359.50" y="501.03" font-size="6.2" font-weight="bold" textLength="40.00" lengthAdjust="spacingAndGlyphs" fill="#222" >Log Rank Test</text>
<text x="359.50" y="507.73" font-size="6.2" font-weight="bold" textLength="25.00" lengthAdjust="spacingAndGlyphs" fill="#222" >p&lt;0.0001</text>
<text x="341.80" y="533.03" font-size="6.2" font-weight="bold" textLength="45.20" lengthAdjust="spacingAndGlyphs" fill="#222" >FT-Treg + PBMC</text>
<text x="338.60" y="595.83" font-size="6.2" font-weight="bold" textLength="42.60" lengthAdjust="spacingAndGlyphs" fill="#222" >T-Treg + PBMC</text>
<text x="282.60" y="610.73" font-size="6.2" font-weight="bold" textLength="34.20" lengthAdjust="spacingAndGlyphs" fill="#222" >PBMC alone</text>
</svg></body></html>
